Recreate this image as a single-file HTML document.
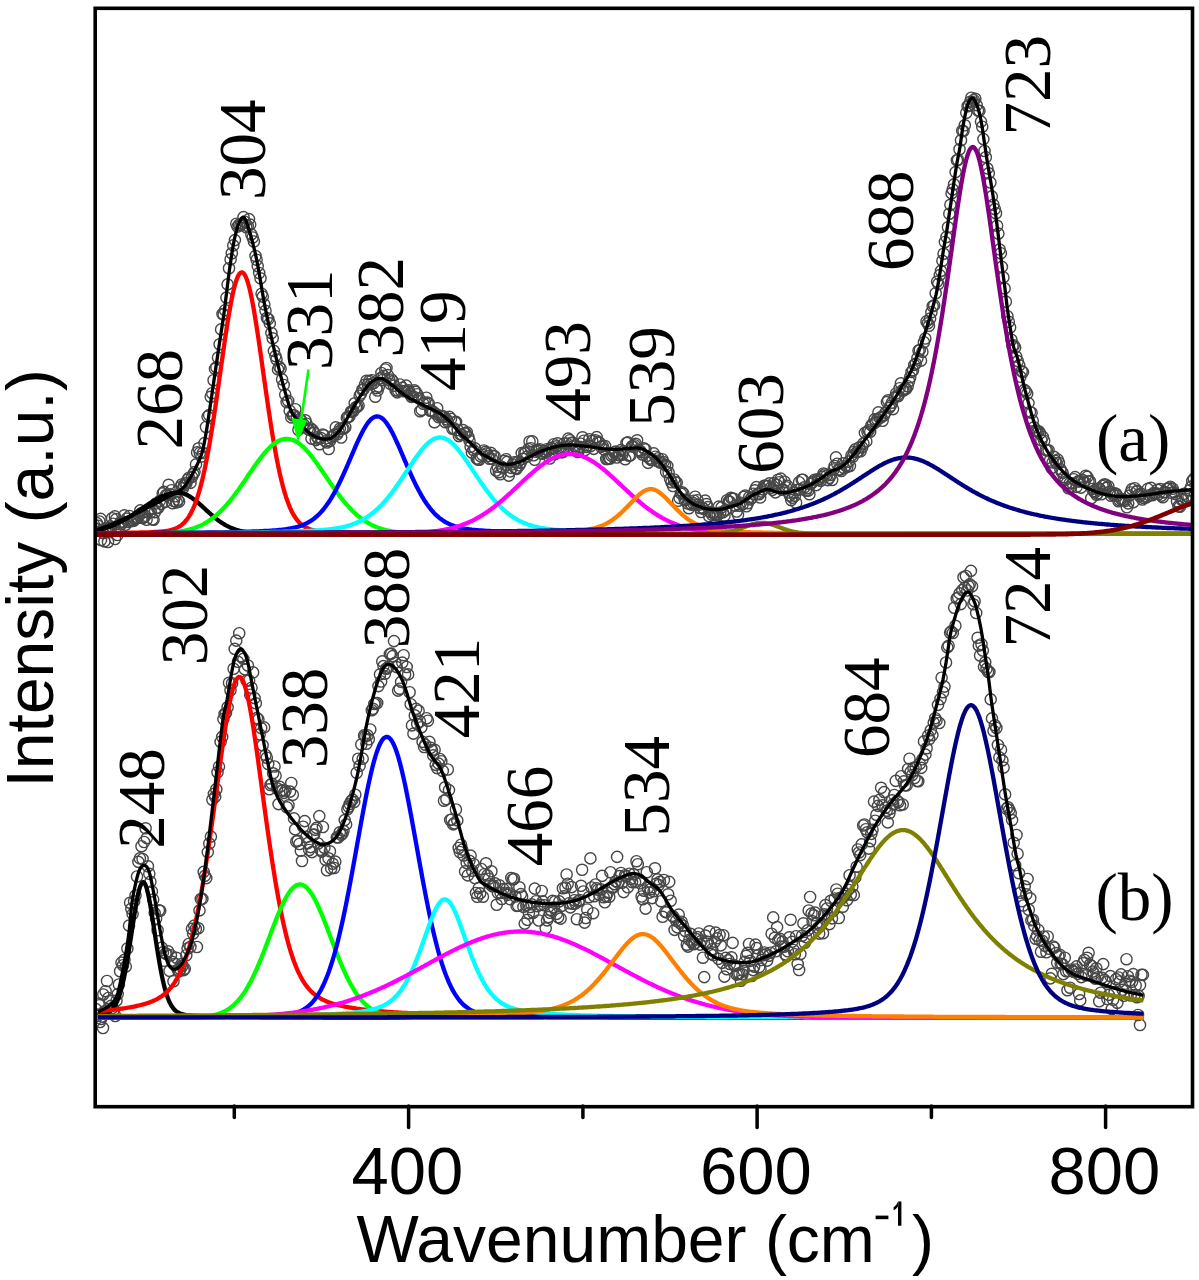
<!DOCTYPE html>
<html><head><meta charset="utf-8"><style>
html,body{margin:0;padding:0;background:#fff;}
svg{display:block;}
</style></head><body>
<svg width="1199" height="1280" viewBox="0 0 1199 1280">
<rect width="1199" height="1280" fill="#fff"/>
<defs><clipPath id="cp"><rect x="96" y="9" width="1095" height="1097"/></clipPath></defs>
<g clip-path="url(#cp)">
<g fill="none" stroke="#464646" stroke-width="1.4">
<circle cx="94.0" cy="524.8" r="5.6"/><circle cx="95.6" cy="529.0" r="5.6"/><circle cx="96.9" cy="523.1" r="5.6"/><circle cx="98.1" cy="525.7" r="5.6"/><circle cx="99.4" cy="521.5" r="5.6"/><circle cx="100.6" cy="518.9" r="5.6"/><circle cx="101.8" cy="530.2" r="5.6"/><circle cx="103.3" cy="533.0" r="5.6"/><circle cx="104.4" cy="541.4" r="5.6"/><circle cx="105.8" cy="532.4" r="5.6"/><circle cx="107.2" cy="529.4" r="5.6"/><circle cx="108.6" cy="527.9" r="5.6"/><circle cx="109.7" cy="527.5" r="5.6"/><circle cx="110.8" cy="529.0" r="5.6"/><circle cx="112.1" cy="518.2" r="5.6"/><circle cx="113.5" cy="523.7" r="5.6"/><circle cx="114.9" cy="516.4" r="5.6"/><circle cx="116.2" cy="519.1" r="5.6"/><circle cx="117.5" cy="535.0" r="5.6"/><circle cx="119.0" cy="527.4" r="5.6"/><circle cx="120.5" cy="522.3" r="5.6"/><circle cx="121.7" cy="523.7" r="5.6"/><circle cx="122.8" cy="521.7" r="5.6"/><circle cx="124.4" cy="515.3" r="5.6"/><circle cx="125.6" cy="524.8" r="5.6"/><circle cx="126.7" cy="518.6" r="5.6"/><circle cx="127.9" cy="521.9" r="5.6"/><circle cx="129.5" cy="516.0" r="5.6"/><circle cx="130.8" cy="521.3" r="5.6"/><circle cx="132.3" cy="520.7" r="5.6"/><circle cx="133.6" cy="520.8" r="5.6"/><circle cx="135.2" cy="519.1" r="5.6"/><circle cx="136.6" cy="518.3" r="5.6"/><circle cx="137.8" cy="517.5" r="5.6"/><circle cx="138.9" cy="515.4" r="5.6"/><circle cx="140.3" cy="510.4" r="5.6"/><circle cx="141.6" cy="513.0" r="5.6"/><circle cx="142.7" cy="518.1" r="5.6"/><circle cx="144.2" cy="517.0" r="5.6"/><circle cx="145.4" cy="515.8" r="5.6"/><circle cx="146.6" cy="519.8" r="5.6"/><circle cx="147.8" cy="512.0" r="5.6"/><circle cx="149.4" cy="510.1" r="5.6"/><circle cx="150.9" cy="512.1" r="5.6"/><circle cx="152.4" cy="519.3" r="5.6"/><circle cx="153.6" cy="519.7" r="5.6"/><circle cx="154.8" cy="512.2" r="5.6"/><circle cx="156.0" cy="503.5" r="5.6"/><circle cx="157.1" cy="507.9" r="5.6"/><circle cx="158.3" cy="507.9" r="5.6"/><circle cx="159.8" cy="500.9" r="5.6"/><circle cx="161.3" cy="503.9" r="5.6"/><circle cx="162.7" cy="493.4" r="5.6"/><circle cx="163.9" cy="491.9" r="5.6"/><circle cx="165.0" cy="501.9" r="5.6"/><circle cx="166.2" cy="495.0" r="5.6"/><circle cx="167.4" cy="495.1" r="5.6"/><circle cx="168.6" cy="484.8" r="5.6"/><circle cx="170.2" cy="494.3" r="5.6"/><circle cx="171.5" cy="490.2" r="5.6"/><circle cx="172.7" cy="503.2" r="5.6"/><circle cx="173.9" cy="501.0" r="5.6"/><circle cx="175.3" cy="496.3" r="5.6"/><circle cx="176.7" cy="502.4" r="5.6"/><circle cx="178.0" cy="499.9" r="5.6"/><circle cx="179.1" cy="501.6" r="5.6"/><circle cx="180.3" cy="487.3" r="5.6"/><circle cx="181.7" cy="484.5" r="5.6"/><circle cx="182.9" cy="488.4" r="5.6"/><circle cx="184.0" cy="485.5" r="5.6"/><circle cx="185.2" cy="483.2" r="5.6"/><circle cx="186.4" cy="483.3" r="5.6"/><circle cx="187.7" cy="479.5" r="5.6"/><circle cx="189.0" cy="477.7" r="5.6"/><circle cx="190.5" cy="482.9" r="5.6"/><circle cx="192.0" cy="476.9" r="5.6"/><circle cx="193.4" cy="474.1" r="5.6"/><circle cx="194.5" cy="472.1" r="5.6"/><circle cx="196.0" cy="464.4" r="5.6"/><circle cx="197.1" cy="452.4" r="5.6"/><circle cx="198.6" cy="448.3" r="5.6"/><circle cx="199.8" cy="453.0" r="5.6"/><circle cx="201.4" cy="456.6" r="5.6"/><circle cx="202.9" cy="453.0" r="5.6"/><circle cx="204.5" cy="443.1" r="5.6"/><circle cx="206.0" cy="427.0" r="5.6"/><circle cx="207.6" cy="416.6" r="5.6"/><circle cx="209.1" cy="415.1" r="5.6"/><circle cx="210.7" cy="396.8" r="5.6"/><circle cx="212.2" cy="393.2" r="5.6"/><circle cx="213.6" cy="380.2" r="5.6"/><circle cx="215.0" cy="368.9" r="5.6"/><circle cx="216.4" cy="367.2" r="5.6"/><circle cx="218.0" cy="357.6" r="5.6"/><circle cx="219.6" cy="344.3" r="5.6"/><circle cx="221.1" cy="329.4" r="5.6"/><circle cx="222.5" cy="314.0" r="5.6"/><circle cx="223.6" cy="314.4" r="5.6"/><circle cx="225.1" cy="310.2" r="5.6"/><circle cx="226.4" cy="297.6" r="5.6"/><circle cx="227.6" cy="284.4" r="5.6"/><circle cx="229.0" cy="268.2" r="5.6"/><circle cx="230.6" cy="259.4" r="5.6"/><circle cx="231.8" cy="253.3" r="5.6"/><circle cx="233.3" cy="245.4" r="5.6"/><circle cx="234.9" cy="240.1" r="5.6"/><circle cx="236.3" cy="223.7" r="5.6"/><circle cx="237.5" cy="226.6" r="5.6"/><circle cx="239.0" cy="224.6" r="5.6"/><circle cx="240.5" cy="225.3" r="5.6"/><circle cx="242.1" cy="223.6" r="5.6"/><circle cx="243.5" cy="217.1" r="5.6"/><circle cx="244.7" cy="221.7" r="5.6"/><circle cx="246.3" cy="227.2" r="5.6"/><circle cx="247.8" cy="226.1" r="5.6"/><circle cx="249.0" cy="219.1" r="5.6"/><circle cx="250.2" cy="224.6" r="5.6"/><circle cx="251.4" cy="234.4" r="5.6"/><circle cx="252.7" cy="237.5" r="5.6"/><circle cx="253.9" cy="241.5" r="5.6"/><circle cx="255.5" cy="256.0" r="5.6"/><circle cx="256.6" cy="259.7" r="5.6"/><circle cx="257.7" cy="266.1" r="5.6"/><circle cx="259.2" cy="273.0" r="5.6"/><circle cx="260.5" cy="278.3" r="5.6"/><circle cx="261.6" cy="293.7" r="5.6"/><circle cx="262.8" cy="296.6" r="5.6"/><circle cx="264.3" cy="304.4" r="5.6"/><circle cx="265.5" cy="310.8" r="5.6"/><circle cx="266.9" cy="318.0" r="5.6"/><circle cx="268.3" cy="319.0" r="5.6"/><circle cx="269.8" cy="323.4" r="5.6"/><circle cx="271.4" cy="333.0" r="5.6"/><circle cx="272.7" cy="338.3" r="5.6"/><circle cx="273.9" cy="350.9" r="5.6"/><circle cx="275.4" cy="356.1" r="5.6"/><circle cx="276.5" cy="359.5" r="5.6"/><circle cx="278.0" cy="369.4" r="5.6"/><circle cx="279.3" cy="366.9" r="5.6"/><circle cx="280.6" cy="368.8" r="5.6"/><circle cx="282.1" cy="379.4" r="5.6"/><circle cx="283.7" cy="385.0" r="5.6"/><circle cx="285.2" cy="394.6" r="5.6"/><circle cx="286.6" cy="402.1" r="5.6"/><circle cx="288.2" cy="400.9" r="5.6"/><circle cx="289.7" cy="410.7" r="5.6"/><circle cx="291.3" cy="417.4" r="5.6"/><circle cx="292.7" cy="415.3" r="5.6"/><circle cx="293.9" cy="415.0" r="5.6"/><circle cx="295.3" cy="409.2" r="5.6"/><circle cx="296.8" cy="417.5" r="5.6"/><circle cx="298.4" cy="429.7" r="5.6"/><circle cx="300.0" cy="419.5" r="5.6"/><circle cx="301.2" cy="420.8" r="5.6"/><circle cx="302.8" cy="427.1" r="5.6"/><circle cx="303.9" cy="424.7" r="5.6"/><circle cx="305.3" cy="420.3" r="5.6"/><circle cx="306.6" cy="423.7" r="5.6"/><circle cx="307.7" cy="428.7" r="5.6"/><circle cx="309.2" cy="429.9" r="5.6"/><circle cx="310.4" cy="428.2" r="5.6"/><circle cx="311.5" cy="438.6" r="5.6"/><circle cx="312.7" cy="430.1" r="5.6"/><circle cx="314.2" cy="432.8" r="5.6"/><circle cx="315.7" cy="440.1" r="5.6"/><circle cx="317.3" cy="437.4" r="5.6"/><circle cx="318.4" cy="438.9" r="5.6"/><circle cx="319.6" cy="444.2" r="5.6"/><circle cx="321.1" cy="438.1" r="5.6"/><circle cx="322.6" cy="434.5" r="5.6"/><circle cx="324.0" cy="435.3" r="5.6"/><circle cx="325.6" cy="441.4" r="5.6"/><circle cx="327.1" cy="442.5" r="5.6"/><circle cx="328.7" cy="449.0" r="5.6"/><circle cx="330.1" cy="440.7" r="5.6"/><circle cx="331.5" cy="437.5" r="5.6"/><circle cx="332.8" cy="436.0" r="5.6"/><circle cx="334.4" cy="434.6" r="5.6"/><circle cx="335.8" cy="427.4" r="5.6"/><circle cx="337.2" cy="434.4" r="5.6"/><circle cx="338.5" cy="431.8" r="5.6"/><circle cx="339.9" cy="428.6" r="5.6"/><circle cx="341.2" cy="437.5" r="5.6"/><circle cx="342.4" cy="428.4" r="5.6"/><circle cx="343.7" cy="428.6" r="5.6"/><circle cx="345.3" cy="427.3" r="5.6"/><circle cx="346.8" cy="417.8" r="5.6"/><circle cx="348.0" cy="416.8" r="5.6"/><circle cx="349.4" cy="416.5" r="5.6"/><circle cx="350.9" cy="411.8" r="5.6"/><circle cx="352.0" cy="411.1" r="5.6"/><circle cx="353.5" cy="411.1" r="5.6"/><circle cx="354.7" cy="403.3" r="5.6"/><circle cx="355.9" cy="407.3" r="5.6"/><circle cx="357.3" cy="406.7" r="5.6"/><circle cx="358.6" cy="405.6" r="5.6"/><circle cx="359.7" cy="395.7" r="5.6"/><circle cx="361.0" cy="393.5" r="5.6"/><circle cx="362.3" cy="389.8" r="5.6"/><circle cx="363.5" cy="389.2" r="5.6"/><circle cx="364.9" cy="384.7" r="5.6"/><circle cx="366.5" cy="380.8" r="5.6"/><circle cx="367.9" cy="384.4" r="5.6"/><circle cx="369.4" cy="380.8" r="5.6"/><circle cx="370.9" cy="384.2" r="5.6"/><circle cx="372.1" cy="380.2" r="5.6"/><circle cx="373.7" cy="383.0" r="5.6"/><circle cx="375.3" cy="396.7" r="5.6"/><circle cx="376.4" cy="388.1" r="5.6"/><circle cx="377.6" cy="390.5" r="5.6"/><circle cx="378.8" cy="386.7" r="5.6"/><circle cx="380.3" cy="378.4" r="5.6"/><circle cx="381.4" cy="373.0" r="5.6"/><circle cx="382.5" cy="380.0" r="5.6"/><circle cx="383.7" cy="375.9" r="5.6"/><circle cx="385.3" cy="369.5" r="5.6"/><circle cx="386.5" cy="368.0" r="5.6"/><circle cx="387.8" cy="375.1" r="5.6"/><circle cx="389.3" cy="380.2" r="5.6"/><circle cx="390.4" cy="383.9" r="5.6"/><circle cx="391.5" cy="379.5" r="5.6"/><circle cx="392.9" cy="381.4" r="5.6"/><circle cx="394.0" cy="385.7" r="5.6"/><circle cx="395.6" cy="390.3" r="5.6"/><circle cx="397.2" cy="392.4" r="5.6"/><circle cx="398.3" cy="390.9" r="5.6"/><circle cx="399.9" cy="384.5" r="5.6"/><circle cx="401.2" cy="390.8" r="5.6"/><circle cx="402.5" cy="387.9" r="5.6"/><circle cx="403.9" cy="391.2" r="5.6"/><circle cx="405.0" cy="391.0" r="5.6"/><circle cx="406.2" cy="385.6" r="5.6"/><circle cx="407.5" cy="391.4" r="5.6"/><circle cx="408.7" cy="390.3" r="5.6"/><circle cx="409.8" cy="393.8" r="5.6"/><circle cx="411.4" cy="396.9" r="5.6"/><circle cx="412.9" cy="396.3" r="5.6"/><circle cx="414.3" cy="390.3" r="5.6"/><circle cx="415.6" cy="391.8" r="5.6"/><circle cx="417.2" cy="394.2" r="5.6"/><circle cx="418.8" cy="398.3" r="5.6"/><circle cx="420.2" cy="411.2" r="5.6"/><circle cx="421.7" cy="409.9" r="5.6"/><circle cx="423.3" cy="403.7" r="5.6"/><circle cx="424.9" cy="402.5" r="5.6"/><circle cx="426.4" cy="397.7" r="5.6"/><circle cx="427.6" cy="402.5" r="5.6"/><circle cx="428.9" cy="403.8" r="5.6"/><circle cx="430.2" cy="410.7" r="5.6"/><circle cx="431.7" cy="410.6" r="5.6"/><circle cx="433.1" cy="411.7" r="5.6"/><circle cx="434.5" cy="422.2" r="5.6"/><circle cx="435.8" cy="413.8" r="5.6"/><circle cx="437.2" cy="408.2" r="5.6"/><circle cx="438.4" cy="417.1" r="5.6"/><circle cx="439.9" cy="415.7" r="5.6"/><circle cx="441.4" cy="416.5" r="5.6"/><circle cx="442.8" cy="416.3" r="5.6"/><circle cx="444.3" cy="416.8" r="5.6"/><circle cx="445.4" cy="422.2" r="5.6"/><circle cx="446.6" cy="419.4" r="5.6"/><circle cx="447.8" cy="421.5" r="5.6"/><circle cx="449.4" cy="416.9" r="5.6"/><circle cx="451.0" cy="419.0" r="5.6"/><circle cx="452.4" cy="428.8" r="5.6"/><circle cx="453.9" cy="428.2" r="5.6"/><circle cx="455.0" cy="422.3" r="5.6"/><circle cx="456.1" cy="421.9" r="5.6"/><circle cx="457.7" cy="430.0" r="5.6"/><circle cx="458.9" cy="436.1" r="5.6"/><circle cx="460.2" cy="434.4" r="5.6"/><circle cx="461.8" cy="434.6" r="5.6"/><circle cx="463.1" cy="430.1" r="5.6"/><circle cx="464.4" cy="433.3" r="5.6"/><circle cx="465.6" cy="433.3" r="5.6"/><circle cx="466.8" cy="432.2" r="5.6"/><circle cx="468.3" cy="437.0" r="5.6"/><circle cx="469.5" cy="440.8" r="5.6"/><circle cx="470.6" cy="446.7" r="5.6"/><circle cx="471.9" cy="452.5" r="5.6"/><circle cx="473.5" cy="450.1" r="5.6"/><circle cx="475.1" cy="448.4" r="5.6"/><circle cx="476.7" cy="458.5" r="5.6"/><circle cx="478.0" cy="459.6" r="5.6"/><circle cx="479.3" cy="459.7" r="5.6"/><circle cx="480.7" cy="456.3" r="5.6"/><circle cx="482.3" cy="454.9" r="5.6"/><circle cx="483.9" cy="450.5" r="5.6"/><circle cx="485.4" cy="451.9" r="5.6"/><circle cx="486.8" cy="453.3" r="5.6"/><circle cx="488.2" cy="456.1" r="5.6"/><circle cx="489.5" cy="458.8" r="5.6"/><circle cx="490.7" cy="452.8" r="5.6"/><circle cx="492.0" cy="458.8" r="5.6"/><circle cx="493.2" cy="455.7" r="5.6"/><circle cx="494.7" cy="456.4" r="5.6"/><circle cx="496.1" cy="470.5" r="5.6"/><circle cx="497.6" cy="466.7" r="5.6"/><circle cx="498.8" cy="472.2" r="5.6"/><circle cx="500.3" cy="474.3" r="5.6"/><circle cx="501.7" cy="466.9" r="5.6"/><circle cx="503.1" cy="468.4" r="5.6"/><circle cx="504.5" cy="461.0" r="5.6"/><circle cx="506.0" cy="459.2" r="5.6"/><circle cx="507.2" cy="461.9" r="5.6"/><circle cx="508.8" cy="475.6" r="5.6"/><circle cx="510.3" cy="471.4" r="5.6"/><circle cx="511.5" cy="468.0" r="5.6"/><circle cx="512.9" cy="464.3" r="5.6"/><circle cx="514.2" cy="462.3" r="5.6"/><circle cx="515.4" cy="468.4" r="5.6"/><circle cx="516.7" cy="468.9" r="5.6"/><circle cx="518.1" cy="461.8" r="5.6"/><circle cx="519.3" cy="465.3" r="5.6"/><circle cx="520.6" cy="462.9" r="5.6"/><circle cx="521.7" cy="453.1" r="5.6"/><circle cx="522.9" cy="458.8" r="5.6"/><circle cx="524.4" cy="453.0" r="5.6"/><circle cx="525.6" cy="452.6" r="5.6"/><circle cx="527.1" cy="456.6" r="5.6"/><circle cx="528.4" cy="449.0" r="5.6"/><circle cx="529.6" cy="441.5" r="5.6"/><circle cx="531.0" cy="448.2" r="5.6"/><circle cx="532.3" cy="441.4" r="5.6"/><circle cx="533.6" cy="455.3" r="5.6"/><circle cx="534.7" cy="459.8" r="5.6"/><circle cx="535.8" cy="451.7" r="5.6"/><circle cx="537.3" cy="449.9" r="5.6"/><circle cx="538.5" cy="451.1" r="5.6"/><circle cx="539.7" cy="449.4" r="5.6"/><circle cx="541.2" cy="453.4" r="5.6"/><circle cx="542.6" cy="453.6" r="5.6"/><circle cx="544.1" cy="451.1" r="5.6"/><circle cx="545.4" cy="452.7" r="5.6"/><circle cx="546.8" cy="449.2" r="5.6"/><circle cx="548.3" cy="450.5" r="5.6"/><circle cx="549.7" cy="458.5" r="5.6"/><circle cx="551.2" cy="447.8" r="5.6"/><circle cx="552.6" cy="448.7" r="5.6"/><circle cx="553.8" cy="444.2" r="5.6"/><circle cx="555.1" cy="454.1" r="5.6"/><circle cx="556.3" cy="446.4" r="5.6"/><circle cx="557.6" cy="443.3" r="5.6"/><circle cx="558.9" cy="447.7" r="5.6"/><circle cx="560.2" cy="448.6" r="5.6"/><circle cx="561.7" cy="452.4" r="5.6"/><circle cx="563.1" cy="451.8" r="5.6"/><circle cx="564.2" cy="443.5" r="5.6"/><circle cx="565.7" cy="447.0" r="5.6"/><circle cx="566.8" cy="443.5" r="5.6"/><circle cx="568.2" cy="438.6" r="5.6"/><circle cx="569.8" cy="440.2" r="5.6"/><circle cx="571.2" cy="443.2" r="5.6"/><circle cx="572.6" cy="442.6" r="5.6"/><circle cx="574.1" cy="445.6" r="5.6"/><circle cx="575.6" cy="446.5" r="5.6"/><circle cx="577.1" cy="451.6" r="5.6"/><circle cx="578.3" cy="451.9" r="5.6"/><circle cx="579.8" cy="446.9" r="5.6"/><circle cx="581.0" cy="443.7" r="5.6"/><circle cx="582.5" cy="437.3" r="5.6"/><circle cx="583.8" cy="440.7" r="5.6"/><circle cx="585.0" cy="450.1" r="5.6"/><circle cx="586.4" cy="446.9" r="5.6"/><circle cx="587.7" cy="445.5" r="5.6"/><circle cx="589.3" cy="439.2" r="5.6"/><circle cx="590.6" cy="446.1" r="5.6"/><circle cx="592.2" cy="440.8" r="5.6"/><circle cx="593.7" cy="448.9" r="5.6"/><circle cx="595.3" cy="440.2" r="5.6"/><circle cx="596.7" cy="437.1" r="5.6"/><circle cx="598.2" cy="441.6" r="5.6"/><circle cx="599.5" cy="442.8" r="5.6"/><circle cx="601.0" cy="446.9" r="5.6"/><circle cx="602.6" cy="445.9" r="5.6"/><circle cx="603.8" cy="449.3" r="5.6"/><circle cx="605.1" cy="446.0" r="5.6"/><circle cx="606.2" cy="459.0" r="5.6"/><circle cx="607.5" cy="459.0" r="5.6"/><circle cx="609.0" cy="458.4" r="5.6"/><circle cx="610.2" cy="458.5" r="5.6"/><circle cx="611.5" cy="455.8" r="5.6"/><circle cx="613.1" cy="454.7" r="5.6"/><circle cx="614.3" cy="452.5" r="5.6"/><circle cx="615.5" cy="451.6" r="5.6"/><circle cx="616.9" cy="457.5" r="5.6"/><circle cx="618.1" cy="454.8" r="5.6"/><circle cx="619.3" cy="455.4" r="5.6"/><circle cx="620.8" cy="450.1" r="5.6"/><circle cx="622.3" cy="454.8" r="5.6"/><circle cx="623.6" cy="451.1" r="5.6"/><circle cx="625.2" cy="459.2" r="5.6"/><circle cx="626.5" cy="443.0" r="5.6"/><circle cx="627.8" cy="442.4" r="5.6"/><circle cx="629.0" cy="455.7" r="5.6"/><circle cx="630.5" cy="455.3" r="5.6"/><circle cx="631.8" cy="446.4" r="5.6"/><circle cx="633.0" cy="446.2" r="5.6"/><circle cx="634.6" cy="445.2" r="5.6"/><circle cx="635.7" cy="443.8" r="5.6"/><circle cx="637.1" cy="440.3" r="5.6"/><circle cx="638.5" cy="450.0" r="5.6"/><circle cx="639.9" cy="450.7" r="5.6"/><circle cx="641.2" cy="452.1" r="5.6"/><circle cx="642.4" cy="454.5" r="5.6"/><circle cx="643.8" cy="448.4" r="5.6"/><circle cx="645.4" cy="449.3" r="5.6"/><circle cx="646.6" cy="456.1" r="5.6"/><circle cx="648.1" cy="462.9" r="5.6"/><circle cx="649.6" cy="458.5" r="5.6"/><circle cx="651.2" cy="460.0" r="5.6"/><circle cx="652.6" cy="459.9" r="5.6"/><circle cx="653.8" cy="453.4" r="5.6"/><circle cx="655.4" cy="456.7" r="5.6"/><circle cx="656.8" cy="460.7" r="5.6"/><circle cx="658.3" cy="458.2" r="5.6"/><circle cx="659.6" cy="462.2" r="5.6"/><circle cx="661.1" cy="462.7" r="5.6"/><circle cx="662.3" cy="459.2" r="5.6"/><circle cx="663.5" cy="462.1" r="5.6"/><circle cx="665.0" cy="464.9" r="5.6"/><circle cx="666.1" cy="472.0" r="5.6"/><circle cx="667.3" cy="465.9" r="5.6"/><circle cx="668.6" cy="472.4" r="5.6"/><circle cx="670.1" cy="478.9" r="5.6"/><circle cx="671.4" cy="482.3" r="5.6"/><circle cx="673.0" cy="486.0" r="5.6"/><circle cx="674.1" cy="479.5" r="5.6"/><circle cx="675.4" cy="482.4" r="5.6"/><circle cx="676.8" cy="482.6" r="5.6"/><circle cx="678.1" cy="500.8" r="5.6"/><circle cx="679.6" cy="498.0" r="5.6"/><circle cx="680.8" cy="493.4" r="5.6"/><circle cx="682.1" cy="492.2" r="5.6"/><circle cx="683.4" cy="493.6" r="5.6"/><circle cx="684.7" cy="500.0" r="5.6"/><circle cx="686.2" cy="499.9" r="5.6"/><circle cx="687.7" cy="503.5" r="5.6"/><circle cx="688.9" cy="508.2" r="5.6"/><circle cx="690.4" cy="503.8" r="5.6"/><circle cx="691.6" cy="504.7" r="5.6"/><circle cx="692.8" cy="502.8" r="5.6"/><circle cx="693.9" cy="500.7" r="5.6"/><circle cx="695.1" cy="496.7" r="5.6"/><circle cx="696.4" cy="504.5" r="5.6"/><circle cx="697.5" cy="500.2" r="5.6"/><circle cx="698.7" cy="504.8" r="5.6"/><circle cx="700.0" cy="508.0" r="5.6"/><circle cx="701.2" cy="512.0" r="5.6"/><circle cx="702.5" cy="507.8" r="5.6"/><circle cx="703.9" cy="509.0" r="5.6"/><circle cx="705.2" cy="500.6" r="5.6"/><circle cx="706.5" cy="504.1" r="5.6"/><circle cx="707.8" cy="507.1" r="5.6"/><circle cx="709.2" cy="516.2" r="5.6"/><circle cx="710.7" cy="512.0" r="5.6"/><circle cx="712.1" cy="514.8" r="5.6"/><circle cx="713.3" cy="512.7" r="5.6"/><circle cx="714.8" cy="514.6" r="5.6"/><circle cx="716.1" cy="514.8" r="5.6"/><circle cx="717.6" cy="515.0" r="5.6"/><circle cx="718.8" cy="506.6" r="5.6"/><circle cx="720.3" cy="512.5" r="5.6"/><circle cx="721.6" cy="507.4" r="5.6"/><circle cx="722.9" cy="512.4" r="5.6"/><circle cx="724.5" cy="515.7" r="5.6"/><circle cx="725.9" cy="509.8" r="5.6"/><circle cx="727.1" cy="500.2" r="5.6"/><circle cx="728.7" cy="501.4" r="5.6"/><circle cx="729.8" cy="501.8" r="5.6"/><circle cx="731.0" cy="497.8" r="5.6"/><circle cx="732.3" cy="498.6" r="5.6"/><circle cx="733.8" cy="498.7" r="5.6"/><circle cx="735.0" cy="505.8" r="5.6"/><circle cx="736.6" cy="511.5" r="5.6"/><circle cx="738.0" cy="515.0" r="5.6"/><circle cx="739.4" cy="505.8" r="5.6"/><circle cx="740.9" cy="502.7" r="5.6"/><circle cx="742.5" cy="504.4" r="5.6"/><circle cx="743.7" cy="496.8" r="5.6"/><circle cx="745.2" cy="495.6" r="5.6"/><circle cx="746.4" cy="506.3" r="5.6"/><circle cx="747.8" cy="503.2" r="5.6"/><circle cx="749.2" cy="497.2" r="5.6"/><circle cx="750.3" cy="499.4" r="5.6"/><circle cx="751.9" cy="497.7" r="5.6"/><circle cx="753.5" cy="493.7" r="5.6"/><circle cx="755.0" cy="490.3" r="5.6"/><circle cx="756.4" cy="487.1" r="5.6"/><circle cx="757.9" cy="493.6" r="5.6"/><circle cx="759.0" cy="494.3" r="5.6"/><circle cx="760.2" cy="497.5" r="5.6"/><circle cx="761.5" cy="491.5" r="5.6"/><circle cx="762.8" cy="489.4" r="5.6"/><circle cx="764.1" cy="485.7" r="5.6"/><circle cx="765.5" cy="485.7" r="5.6"/><circle cx="766.6" cy="486.2" r="5.6"/><circle cx="768.2" cy="485.7" r="5.6"/><circle cx="769.6" cy="483.3" r="5.6"/><circle cx="771.0" cy="487.8" r="5.6"/><circle cx="772.5" cy="489.9" r="5.6"/><circle cx="773.8" cy="483.3" r="5.6"/><circle cx="775.4" cy="492.4" r="5.6"/><circle cx="776.7" cy="484.8" r="5.6"/><circle cx="778.0" cy="479.7" r="5.6"/><circle cx="779.4" cy="482.2" r="5.6"/><circle cx="780.8" cy="478.6" r="5.6"/><circle cx="782.0" cy="489.7" r="5.6"/><circle cx="783.1" cy="489.8" r="5.6"/><circle cx="784.6" cy="481.7" r="5.6"/><circle cx="786.0" cy="487.2" r="5.6"/><circle cx="787.4" cy="485.9" r="5.6"/><circle cx="788.5" cy="492.5" r="5.6"/><circle cx="789.9" cy="495.6" r="5.6"/><circle cx="791.2" cy="500.1" r="5.6"/><circle cx="792.5" cy="497.8" r="5.6"/><circle cx="793.7" cy="492.7" r="5.6"/><circle cx="794.9" cy="495.7" r="5.6"/><circle cx="796.1" cy="502.8" r="5.6"/><circle cx="797.5" cy="489.9" r="5.6"/><circle cx="799.1" cy="482.2" r="5.6"/><circle cx="800.3" cy="489.2" r="5.6"/><circle cx="801.7" cy="479.7" r="5.6"/><circle cx="802.9" cy="479.7" r="5.6"/><circle cx="804.4" cy="487.3" r="5.6"/><circle cx="806.0" cy="490.7" r="5.6"/><circle cx="807.1" cy="488.4" r="5.6"/><circle cx="808.3" cy="490.6" r="5.6"/><circle cx="809.4" cy="494.2" r="5.6"/><circle cx="810.7" cy="484.0" r="5.6"/><circle cx="812.0" cy="482.5" r="5.6"/><circle cx="813.1" cy="481.9" r="5.6"/><circle cx="814.6" cy="479.8" r="5.6"/><circle cx="816.2" cy="485.1" r="5.6"/><circle cx="817.8" cy="479.2" r="5.6"/><circle cx="819.1" cy="479.5" r="5.6"/><circle cx="820.7" cy="480.9" r="5.6"/><circle cx="822.2" cy="476.9" r="5.6"/><circle cx="823.5" cy="473.5" r="5.6"/><circle cx="825.0" cy="474.3" r="5.6"/><circle cx="826.6" cy="475.6" r="5.6"/><circle cx="827.8" cy="480.1" r="5.6"/><circle cx="829.4" cy="477.8" r="5.6"/><circle cx="830.8" cy="474.9" r="5.6"/><circle cx="832.1" cy="480.0" r="5.6"/><circle cx="833.6" cy="469.5" r="5.6"/><circle cx="834.7" cy="466.0" r="5.6"/><circle cx="836.0" cy="457.4" r="5.6"/><circle cx="837.2" cy="463.7" r="5.6"/><circle cx="838.6" cy="469.5" r="5.6"/><circle cx="839.8" cy="469.8" r="5.6"/><circle cx="841.2" cy="471.0" r="5.6"/><circle cx="842.8" cy="463.4" r="5.6"/><circle cx="844.3" cy="468.2" r="5.6"/><circle cx="845.7" cy="465.7" r="5.6"/><circle cx="847.3" cy="466.7" r="5.6"/><circle cx="848.7" cy="461.6" r="5.6"/><circle cx="849.9" cy="466.0" r="5.6"/><circle cx="851.5" cy="455.5" r="5.6"/><circle cx="852.8" cy="456.7" r="5.6"/><circle cx="853.9" cy="451.8" r="5.6"/><circle cx="855.2" cy="449.4" r="5.6"/><circle cx="856.7" cy="452.2" r="5.6"/><circle cx="858.2" cy="451.4" r="5.6"/><circle cx="859.4" cy="447.3" r="5.6"/><circle cx="860.5" cy="451.2" r="5.6"/><circle cx="862.1" cy="447.4" r="5.6"/><circle cx="863.4" cy="443.5" r="5.6"/><circle cx="864.9" cy="432.9" r="5.6"/><circle cx="866.3" cy="441.4" r="5.6"/><circle cx="867.5" cy="432.0" r="5.6"/><circle cx="868.7" cy="430.3" r="5.6"/><circle cx="870.2" cy="431.7" r="5.6"/><circle cx="871.5" cy="425.2" r="5.6"/><circle cx="873.1" cy="424.0" r="5.6"/><circle cx="874.6" cy="419.4" r="5.6"/><circle cx="875.8" cy="422.1" r="5.6"/><circle cx="877.2" cy="419.2" r="5.6"/><circle cx="878.4" cy="412.4" r="5.6"/><circle cx="879.9" cy="417.8" r="5.6"/><circle cx="881.4" cy="417.1" r="5.6"/><circle cx="882.6" cy="420.8" r="5.6"/><circle cx="884.0" cy="415.2" r="5.6"/><circle cx="885.4" cy="412.6" r="5.6"/><circle cx="886.9" cy="402.1" r="5.6"/><circle cx="888.1" cy="400.3" r="5.6"/><circle cx="889.3" cy="407.9" r="5.6"/><circle cx="890.6" cy="405.9" r="5.6"/><circle cx="891.9" cy="402.7" r="5.6"/><circle cx="893.0" cy="409.1" r="5.6"/><circle cx="894.6" cy="397.6" r="5.6"/><circle cx="896.1" cy="393.5" r="5.6"/><circle cx="897.3" cy="395.3" r="5.6"/><circle cx="898.4" cy="396.1" r="5.6"/><circle cx="899.6" cy="388.2" r="5.6"/><circle cx="900.9" cy="383.3" r="5.6"/><circle cx="902.3" cy="390.4" r="5.6"/><circle cx="903.4" cy="390.5" r="5.6"/><circle cx="904.7" cy="388.9" r="5.6"/><circle cx="906.2" cy="388.9" r="5.6"/><circle cx="907.7" cy="386.2" r="5.6"/><circle cx="909.0" cy="381.3" r="5.6"/><circle cx="910.2" cy="377.3" r="5.6"/><circle cx="911.5" cy="372.0" r="5.6"/><circle cx="913.0" cy="370.2" r="5.6"/><circle cx="914.3" cy="364.9" r="5.6"/><circle cx="915.8" cy="363.6" r="5.6"/><circle cx="917.4" cy="358.2" r="5.6"/><circle cx="918.5" cy="350.6" r="5.6"/><circle cx="919.8" cy="350.1" r="5.6"/><circle cx="921.0" cy="360.6" r="5.6"/><circle cx="922.4" cy="351.7" r="5.6"/><circle cx="923.9" cy="342.2" r="5.6"/><circle cx="925.3" cy="338.5" r="5.6"/><circle cx="926.5" cy="321.4" r="5.6"/><circle cx="927.8" cy="323.3" r="5.6"/><circle cx="929.0" cy="325.8" r="5.6"/><circle cx="930.1" cy="318.6" r="5.6"/><circle cx="931.4" cy="312.2" r="5.6"/><circle cx="932.7" cy="306.3" r="5.6"/><circle cx="934.2" cy="305.4" r="5.6"/><circle cx="935.7" cy="293.2" r="5.6"/><circle cx="937.1" cy="281.6" r="5.6"/><circle cx="938.3" cy="284.0" r="5.6"/><circle cx="939.8" cy="275.1" r="5.6"/><circle cx="941.0" cy="270.9" r="5.6"/><circle cx="942.4" cy="260.8" r="5.6"/><circle cx="943.6" cy="253.8" r="5.6"/><circle cx="944.9" cy="242.0" r="5.6"/><circle cx="946.5" cy="237.0" r="5.6"/><circle cx="948.0" cy="227.2" r="5.6"/><circle cx="949.3" cy="213.7" r="5.6"/><circle cx="950.4" cy="204.8" r="5.6"/><circle cx="951.6" cy="193.4" r="5.6"/><circle cx="952.7" cy="189.5" r="5.6"/><circle cx="954.0" cy="184.4" r="5.6"/><circle cx="955.6" cy="172.1" r="5.6"/><circle cx="956.9" cy="160.3" r="5.6"/><circle cx="958.0" cy="159.7" r="5.6"/><circle cx="959.5" cy="149.3" r="5.6"/><circle cx="961.0" cy="140.3" r="5.6"/><circle cx="962.2" cy="130.8" r="5.6"/><circle cx="963.5" cy="131.1" r="5.6"/><circle cx="964.8" cy="125.3" r="5.6"/><circle cx="966.3" cy="112.8" r="5.6"/><circle cx="967.6" cy="106.3" r="5.6"/><circle cx="968.8" cy="105.2" r="5.6"/><circle cx="970.2" cy="101.8" r="5.6"/><circle cx="971.3" cy="97.7" r="5.6"/><circle cx="972.7" cy="102.1" r="5.6"/><circle cx="973.8" cy="100.2" r="5.6"/><circle cx="975.3" cy="98.8" r="5.6"/><circle cx="976.7" cy="105.1" r="5.6"/><circle cx="978.0" cy="110.6" r="5.6"/><circle cx="979.4" cy="110.7" r="5.6"/><circle cx="981.0" cy="121.6" r="5.6"/><circle cx="982.2" cy="126.7" r="5.6"/><circle cx="983.4" cy="139.1" r="5.6"/><circle cx="984.5" cy="151.0" r="5.6"/><circle cx="985.8" cy="157.2" r="5.6"/><circle cx="987.4" cy="168.4" r="5.6"/><circle cx="988.8" cy="173.3" r="5.6"/><circle cx="990.4" cy="182.5" r="5.6"/><circle cx="991.8" cy="196.4" r="5.6"/><circle cx="993.4" cy="204.8" r="5.6"/><circle cx="994.8" cy="209.1" r="5.6"/><circle cx="996.0" cy="213.2" r="5.6"/><circle cx="997.1" cy="225.8" r="5.6"/><circle cx="998.4" cy="233.6" r="5.6"/><circle cx="999.6" cy="249.5" r="5.6"/><circle cx="1000.8" cy="253.2" r="5.6"/><circle cx="1001.9" cy="266.9" r="5.6"/><circle cx="1003.4" cy="277.4" r="5.6"/><circle cx="1004.6" cy="288.4" r="5.6"/><circle cx="1005.9" cy="301.6" r="5.6"/><circle cx="1007.4" cy="316.2" r="5.6"/><circle cx="1008.8" cy="321.8" r="5.6"/><circle cx="1010.1" cy="327.5" r="5.6"/><circle cx="1011.4" cy="339.7" r="5.6"/><circle cx="1012.5" cy="345.9" r="5.6"/><circle cx="1013.8" cy="345.4" r="5.6"/><circle cx="1015.1" cy="347.5" r="5.6"/><circle cx="1016.3" cy="356.6" r="5.6"/><circle cx="1017.8" cy="361.1" r="5.6"/><circle cx="1019.2" cy="365.3" r="5.6"/><circle cx="1020.4" cy="376.8" r="5.6"/><circle cx="1021.7" cy="371.2" r="5.6"/><circle cx="1023.0" cy="372.1" r="5.6"/><circle cx="1024.4" cy="389.9" r="5.6"/><circle cx="1025.8" cy="391.4" r="5.6"/><circle cx="1027.2" cy="393.6" r="5.6"/><circle cx="1028.5" cy="403.1" r="5.6"/><circle cx="1030.0" cy="411.9" r="5.6"/><circle cx="1031.6" cy="412.7" r="5.6"/><circle cx="1032.7" cy="420.7" r="5.6"/><circle cx="1033.9" cy="427.3" r="5.6"/><circle cx="1035.2" cy="430.9" r="5.6"/><circle cx="1036.4" cy="431.1" r="5.6"/><circle cx="1037.6" cy="431.6" r="5.6"/><circle cx="1038.7" cy="431.3" r="5.6"/><circle cx="1040.0" cy="433.3" r="5.6"/><circle cx="1041.4" cy="440.3" r="5.6"/><circle cx="1042.8" cy="437.0" r="5.6"/><circle cx="1044.2" cy="440.7" r="5.6"/><circle cx="1045.7" cy="449.8" r="5.6"/><circle cx="1047.0" cy="450.5" r="5.6"/><circle cx="1048.6" cy="450.3" r="5.6"/><circle cx="1050.0" cy="460.5" r="5.6"/><circle cx="1051.5" cy="468.1" r="5.6"/><circle cx="1052.6" cy="462.5" r="5.6"/><circle cx="1054.0" cy="456.8" r="5.6"/><circle cx="1055.3" cy="460.9" r="5.6"/><circle cx="1056.6" cy="463.2" r="5.6"/><circle cx="1057.8" cy="459.6" r="5.6"/><circle cx="1059.0" cy="462.8" r="5.6"/><circle cx="1060.3" cy="469.0" r="5.6"/><circle cx="1061.5" cy="471.6" r="5.6"/><circle cx="1062.6" cy="472.7" r="5.6"/><circle cx="1064.1" cy="477.2" r="5.6"/><circle cx="1065.6" cy="479.7" r="5.6"/><circle cx="1066.9" cy="483.0" r="5.6"/><circle cx="1068.5" cy="488.3" r="5.6"/><circle cx="1069.6" cy="483.4" r="5.6"/><circle cx="1071.1" cy="487.1" r="5.6"/><circle cx="1072.4" cy="483.2" r="5.6"/><circle cx="1073.8" cy="479.2" r="5.6"/><circle cx="1075.1" cy="477.1" r="5.6"/><circle cx="1076.6" cy="486.9" r="5.6"/><circle cx="1078.2" cy="481.4" r="5.6"/><circle cx="1079.6" cy="481.4" r="5.6"/><circle cx="1081.0" cy="487.6" r="5.6"/><circle cx="1082.2" cy="479.9" r="5.6"/><circle cx="1083.5" cy="481.9" r="5.6"/><circle cx="1084.6" cy="481.9" r="5.6"/><circle cx="1085.7" cy="475.8" r="5.6"/><circle cx="1087.3" cy="476.9" r="5.6"/><circle cx="1088.5" cy="481.3" r="5.6"/><circle cx="1089.9" cy="481.3" r="5.6"/><circle cx="1091.2" cy="498.2" r="5.6"/><circle cx="1092.3" cy="489.0" r="5.6"/><circle cx="1093.8" cy="491.2" r="5.6"/><circle cx="1095.0" cy="492.4" r="5.6"/><circle cx="1096.5" cy="494.7" r="5.6"/><circle cx="1097.7" cy="493.6" r="5.6"/><circle cx="1098.8" cy="488.3" r="5.6"/><circle cx="1100.1" cy="489.5" r="5.6"/><circle cx="1101.4" cy="494.3" r="5.6"/><circle cx="1102.6" cy="486.0" r="5.6"/><circle cx="1103.9" cy="484.6" r="5.6"/><circle cx="1105.5" cy="484.5" r="5.6"/><circle cx="1106.8" cy="487.8" r="5.6"/><circle cx="1108.3" cy="486.3" r="5.6"/><circle cx="1109.5" cy="491.9" r="5.6"/><circle cx="1111.0" cy="495.7" r="5.6"/><circle cx="1112.3" cy="493.5" r="5.6"/><circle cx="1113.5" cy="495.0" r="5.6"/><circle cx="1114.6" cy="493.3" r="5.6"/><circle cx="1116.0" cy="493.8" r="5.6"/><circle cx="1117.3" cy="495.8" r="5.6"/><circle cx="1118.5" cy="501.3" r="5.6"/><circle cx="1119.8" cy="500.4" r="5.6"/><circle cx="1121.3" cy="499.0" r="5.6"/><circle cx="1122.6" cy="500.3" r="5.6"/><circle cx="1123.9" cy="499.8" r="5.6"/><circle cx="1125.5" cy="500.8" r="5.6"/><circle cx="1126.9" cy="507.3" r="5.6"/><circle cx="1128.2" cy="503.4" r="5.6"/><circle cx="1129.3" cy="495.6" r="5.6"/><circle cx="1130.7" cy="492.5" r="5.6"/><circle cx="1131.9" cy="489.1" r="5.6"/><circle cx="1133.5" cy="502.1" r="5.6"/><circle cx="1134.8" cy="488.2" r="5.6"/><circle cx="1136.3" cy="491.6" r="5.6"/><circle cx="1137.4" cy="490.9" r="5.6"/><circle cx="1138.6" cy="494.6" r="5.6"/><circle cx="1139.9" cy="496.3" r="5.6"/><circle cx="1141.3" cy="493.8" r="5.6"/><circle cx="1142.4" cy="499.5" r="5.6"/><circle cx="1143.6" cy="498.0" r="5.6"/><circle cx="1145.0" cy="496.3" r="5.6"/><circle cx="1146.5" cy="497.4" r="5.6"/><circle cx="1147.8" cy="488.9" r="5.6"/><circle cx="1149.3" cy="495.2" r="5.6"/><circle cx="1150.9" cy="487.8" r="5.6"/><circle cx="1152.1" cy="495.3" r="5.6"/><circle cx="1153.5" cy="493.1" r="5.6"/><circle cx="1154.7" cy="494.1" r="5.6"/><circle cx="1156.1" cy="493.2" r="5.6"/><circle cx="1157.3" cy="489.8" r="5.6"/><circle cx="1158.8" cy="494.1" r="5.6"/><circle cx="1160.3" cy="489.1" r="5.6"/><circle cx="1161.6" cy="495.6" r="5.6"/><circle cx="1162.8" cy="497.2" r="5.6"/><circle cx="1163.9" cy="492.4" r="5.6"/><circle cx="1165.2" cy="492.0" r="5.6"/><circle cx="1166.7" cy="488.8" r="5.6"/><circle cx="1168.0" cy="489.0" r="5.6"/><circle cx="1169.2" cy="487.7" r="5.6"/><circle cx="1170.3" cy="486.7" r="5.6"/><circle cx="1171.4" cy="492.9" r="5.6"/><circle cx="1172.8" cy="488.8" r="5.6"/><circle cx="1174.1" cy="492.1" r="5.6"/><circle cx="1175.7" cy="494.1" r="5.6"/><circle cx="1177.0" cy="501.3" r="5.6"/><circle cx="1178.5" cy="506.3" r="5.6"/><circle cx="1179.8" cy="506.8" r="5.6"/><circle cx="1181.4" cy="499.5" r="5.6"/><circle cx="1182.8" cy="499.4" r="5.6"/><circle cx="1184.0" cy="493.8" r="5.6"/><circle cx="1185.6" cy="498.6" r="5.6"/><circle cx="1186.9" cy="496.0" r="5.6"/><circle cx="1188.5" cy="496.7" r="5.6"/><circle cx="1189.6" cy="490.3" r="5.6"/><circle cx="1191.1" cy="486.6" r="5.6"/><circle cx="1192.3" cy="481.0" r="5.6"/><circle cx="1193.8" cy="479.0" r="5.6"/><circle cx="101.0" cy="540.0" r="5.6"/><circle cx="108.0" cy="542.0" r="5.6"/><circle cx="115.0" cy="539.0" r="5.6"/>
<circle cx="96.0" cy="1009.1" r="5.6"/><circle cx="97.4" cy="1016.0" r="5.6"/><circle cx="98.6" cy="1003.6" r="5.6"/><circle cx="99.7" cy="1005.2" r="5.6"/><circle cx="101.0" cy="1019.0" r="5.6"/><circle cx="102.1" cy="1016.5" r="5.6"/><circle cx="103.3" cy="994.5" r="5.6"/><circle cx="104.4" cy="1011.3" r="5.6"/><circle cx="105.6" cy="991.2" r="5.6"/><circle cx="107.0" cy="981.0" r="5.6"/><circle cx="108.3" cy="998.0" r="5.6"/><circle cx="109.8" cy="1001.1" r="5.6"/><circle cx="111.1" cy="1005.8" r="5.6"/><circle cx="112.3" cy="1008.0" r="5.6"/><circle cx="113.8" cy="1009.7" r="5.6"/><circle cx="115.3" cy="1016.0" r="5.6"/><circle cx="116.5" cy="1000.6" r="5.6"/><circle cx="117.7" cy="994.1" r="5.6"/><circle cx="118.9" cy="984.5" r="5.6"/><circle cx="120.1" cy="971.2" r="5.6"/><circle cx="121.5" cy="962.6" r="5.6"/><circle cx="123.0" cy="965.2" r="5.6"/><circle cx="124.5" cy="959.8" r="5.6"/><circle cx="125.8" cy="966.6" r="5.6"/><circle cx="127.4" cy="948.5" r="5.6"/><circle cx="129.0" cy="925.6" r="5.6"/><circle cx="130.1" cy="902.7" r="5.6"/><circle cx="131.3" cy="908.7" r="5.6"/><circle cx="132.6" cy="914.1" r="5.6"/><circle cx="134.1" cy="901.3" r="5.6"/><circle cx="135.5" cy="895.5" r="5.6"/><circle cx="137.0" cy="876.5" r="5.6"/><circle cx="138.4" cy="861.9" r="5.6"/><circle cx="139.9" cy="858.4" r="5.6"/><circle cx="141.5" cy="846.2" r="5.6"/><circle cx="142.6" cy="859.0" r="5.6"/><circle cx="144.1" cy="842.0" r="5.6"/><circle cx="145.6" cy="828.3" r="5.6"/><circle cx="146.8" cy="838.1" r="5.6"/><circle cx="147.9" cy="866.3" r="5.6"/><circle cx="149.3" cy="873.8" r="5.6"/><circle cx="150.4" cy="881.7" r="5.6"/><circle cx="151.9" cy="891.4" r="5.6"/><circle cx="153.2" cy="899.6" r="5.6"/><circle cx="154.7" cy="913.1" r="5.6"/><circle cx="156.1" cy="918.6" r="5.6"/><circle cx="157.6" cy="930.2" r="5.6"/><circle cx="158.9" cy="910.3" r="5.6"/><circle cx="160.2" cy="910.8" r="5.6"/><circle cx="161.8" cy="947.6" r="5.6"/><circle cx="162.9" cy="952.4" r="5.6"/><circle cx="164.1" cy="960.8" r="5.6"/><circle cx="165.5" cy="953.4" r="5.6"/><circle cx="166.6" cy="954.0" r="5.6"/><circle cx="167.9" cy="951.3" r="5.6"/><circle cx="169.5" cy="970.9" r="5.6"/><circle cx="170.9" cy="955.2" r="5.6"/><circle cx="172.4" cy="961.8" r="5.6"/><circle cx="173.5" cy="981.2" r="5.6"/><circle cx="175.0" cy="963.8" r="5.6"/><circle cx="176.5" cy="957.8" r="5.6"/><circle cx="177.7" cy="969.8" r="5.6"/><circle cx="179.1" cy="971.4" r="5.6"/><circle cx="180.3" cy="969.4" r="5.6"/><circle cx="181.4" cy="964.1" r="5.6"/><circle cx="182.5" cy="965.7" r="5.6"/><circle cx="183.7" cy="970.1" r="5.6"/><circle cx="184.8" cy="968.7" r="5.6"/><circle cx="186.3" cy="955.2" r="5.6"/><circle cx="187.6" cy="948.5" r="5.6"/><circle cx="188.8" cy="944.0" r="5.6"/><circle cx="190.4" cy="946.9" r="5.6"/><circle cx="192.0" cy="928.8" r="5.6"/><circle cx="193.1" cy="933.5" r="5.6"/><circle cx="194.2" cy="925.6" r="5.6"/><circle cx="195.8" cy="929.0" r="5.6"/><circle cx="196.9" cy="947.0" r="5.6"/><circle cx="198.3" cy="928.3" r="5.6"/><circle cx="199.5" cy="910.4" r="5.6"/><circle cx="200.8" cy="899.0" r="5.6"/><circle cx="202.4" cy="898.9" r="5.6"/><circle cx="203.7" cy="871.9" r="5.6"/><circle cx="204.9" cy="875.9" r="5.6"/><circle cx="206.3" cy="878.1" r="5.6"/><circle cx="207.8" cy="852.1" r="5.6"/><circle cx="209.3" cy="843.5" r="5.6"/><circle cx="210.9" cy="836.6" r="5.6"/><circle cx="212.4" cy="799.7" r="5.6"/><circle cx="213.9" cy="793.9" r="5.6"/><circle cx="215.2" cy="796.8" r="5.6"/><circle cx="216.3" cy="789.2" r="5.6"/><circle cx="217.5" cy="772.3" r="5.6"/><circle cx="219.0" cy="766.6" r="5.6"/><circle cx="220.6" cy="741.9" r="5.6"/><circle cx="222.2" cy="736.9" r="5.6"/><circle cx="223.4" cy="719.1" r="5.6"/><circle cx="224.6" cy="714.0" r="5.6"/><circle cx="226.0" cy="713.1" r="5.6"/><circle cx="227.6" cy="707.3" r="5.6"/><circle cx="229.0" cy="682.8" r="5.6"/><circle cx="230.5" cy="690.3" r="5.6"/><circle cx="232.1" cy="683.2" r="5.6"/><circle cx="233.6" cy="668.8" r="5.6"/><circle cx="234.7" cy="648.9" r="5.6"/><circle cx="236.3" cy="640.6" r="5.6"/><circle cx="237.9" cy="661.8" r="5.6"/><circle cx="239.2" cy="633.2" r="5.6"/><circle cx="240.6" cy="656.4" r="5.6"/><circle cx="241.8" cy="656.8" r="5.6"/><circle cx="243.4" cy="658.9" r="5.6"/><circle cx="244.9" cy="669.4" r="5.6"/><circle cx="246.5" cy="680.6" r="5.6"/><circle cx="247.9" cy="665.5" r="5.6"/><circle cx="249.1" cy="680.5" r="5.6"/><circle cx="250.2" cy="694.7" r="5.6"/><circle cx="251.5" cy="687.7" r="5.6"/><circle cx="253.1" cy="672.4" r="5.6"/><circle cx="254.6" cy="698.1" r="5.6"/><circle cx="255.8" cy="703.3" r="5.6"/><circle cx="257.0" cy="718.1" r="5.6"/><circle cx="258.4" cy="719.4" r="5.6"/><circle cx="259.6" cy="734.4" r="5.6"/><circle cx="261.2" cy="728.1" r="5.6"/><circle cx="262.6" cy="745.3" r="5.6"/><circle cx="264.1" cy="727.4" r="5.6"/><circle cx="265.5" cy="755.0" r="5.6"/><circle cx="266.8" cy="757.7" r="5.6"/><circle cx="268.2" cy="764.0" r="5.6"/><circle cx="269.3" cy="789.3" r="5.6"/><circle cx="270.5" cy="785.0" r="5.6"/><circle cx="271.8" cy="783.6" r="5.6"/><circle cx="273.1" cy="773.3" r="5.6"/><circle cx="274.5" cy="766.5" r="5.6"/><circle cx="275.6" cy="775.8" r="5.6"/><circle cx="277.0" cy="788.3" r="5.6"/><circle cx="278.5" cy="804.1" r="5.6"/><circle cx="279.8" cy="786.9" r="5.6"/><circle cx="281.4" cy="790.6" r="5.6"/><circle cx="282.7" cy="790.4" r="5.6"/><circle cx="284.1" cy="792.9" r="5.6"/><circle cx="285.5" cy="790.8" r="5.6"/><circle cx="286.9" cy="807.3" r="5.6"/><circle cx="288.5" cy="805.3" r="5.6"/><circle cx="290.1" cy="791.6" r="5.6"/><circle cx="291.3" cy="783.0" r="5.6"/><circle cx="292.8" cy="794.8" r="5.6"/><circle cx="294.0" cy="818.4" r="5.6"/><circle cx="295.1" cy="829.4" r="5.6"/><circle cx="296.3" cy="841.5" r="5.6"/><circle cx="297.8" cy="840.8" r="5.6"/><circle cx="299.4" cy="844.0" r="5.6"/><circle cx="300.8" cy="850.7" r="5.6"/><circle cx="302.0" cy="861.0" r="5.6"/><circle cx="303.1" cy="826.7" r="5.6"/><circle cx="304.7" cy="821.1" r="5.6"/><circle cx="306.4" cy="836.8" r="5.6"/><circle cx="307.9" cy="843.1" r="5.6"/><circle cx="309.2" cy="850.0" r="5.6"/><circle cx="310.5" cy="847.1" r="5.6"/><circle cx="312.0" cy="852.1" r="5.6"/><circle cx="313.1" cy="834.9" r="5.6"/><circle cx="314.2" cy="834.6" r="5.6"/><circle cx="315.4" cy="829.7" r="5.6"/><circle cx="316.5" cy="827.9" r="5.6"/><circle cx="318.1" cy="843.5" r="5.6"/><circle cx="319.3" cy="816.1" r="5.6"/><circle cx="320.5" cy="849.8" r="5.6"/><circle cx="321.7" cy="851.6" r="5.6"/><circle cx="322.9" cy="827.0" r="5.6"/><circle cx="324.4" cy="847.7" r="5.6"/><circle cx="325.6" cy="859.9" r="5.6"/><circle cx="327.0" cy="870.3" r="5.6"/><circle cx="328.5" cy="858.3" r="5.6"/><circle cx="329.9" cy="851.3" r="5.6"/><circle cx="331.2" cy="868.4" r="5.6"/><circle cx="332.7" cy="863.8" r="5.6"/><circle cx="334.2" cy="868.0" r="5.6"/><circle cx="335.3" cy="861.6" r="5.6"/><circle cx="336.8" cy="837.4" r="5.6"/><circle cx="338.2" cy="837.5" r="5.6"/><circle cx="339.8" cy="832.3" r="5.6"/><circle cx="341.2" cy="834.7" r="5.6"/><circle cx="342.4" cy="833.6" r="5.6"/><circle cx="343.5" cy="830.8" r="5.6"/><circle cx="344.7" cy="820.1" r="5.6"/><circle cx="346.1" cy="824.4" r="5.6"/><circle cx="347.4" cy="809.4" r="5.6"/><circle cx="348.7" cy="806.9" r="5.6"/><circle cx="349.7" cy="804.0" r="5.6"/><circle cx="351.2" cy="801.1" r="5.6"/><circle cx="352.6" cy="799.6" r="5.6"/><circle cx="354.2" cy="802.0" r="5.6"/><circle cx="355.3" cy="794.7" r="5.6"/><circle cx="356.7" cy="772.8" r="5.6"/><circle cx="358.2" cy="758.7" r="5.6"/><circle cx="359.6" cy="765.9" r="5.6"/><circle cx="361.3" cy="744.5" r="5.6"/><circle cx="362.7" cy="758.6" r="5.6"/><circle cx="364.1" cy="735.4" r="5.6"/><circle cx="365.3" cy="736.3" r="5.6"/><circle cx="366.4" cy="743.7" r="5.6"/><circle cx="367.6" cy="735.4" r="5.6"/><circle cx="368.8" cy="739.3" r="5.6"/><circle cx="370.3" cy="729.5" r="5.6"/><circle cx="371.8" cy="710.2" r="5.6"/><circle cx="373.0" cy="708.8" r="5.6"/><circle cx="374.3" cy="704.0" r="5.6"/><circle cx="375.6" cy="703.1" r="5.6"/><circle cx="377.2" cy="703.0" r="5.6"/><circle cx="378.4" cy="686.1" r="5.6"/><circle cx="380.0" cy="674.4" r="5.6"/><circle cx="381.1" cy="681.5" r="5.6"/><circle cx="382.3" cy="661.4" r="5.6"/><circle cx="383.5" cy="666.1" r="5.6"/><circle cx="384.9" cy="673.7" r="5.6"/><circle cx="386.0" cy="668.8" r="5.6"/><circle cx="387.3" cy="668.3" r="5.6"/><circle cx="388.6" cy="666.6" r="5.6"/><circle cx="389.8" cy="654.1" r="5.6"/><circle cx="391.2" cy="653.6" r="5.6"/><circle cx="392.7" cy="656.1" r="5.6"/><circle cx="394.0" cy="641.1" r="5.6"/><circle cx="395.2" cy="662.8" r="5.6"/><circle cx="396.7" cy="667.1" r="5.6"/><circle cx="398.1" cy="690.6" r="5.6"/><circle cx="399.7" cy="688.7" r="5.6"/><circle cx="401.1" cy="681.9" r="5.6"/><circle cx="402.3" cy="662.6" r="5.6"/><circle cx="403.6" cy="655.2" r="5.6"/><circle cx="405.1" cy="674.5" r="5.6"/><circle cx="406.7" cy="667.0" r="5.6"/><circle cx="408.1" cy="674.4" r="5.6"/><circle cx="409.6" cy="692.2" r="5.6"/><circle cx="410.7" cy="704.2" r="5.6"/><circle cx="412.0" cy="725.4" r="5.6"/><circle cx="413.4" cy="733.6" r="5.6"/><circle cx="414.8" cy="715.4" r="5.6"/><circle cx="416.1" cy="708.9" r="5.6"/><circle cx="417.2" cy="723.9" r="5.6"/><circle cx="418.6" cy="710.7" r="5.6"/><circle cx="419.9" cy="721.5" r="5.6"/><circle cx="421.4" cy="727.2" r="5.6"/><circle cx="422.6" cy="741.9" r="5.6"/><circle cx="424.1" cy="747.0" r="5.6"/><circle cx="425.3" cy="744.7" r="5.6"/><circle cx="426.6" cy="718.2" r="5.6"/><circle cx="427.9" cy="720.7" r="5.6"/><circle cx="429.4" cy="741.9" r="5.6"/><circle cx="430.8" cy="747.8" r="5.6"/><circle cx="432.0" cy="750.4" r="5.6"/><circle cx="433.2" cy="755.4" r="5.6"/><circle cx="434.6" cy="749.8" r="5.6"/><circle cx="435.7" cy="764.9" r="5.6"/><circle cx="437.1" cy="768.1" r="5.6"/><circle cx="438.6" cy="763.6" r="5.6"/><circle cx="439.9" cy="759.0" r="5.6"/><circle cx="441.3" cy="761.2" r="5.6"/><circle cx="442.8" cy="771.0" r="5.6"/><circle cx="444.0" cy="800.7" r="5.6"/><circle cx="445.1" cy="787.3" r="5.6"/><circle cx="446.4" cy="799.2" r="5.6"/><circle cx="447.8" cy="769.5" r="5.6"/><circle cx="449.0" cy="790.1" r="5.6"/><circle cx="450.2" cy="820.0" r="5.6"/><circle cx="451.6" cy="819.5" r="5.6"/><circle cx="453.2" cy="824.4" r="5.6"/><circle cx="454.3" cy="823.3" r="5.6"/><circle cx="455.9" cy="809.5" r="5.6"/><circle cx="457.3" cy="820.4" r="5.6"/><circle cx="458.7" cy="848.0" r="5.6"/><circle cx="459.8" cy="852.0" r="5.6"/><circle cx="461.1" cy="844.7" r="5.6"/><circle cx="462.3" cy="849.6" r="5.6"/><circle cx="463.6" cy="855.5" r="5.6"/><circle cx="465.1" cy="871.4" r="5.6"/><circle cx="466.7" cy="863.0" r="5.6"/><circle cx="467.8" cy="875.4" r="5.6"/><circle cx="469.4" cy="860.8" r="5.6"/><circle cx="470.6" cy="855.6" r="5.6"/><circle cx="472.2" cy="870.8" r="5.6"/><circle cx="473.6" cy="864.0" r="5.6"/><circle cx="474.9" cy="878.0" r="5.6"/><circle cx="476.0" cy="893.0" r="5.6"/><circle cx="477.2" cy="896.8" r="5.6"/><circle cx="478.8" cy="888.1" r="5.6"/><circle cx="480.1" cy="893.4" r="5.6"/><circle cx="481.3" cy="869.0" r="5.6"/><circle cx="482.9" cy="896.7" r="5.6"/><circle cx="484.4" cy="874.2" r="5.6"/><circle cx="486.0" cy="863.3" r="5.6"/><circle cx="487.4" cy="875.4" r="5.6"/><circle cx="488.8" cy="878.7" r="5.6"/><circle cx="490.2" cy="884.2" r="5.6"/><circle cx="491.4" cy="871.3" r="5.6"/><circle cx="492.5" cy="886.3" r="5.6"/><circle cx="493.8" cy="885.9" r="5.6"/><circle cx="495.1" cy="883.4" r="5.6"/><circle cx="496.7" cy="904.8" r="5.6"/><circle cx="497.9" cy="892.8" r="5.6"/><circle cx="499.3" cy="885.3" r="5.6"/><circle cx="500.6" cy="892.9" r="5.6"/><circle cx="501.8" cy="899.0" r="5.6"/><circle cx="503.4" cy="889.1" r="5.6"/><circle cx="504.9" cy="892.7" r="5.6"/><circle cx="506.6" cy="888.9" r="5.6"/><circle cx="507.7" cy="894.8" r="5.6"/><circle cx="508.9" cy="893.3" r="5.6"/><circle cx="510.1" cy="899.3" r="5.6"/><circle cx="511.3" cy="878.0" r="5.6"/><circle cx="512.8" cy="879.5" r="5.6"/><circle cx="514.1" cy="878.7" r="5.6"/><circle cx="515.4" cy="896.5" r="5.6"/><circle cx="516.6" cy="905.9" r="5.6"/><circle cx="518.2" cy="905.7" r="5.6"/><circle cx="519.4" cy="887.3" r="5.6"/><circle cx="520.9" cy="894.1" r="5.6"/><circle cx="522.1" cy="896.5" r="5.6"/><circle cx="523.4" cy="906.9" r="5.6"/><circle cx="524.7" cy="923.6" r="5.6"/><circle cx="526.3" cy="905.4" r="5.6"/><circle cx="527.4" cy="919.8" r="5.6"/><circle cx="528.9" cy="913.3" r="5.6"/><circle cx="530.3" cy="907.0" r="5.6"/><circle cx="531.6" cy="904.3" r="5.6"/><circle cx="533.2" cy="912.9" r="5.6"/><circle cx="534.8" cy="888.6" r="5.6"/><circle cx="536.0" cy="901.2" r="5.6"/><circle cx="537.3" cy="906.1" r="5.6"/><circle cx="538.8" cy="920.5" r="5.6"/><circle cx="540.2" cy="904.9" r="5.6"/><circle cx="541.7" cy="891.0" r="5.6"/><circle cx="542.8" cy="901.4" r="5.6"/><circle cx="544.3" cy="905.2" r="5.6"/><circle cx="545.7" cy="928.3" r="5.6"/><circle cx="547.0" cy="920.4" r="5.6"/><circle cx="548.4" cy="917.1" r="5.6"/><circle cx="549.9" cy="912.8" r="5.6"/><circle cx="551.2" cy="910.5" r="5.6"/><circle cx="552.6" cy="900.9" r="5.6"/><circle cx="554.0" cy="907.3" r="5.6"/><circle cx="555.1" cy="901.5" r="5.6"/><circle cx="556.7" cy="913.9" r="5.6"/><circle cx="558.1" cy="917.2" r="5.6"/><circle cx="559.3" cy="901.4" r="5.6"/><circle cx="560.6" cy="918.6" r="5.6"/><circle cx="561.8" cy="905.9" r="5.6"/><circle cx="562.9" cy="888.2" r="5.6"/><circle cx="564.2" cy="896.3" r="5.6"/><circle cx="565.4" cy="887.6" r="5.6"/><circle cx="566.6" cy="874.5" r="5.6"/><circle cx="567.7" cy="883.7" r="5.6"/><circle cx="569.2" cy="903.2" r="5.6"/><circle cx="570.4" cy="907.4" r="5.6"/><circle cx="571.7" cy="887.1" r="5.6"/><circle cx="572.9" cy="903.8" r="5.6"/><circle cx="574.4" cy="900.2" r="5.6"/><circle cx="575.6" cy="903.4" r="5.6"/><circle cx="576.9" cy="919.2" r="5.6"/><circle cx="578.5" cy="901.2" r="5.6"/><circle cx="579.7" cy="900.0" r="5.6"/><circle cx="581.0" cy="885.8" r="5.6"/><circle cx="582.1" cy="869.8" r="5.6"/><circle cx="583.4" cy="891.5" r="5.6"/><circle cx="584.6" cy="922.6" r="5.6"/><circle cx="585.7" cy="918.0" r="5.6"/><circle cx="587.3" cy="909.5" r="5.6"/><circle cx="588.8" cy="897.2" r="5.6"/><circle cx="590.4" cy="858.4" r="5.6"/><circle cx="591.6" cy="887.5" r="5.6"/><circle cx="593.1" cy="913.2" r="5.6"/><circle cx="594.2" cy="896.2" r="5.6"/><circle cx="595.5" cy="884.5" r="5.6"/><circle cx="596.8" cy="888.2" r="5.6"/><circle cx="598.0" cy="889.8" r="5.6"/><circle cx="599.3" cy="894.7" r="5.6"/><circle cx="600.9" cy="889.4" r="5.6"/><circle cx="602.1" cy="875.9" r="5.6"/><circle cx="603.6" cy="897.2" r="5.6"/><circle cx="604.9" cy="902.3" r="5.6"/><circle cx="606.2" cy="896.3" r="5.6"/><circle cx="607.8" cy="892.8" r="5.6"/><circle cx="609.3" cy="896.8" r="5.6"/><circle cx="610.4" cy="872.2" r="5.6"/><circle cx="611.9" cy="887.5" r="5.6"/><circle cx="613.0" cy="887.6" r="5.6"/><circle cx="614.6" cy="884.2" r="5.6"/><circle cx="615.8" cy="881.2" r="5.6"/><circle cx="617.1" cy="856.9" r="5.6"/><circle cx="618.3" cy="882.9" r="5.6"/><circle cx="619.5" cy="876.1" r="5.6"/><circle cx="621.0" cy="873.0" r="5.6"/><circle cx="622.1" cy="882.8" r="5.6"/><circle cx="623.6" cy="892.1" r="5.6"/><circle cx="625.1" cy="875.2" r="5.6"/><circle cx="626.2" cy="876.3" r="5.6"/><circle cx="627.8" cy="887.3" r="5.6"/><circle cx="629.4" cy="873.7" r="5.6"/><circle cx="630.7" cy="879.0" r="5.6"/><circle cx="632.1" cy="882.1" r="5.6"/><circle cx="633.6" cy="874.3" r="5.6"/><circle cx="635.1" cy="882.1" r="5.6"/><circle cx="636.5" cy="861.2" r="5.6"/><circle cx="637.8" cy="864.2" r="5.6"/><circle cx="639.3" cy="879.5" r="5.6"/><circle cx="640.4" cy="883.3" r="5.6"/><circle cx="641.6" cy="896.5" r="5.6"/><circle cx="642.7" cy="899.3" r="5.6"/><circle cx="644.0" cy="890.7" r="5.6"/><circle cx="645.6" cy="908.6" r="5.6"/><circle cx="646.8" cy="872.2" r="5.6"/><circle cx="647.9" cy="887.9" r="5.6"/><circle cx="649.4" cy="892.6" r="5.6"/><circle cx="650.7" cy="889.2" r="5.6"/><circle cx="652.1" cy="898.1" r="5.6"/><circle cx="653.6" cy="891.3" r="5.6"/><circle cx="655.0" cy="868.3" r="5.6"/><circle cx="656.1" cy="883.9" r="5.6"/><circle cx="657.5" cy="879.4" r="5.6"/><circle cx="658.8" cy="885.0" r="5.6"/><circle cx="660.0" cy="881.8" r="5.6"/><circle cx="661.2" cy="901.2" r="5.6"/><circle cx="662.6" cy="916.8" r="5.6"/><circle cx="663.9" cy="880.0" r="5.6"/><circle cx="665.2" cy="911.8" r="5.6"/><circle cx="666.4" cy="912.4" r="5.6"/><circle cx="668.1" cy="894.3" r="5.6"/><circle cx="669.2" cy="881.9" r="5.6"/><circle cx="670.7" cy="900.7" r="5.6"/><circle cx="672.3" cy="915.9" r="5.6"/><circle cx="673.4" cy="916.9" r="5.6"/><circle cx="674.6" cy="929.9" r="5.6"/><circle cx="676.2" cy="920.7" r="5.6"/><circle cx="677.5" cy="927.4" r="5.6"/><circle cx="678.7" cy="914.6" r="5.6"/><circle cx="680.2" cy="923.4" r="5.6"/><circle cx="681.6" cy="921.7" r="5.6"/><circle cx="683.0" cy="925.7" r="5.6"/><circle cx="684.2" cy="936.0" r="5.6"/><circle cx="685.4" cy="931.0" r="5.6"/><circle cx="686.8" cy="944.7" r="5.6"/><circle cx="688.0" cy="946.6" r="5.6"/><circle cx="689.4" cy="939.8" r="5.6"/><circle cx="690.6" cy="933.9" r="5.6"/><circle cx="692.1" cy="941.9" r="5.6"/><circle cx="693.5" cy="944.2" r="5.6"/><circle cx="694.8" cy="943.4" r="5.6"/><circle cx="696.2" cy="939.1" r="5.6"/><circle cx="697.4" cy="937.1" r="5.6"/><circle cx="698.8" cy="933.5" r="5.6"/><circle cx="700.1" cy="944.6" r="5.6"/><circle cx="701.6" cy="940.8" r="5.6"/><circle cx="702.9" cy="957.7" r="5.6"/><circle cx="704.2" cy="977.1" r="5.6"/><circle cx="705.5" cy="935.6" r="5.6"/><circle cx="706.7" cy="943.7" r="5.6"/><circle cx="707.8" cy="941.7" r="5.6"/><circle cx="709.3" cy="931.3" r="5.6"/><circle cx="710.6" cy="953.8" r="5.6"/><circle cx="712.2" cy="949.2" r="5.6"/><circle cx="713.3" cy="955.1" r="5.6"/><circle cx="714.7" cy="941.7" r="5.6"/><circle cx="715.8" cy="932.6" r="5.6"/><circle cx="717.2" cy="938.3" r="5.6"/><circle cx="718.4" cy="958.9" r="5.6"/><circle cx="719.6" cy="935.0" r="5.6"/><circle cx="720.7" cy="945.4" r="5.6"/><circle cx="722.1" cy="962.9" r="5.6"/><circle cx="723.3" cy="935.2" r="5.6"/><circle cx="724.4" cy="976.6" r="5.6"/><circle cx="725.8" cy="957.9" r="5.6"/><circle cx="726.9" cy="969.2" r="5.6"/><circle cx="728.4" cy="960.3" r="5.6"/><circle cx="729.8" cy="964.0" r="5.6"/><circle cx="731.4" cy="957.3" r="5.6"/><circle cx="732.6" cy="942.9" r="5.6"/><circle cx="734.1" cy="965.3" r="5.6"/><circle cx="735.3" cy="965.9" r="5.6"/><circle cx="736.6" cy="974.6" r="5.6"/><circle cx="737.9" cy="973.8" r="5.6"/><circle cx="739.4" cy="973.3" r="5.6"/><circle cx="740.9" cy="980.8" r="5.6"/><circle cx="742.4" cy="974.4" r="5.6"/><circle cx="743.5" cy="970.8" r="5.6"/><circle cx="744.9" cy="961.8" r="5.6"/><circle cx="746.3" cy="955.8" r="5.6"/><circle cx="747.6" cy="952.9" r="5.6"/><circle cx="749.0" cy="944.0" r="5.6"/><circle cx="750.3" cy="960.9" r="5.6"/><circle cx="751.6" cy="976.0" r="5.6"/><circle cx="753.0" cy="970.1" r="5.6"/><circle cx="754.2" cy="966.6" r="5.6"/><circle cx="755.5" cy="944.6" r="5.6"/><circle cx="756.7" cy="948.1" r="5.6"/><circle cx="757.9" cy="955.3" r="5.6"/><circle cx="759.2" cy="967.1" r="5.6"/><circle cx="760.5" cy="968.7" r="5.6"/><circle cx="761.6" cy="960.0" r="5.6"/><circle cx="763.1" cy="955.2" r="5.6"/><circle cx="764.6" cy="952.5" r="5.6"/><circle cx="766.0" cy="954.3" r="5.6"/><circle cx="767.2" cy="960.6" r="5.6"/><circle cx="768.8" cy="955.7" r="5.6"/><circle cx="770.4" cy="952.7" r="5.6"/><circle cx="771.6" cy="933.7" r="5.6"/><circle cx="773.2" cy="917.4" r="5.6"/><circle cx="774.8" cy="937.8" r="5.6"/><circle cx="775.9" cy="951.3" r="5.6"/><circle cx="777.1" cy="927.1" r="5.6"/><circle cx="778.3" cy="940.1" r="5.6"/><circle cx="779.9" cy="938.8" r="5.6"/><circle cx="781.1" cy="946.6" r="5.6"/><circle cx="782.5" cy="941.8" r="5.6"/><circle cx="784.0" cy="946.7" r="5.6"/><circle cx="785.4" cy="954.4" r="5.6"/><circle cx="786.6" cy="956.1" r="5.6"/><circle cx="787.8" cy="951.3" r="5.6"/><circle cx="789.4" cy="937.3" r="5.6"/><circle cx="790.6" cy="919.8" r="5.6"/><circle cx="792.1" cy="941.8" r="5.6"/><circle cx="793.5" cy="950.0" r="5.6"/><circle cx="794.8" cy="954.2" r="5.6"/><circle cx="796.2" cy="936.2" r="5.6"/><circle cx="797.7" cy="964.0" r="5.6"/><circle cx="799.1" cy="970.0" r="5.6"/><circle cx="800.4" cy="954.1" r="5.6"/><circle cx="802.1" cy="935.7" r="5.6"/><circle cx="803.4" cy="923.3" r="5.6"/><circle cx="804.8" cy="942.9" r="5.6"/><circle cx="805.9" cy="937.1" r="5.6"/><circle cx="807.5" cy="930.4" r="5.6"/><circle cx="808.7" cy="910.5" r="5.6"/><circle cx="810.1" cy="897.0" r="5.6"/><circle cx="811.5" cy="913.6" r="5.6"/><circle cx="812.6" cy="921.4" r="5.6"/><circle cx="813.8" cy="915.3" r="5.6"/><circle cx="815.1" cy="912.6" r="5.6"/><circle cx="816.7" cy="923.2" r="5.6"/><circle cx="818.1" cy="927.7" r="5.6"/><circle cx="819.2" cy="933.6" r="5.6"/><circle cx="820.4" cy="925.7" r="5.6"/><circle cx="821.6" cy="923.5" r="5.6"/><circle cx="823.0" cy="933.2" r="5.6"/><circle cx="824.2" cy="914.3" r="5.6"/><circle cx="825.4" cy="905.1" r="5.6"/><circle cx="827.0" cy="908.5" r="5.6"/><circle cx="828.1" cy="915.4" r="5.6"/><circle cx="829.5" cy="924.1" r="5.6"/><circle cx="830.8" cy="900.8" r="5.6"/><circle cx="832.0" cy="918.4" r="5.6"/><circle cx="833.4" cy="910.9" r="5.6"/><circle cx="834.7" cy="898.5" r="5.6"/><circle cx="836.3" cy="889.5" r="5.6"/><circle cx="837.7" cy="893.7" r="5.6"/><circle cx="838.8" cy="918.0" r="5.6"/><circle cx="840.2" cy="897.8" r="5.6"/><circle cx="841.3" cy="898.9" r="5.6"/><circle cx="842.8" cy="906.7" r="5.6"/><circle cx="844.4" cy="896.0" r="5.6"/><circle cx="845.6" cy="893.7" r="5.6"/><circle cx="846.9" cy="900.2" r="5.6"/><circle cx="848.4" cy="889.9" r="5.6"/><circle cx="849.6" cy="875.2" r="5.6"/><circle cx="850.8" cy="894.6" r="5.6"/><circle cx="852.3" cy="886.5" r="5.6"/><circle cx="853.8" cy="895.1" r="5.6"/><circle cx="855.3" cy="877.5" r="5.6"/><circle cx="856.6" cy="866.7" r="5.6"/><circle cx="857.8" cy="849.5" r="5.6"/><circle cx="859.0" cy="852.5" r="5.6"/><circle cx="860.2" cy="855.1" r="5.6"/><circle cx="861.7" cy="844.4" r="5.6"/><circle cx="863.2" cy="825.5" r="5.6"/><circle cx="864.4" cy="824.5" r="5.6"/><circle cx="865.9" cy="829.2" r="5.6"/><circle cx="867.3" cy="832.3" r="5.6"/><circle cx="868.9" cy="848.6" r="5.6"/><circle cx="870.1" cy="841.2" r="5.6"/><circle cx="871.3" cy="833.9" r="5.6"/><circle cx="872.5" cy="829.8" r="5.6"/><circle cx="874.0" cy="801.6" r="5.6"/><circle cx="875.2" cy="820.7" r="5.6"/><circle cx="876.4" cy="814.8" r="5.6"/><circle cx="878.0" cy="805.9" r="5.6"/><circle cx="879.4" cy="799.9" r="5.6"/><circle cx="881.1" cy="787.8" r="5.6"/><circle cx="882.5" cy="805.3" r="5.6"/><circle cx="884.1" cy="792.1" r="5.6"/><circle cx="885.4" cy="807.7" r="5.6"/><circle cx="886.7" cy="810.7" r="5.6"/><circle cx="887.8" cy="822.4" r="5.6"/><circle cx="889.4" cy="813.2" r="5.6"/><circle cx="890.5" cy="808.9" r="5.6"/><circle cx="892.1" cy="800.3" r="5.6"/><circle cx="893.2" cy="804.2" r="5.6"/><circle cx="894.3" cy="795.0" r="5.6"/><circle cx="895.8" cy="780.9" r="5.6"/><circle cx="897.2" cy="801.0" r="5.6"/><circle cx="898.5" cy="802.0" r="5.6"/><circle cx="900.0" cy="805.2" r="5.6"/><circle cx="901.2" cy="776.2" r="5.6"/><circle cx="902.7" cy="804.5" r="5.6"/><circle cx="903.8" cy="781.4" r="5.6"/><circle cx="905.0" cy="785.4" r="5.6"/><circle cx="906.6" cy="785.4" r="5.6"/><circle cx="908.1" cy="769.0" r="5.6"/><circle cx="909.5" cy="758.7" r="5.6"/><circle cx="910.7" cy="771.9" r="5.6"/><circle cx="912.2" cy="775.0" r="5.6"/><circle cx="913.4" cy="767.7" r="5.6"/><circle cx="914.5" cy="778.1" r="5.6"/><circle cx="915.7" cy="767.4" r="5.6"/><circle cx="917.0" cy="781.0" r="5.6"/><circle cx="918.3" cy="781.2" r="5.6"/><circle cx="919.8" cy="763.8" r="5.6"/><circle cx="921.2" cy="767.9" r="5.6"/><circle cx="922.5" cy="759.3" r="5.6"/><circle cx="924.0" cy="741.4" r="5.6"/><circle cx="925.4" cy="754.6" r="5.6"/><circle cx="926.6" cy="748.2" r="5.6"/><circle cx="928.1" cy="735.6" r="5.6"/><circle cx="929.3" cy="739.1" r="5.6"/><circle cx="930.8" cy="730.3" r="5.6"/><circle cx="932.4" cy="735.1" r="5.6"/><circle cx="933.7" cy="722.6" r="5.6"/><circle cx="935.2" cy="718.2" r="5.6"/><circle cx="936.5" cy="720.6" r="5.6"/><circle cx="938.0" cy="704.9" r="5.6"/><circle cx="939.3" cy="723.0" r="5.6"/><circle cx="940.5" cy="699.0" r="5.6"/><circle cx="941.6" cy="677.7" r="5.6"/><circle cx="943.0" cy="692.2" r="5.6"/><circle cx="944.5" cy="686.6" r="5.6"/><circle cx="946.0" cy="662.5" r="5.6"/><circle cx="947.3" cy="647.4" r="5.6"/><circle cx="948.6" cy="645.8" r="5.6"/><circle cx="950.1" cy="632.7" r="5.6"/><circle cx="951.2" cy="631.4" r="5.6"/><circle cx="952.8" cy="633.0" r="5.6"/><circle cx="954.2" cy="607.8" r="5.6"/><circle cx="955.4" cy="625.8" r="5.6"/><circle cx="956.7" cy="598.4" r="5.6"/><circle cx="958.2" cy="597.5" r="5.6"/><circle cx="959.6" cy="593.4" r="5.6"/><circle cx="960.8" cy="604.1" r="5.6"/><circle cx="962.3" cy="590.1" r="5.6"/><circle cx="963.5" cy="577.3" r="5.6"/><circle cx="964.8" cy="587.7" r="5.6"/><circle cx="965.9" cy="576.0" r="5.6"/><circle cx="967.3" cy="590.5" r="5.6"/><circle cx="968.5" cy="586.2" r="5.6"/><circle cx="969.7" cy="584.4" r="5.6"/><circle cx="970.9" cy="570.9" r="5.6"/><circle cx="972.0" cy="586.2" r="5.6"/><circle cx="973.4" cy="604.3" r="5.6"/><circle cx="974.6" cy="601.2" r="5.6"/><circle cx="976.2" cy="613.0" r="5.6"/><circle cx="977.6" cy="637.8" r="5.6"/><circle cx="978.8" cy="645.6" r="5.6"/><circle cx="980.1" cy="655.5" r="5.6"/><circle cx="981.5" cy="644.2" r="5.6"/><circle cx="982.8" cy="650.5" r="5.6"/><circle cx="984.0" cy="666.8" r="5.6"/><circle cx="985.2" cy="662.3" r="5.6"/><circle cx="986.5" cy="668.9" r="5.6"/><circle cx="988.0" cy="671.9" r="5.6"/><circle cx="989.4" cy="672.0" r="5.6"/><circle cx="990.7" cy="699.4" r="5.6"/><circle cx="992.0" cy="718.4" r="5.6"/><circle cx="993.5" cy="730.8" r="5.6"/><circle cx="994.9" cy="725.3" r="5.6"/><circle cx="996.4" cy="728.0" r="5.6"/><circle cx="997.9" cy="745.0" r="5.6"/><circle cx="999.4" cy="757.4" r="5.6"/><circle cx="1001.0" cy="749.7" r="5.6"/><circle cx="1002.4" cy="760.4" r="5.6"/><circle cx="1003.6" cy="767.6" r="5.6"/><circle cx="1005.1" cy="794.4" r="5.6"/><circle cx="1006.6" cy="808.7" r="5.6"/><circle cx="1008.0" cy="807.3" r="5.6"/><circle cx="1009.3" cy="809.9" r="5.6"/><circle cx="1010.7" cy="813.2" r="5.6"/><circle cx="1012.1" cy="820.1" r="5.6"/><circle cx="1013.7" cy="842.8" r="5.6"/><circle cx="1015.2" cy="865.2" r="5.6"/><circle cx="1016.5" cy="835.0" r="5.6"/><circle cx="1017.6" cy="853.7" r="5.6"/><circle cx="1019.0" cy="873.2" r="5.6"/><circle cx="1020.5" cy="892.8" r="5.6"/><circle cx="1021.9" cy="901.3" r="5.6"/><circle cx="1023.3" cy="905.5" r="5.6"/><circle cx="1024.7" cy="886.3" r="5.6"/><circle cx="1026.3" cy="894.3" r="5.6"/><circle cx="1027.6" cy="879.0" r="5.6"/><circle cx="1028.8" cy="909.7" r="5.6"/><circle cx="1030.3" cy="898.3" r="5.6"/><circle cx="1031.4" cy="920.3" r="5.6"/><circle cx="1033.0" cy="919.8" r="5.6"/><circle cx="1034.3" cy="925.9" r="5.6"/><circle cx="1035.6" cy="938.7" r="5.6"/><circle cx="1036.9" cy="935.7" r="5.6"/><circle cx="1038.3" cy="930.0" r="5.6"/><circle cx="1039.5" cy="940.1" r="5.6"/><circle cx="1041.0" cy="951.7" r="5.6"/><circle cx="1042.2" cy="940.7" r="5.6"/><circle cx="1043.7" cy="936.5" r="5.6"/><circle cx="1044.9" cy="945.7" r="5.6"/><circle cx="1046.4" cy="952.3" r="5.6"/><circle cx="1047.7" cy="936.5" r="5.6"/><circle cx="1049.1" cy="948.8" r="5.6"/><circle cx="1050.4" cy="978.4" r="5.6"/><circle cx="1051.8" cy="973.8" r="5.6"/><circle cx="1053.1" cy="946.5" r="5.6"/><circle cx="1054.4" cy="947.6" r="5.6"/><circle cx="1055.9" cy="953.1" r="5.6"/><circle cx="1057.2" cy="962.8" r="5.6"/><circle cx="1058.4" cy="956.3" r="5.6"/><circle cx="1059.7" cy="954.7" r="5.6"/><circle cx="1060.7" cy="963.7" r="5.6"/><circle cx="1062.2" cy="964.0" r="5.6"/><circle cx="1063.4" cy="974.1" r="5.6"/><circle cx="1064.8" cy="957.7" r="5.6"/><circle cx="1066.2" cy="971.3" r="5.6"/><circle cx="1067.5" cy="990.2" r="5.6"/><circle cx="1068.6" cy="971.0" r="5.6"/><circle cx="1070.1" cy="987.7" r="5.6"/><circle cx="1071.3" cy="969.5" r="5.6"/><circle cx="1072.8" cy="971.1" r="5.6"/><circle cx="1073.9" cy="971.8" r="5.6"/><circle cx="1075.5" cy="969.5" r="5.6"/><circle cx="1076.6" cy="966.4" r="5.6"/><circle cx="1077.8" cy="973.9" r="5.6"/><circle cx="1079.1" cy="994.0" r="5.6"/><circle cx="1080.2" cy="1000.4" r="5.6"/><circle cx="1081.4" cy="977.1" r="5.6"/><circle cx="1083.0" cy="963.2" r="5.6"/><circle cx="1084.4" cy="960.0" r="5.6"/><circle cx="1086.0" cy="975.4" r="5.6"/><circle cx="1087.1" cy="957.8" r="5.6"/><circle cx="1088.6" cy="952.8" r="5.6"/><circle cx="1089.9" cy="964.7" r="5.6"/><circle cx="1091.5" cy="965.9" r="5.6"/><circle cx="1092.7" cy="971.6" r="5.6"/><circle cx="1093.8" cy="973.5" r="5.6"/><circle cx="1095.2" cy="978.6" r="5.6"/><circle cx="1096.3" cy="968.3" r="5.6"/><circle cx="1097.7" cy="977.2" r="5.6"/><circle cx="1099.2" cy="1001.3" r="5.6"/><circle cx="1100.6" cy="992.7" r="5.6"/><circle cx="1102.0" cy="977.9" r="5.6"/><circle cx="1103.2" cy="964.1" r="5.6"/><circle cx="1104.5" cy="979.9" r="5.6"/><circle cx="1106.0" cy="982.2" r="5.6"/><circle cx="1107.4" cy="999.0" r="5.6"/><circle cx="1108.8" cy="994.9" r="5.6"/><circle cx="1110.4" cy="976.1" r="5.6"/><circle cx="1111.8" cy="1009.0" r="5.6"/><circle cx="1113.1" cy="999.8" r="5.6"/><circle cx="1114.6" cy="992.0" r="5.6"/><circle cx="1116.0" cy="979.1" r="5.6"/><circle cx="1117.3" cy="1002.9" r="5.6"/><circle cx="1118.6" cy="977.5" r="5.6"/><circle cx="1119.8" cy="981.5" r="5.6"/><circle cx="1121.1" cy="974.4" r="5.6"/><circle cx="1122.7" cy="989.9" r="5.6"/><circle cx="1123.9" cy="995.8" r="5.6"/><circle cx="1125.2" cy="983.8" r="5.6"/><circle cx="1126.5" cy="959.2" r="5.6"/><circle cx="1127.9" cy="976.2" r="5.6"/><circle cx="1129.4" cy="980.7" r="5.6"/><circle cx="1130.7" cy="995.5" r="5.6"/><circle cx="1132.1" cy="981.8" r="5.6"/><circle cx="1133.2" cy="974.1" r="5.6"/><circle cx="1134.6" cy="995.0" r="5.6"/><circle cx="1135.7" cy="985.5" r="5.6"/><circle cx="1137.0" cy="997.2" r="5.6"/><circle cx="1138.6" cy="996.0" r="5.6"/><circle cx="1140.0" cy="985.0" r="5.6"/><circle cx="1141.5" cy="974.7" r="5.6"/><circle cx="1142.9" cy="974.9" r="5.6"/><circle cx="100.0" cy="1022.0" r="5.6"/><circle cx="103.0" cy="1028.0" r="5.6"/><circle cx="1140.0" cy="1025.0" r="5.6"/><circle cx="1138.0" cy="1015.0" r="5.6"/>
</g>
<g fill="none" stroke-width="4.3" stroke-linejoin="round">
<path stroke="#000000" d="M96.0 530.5 L97.0 530.3 L98.0 530.0 L99.0 529.8 L100.0 529.6 L101.0 529.3 L102.0 529.1 L103.0 528.8 L104.0 528.5 L105.0 528.2 L106.0 527.9 L107.0 527.6 L108.0 527.2 L109.0 526.9 L110.0 526.5 L111.0 526.1 L112.0 525.7 L113.0 525.3 L114.0 524.9 L115.0 524.5 L116.0 524.0 L117.0 523.6 L118.0 523.1 L119.0 522.6 L120.0 522.1 L121.0 521.6 L122.0 521.1 L123.0 520.5 L124.0 520.0 L125.0 519.4 L126.0 518.9 L127.0 518.3 L128.0 517.7 L129.0 517.1 L130.0 516.4 L131.0 515.8 L132.0 515.2 L133.0 514.5 L134.0 513.9 L135.0 513.2 L136.0 512.6 L137.0 511.9 L138.0 511.2 L139.0 510.6 L140.0 509.9 L141.0 509.2 L142.0 508.5 L143.0 507.8 L144.0 507.2 L145.0 506.5 L146.0 505.8 L147.0 505.2 L148.0 504.5 L149.0 503.8 L150.0 503.2 L151.0 502.6 L152.0 501.9 L153.0 501.3 L154.0 500.7 L155.0 500.1 L156.0 499.6 L157.0 499.0 L158.0 498.5 L159.0 498.0 L160.0 497.5 L161.0 497.0 L162.0 496.5 L163.0 496.1 L164.0 495.7 L165.0 495.3 L166.0 494.9 L167.0 494.6 L168.0 494.3 L169.0 494.0 L170.0 493.8 L171.0 493.5 L172.0 493.3 L173.0 493.2 L174.0 493.0 L175.0 492.9 L176.0 492.9 L177.0 492.8 L178.0 492.8 L179.0 492.8 L180.0 492.9 L181.0 493.1 L182.0 493.2 L183.0 493.5 L184.0 493.8 L185.0 494.2 L186.0 494.6 L187.0 495.0 L188.0 495.5 L189.0 496.1 L190.0 496.7 L191.0 497.3 L192.0 498.0 L193.0 498.7 L194.0 499.4 L195.0 500.2 L196.0 501.0 L197.0 501.8 L198.0 502.6 L199.0 503.5 L200.0 504.4 L201.0 505.3 L202.0 506.2 L203.0 507.1 L204.0 508.0 L205.0 508.9 L206.0 509.9 L207.0 510.8 L208.0 511.7 L209.0 512.6 L210.0 513.5 L211.0 514.4 L212.0 515.2 L213.0 516.1 L214.0 516.9 L215.0 517.8 L216.0 518.6 L217.0 519.4 L218.0 520.1 L219.0 520.9 L220.0 521.6 L221.0 522.3 L222.0 522.9 L223.0 523.6 L224.0 524.2 L225.0 524.8 L226.0 525.4 L227.0 525.9 L228.0 526.4 L229.0 526.9 L230.0 527.4 L231.0 527.8 L232.0 528.2 L233.0 528.6 L234.0 529.0 L235.0 529.4 L236.0 529.7 L237.0 530.0 L238.0 530.3 L239.0 530.6 L240.0 530.9 L241.0 531.1 L242.0 531.3 L243.0 531.5 L244.0 531.7 L245.0 531.9 L246.0 532.1 L247.0 532.2 L248.0 532.4 L249.0 532.5 L250.0 532.6 L251.0 532.7 L252.0 532.8 L253.0 532.9 L254.0 533.0 L255.0 533.1 L256.0 533.2 L257.0 533.2 L258.0 533.3 L259.0 533.3 L260.0 533.4 L261.0 533.4 L262.0 533.5 L263.0 533.5 L264.0 533.5 L265.0 533.6 L266.0 533.6 L267.0 533.6 L268.0 533.6 L269.0 533.7 L270.0 533.7 L271.0 533.7 L272.0 533.7 L273.0 533.7 L274.0 533.7 L275.0 533.7 L276.0 533.7 L277.0 533.8 L278.0 533.8 L279.0 533.8 L280.0 533.8 L281.0 533.8 L282.0 533.8 L283.0 533.8 L284.0 533.8 L285.0 533.8 L286.0 533.8 L287.0 533.8 L288.0 533.8 L289.0 533.8 L290.0 533.8 L291.0 533.8 L292.0 533.8 L293.0 533.8 L294.0 533.8 L295.0 533.8 L296.0 533.8 L297.0 533.8 L298.0 533.8 L299.0 533.8 L300.0 533.8 L301.0 533.8 L302.0 533.8 L303.0 533.8 L304.0 533.8 L305.0 533.8 L306.0 533.8 L307.0 533.8 L308.0 533.8 L309.0 533.8 L310.0 533.8 L311.0 533.8 L312.0 533.8 L313.0 533.8 L314.0 533.8 L315.0 533.8 L316.0 533.8 L317.0 533.8 L318.0 533.8 L319.0 533.8 L320.0 533.8 L321.0 533.8 L322.0 533.8 L323.0 533.8 L324.0 533.8 L325.0 533.8 L326.0 533.8 L327.0 533.8 L328.0 533.8 L329.0 533.8 L330.0 533.8 L331.0 533.8 L332.0 533.8 L333.0 533.8 L334.0 533.8 L335.0 533.8 L336.0 533.8 L337.0 533.8 L338.0 533.8 L339.0 533.8 L340.0 533.8 L341.0 533.8 L342.0 533.8 L343.0 533.8 L344.0 533.8 L345.0 533.8 L346.0 533.8 L347.0 533.8 L348.0 533.8 L349.0 533.8 L350.0 533.8 L351.0 533.8 L352.0 533.8 L353.0 533.8 L354.0 533.8 L355.0 533.8 L356.0 533.8 L357.0 533.8 L358.0 533.8 L359.0 533.8 L360.0 533.8 L361.0 533.8 L362.0 533.8 L363.0 533.8 L364.0 533.8 L365.0 533.8 L366.0 533.8 L367.0 533.8 L368.0 533.8 L369.0 533.8 L370.0 533.8 L371.0 533.8 L372.0 533.8 L373.0 533.8 L374.0 533.8 L375.0 533.8 L376.0 533.8 L377.0 533.8 L378.0 533.8 L379.0 533.8 L380.0 533.8 L381.0 533.8 L382.0 533.8 L383.0 533.8 L384.0 533.8 L385.0 533.8 L386.0 533.8 L387.0 533.8 L388.0 533.8 L389.0 533.8 L390.0 533.8 L391.0 533.8 L392.0 533.8 L393.0 533.8 L394.0 533.8 L395.0 533.8 L396.0 533.8 L397.0 533.8 L398.0 533.8 L399.0 533.8 L400.0 533.8 L401.0 533.8 L402.0 533.8 L403.0 533.8 L404.0 533.8 L405.0 533.8 L406.0 533.8 L407.0 533.8 L408.0 533.8 L409.0 533.8 L410.0 533.8 L411.0 533.8 L412.0 533.8 L413.0 533.8 L414.0 533.8 L415.0 533.8 L416.0 533.8 L417.0 533.8 L418.0 533.8 L419.0 533.8 L420.0 533.8 L421.0 533.8 L422.0 533.8 L423.0 533.8 L424.0 533.8 L425.0 533.8 L426.0 533.8 L427.0 533.8 L428.0 533.8 L429.0 533.8 L430.0 533.8 L431.0 533.8 L432.0 533.8 L433.0 533.8 L434.0 533.8 L435.0 533.8 L436.0 533.8 L437.0 533.8 L438.0 533.8 L439.0 533.8 L440.0 533.8 L441.0 533.8 L442.0 533.8 L443.0 533.8 L444.0 533.8 L445.0 533.8 L446.0 533.8 L447.0 533.8 L448.0 533.8 L449.0 533.8 L450.0 533.8 L451.0 533.8 L452.0 533.8 L453.0 533.8 L454.0 533.8 L455.0 533.8 L456.0 533.8 L457.0 533.8 L458.0 533.8 L459.0 533.8 L460.0 533.8 L461.0 533.8 L462.0 533.8 L463.0 533.8 L464.0 533.8 L465.0 533.8 L466.0 533.8 L467.0 533.8 L468.0 533.8 L469.0 533.8 L470.0 533.8 L471.0 533.8 L472.0 533.8 L473.0 533.8 L474.0 533.8 L475.0 533.8 L476.0 533.8 L477.0 533.8 L478.0 533.8 L479.0 533.8 L480.0 533.8 L481.0 533.8 L482.0 533.8 L483.0 533.8 L484.0 533.8 L485.0 533.8 L486.0 533.8 L487.0 533.8 L488.0 533.8 L489.0 533.8 L490.0 533.8 L491.0 533.8 L492.0 533.8 L493.0 533.8 L494.0 533.8 L495.0 533.8 L496.0 533.8 L497.0 533.8 L498.0 533.8 L499.0 533.8 L500.0 533.8 L501.0 533.8 L502.0 533.8 L503.0 533.8 L504.0 533.8 L505.0 533.8 L506.0 533.8 L507.0 533.8 L508.0 533.8 L509.0 533.8 L510.0 533.8 L511.0 533.8 L512.0 533.8 L513.0 533.8 L514.0 533.8 L515.0 533.8 L516.0 533.8 L517.0 533.8 L518.0 533.8 L519.0 533.8 L520.0 533.8 L521.0 533.8 L522.0 533.8 L523.0 533.8 L524.0 533.8 L525.0 533.8 L526.0 533.8 L527.0 533.8 L528.0 533.8 L529.0 533.8 L530.0 533.8 L531.0 533.8 L532.0 533.8 L533.0 533.8 L534.0 533.8 L535.0 533.8 L536.0 533.8 L537.0 533.8 L538.0 533.8 L539.0 533.8 L540.0 533.8 L541.0 533.8 L542.0 533.8 L543.0 533.8 L544.0 533.8 L545.0 533.8 L546.0 533.8 L547.0 533.8 L548.0 533.8 L549.0 533.8 L550.0 533.8 L551.0 533.8 L552.0 533.8 L553.0 533.8 L554.0 533.8 L555.0 533.8 L556.0 533.8 L557.0 533.8 L558.0 533.8 L559.0 533.8 L560.0 533.8 L561.0 533.8 L562.0 533.8 L563.0 533.8 L564.0 533.8 L565.0 533.8 L566.0 533.8 L567.0 533.8 L568.0 533.8 L569.0 533.8 L570.0 533.8 L571.0 533.8 L572.0 533.8 L573.0 533.8 L574.0 533.8 L575.0 533.8 L576.0 533.8 L577.0 533.8 L578.0 533.8 L579.0 533.8 L580.0 533.8 L581.0 533.8 L582.0 533.8 L583.0 533.8 L584.0 533.8 L585.0 533.8 L586.0 533.8 L587.0 533.8 L588.0 533.8 L589.0 533.8 L590.0 533.8 L591.0 533.8 L592.0 533.8 L593.0 533.8 L594.0 533.8 L595.0 533.8 L596.0 533.8 L597.0 533.8 L598.0 533.8 L599.0 533.8 L600.0 533.8 L601.0 533.8 L602.0 533.8 L603.0 533.8 L604.0 533.8 L605.0 533.8 L606.0 533.8 L607.0 533.8 L608.0 533.8 L609.0 533.8 L610.0 533.8 L611.0 533.8 L612.0 533.8 L613.0 533.8 L614.0 533.8 L615.0 533.8 L616.0 533.8 L617.0 533.8 L618.0 533.8 L619.0 533.8 L620.0 533.8 L621.0 533.8 L622.0 533.8 L623.0 533.8 L624.0 533.8 L625.0 533.8 L626.0 533.8 L627.0 533.8 L628.0 533.8 L629.0 533.8 L630.0 533.8 L631.0 533.8 L632.0 533.8 L633.0 533.8 L634.0 533.8 L635.0 533.8 L636.0 533.8 L637.0 533.8 L638.0 533.8 L639.0 533.8 L640.0 533.8 L641.0 533.8 L642.0 533.8 L643.0 533.8 L644.0 533.8 L645.0 533.8 L646.0 533.8 L647.0 533.8 L648.0 533.8 L649.0 533.8 L650.0 533.8 L651.0 533.8 L652.0 533.8 L653.0 533.8 L654.0 533.8 L655.0 533.8 L656.0 533.8 L657.0 533.8 L658.0 533.8 L659.0 533.8 L660.0 533.8 L661.0 533.8 L662.0 533.8 L663.0 533.8 L664.0 533.8 L665.0 533.8 L666.0 533.8 L667.0 533.8 L668.0 533.8 L669.0 533.8 L670.0 533.8 L671.0 533.8 L672.0 533.8 L673.0 533.8 L674.0 533.8 L675.0 533.8 L676.0 533.8 L677.0 533.8 L678.0 533.8 L679.0 533.8 L680.0 533.8 L681.0 533.8 L682.0 533.8 L683.0 533.8 L684.0 533.8 L685.0 533.8 L686.0 533.8 L687.0 533.8 L688.0 533.8 L689.0 533.8 L690.0 533.8 L691.0 533.8 L692.0 533.8 L693.0 533.8 L694.0 533.8 L695.0 533.8 L696.0 533.8 L697.0 533.8 L698.0 533.8 L699.0 533.8 L700.0 533.8 L701.0 533.8 L702.0 533.8 L703.0 533.8 L704.0 533.8 L705.0 533.8 L706.0 533.8 L707.0 533.8 L708.0 533.8 L709.0 533.8 L710.0 533.8 L711.0 533.8 L712.0 533.8 L713.0 533.8 L714.0 533.8 L715.0 533.8 L716.0 533.8 L717.0 533.8 L718.0 533.8 L719.0 533.8 L720.0 533.8 L721.0 533.8 L722.0 533.8 L723.0 533.8 L724.0 533.8 L725.0 533.8 L726.0 533.8 L727.0 533.8 L728.0 533.8 L729.0 533.8 L730.0 533.8 L731.0 533.8 L732.0 533.8 L733.0 533.8 L734.0 533.8 L735.0 533.8 L736.0 533.8 L737.0 533.8 L738.0 533.8 L739.0 533.8 L740.0 533.8 L741.0 533.8 L742.0 533.8 L743.0 533.8 L744.0 533.8 L745.0 533.8 L746.0 533.8 L747.0 533.8 L748.0 533.8 L749.0 533.8 L750.0 533.8 L751.0 533.8 L752.0 533.8 L753.0 533.8 L754.0 533.8 L755.0 533.8 L756.0 533.8 L757.0 533.8 L758.0 533.8 L759.0 533.8 L760.0 533.8 L761.0 533.8 L762.0 533.8 L763.0 533.8 L764.0 533.8 L765.0 533.8 L766.0 533.8 L767.0 533.8 L768.0 533.8 L769.0 533.8 L770.0 533.8 L771.0 533.8 L772.0 533.8 L773.0 533.8 L774.0 533.8 L775.0 533.8 L776.0 533.8 L777.0 533.8 L778.0 533.8 L779.0 533.8 L780.0 533.8 L781.0 533.8 L782.0 533.8 L783.0 533.8 L784.0 533.8 L785.0 533.8 L786.0 533.8 L787.0 533.8 L788.0 533.8 L789.0 533.8 L790.0 533.8 L791.0 533.8 L792.0 533.8 L793.0 533.8 L794.0 533.8 L795.0 533.8 L796.0 533.8 L797.0 533.8 L798.0 533.8 L799.0 533.8 L800.0 533.8 L801.0 533.8 L802.0 533.8 L803.0 533.8 L804.0 533.8 L805.0 533.8 L806.0 533.8 L807.0 533.8 L808.0 533.8 L809.0 533.8 L810.0 533.8 L811.0 533.8 L812.0 533.8 L813.0 533.8 L814.0 533.8 L815.0 533.8 L816.0 533.8 L817.0 533.8 L818.0 533.8 L819.0 533.8 L820.0 533.8 L821.0 533.8 L822.0 533.8 L823.0 533.8 L824.0 533.8 L825.0 533.8 L826.0 533.8 L827.0 533.8 L828.0 533.8 L829.0 533.8 L830.0 533.8 L831.0 533.8 L832.0 533.8 L833.0 533.8 L834.0 533.8 L835.0 533.8 L836.0 533.8 L837.0 533.8 L838.0 533.8 L839.0 533.8 L840.0 533.8 L841.0 533.8 L842.0 533.8 L843.0 533.8 L844.0 533.8 L845.0 533.8 L846.0 533.8 L847.0 533.8 L848.0 533.8 L849.0 533.8 L850.0 533.8 L851.0 533.8 L852.0 533.8 L853.0 533.8 L854.0 533.8 L855.0 533.8 L856.0 533.8 L857.0 533.8 L858.0 533.8 L859.0 533.8 L860.0 533.8 L861.0 533.8 L862.0 533.8 L863.0 533.8 L864.0 533.8 L865.0 533.8 L866.0 533.8 L867.0 533.8 L868.0 533.8 L869.0 533.8 L870.0 533.8 L871.0 533.8 L872.0 533.8 L873.0 533.8 L874.0 533.8 L875.0 533.8 L876.0 533.8 L877.0 533.8 L878.0 533.8 L879.0 533.8 L880.0 533.8 L881.0 533.8 L882.0 533.8 L883.0 533.8 L884.0 533.8 L885.0 533.8 L886.0 533.8 L887.0 533.8 L888.0 533.8 L889.0 533.8 L890.0 533.8 L891.0 533.8 L892.0 533.8 L893.0 533.8 L894.0 533.8 L895.0 533.8 L896.0 533.8 L897.0 533.8 L898.0 533.8 L899.0 533.8 L900.0 533.8 L901.0 533.8 L902.0 533.8 L903.0 533.8 L904.0 533.8 L905.0 533.8 L906.0 533.8 L907.0 533.8 L908.0 533.8 L909.0 533.8 L910.0 533.8 L911.0 533.8 L912.0 533.8 L913.0 533.8 L914.0 533.8 L915.0 533.8 L916.0 533.8 L917.0 533.8 L918.0 533.8 L919.0 533.8 L920.0 533.8 L921.0 533.8 L922.0 533.8 L923.0 533.8 L924.0 533.8 L925.0 533.8 L926.0 533.8 L927.0 533.8 L928.0 533.8 L929.0 533.8 L930.0 533.8 L931.0 533.8 L932.0 533.8 L933.0 533.8 L934.0 533.8 L935.0 533.8 L936.0 533.8 L937.0 533.8 L938.0 533.8 L939.0 533.8 L940.0 533.8 L941.0 533.8 L942.0 533.8 L943.0 533.8 L944.0 533.8 L945.0 533.8 L946.0 533.8 L947.0 533.8 L948.0 533.8 L949.0 533.8 L950.0 533.8 L951.0 533.8 L952.0 533.8 L953.0 533.8 L954.0 533.8 L955.0 533.8 L956.0 533.8 L957.0 533.8 L958.0 533.8 L959.0 533.8 L960.0 533.8 L961.0 533.8 L962.0 533.8 L963.0 533.8 L964.0 533.8 L965.0 533.8 L966.0 533.8 L967.0 533.8 L968.0 533.8 L969.0 533.8 L970.0 533.8 L971.0 533.8 L972.0 533.8 L973.0 533.8 L974.0 533.8 L975.0 533.8 L976.0 533.8 L977.0 533.8 L978.0 533.8 L979.0 533.8 L980.0 533.8 L981.0 533.8 L982.0 533.8 L983.0 533.8 L984.0 533.8 L985.0 533.8 L986.0 533.8 L987.0 533.8 L988.0 533.8 L989.0 533.8 L990.0 533.8 L991.0 533.8 L992.0 533.8 L993.0 533.8 L994.0 533.8 L995.0 533.8 L996.0 533.8 L997.0 533.8 L998.0 533.8 L999.0 533.8 L1000.0 533.8 L1001.0 533.8 L1002.0 533.8 L1003.0 533.8 L1004.0 533.8 L1005.0 533.8 L1006.0 533.8 L1007.0 533.8 L1008.0 533.8 L1009.0 533.8 L1010.0 533.8 L1011.0 533.8 L1012.0 533.8 L1013.0 533.8 L1014.0 533.8 L1015.0 533.8 L1016.0 533.8 L1017.0 533.8 L1018.0 533.8 L1019.0 533.8 L1020.0 533.8 L1021.0 533.8 L1022.0 533.8 L1023.0 533.8 L1024.0 533.8 L1025.0 533.8 L1026.0 533.8 L1027.0 533.8 L1028.0 533.8 L1029.0 533.8 L1030.0 533.8 L1031.0 533.8 L1032.0 533.8 L1033.0 533.8 L1034.0 533.8 L1035.0 533.8 L1036.0 533.8 L1037.0 533.8 L1038.0 533.8 L1039.0 533.8 L1040.0 533.8 L1041.0 533.8 L1042.0 533.8 L1043.0 533.8 L1044.0 533.8 L1045.0 533.8 L1046.0 533.8 L1047.0 533.8 L1048.0 533.8 L1049.0 533.8 L1050.0 533.8 L1051.0 533.8 L1052.0 533.8 L1053.0 533.8 L1054.0 533.8 L1055.0 533.8 L1056.0 533.8 L1057.0 533.8 L1058.0 533.8 L1059.0 533.8 L1060.0 533.8 L1061.0 533.8 L1062.0 533.8 L1063.0 533.8 L1064.0 533.8 L1065.0 533.8 L1066.0 533.8 L1067.0 533.8 L1068.0 533.8 L1069.0 533.8 L1070.0 533.8 L1071.0 533.8 L1072.0 533.8 L1073.0 533.8 L1074.0 533.8 L1075.0 533.8 L1076.0 533.8 L1077.0 533.8 L1078.0 533.8 L1079.0 533.8 L1080.0 533.8 L1081.0 533.8 L1082.0 533.8 L1083.0 533.8 L1084.0 533.8 L1085.0 533.8 L1086.0 533.8 L1087.0 533.8 L1088.0 533.8 L1089.0 533.8 L1090.0 533.8 L1091.0 533.8 L1092.0 533.8 L1093.0 533.8 L1094.0 533.8 L1095.0 533.8 L1096.0 533.8 L1097.0 533.8 L1098.0 533.8 L1099.0 533.8 L1100.0 533.8 L1101.0 533.8 L1102.0 533.8 L1103.0 533.8 L1104.0 533.8 L1105.0 533.8 L1106.0 533.8 L1107.0 533.8 L1108.0 533.8 L1109.0 533.8 L1110.0 533.8 L1111.0 533.8 L1112.0 533.8 L1113.0 533.8 L1114.0 533.8 L1115.0 533.8 L1116.0 533.8 L1117.0 533.8 L1118.0 533.8 L1119.0 533.8 L1120.0 533.8 L1121.0 533.8 L1122.0 533.8 L1123.0 533.8 L1124.0 533.8 L1125.0 533.8 L1126.0 533.8 L1127.0 533.8 L1128.0 533.8 L1129.0 533.8 L1130.0 533.8 L1131.0 533.8 L1132.0 533.8 L1133.0 533.8 L1134.0 533.8 L1135.0 533.8 L1136.0 533.8 L1137.0 533.8 L1138.0 533.8 L1139.0 533.8 L1140.0 533.8 L1141.0 533.8 L1142.0 533.8 L1143.0 533.8 L1144.0 533.8 L1145.0 533.8 L1146.0 533.8 L1147.0 533.8 L1148.0 533.8 L1149.0 533.8 L1150.0 533.8 L1151.0 533.8 L1152.0 533.8 L1153.0 533.8 L1154.0 533.8 L1155.0 533.8 L1156.0 533.8 L1157.0 533.8 L1158.0 533.8 L1159.0 533.8 L1160.0 533.8 L1161.0 533.8 L1162.0 533.8 L1163.0 533.8 L1164.0 533.8 L1165.0 533.8 L1166.0 533.8 L1167.0 533.8 L1168.0 533.8 L1169.0 533.8 L1170.0 533.8 L1171.0 533.8 L1172.0 533.8 L1173.0 533.8 L1174.0 533.8 L1175.0 533.8 L1176.0 533.8 L1177.0 533.8 L1178.0 533.8 L1179.0 533.8 L1180.0 533.8 L1181.0 533.8 L1182.0 533.8 L1183.0 533.8 L1184.0 533.8 L1185.0 533.8 L1186.0 533.8 L1187.0 533.8 L1188.0 533.8 L1189.0 533.8 L1190.0 533.8 L1191.0 533.8 L1192.0 533.8"/>
<path stroke="#ff0000" d="M96.0 533.2 L97.0 533.2 L98.0 533.1 L99.0 533.1 L100.0 533.1 L101.0 533.1 L102.0 533.1 L103.0 533.1 L104.0 533.1 L105.0 533.1 L106.0 533.1 L107.0 533.1 L108.0 533.0 L109.0 533.0 L110.0 533.0 L111.0 533.0 L112.0 533.0 L113.0 533.0 L114.0 533.0 L115.0 533.0 L116.0 533.0 L117.0 532.9 L118.0 532.9 L119.0 532.9 L120.0 532.9 L121.0 532.9 L122.0 532.9 L123.0 532.9 L124.0 532.8 L125.0 532.8 L126.0 532.8 L127.0 532.8 L128.0 532.8 L129.0 532.8 L130.0 532.7 L131.0 532.7 L132.0 532.7 L133.0 532.7 L134.0 532.7 L135.0 532.6 L136.0 532.6 L137.0 532.6 L138.0 532.6 L139.0 532.6 L140.0 532.5 L141.0 532.5 L142.0 532.5 L143.0 532.4 L144.0 532.4 L145.0 532.4 L146.0 532.4 L147.0 532.3 L148.0 532.3 L149.0 532.3 L150.0 532.2 L151.0 532.2 L152.0 532.1 L153.0 532.1 L154.0 532.0 L155.0 532.0 L156.0 531.9 L157.0 531.9 L158.0 531.8 L159.0 531.7 L160.0 531.7 L161.0 531.6 L162.0 531.5 L163.0 531.4 L164.0 531.3 L165.0 531.1 L166.0 531.0 L167.0 530.8 L168.0 530.7 L169.0 530.5 L170.0 530.2 L171.0 530.0 L172.0 529.7 L173.0 529.4 L174.0 529.1 L175.0 528.7 L176.0 528.3 L177.0 527.8 L178.0 527.3 L179.0 526.7 L180.0 526.1 L181.0 525.4 L182.0 524.6 L183.0 523.7 L184.0 522.8 L185.0 521.7 L186.0 520.5 L187.0 519.3 L188.0 517.9 L189.0 516.4 L190.0 514.7 L191.0 512.9 L192.0 510.9 L193.0 508.8 L194.0 506.5 L195.0 504.0 L196.0 501.3 L197.0 498.5 L198.0 495.4 L199.0 492.1 L200.0 488.6 L201.0 484.9 L202.0 480.9 L203.0 476.7 L204.0 472.3 L205.0 467.7 L206.0 462.8 L207.0 457.7 L208.0 452.3 L209.0 446.8 L210.0 441.0 L211.0 435.0 L212.0 428.8 L213.0 422.5 L214.0 415.9 L215.0 409.3 L216.0 402.5 L217.0 395.5 L218.0 388.5 L219.0 381.5 L220.0 374.4 L221.0 367.3 L222.0 360.2 L223.0 353.1 L224.0 346.2 L225.0 339.3 L226.0 332.6 L227.0 326.1 L228.0 319.9 L229.0 313.8 L230.0 308.1 L231.0 302.6 L232.0 297.6 L233.0 292.9 L234.0 288.6 L235.0 284.8 L236.0 281.4 L237.0 278.6 L238.0 276.2 L239.0 274.4 L240.0 273.2 L241.0 272.5 L242.0 272.3 L243.0 272.7 L244.0 273.7 L245.0 275.2 L246.0 277.3 L247.0 279.9 L248.0 283.0 L249.0 286.5 L250.0 290.6 L251.0 295.0 L252.0 299.9 L253.0 305.1 L254.0 310.7 L255.0 316.6 L256.0 322.8 L257.0 329.2 L258.0 335.8 L259.0 342.5 L260.0 349.4 L261.0 356.4 L262.0 363.5 L263.0 370.6 L264.0 377.7 L265.0 384.8 L266.0 391.8 L267.0 398.8 L268.0 405.7 L269.0 412.4 L270.0 419.0 L271.0 425.5 L272.0 431.8 L273.0 437.8 L274.0 443.7 L275.0 449.4 L276.0 454.9 L277.0 460.1 L278.0 465.1 L279.0 469.9 L280.0 474.4 L281.0 478.7 L282.0 482.8 L283.0 486.7 L284.0 490.3 L285.0 493.7 L286.0 496.9 L287.0 499.8 L288.0 502.6 L289.0 505.2 L290.0 507.6 L291.0 509.8 L292.0 511.9 L293.0 513.8 L294.0 515.5 L295.0 517.1 L296.0 518.5 L297.0 519.9 L298.0 521.1 L299.0 522.2 L300.0 523.2 L301.0 524.1 L302.0 525.0 L303.0 525.7 L304.0 526.4 L305.0 527.0 L306.0 527.6 L307.0 528.0 L308.0 528.5 L309.0 528.9 L310.0 529.3 L311.0 529.6 L312.0 529.9 L313.0 530.1 L314.0 530.4 L315.0 530.6 L316.0 530.7 L317.0 530.9 L318.0 531.1 L319.0 531.2 L320.0 531.3 L321.0 531.4 L322.0 531.5 L323.0 531.6 L324.0 531.7 L325.0 531.8 L326.0 531.8 L327.0 531.9 L328.0 532.0 L329.0 532.0 L330.0 532.1 L331.0 532.1 L332.0 532.2 L333.0 532.2 L334.0 532.2 L335.0 532.3 L336.0 532.3 L337.0 532.3 L338.0 532.4 L339.0 532.4 L340.0 532.4 L341.0 532.5 L342.0 532.5 L343.0 532.5 L344.0 532.5 L345.0 532.6 L346.0 532.6 L347.0 532.6 L348.0 532.6 L349.0 532.6 L350.0 532.7 L351.0 532.7 L352.0 532.7 L353.0 532.7 L354.0 532.7 L355.0 532.8 L356.0 532.8 L357.0 532.8 L358.0 532.8 L359.0 532.8 L360.0 532.8 L361.0 532.9 L362.0 532.9 L363.0 532.9 L364.0 532.9 L365.0 532.9 L366.0 532.9 L367.0 532.9 L368.0 533.0 L369.0 533.0 L370.0 533.0 L371.0 533.0 L372.0 533.0 L373.0 533.0 L374.0 533.0 L375.0 533.0 L376.0 533.1 L377.0 533.1 L378.0 533.1 L379.0 533.1 L380.0 533.1 L381.0 533.1 L382.0 533.1 L383.0 533.1 L384.0 533.1 L385.0 533.1 L386.0 533.1 L387.0 533.2 L388.0 533.2 L389.0 533.2 L390.0 533.2 L391.0 533.2 L392.0 533.2 L393.0 533.2 L394.0 533.2 L395.0 533.2 L396.0 533.2 L397.0 533.2 L398.0 533.2 L399.0 533.2 L400.0 533.3 L401.0 533.3 L402.0 533.3 L403.0 533.3 L404.0 533.3 L405.0 533.3 L406.0 533.3 L407.0 533.3 L408.0 533.3 L409.0 533.3 L410.0 533.3 L411.0 533.3 L412.0 533.3 L413.0 533.3 L414.0 533.3 L415.0 533.3 L416.0 533.3 L417.0 533.4 L418.0 533.4 L419.0 533.4 L420.0 533.4 L421.0 533.4 L422.0 533.4 L423.0 533.4 L424.0 533.4 L425.0 533.4 L426.0 533.4 L427.0 533.4 L428.0 533.4 L429.0 533.4 L430.0 533.4 L431.0 533.4 L432.0 533.4 L433.0 533.4 L434.0 533.4 L435.0 533.4 L436.0 533.4 L437.0 533.4 L438.0 533.4 L439.0 533.4 L440.0 533.5 L441.0 533.5 L442.0 533.5 L443.0 533.5 L444.0 533.5 L445.0 533.5 L446.0 533.5 L447.0 533.5 L448.0 533.5 L449.0 533.5 L450.0 533.5 L451.0 533.5 L452.0 533.5 L453.0 533.5 L454.0 533.5 L455.0 533.5 L456.0 533.5 L457.0 533.5 L458.0 533.5 L459.0 533.5 L460.0 533.5 L461.0 533.5 L462.0 533.5 L463.0 533.5 L464.0 533.5 L465.0 533.5 L466.0 533.5 L467.0 533.5 L468.0 533.5 L469.0 533.5 L470.0 533.5 L471.0 533.5 L472.0 533.5 L473.0 533.5 L474.0 533.5 L475.0 533.5 L476.0 533.5 L477.0 533.6 L478.0 533.6 L479.0 533.6 L480.0 533.6 L481.0 533.6 L482.0 533.6 L483.0 533.6 L484.0 533.6 L485.0 533.6 L486.0 533.6 L487.0 533.6 L488.0 533.6 L489.0 533.6 L490.0 533.6 L491.0 533.6 L492.0 533.6 L493.0 533.6 L494.0 533.6 L495.0 533.6 L496.0 533.6 L497.0 533.6 L498.0 533.6 L499.0 533.6 L500.0 533.6 L501.0 533.6 L502.0 533.6 L503.0 533.6 L504.0 533.6 L505.0 533.6 L506.0 533.6 L507.0 533.6 L508.0 533.6 L509.0 533.6 L510.0 533.6 L511.0 533.6 L512.0 533.6 L513.0 533.6 L514.0 533.6 L515.0 533.6 L516.0 533.6 L517.0 533.6 L518.0 533.6 L519.0 533.6 L520.0 533.6 L521.0 533.6 L522.0 533.6 L523.0 533.6 L524.0 533.6 L525.0 533.6 L526.0 533.6 L527.0 533.6 L528.0 533.6 L529.0 533.6 L530.0 533.6 L531.0 533.6 L532.0 533.6 L533.0 533.6 L534.0 533.6 L535.0 533.6 L536.0 533.6 L537.0 533.6 L538.0 533.6 L539.0 533.6 L540.0 533.6 L541.0 533.6 L542.0 533.6 L543.0 533.6 L544.0 533.6 L545.0 533.6 L546.0 533.7 L547.0 533.7 L548.0 533.7 L549.0 533.7 L550.0 533.7 L551.0 533.7 L552.0 533.7 L553.0 533.7 L554.0 533.7 L555.0 533.7 L556.0 533.7 L557.0 533.7 L558.0 533.7 L559.0 533.7 L560.0 533.7 L561.0 533.7 L562.0 533.7 L563.0 533.7 L564.0 533.7 L565.0 533.7 L566.0 533.7 L567.0 533.7 L568.0 533.7 L569.0 533.7 L570.0 533.7 L571.0 533.7 L572.0 533.7 L573.0 533.7 L574.0 533.7 L575.0 533.7 L576.0 533.7 L577.0 533.7 L578.0 533.7 L579.0 533.7 L580.0 533.7 L581.0 533.7 L582.0 533.7 L583.0 533.7 L584.0 533.7 L585.0 533.7 L586.0 533.7 L587.0 533.7 L588.0 533.7 L589.0 533.7 L590.0 533.7 L591.0 533.7 L592.0 533.7 L593.0 533.7 L594.0 533.7 L595.0 533.7 L596.0 533.7 L597.0 533.7 L598.0 533.7 L599.0 533.7 L600.0 533.7 L601.0 533.7 L602.0 533.7 L603.0 533.7 L604.0 533.7 L605.0 533.7 L606.0 533.7 L607.0 533.7 L608.0 533.7 L609.0 533.7 L610.0 533.7 L611.0 533.7 L612.0 533.7 L613.0 533.7 L614.0 533.7 L615.0 533.7 L616.0 533.7 L617.0 533.7 L618.0 533.7 L619.0 533.7 L620.0 533.7 L621.0 533.7 L622.0 533.7 L623.0 533.7 L624.0 533.7 L625.0 533.7 L626.0 533.7 L627.0 533.7 L628.0 533.7 L629.0 533.7 L630.0 533.7 L631.0 533.7 L632.0 533.7 L633.0 533.7 L634.0 533.7 L635.0 533.7 L636.0 533.7 L637.0 533.7 L638.0 533.7 L639.0 533.7 L640.0 533.7 L641.0 533.7 L642.0 533.7 L643.0 533.7 L644.0 533.7 L645.0 533.7 L646.0 533.7 L647.0 533.7 L648.0 533.7 L649.0 533.7 L650.0 533.7 L651.0 533.7 L652.0 533.7 L653.0 533.7 L654.0 533.7 L655.0 533.7 L656.0 533.7 L657.0 533.7 L658.0 533.7 L659.0 533.7 L660.0 533.7 L661.0 533.7 L662.0 533.7 L663.0 533.7 L664.0 533.7 L665.0 533.7 L666.0 533.7 L667.0 533.7 L668.0 533.7 L669.0 533.7 L670.0 533.7 L671.0 533.7 L672.0 533.7 L673.0 533.7 L674.0 533.7 L675.0 533.7 L676.0 533.7 L677.0 533.7 L678.0 533.7 L679.0 533.7 L680.0 533.7 L681.0 533.7 L682.0 533.7 L683.0 533.7 L684.0 533.7 L685.0 533.7 L686.0 533.7 L687.0 533.7 L688.0 533.7 L689.0 533.7 L690.0 533.7 L691.0 533.7 L692.0 533.7 L693.0 533.7 L694.0 533.7 L695.0 533.7 L696.0 533.7 L697.0 533.7 L698.0 533.7 L699.0 533.7 L700.0 533.7 L701.0 533.7 L702.0 533.7 L703.0 533.7 L704.0 533.7 L705.0 533.7 L706.0 533.7 L707.0 533.7 L708.0 533.7 L709.0 533.7 L710.0 533.7 L711.0 533.7 L712.0 533.7 L713.0 533.7 L714.0 533.7 L715.0 533.7 L716.0 533.7 L717.0 533.7 L718.0 533.7 L719.0 533.7 L720.0 533.7 L721.0 533.7 L722.0 533.7 L723.0 533.7 L724.0 533.7 L725.0 533.7 L726.0 533.7 L727.0 533.7 L728.0 533.7 L729.0 533.7 L730.0 533.7 L731.0 533.7 L732.0 533.7 L733.0 533.7 L734.0 533.7 L735.0 533.7 L736.0 533.7 L737.0 533.7 L738.0 533.7 L739.0 533.7 L740.0 533.7 L741.0 533.7 L742.0 533.7 L743.0 533.7 L744.0 533.7 L745.0 533.7 L746.0 533.7 L747.0 533.7 L748.0 533.7 L749.0 533.7 L750.0 533.7 L751.0 533.7 L752.0 533.7 L753.0 533.7 L754.0 533.7 L755.0 533.7 L756.0 533.7 L757.0 533.7 L758.0 533.7 L759.0 533.7 L760.0 533.7 L761.0 533.7 L762.0 533.7 L763.0 533.7 L764.0 533.7 L765.0 533.7 L766.0 533.7 L767.0 533.7 L768.0 533.7 L769.0 533.7 L770.0 533.8 L771.0 533.8 L772.0 533.8 L773.0 533.8 L774.0 533.8 L775.0 533.8 L776.0 533.8 L777.0 533.8 L778.0 533.8 L779.0 533.8 L780.0 533.8 L781.0 533.8 L782.0 533.8 L783.0 533.8 L784.0 533.8 L785.0 533.8 L786.0 533.8 L787.0 533.8 L788.0 533.8 L789.0 533.8 L790.0 533.8 L791.0 533.8 L792.0 533.8 L793.0 533.8 L794.0 533.8 L795.0 533.8 L796.0 533.8 L797.0 533.8 L798.0 533.8 L799.0 533.8 L800.0 533.8 L801.0 533.8 L802.0 533.8 L803.0 533.8 L804.0 533.8 L805.0 533.8 L806.0 533.8 L807.0 533.8 L808.0 533.8 L809.0 533.8 L810.0 533.8 L811.0 533.8 L812.0 533.8 L813.0 533.8 L814.0 533.8 L815.0 533.8 L816.0 533.8 L817.0 533.8 L818.0 533.8 L819.0 533.8 L820.0 533.8 L821.0 533.8 L822.0 533.8 L823.0 533.8 L824.0 533.8 L825.0 533.8 L826.0 533.8 L827.0 533.8 L828.0 533.8 L829.0 533.8 L830.0 533.8 L831.0 533.8 L832.0 533.8 L833.0 533.8 L834.0 533.8 L835.0 533.8 L836.0 533.8 L837.0 533.8 L838.0 533.8 L839.0 533.8 L840.0 533.8 L841.0 533.8 L842.0 533.8 L843.0 533.8 L844.0 533.8 L845.0 533.8 L846.0 533.8 L847.0 533.8 L848.0 533.8 L849.0 533.8 L850.0 533.8 L851.0 533.8 L852.0 533.8 L853.0 533.8 L854.0 533.8 L855.0 533.8 L856.0 533.8 L857.0 533.8 L858.0 533.8 L859.0 533.8 L860.0 533.8 L861.0 533.8 L862.0 533.8 L863.0 533.8 L864.0 533.8 L865.0 533.8 L866.0 533.8 L867.0 533.8 L868.0 533.8 L869.0 533.8 L870.0 533.8 L871.0 533.8 L872.0 533.8 L873.0 533.8 L874.0 533.8 L875.0 533.8 L876.0 533.8 L877.0 533.8 L878.0 533.8 L879.0 533.8 L880.0 533.8 L881.0 533.8 L882.0 533.8 L883.0 533.8 L884.0 533.8 L885.0 533.8 L886.0 533.8 L887.0 533.8 L888.0 533.8 L889.0 533.8 L890.0 533.8 L891.0 533.8 L892.0 533.8 L893.0 533.8 L894.0 533.8 L895.0 533.8 L896.0 533.8 L897.0 533.8 L898.0 533.8 L899.0 533.8 L900.0 533.8 L901.0 533.8 L902.0 533.8 L903.0 533.8 L904.0 533.8 L905.0 533.8 L906.0 533.8 L907.0 533.8 L908.0 533.8 L909.0 533.8 L910.0 533.8 L911.0 533.8 L912.0 533.8 L913.0 533.8 L914.0 533.8 L915.0 533.8 L916.0 533.8 L917.0 533.8 L918.0 533.8 L919.0 533.8 L920.0 533.8 L921.0 533.8 L922.0 533.8 L923.0 533.8 L924.0 533.8 L925.0 533.8 L926.0 533.8 L927.0 533.8 L928.0 533.8 L929.0 533.8 L930.0 533.8 L931.0 533.8 L932.0 533.8 L933.0 533.8 L934.0 533.8 L935.0 533.8 L936.0 533.8 L937.0 533.8 L938.0 533.8 L939.0 533.8 L940.0 533.8 L941.0 533.8 L942.0 533.8 L943.0 533.8 L944.0 533.8 L945.0 533.8 L946.0 533.8 L947.0 533.8 L948.0 533.8 L949.0 533.8 L950.0 533.8 L951.0 533.8 L952.0 533.8 L953.0 533.8 L954.0 533.8 L955.0 533.8 L956.0 533.8 L957.0 533.8 L958.0 533.8 L959.0 533.8 L960.0 533.8 L961.0 533.8 L962.0 533.8 L963.0 533.8 L964.0 533.8 L965.0 533.8 L966.0 533.8 L967.0 533.8 L968.0 533.8 L969.0 533.8 L970.0 533.8 L971.0 533.8 L972.0 533.8 L973.0 533.8 L974.0 533.8 L975.0 533.8 L976.0 533.8 L977.0 533.8 L978.0 533.8 L979.0 533.8 L980.0 533.8 L981.0 533.8 L982.0 533.8 L983.0 533.8 L984.0 533.8 L985.0 533.8 L986.0 533.8 L987.0 533.8 L988.0 533.8 L989.0 533.8 L990.0 533.8 L991.0 533.8 L992.0 533.8 L993.0 533.8 L994.0 533.8 L995.0 533.8 L996.0 533.8 L997.0 533.8 L998.0 533.8 L999.0 533.8 L1000.0 533.8 L1001.0 533.8 L1002.0 533.8 L1003.0 533.8 L1004.0 533.8 L1005.0 533.8 L1006.0 533.8 L1007.0 533.8 L1008.0 533.8 L1009.0 533.8 L1010.0 533.8 L1011.0 533.8 L1012.0 533.8 L1013.0 533.8 L1014.0 533.8 L1015.0 533.8 L1016.0 533.8 L1017.0 533.8 L1018.0 533.8 L1019.0 533.8 L1020.0 533.8 L1021.0 533.8 L1022.0 533.8 L1023.0 533.8 L1024.0 533.8 L1025.0 533.8 L1026.0 533.8 L1027.0 533.8 L1028.0 533.8 L1029.0 533.8 L1030.0 533.8 L1031.0 533.8 L1032.0 533.8 L1033.0 533.8 L1034.0 533.8 L1035.0 533.8 L1036.0 533.8 L1037.0 533.8 L1038.0 533.8 L1039.0 533.8 L1040.0 533.8 L1041.0 533.8 L1042.0 533.8 L1043.0 533.8 L1044.0 533.8 L1045.0 533.8 L1046.0 533.8 L1047.0 533.8 L1048.0 533.8 L1049.0 533.8 L1050.0 533.8 L1051.0 533.8 L1052.0 533.8 L1053.0 533.8 L1054.0 533.8 L1055.0 533.8 L1056.0 533.8 L1057.0 533.8 L1058.0 533.8 L1059.0 533.8 L1060.0 533.8 L1061.0 533.8 L1062.0 533.8 L1063.0 533.8 L1064.0 533.8 L1065.0 533.8 L1066.0 533.8 L1067.0 533.8 L1068.0 533.8 L1069.0 533.8 L1070.0 533.8 L1071.0 533.8 L1072.0 533.8 L1073.0 533.8 L1074.0 533.8 L1075.0 533.8 L1076.0 533.8 L1077.0 533.8 L1078.0 533.8 L1079.0 533.8 L1080.0 533.8 L1081.0 533.8 L1082.0 533.8 L1083.0 533.8 L1084.0 533.8 L1085.0 533.8 L1086.0 533.8 L1087.0 533.8 L1088.0 533.8 L1089.0 533.8 L1090.0 533.8 L1091.0 533.8 L1092.0 533.8 L1093.0 533.8 L1094.0 533.8 L1095.0 533.8 L1096.0 533.8 L1097.0 533.8 L1098.0 533.8 L1099.0 533.8 L1100.0 533.8 L1101.0 533.8 L1102.0 533.8 L1103.0 533.8 L1104.0 533.8 L1105.0 533.8 L1106.0 533.8 L1107.0 533.8 L1108.0 533.8 L1109.0 533.8 L1110.0 533.8 L1111.0 533.8 L1112.0 533.8 L1113.0 533.8 L1114.0 533.8 L1115.0 533.8 L1116.0 533.8 L1117.0 533.8 L1118.0 533.8 L1119.0 533.8 L1120.0 533.8 L1121.0 533.8 L1122.0 533.8 L1123.0 533.8 L1124.0 533.8 L1125.0 533.8 L1126.0 533.8 L1127.0 533.8 L1128.0 533.8 L1129.0 533.8 L1130.0 533.8 L1131.0 533.8 L1132.0 533.8 L1133.0 533.8 L1134.0 533.8 L1135.0 533.8 L1136.0 533.8 L1137.0 533.8 L1138.0 533.8 L1139.0 533.8 L1140.0 533.8 L1141.0 533.8 L1142.0 533.8 L1143.0 533.8 L1144.0 533.8 L1145.0 533.8 L1146.0 533.8 L1147.0 533.8 L1148.0 533.8 L1149.0 533.8 L1150.0 533.8 L1151.0 533.8 L1152.0 533.8 L1153.0 533.8 L1154.0 533.8 L1155.0 533.8 L1156.0 533.8 L1157.0 533.8 L1158.0 533.8 L1159.0 533.8 L1160.0 533.8 L1161.0 533.8 L1162.0 533.8 L1163.0 533.8 L1164.0 533.8 L1165.0 533.8 L1166.0 533.8 L1167.0 533.8 L1168.0 533.8 L1169.0 533.8 L1170.0 533.8 L1171.0 533.8 L1172.0 533.8 L1173.0 533.8 L1174.0 533.8 L1175.0 533.8 L1176.0 533.8 L1177.0 533.8 L1178.0 533.8 L1179.0 533.8 L1180.0 533.8 L1181.0 533.8 L1182.0 533.8 L1183.0 533.8 L1184.0 533.8 L1185.0 533.8 L1186.0 533.8 L1187.0 533.8 L1188.0 533.8 L1189.0 533.8 L1190.0 533.8 L1191.0 533.8 L1192.0 533.8"/>
<path stroke="#00ff00" d="M96.0 533.8 L97.0 533.8 L98.0 533.8 L99.0 533.8 L100.0 533.8 L101.0 533.8 L102.0 533.8 L103.0 533.8 L104.0 533.8 L105.0 533.8 L106.0 533.8 L107.0 533.8 L108.0 533.8 L109.0 533.8 L110.0 533.8 L111.0 533.8 L112.0 533.8 L113.0 533.8 L114.0 533.8 L115.0 533.8 L116.0 533.8 L117.0 533.8 L118.0 533.8 L119.0 533.8 L120.0 533.8 L121.0 533.8 L122.0 533.8 L123.0 533.8 L124.0 533.8 L125.0 533.8 L126.0 533.8 L127.0 533.8 L128.0 533.8 L129.0 533.8 L130.0 533.8 L131.0 533.8 L132.0 533.8 L133.0 533.8 L134.0 533.8 L135.0 533.8 L136.0 533.7 L137.0 533.7 L138.0 533.7 L139.0 533.7 L140.0 533.7 L141.0 533.7 L142.0 533.7 L143.0 533.7 L144.0 533.7 L145.0 533.7 L146.0 533.7 L147.0 533.6 L148.0 533.6 L149.0 533.6 L150.0 533.6 L151.0 533.6 L152.0 533.6 L153.0 533.5 L154.0 533.5 L155.0 533.5 L156.0 533.5 L157.0 533.4 L158.0 533.4 L159.0 533.4 L160.0 533.3 L161.0 533.3 L162.0 533.2 L163.0 533.2 L164.0 533.1 L165.0 533.1 L166.0 533.0 L167.0 532.9 L168.0 532.9 L169.0 532.8 L170.0 532.7 L171.0 532.6 L172.0 532.5 L173.0 532.4 L174.0 532.3 L175.0 532.2 L176.0 532.1 L177.0 532.0 L178.0 531.8 L179.0 531.7 L180.0 531.5 L181.0 531.4 L182.0 531.2 L183.0 531.0 L184.0 530.8 L185.0 530.6 L186.0 530.4 L187.0 530.2 L188.0 529.9 L189.0 529.7 L190.0 529.4 L191.0 529.1 L192.0 528.8 L193.0 528.5 L194.0 528.2 L195.0 527.8 L196.0 527.4 L197.0 527.0 L198.0 526.6 L199.0 526.2 L200.0 525.8 L201.0 525.3 L202.0 524.8 L203.0 524.3 L204.0 523.8 L205.0 523.2 L206.0 522.6 L207.0 522.0 L208.0 521.4 L209.0 520.7 L210.0 520.1 L211.0 519.3 L212.0 518.6 L213.0 517.9 L214.0 517.1 L215.0 516.3 L216.0 515.4 L217.0 514.6 L218.0 513.7 L219.0 512.7 L220.0 511.8 L221.0 510.8 L222.0 509.8 L223.0 508.8 L224.0 507.7 L225.0 506.6 L226.0 505.5 L227.0 504.4 L228.0 503.2 L229.0 502.0 L230.0 500.8 L231.0 499.5 L232.0 498.3 L233.0 497.0 L234.0 495.7 L235.0 494.4 L236.0 493.0 L237.0 491.6 L238.0 490.3 L239.0 488.9 L240.0 487.4 L241.0 486.0 L242.0 484.6 L243.0 483.1 L244.0 481.7 L245.0 480.2 L246.0 478.7 L247.0 477.3 L248.0 475.8 L249.0 474.3 L250.0 472.8 L251.0 471.4 L252.0 469.9 L253.0 468.5 L254.0 467.0 L255.0 465.6 L256.0 464.2 L257.0 462.8 L258.0 461.4 L259.0 460.1 L260.0 458.7 L261.0 457.4 L262.0 456.1 L263.0 454.9 L264.0 453.7 L265.0 452.5 L266.0 451.4 L267.0 450.3 L268.0 449.2 L269.0 448.2 L270.0 447.2 L271.0 446.3 L272.0 445.4 L273.0 444.6 L274.0 443.8 L275.0 443.1 L276.0 442.4 L277.0 441.8 L278.0 441.2 L279.0 440.7 L280.0 440.3 L281.0 439.9 L282.0 439.6 L283.0 439.3 L284.0 439.1 L285.0 439.0 L286.0 438.9 L287.0 438.9 L288.0 439.0 L289.0 439.1 L290.0 439.2 L291.0 439.5 L292.0 439.8 L293.0 440.1 L294.0 440.5 L295.0 441.0 L296.0 441.5 L297.0 442.1 L298.0 442.8 L299.0 443.5 L300.0 444.2 L301.0 445.0 L302.0 445.9 L303.0 446.8 L304.0 447.8 L305.0 448.8 L306.0 449.8 L307.0 450.9 L308.0 452.0 L309.0 453.2 L310.0 454.4 L311.0 455.6 L312.0 456.9 L313.0 458.1 L314.0 459.5 L315.0 460.8 L316.0 462.2 L317.0 463.6 L318.0 465.0 L319.0 466.4 L320.0 467.8 L321.0 469.3 L322.0 470.7 L323.0 472.2 L324.0 473.7 L325.0 475.1 L326.0 476.6 L327.0 478.1 L328.0 479.5 L329.0 481.0 L330.0 482.5 L331.0 483.9 L332.0 485.4 L333.0 486.8 L334.0 488.2 L335.0 489.6 L336.0 491.0 L337.0 492.4 L338.0 493.8 L339.0 495.1 L340.0 496.4 L341.0 497.7 L342.0 499.0 L343.0 500.2 L344.0 501.5 L345.0 502.7 L346.0 503.8 L347.0 505.0 L348.0 506.1 L349.0 507.2 L350.0 508.3 L351.0 509.3 L352.0 510.4 L353.0 511.4 L354.0 512.3 L355.0 513.3 L356.0 514.2 L357.0 515.0 L358.0 515.9 L359.0 516.7 L360.0 517.5 L361.0 518.3 L362.0 519.0 L363.0 519.7 L364.0 520.4 L365.0 521.1 L366.0 521.7 L367.0 522.4 L368.0 522.9 L369.0 523.5 L370.0 524.1 L371.0 524.6 L372.0 525.1 L373.0 525.6 L374.0 526.0 L375.0 526.4 L376.0 526.9 L377.0 527.3 L378.0 527.6 L379.0 528.0 L380.0 528.3 L381.0 528.7 L382.0 529.0 L383.0 529.3 L384.0 529.5 L385.0 529.8 L386.0 530.1 L387.0 530.3 L388.0 530.5 L389.0 530.7 L390.0 530.9 L391.0 531.1 L392.0 531.3 L393.0 531.5 L394.0 531.6 L395.0 531.8 L396.0 531.9 L397.0 532.0 L398.0 532.2 L399.0 532.3 L400.0 532.4 L401.0 532.5 L402.0 532.6 L403.0 532.7 L404.0 532.8 L405.0 532.8 L406.0 532.9 L407.0 533.0 L408.0 533.0 L409.0 533.1 L410.0 533.2 L411.0 533.2 L412.0 533.3 L413.0 533.3 L414.0 533.3 L415.0 533.4 L416.0 533.4 L417.0 533.4 L418.0 533.5 L419.0 533.5 L420.0 533.5 L421.0 533.5 L422.0 533.6 L423.0 533.6 L424.0 533.6 L425.0 533.6 L426.0 533.6 L427.0 533.7 L428.0 533.7 L429.0 533.7 L430.0 533.7 L431.0 533.7 L432.0 533.7 L433.0 533.7 L434.0 533.7 L435.0 533.7 L436.0 533.7 L437.0 533.7 L438.0 533.7 L439.0 533.8 L440.0 533.8 L441.0 533.8 L442.0 533.8 L443.0 533.8 L444.0 533.8 L445.0 533.8 L446.0 533.8 L447.0 533.8 L448.0 533.8 L449.0 533.8 L450.0 533.8 L451.0 533.8 L452.0 533.8 L453.0 533.8 L454.0 533.8 L455.0 533.8 L456.0 533.8 L457.0 533.8 L458.0 533.8 L459.0 533.8 L460.0 533.8 L461.0 533.8 L462.0 533.8 L463.0 533.8 L464.0 533.8 L465.0 533.8 L466.0 533.8 L467.0 533.8 L468.0 533.8 L469.0 533.8 L470.0 533.8 L471.0 533.8 L472.0 533.8 L473.0 533.8 L474.0 533.8 L475.0 533.8 L476.0 533.8 L477.0 533.8 L478.0 533.8 L479.0 533.8 L480.0 533.8 L481.0 533.8 L482.0 533.8 L483.0 533.8 L484.0 533.8 L485.0 533.8 L486.0 533.8 L487.0 533.8 L488.0 533.8 L489.0 533.8 L490.0 533.8 L491.0 533.8 L492.0 533.8 L493.0 533.8 L494.0 533.8 L495.0 533.8 L496.0 533.8 L497.0 533.8 L498.0 533.8 L499.0 533.8 L500.0 533.8 L501.0 533.8 L502.0 533.8 L503.0 533.8 L504.0 533.8 L505.0 533.8 L506.0 533.8 L507.0 533.8 L508.0 533.8 L509.0 533.8 L510.0 533.8 L511.0 533.8 L512.0 533.8 L513.0 533.8 L514.0 533.8 L515.0 533.8 L516.0 533.8 L517.0 533.8 L518.0 533.8 L519.0 533.8 L520.0 533.8 L521.0 533.8 L522.0 533.8 L523.0 533.8 L524.0 533.8 L525.0 533.8 L526.0 533.8 L527.0 533.8 L528.0 533.8 L529.0 533.8 L530.0 533.8 L531.0 533.8 L532.0 533.8 L533.0 533.8 L534.0 533.8 L535.0 533.8 L536.0 533.8 L537.0 533.8 L538.0 533.8 L539.0 533.8 L540.0 533.8 L541.0 533.8 L542.0 533.8 L543.0 533.8 L544.0 533.8 L545.0 533.8 L546.0 533.8 L547.0 533.8 L548.0 533.8 L549.0 533.8 L550.0 533.8 L551.0 533.8 L552.0 533.8 L553.0 533.8 L554.0 533.8 L555.0 533.8 L556.0 533.8 L557.0 533.8 L558.0 533.8 L559.0 533.8 L560.0 533.8 L561.0 533.8 L562.0 533.8 L563.0 533.8 L564.0 533.8 L565.0 533.8 L566.0 533.8 L567.0 533.8 L568.0 533.8 L569.0 533.8 L570.0 533.8 L571.0 533.8 L572.0 533.8 L573.0 533.8 L574.0 533.8 L575.0 533.8 L576.0 533.8 L577.0 533.8 L578.0 533.8 L579.0 533.8 L580.0 533.8 L581.0 533.8 L582.0 533.8 L583.0 533.8 L584.0 533.8 L585.0 533.8 L586.0 533.8 L587.0 533.8 L588.0 533.8 L589.0 533.8 L590.0 533.8 L591.0 533.8 L592.0 533.8 L593.0 533.8 L594.0 533.8 L595.0 533.8 L596.0 533.8 L597.0 533.8 L598.0 533.8 L599.0 533.8 L600.0 533.8 L601.0 533.8 L602.0 533.8 L603.0 533.8 L604.0 533.8 L605.0 533.8 L606.0 533.8 L607.0 533.8 L608.0 533.8 L609.0 533.8 L610.0 533.8 L611.0 533.8 L612.0 533.8 L613.0 533.8 L614.0 533.8 L615.0 533.8 L616.0 533.8 L617.0 533.8 L618.0 533.8 L619.0 533.8 L620.0 533.8 L621.0 533.8 L622.0 533.8 L623.0 533.8 L624.0 533.8 L625.0 533.8 L626.0 533.8 L627.0 533.8 L628.0 533.8 L629.0 533.8 L630.0 533.8 L631.0 533.8 L632.0 533.8 L633.0 533.8 L634.0 533.8 L635.0 533.8 L636.0 533.8 L637.0 533.8 L638.0 533.8 L639.0 533.8 L640.0 533.8 L641.0 533.8 L642.0 533.8 L643.0 533.8 L644.0 533.8 L645.0 533.8 L646.0 533.8 L647.0 533.8 L648.0 533.8 L649.0 533.8 L650.0 533.8 L651.0 533.8 L652.0 533.8 L653.0 533.8 L654.0 533.8 L655.0 533.8 L656.0 533.8 L657.0 533.8 L658.0 533.8 L659.0 533.8 L660.0 533.8 L661.0 533.8 L662.0 533.8 L663.0 533.8 L664.0 533.8 L665.0 533.8 L666.0 533.8 L667.0 533.8 L668.0 533.8 L669.0 533.8 L670.0 533.8 L671.0 533.8 L672.0 533.8 L673.0 533.8 L674.0 533.8 L675.0 533.8 L676.0 533.8 L677.0 533.8 L678.0 533.8 L679.0 533.8 L680.0 533.8 L681.0 533.8 L682.0 533.8 L683.0 533.8 L684.0 533.8 L685.0 533.8 L686.0 533.8 L687.0 533.8 L688.0 533.8 L689.0 533.8 L690.0 533.8 L691.0 533.8 L692.0 533.8 L693.0 533.8 L694.0 533.8 L695.0 533.8 L696.0 533.8 L697.0 533.8 L698.0 533.8 L699.0 533.8 L700.0 533.8 L701.0 533.8 L702.0 533.8 L703.0 533.8 L704.0 533.8 L705.0 533.8 L706.0 533.8 L707.0 533.8 L708.0 533.8 L709.0 533.8 L710.0 533.8 L711.0 533.8 L712.0 533.8 L713.0 533.8 L714.0 533.8 L715.0 533.8 L716.0 533.8 L717.0 533.8 L718.0 533.8 L719.0 533.8 L720.0 533.8 L721.0 533.8 L722.0 533.8 L723.0 533.8 L724.0 533.8 L725.0 533.8 L726.0 533.8 L727.0 533.8 L728.0 533.8 L729.0 533.8 L730.0 533.8 L731.0 533.8 L732.0 533.8 L733.0 533.8 L734.0 533.8 L735.0 533.8 L736.0 533.8 L737.0 533.8 L738.0 533.8 L739.0 533.8 L740.0 533.8 L741.0 533.8 L742.0 533.8 L743.0 533.8 L744.0 533.8 L745.0 533.8 L746.0 533.8 L747.0 533.8 L748.0 533.8 L749.0 533.8 L750.0 533.8 L751.0 533.8 L752.0 533.8 L753.0 533.8 L754.0 533.8 L755.0 533.8 L756.0 533.8 L757.0 533.8 L758.0 533.8 L759.0 533.8 L760.0 533.8 L761.0 533.8 L762.0 533.8 L763.0 533.8 L764.0 533.8 L765.0 533.8 L766.0 533.8 L767.0 533.8 L768.0 533.8 L769.0 533.8 L770.0 533.8 L771.0 533.8 L772.0 533.8 L773.0 533.8 L774.0 533.8 L775.0 533.8 L776.0 533.8 L777.0 533.8 L778.0 533.8 L779.0 533.8 L780.0 533.8 L781.0 533.8 L782.0 533.8 L783.0 533.8 L784.0 533.8 L785.0 533.8 L786.0 533.8 L787.0 533.8 L788.0 533.8 L789.0 533.8 L790.0 533.8 L791.0 533.8 L792.0 533.8 L793.0 533.8 L794.0 533.8 L795.0 533.8 L796.0 533.8 L797.0 533.8 L798.0 533.8 L799.0 533.8 L800.0 533.8 L801.0 533.8 L802.0 533.8 L803.0 533.8 L804.0 533.8 L805.0 533.8 L806.0 533.8 L807.0 533.8 L808.0 533.8 L809.0 533.8 L810.0 533.8 L811.0 533.8 L812.0 533.8 L813.0 533.8 L814.0 533.8 L815.0 533.8 L816.0 533.8 L817.0 533.8 L818.0 533.8 L819.0 533.8 L820.0 533.8 L821.0 533.8 L822.0 533.8 L823.0 533.8 L824.0 533.8 L825.0 533.8 L826.0 533.8 L827.0 533.8 L828.0 533.8 L829.0 533.8 L830.0 533.8 L831.0 533.8 L832.0 533.8 L833.0 533.8 L834.0 533.8 L835.0 533.8 L836.0 533.8 L837.0 533.8 L838.0 533.8 L839.0 533.8 L840.0 533.8 L841.0 533.8 L842.0 533.8 L843.0 533.8 L844.0 533.8 L845.0 533.8 L846.0 533.8 L847.0 533.8 L848.0 533.8 L849.0 533.8 L850.0 533.8 L851.0 533.8 L852.0 533.8 L853.0 533.8 L854.0 533.8 L855.0 533.8 L856.0 533.8 L857.0 533.8 L858.0 533.8 L859.0 533.8 L860.0 533.8 L861.0 533.8 L862.0 533.8 L863.0 533.8 L864.0 533.8 L865.0 533.8 L866.0 533.8 L867.0 533.8 L868.0 533.8 L869.0 533.8 L870.0 533.8 L871.0 533.8 L872.0 533.8 L873.0 533.8 L874.0 533.8 L875.0 533.8 L876.0 533.8 L877.0 533.8 L878.0 533.8 L879.0 533.8 L880.0 533.8 L881.0 533.8 L882.0 533.8 L883.0 533.8 L884.0 533.8 L885.0 533.8 L886.0 533.8 L887.0 533.8 L888.0 533.8 L889.0 533.8 L890.0 533.8 L891.0 533.8 L892.0 533.8 L893.0 533.8 L894.0 533.8 L895.0 533.8 L896.0 533.8 L897.0 533.8 L898.0 533.8 L899.0 533.8 L900.0 533.8 L901.0 533.8 L902.0 533.8 L903.0 533.8 L904.0 533.8 L905.0 533.8 L906.0 533.8 L907.0 533.8 L908.0 533.8 L909.0 533.8 L910.0 533.8 L911.0 533.8 L912.0 533.8 L913.0 533.8 L914.0 533.8 L915.0 533.8 L916.0 533.8 L917.0 533.8 L918.0 533.8 L919.0 533.8 L920.0 533.8 L921.0 533.8 L922.0 533.8 L923.0 533.8 L924.0 533.8 L925.0 533.8 L926.0 533.8 L927.0 533.8 L928.0 533.8 L929.0 533.8 L930.0 533.8 L931.0 533.8 L932.0 533.8 L933.0 533.8 L934.0 533.8 L935.0 533.8 L936.0 533.8 L937.0 533.8 L938.0 533.8 L939.0 533.8 L940.0 533.8 L941.0 533.8 L942.0 533.8 L943.0 533.8 L944.0 533.8 L945.0 533.8 L946.0 533.8 L947.0 533.8 L948.0 533.8 L949.0 533.8 L950.0 533.8 L951.0 533.8 L952.0 533.8 L953.0 533.8 L954.0 533.8 L955.0 533.8 L956.0 533.8 L957.0 533.8 L958.0 533.8 L959.0 533.8 L960.0 533.8 L961.0 533.8 L962.0 533.8 L963.0 533.8 L964.0 533.8 L965.0 533.8 L966.0 533.8 L967.0 533.8 L968.0 533.8 L969.0 533.8 L970.0 533.8 L971.0 533.8 L972.0 533.8 L973.0 533.8 L974.0 533.8 L975.0 533.8 L976.0 533.8 L977.0 533.8 L978.0 533.8 L979.0 533.8 L980.0 533.8 L981.0 533.8 L982.0 533.8 L983.0 533.8 L984.0 533.8 L985.0 533.8 L986.0 533.8 L987.0 533.8 L988.0 533.8 L989.0 533.8 L990.0 533.8 L991.0 533.8 L992.0 533.8 L993.0 533.8 L994.0 533.8 L995.0 533.8 L996.0 533.8 L997.0 533.8 L998.0 533.8 L999.0 533.8 L1000.0 533.8 L1001.0 533.8 L1002.0 533.8 L1003.0 533.8 L1004.0 533.8 L1005.0 533.8 L1006.0 533.8 L1007.0 533.8 L1008.0 533.8 L1009.0 533.8 L1010.0 533.8 L1011.0 533.8 L1012.0 533.8 L1013.0 533.8 L1014.0 533.8 L1015.0 533.8 L1016.0 533.8 L1017.0 533.8 L1018.0 533.8 L1019.0 533.8 L1020.0 533.8 L1021.0 533.8 L1022.0 533.8 L1023.0 533.8 L1024.0 533.8 L1025.0 533.8 L1026.0 533.8 L1027.0 533.8 L1028.0 533.8 L1029.0 533.8 L1030.0 533.8 L1031.0 533.8 L1032.0 533.8 L1033.0 533.8 L1034.0 533.8 L1035.0 533.8 L1036.0 533.8 L1037.0 533.8 L1038.0 533.8 L1039.0 533.8 L1040.0 533.8 L1041.0 533.8 L1042.0 533.8 L1043.0 533.8 L1044.0 533.8 L1045.0 533.8 L1046.0 533.8 L1047.0 533.8 L1048.0 533.8 L1049.0 533.8 L1050.0 533.8 L1051.0 533.8 L1052.0 533.8 L1053.0 533.8 L1054.0 533.8 L1055.0 533.8 L1056.0 533.8 L1057.0 533.8 L1058.0 533.8 L1059.0 533.8 L1060.0 533.8 L1061.0 533.8 L1062.0 533.8 L1063.0 533.8 L1064.0 533.8 L1065.0 533.8 L1066.0 533.8 L1067.0 533.8 L1068.0 533.8 L1069.0 533.8 L1070.0 533.8 L1071.0 533.8 L1072.0 533.8 L1073.0 533.8 L1074.0 533.8 L1075.0 533.8 L1076.0 533.8 L1077.0 533.8 L1078.0 533.8 L1079.0 533.8 L1080.0 533.8 L1081.0 533.8 L1082.0 533.8 L1083.0 533.8 L1084.0 533.8 L1085.0 533.8 L1086.0 533.8 L1087.0 533.8 L1088.0 533.8 L1089.0 533.8 L1090.0 533.8 L1091.0 533.8 L1092.0 533.8 L1093.0 533.8 L1094.0 533.8 L1095.0 533.8 L1096.0 533.8 L1097.0 533.8 L1098.0 533.8 L1099.0 533.8 L1100.0 533.8 L1101.0 533.8 L1102.0 533.8 L1103.0 533.8 L1104.0 533.8 L1105.0 533.8 L1106.0 533.8 L1107.0 533.8 L1108.0 533.8 L1109.0 533.8 L1110.0 533.8 L1111.0 533.8 L1112.0 533.8 L1113.0 533.8 L1114.0 533.8 L1115.0 533.8 L1116.0 533.8 L1117.0 533.8 L1118.0 533.8 L1119.0 533.8 L1120.0 533.8 L1121.0 533.8 L1122.0 533.8 L1123.0 533.8 L1124.0 533.8 L1125.0 533.8 L1126.0 533.8 L1127.0 533.8 L1128.0 533.8 L1129.0 533.8 L1130.0 533.8 L1131.0 533.8 L1132.0 533.8 L1133.0 533.8 L1134.0 533.8 L1135.0 533.8 L1136.0 533.8 L1137.0 533.8 L1138.0 533.8 L1139.0 533.8 L1140.0 533.8 L1141.0 533.8 L1142.0 533.8 L1143.0 533.8 L1144.0 533.8 L1145.0 533.8 L1146.0 533.8 L1147.0 533.8 L1148.0 533.8 L1149.0 533.8 L1150.0 533.8 L1151.0 533.8 L1152.0 533.8 L1153.0 533.8 L1154.0 533.8 L1155.0 533.8 L1156.0 533.8 L1157.0 533.8 L1158.0 533.8 L1159.0 533.8 L1160.0 533.8 L1161.0 533.8 L1162.0 533.8 L1163.0 533.8 L1164.0 533.8 L1165.0 533.8 L1166.0 533.8 L1167.0 533.8 L1168.0 533.8 L1169.0 533.8 L1170.0 533.8 L1171.0 533.8 L1172.0 533.8 L1173.0 533.8 L1174.0 533.8 L1175.0 533.8 L1176.0 533.8 L1177.0 533.8 L1178.0 533.8 L1179.0 533.8 L1180.0 533.8 L1181.0 533.8 L1182.0 533.8 L1183.0 533.8 L1184.0 533.8 L1185.0 533.8 L1186.0 533.8 L1187.0 533.8 L1188.0 533.8 L1189.0 533.8 L1190.0 533.8 L1191.0 533.8 L1192.0 533.8"/>
<path stroke="#0000ff" d="M96.0 533.3 L97.0 533.3 L98.0 533.3 L99.0 533.3 L100.0 533.3 L101.0 533.3 L102.0 533.3 L103.0 533.3 L104.0 533.3 L105.0 533.3 L106.0 533.3 L107.0 533.3 L108.0 533.3 L109.0 533.3 L110.0 533.3 L111.0 533.3 L112.0 533.3 L113.0 533.3 L114.0 533.3 L115.0 533.3 L116.0 533.3 L117.0 533.2 L118.0 533.2 L119.0 533.2 L120.0 533.2 L121.0 533.2 L122.0 533.2 L123.0 533.2 L124.0 533.2 L125.0 533.2 L126.0 533.2 L127.0 533.2 L128.0 533.2 L129.0 533.2 L130.0 533.2 L131.0 533.2 L132.0 533.2 L133.0 533.2 L134.0 533.2 L135.0 533.2 L136.0 533.2 L137.0 533.2 L138.0 533.1 L139.0 533.1 L140.0 533.1 L141.0 533.1 L142.0 533.1 L143.0 533.1 L144.0 533.1 L145.0 533.1 L146.0 533.1 L147.0 533.1 L148.0 533.1 L149.0 533.1 L150.0 533.1 L151.0 533.1 L152.0 533.1 L153.0 533.1 L154.0 533.1 L155.0 533.0 L156.0 533.0 L157.0 533.0 L158.0 533.0 L159.0 533.0 L160.0 533.0 L161.0 533.0 L162.0 533.0 L163.0 533.0 L164.0 533.0 L165.0 533.0 L166.0 533.0 L167.0 533.0 L168.0 533.0 L169.0 532.9 L170.0 532.9 L171.0 532.9 L172.0 532.9 L173.0 532.9 L174.0 532.9 L175.0 532.9 L176.0 532.9 L177.0 532.9 L178.0 532.9 L179.0 532.9 L180.0 532.8 L181.0 532.8 L182.0 532.8 L183.0 532.8 L184.0 532.8 L185.0 532.8 L186.0 532.8 L187.0 532.8 L188.0 532.8 L189.0 532.8 L190.0 532.7 L191.0 532.7 L192.0 532.7 L193.0 532.7 L194.0 532.7 L195.0 532.7 L196.0 532.7 L197.0 532.7 L198.0 532.7 L199.0 532.6 L200.0 532.6 L201.0 532.6 L202.0 532.6 L203.0 532.6 L204.0 532.6 L205.0 532.6 L206.0 532.5 L207.0 532.5 L208.0 532.5 L209.0 532.5 L210.0 532.5 L211.0 532.5 L212.0 532.5 L213.0 532.4 L214.0 532.4 L215.0 532.4 L216.0 532.4 L217.0 532.4 L218.0 532.4 L219.0 532.3 L220.0 532.3 L221.0 532.3 L222.0 532.3 L223.0 532.3 L224.0 532.3 L225.0 532.2 L226.0 532.2 L227.0 532.2 L228.0 532.2 L229.0 532.2 L230.0 532.1 L231.0 532.1 L232.0 532.1 L233.0 532.1 L234.0 532.0 L235.0 532.0 L236.0 532.0 L237.0 532.0 L238.0 531.9 L239.0 531.9 L240.0 531.9 L241.0 531.9 L242.0 531.8 L243.0 531.8 L244.0 531.8 L245.0 531.8 L246.0 531.7 L247.0 531.7 L248.0 531.7 L249.0 531.6 L250.0 531.6 L251.0 531.6 L252.0 531.5 L253.0 531.5 L254.0 531.5 L255.0 531.4 L256.0 531.4 L257.0 531.3 L258.0 531.3 L259.0 531.3 L260.0 531.2 L261.0 531.2 L262.0 531.1 L263.0 531.1 L264.0 531.0 L265.0 531.0 L266.0 530.9 L267.0 530.9 L268.0 530.8 L269.0 530.8 L270.0 530.7 L271.0 530.6 L272.0 530.6 L273.0 530.5 L274.0 530.4 L275.0 530.3 L276.0 530.3 L277.0 530.2 L278.0 530.1 L279.0 530.0 L280.0 529.9 L281.0 529.8 L282.0 529.7 L283.0 529.6 L284.0 529.5 L285.0 529.3 L286.0 529.2 L287.0 529.0 L288.0 528.9 L289.0 528.7 L290.0 528.5 L291.0 528.4 L292.0 528.2 L293.0 527.9 L294.0 527.7 L295.0 527.5 L296.0 527.2 L297.0 527.0 L298.0 526.7 L299.0 526.4 L300.0 526.0 L301.0 525.7 L302.0 525.3 L303.0 524.9 L304.0 524.5 L305.0 524.0 L306.0 523.6 L307.0 523.1 L308.0 522.5 L309.0 522.0 L310.0 521.4 L311.0 520.7 L312.0 520.1 L313.0 519.4 L314.0 518.6 L315.0 517.8 L316.0 517.0 L317.0 516.1 L318.0 515.2 L319.0 514.2 L320.0 513.2 L321.0 512.1 L322.0 511.0 L323.0 509.8 L324.0 508.6 L325.0 507.3 L326.0 506.0 L327.0 504.6 L328.0 503.2 L329.0 501.7 L330.0 500.2 L331.0 498.6 L332.0 496.9 L333.0 495.2 L334.0 493.4 L335.0 491.6 L336.0 489.7 L337.0 487.8 L338.0 485.8 L339.0 483.8 L340.0 481.8 L341.0 479.6 L342.0 477.5 L343.0 475.3 L344.0 473.1 L345.0 470.9 L346.0 468.6 L347.0 466.3 L348.0 464.0 L349.0 461.6 L350.0 459.3 L351.0 457.0 L352.0 454.6 L353.0 452.3 L354.0 450.0 L355.0 447.7 L356.0 445.4 L357.0 443.2 L358.0 440.9 L359.0 438.8 L360.0 436.7 L361.0 434.7 L362.0 432.7 L363.0 430.8 L364.0 429.0 L365.0 427.3 L366.0 425.6 L367.0 424.1 L368.0 422.7 L369.0 421.5 L370.0 420.3 L371.0 419.3 L372.0 418.5 L373.0 417.8 L374.0 417.2 L375.0 416.8 L376.0 416.5 L377.0 416.4 L378.0 416.5 L379.0 416.7 L380.0 417.0 L381.0 417.6 L382.0 418.2 L383.0 419.0 L384.0 420.0 L385.0 421.1 L386.0 422.3 L387.0 423.7 L388.0 425.2 L389.0 426.7 L390.0 428.4 L391.0 430.2 L392.0 432.1 L393.0 434.0 L394.0 436.0 L395.0 438.1 L396.0 440.3 L397.0 442.5 L398.0 444.7 L399.0 446.9 L400.0 449.2 L401.0 451.6 L402.0 453.9 L403.0 456.2 L404.0 458.6 L405.0 460.9 L406.0 463.2 L407.0 465.6 L408.0 467.9 L409.0 470.1 L410.0 472.4 L411.0 474.6 L412.0 476.8 L413.0 479.0 L414.0 481.1 L415.0 483.2 L416.0 485.2 L417.0 487.2 L418.0 489.1 L419.0 491.0 L420.0 492.8 L421.0 494.6 L422.0 496.4 L423.0 498.0 L424.0 499.7 L425.0 501.2 L426.0 502.7 L427.0 504.2 L428.0 505.6 L429.0 506.9 L430.0 508.2 L431.0 509.5 L432.0 510.6 L433.0 511.8 L434.0 512.9 L435.0 513.9 L436.0 514.9 L437.0 515.8 L438.0 516.7 L439.0 517.6 L440.0 518.4 L441.0 519.1 L442.0 519.8 L443.0 520.5 L444.0 521.2 L445.0 521.8 L446.0 522.4 L447.0 522.9 L448.0 523.4 L449.0 523.9 L450.0 524.4 L451.0 524.8 L452.0 525.2 L453.0 525.6 L454.0 525.9 L455.0 526.3 L456.0 526.6 L457.0 526.9 L458.0 527.1 L459.0 527.4 L460.0 527.6 L461.0 527.9 L462.0 528.1 L463.0 528.3 L464.0 528.5 L465.0 528.7 L466.0 528.8 L467.0 529.0 L468.0 529.1 L469.0 529.3 L470.0 529.4 L471.0 529.5 L472.0 529.7 L473.0 529.8 L474.0 529.9 L475.0 530.0 L476.0 530.1 L477.0 530.2 L478.0 530.2 L479.0 530.3 L480.0 530.4 L481.0 530.5 L482.0 530.5 L483.0 530.6 L484.0 530.7 L485.0 530.7 L486.0 530.8 L487.0 530.9 L488.0 530.9 L489.0 531.0 L490.0 531.0 L491.0 531.1 L492.0 531.1 L493.0 531.2 L494.0 531.2 L495.0 531.2 L496.0 531.3 L497.0 531.3 L498.0 531.4 L499.0 531.4 L500.0 531.4 L501.0 531.5 L502.0 531.5 L503.0 531.6 L504.0 531.6 L505.0 531.6 L506.0 531.6 L507.0 531.7 L508.0 531.7 L509.0 531.7 L510.0 531.8 L511.0 531.8 L512.0 531.8 L513.0 531.9 L514.0 531.9 L515.0 531.9 L516.0 531.9 L517.0 532.0 L518.0 532.0 L519.0 532.0 L520.0 532.0 L521.0 532.1 L522.0 532.1 L523.0 532.1 L524.0 532.1 L525.0 532.1 L526.0 532.2 L527.0 532.2 L528.0 532.2 L529.0 532.2 L530.0 532.2 L531.0 532.3 L532.0 532.3 L533.0 532.3 L534.0 532.3 L535.0 532.3 L536.0 532.4 L537.0 532.4 L538.0 532.4 L539.0 532.4 L540.0 532.4 L541.0 532.4 L542.0 532.5 L543.0 532.5 L544.0 532.5 L545.0 532.5 L546.0 532.5 L547.0 532.5 L548.0 532.5 L549.0 532.6 L550.0 532.6 L551.0 532.6 L552.0 532.6 L553.0 532.6 L554.0 532.6 L555.0 532.6 L556.0 532.6 L557.0 532.7 L558.0 532.7 L559.0 532.7 L560.0 532.7 L561.0 532.7 L562.0 532.7 L563.0 532.7 L564.0 532.7 L565.0 532.8 L566.0 532.8 L567.0 532.8 L568.0 532.8 L569.0 532.8 L570.0 532.8 L571.0 532.8 L572.0 532.8 L573.0 532.8 L574.0 532.8 L575.0 532.9 L576.0 532.9 L577.0 532.9 L578.0 532.9 L579.0 532.9 L580.0 532.9 L581.0 532.9 L582.0 532.9 L583.0 532.9 L584.0 532.9 L585.0 532.9 L586.0 532.9 L587.0 533.0 L588.0 533.0 L589.0 533.0 L590.0 533.0 L591.0 533.0 L592.0 533.0 L593.0 533.0 L594.0 533.0 L595.0 533.0 L596.0 533.0 L597.0 533.0 L598.0 533.0 L599.0 533.0 L600.0 533.0 L601.0 533.1 L602.0 533.1 L603.0 533.1 L604.0 533.1 L605.0 533.1 L606.0 533.1 L607.0 533.1 L608.0 533.1 L609.0 533.1 L610.0 533.1 L611.0 533.1 L612.0 533.1 L613.0 533.1 L614.0 533.1 L615.0 533.1 L616.0 533.1 L617.0 533.2 L618.0 533.2 L619.0 533.2 L620.0 533.2 L621.0 533.2 L622.0 533.2 L623.0 533.2 L624.0 533.2 L625.0 533.2 L626.0 533.2 L627.0 533.2 L628.0 533.2 L629.0 533.2 L630.0 533.2 L631.0 533.2 L632.0 533.2 L633.0 533.2 L634.0 533.2 L635.0 533.2 L636.0 533.2 L637.0 533.2 L638.0 533.2 L639.0 533.3 L640.0 533.3 L641.0 533.3 L642.0 533.3 L643.0 533.3 L644.0 533.3 L645.0 533.3 L646.0 533.3 L647.0 533.3 L648.0 533.3 L649.0 533.3 L650.0 533.3 L651.0 533.3 L652.0 533.3 L653.0 533.3 L654.0 533.3 L655.0 533.3 L656.0 533.3 L657.0 533.3 L658.0 533.3 L659.0 533.3 L660.0 533.3 L661.0 533.3 L662.0 533.3 L663.0 533.3 L664.0 533.3 L665.0 533.3 L666.0 533.3 L667.0 533.4 L668.0 533.4 L669.0 533.4 L670.0 533.4 L671.0 533.4 L672.0 533.4 L673.0 533.4 L674.0 533.4 L675.0 533.4 L676.0 533.4 L677.0 533.4 L678.0 533.4 L679.0 533.4 L680.0 533.4 L681.0 533.4 L682.0 533.4 L683.0 533.4 L684.0 533.4 L685.0 533.4 L686.0 533.4 L687.0 533.4 L688.0 533.4 L689.0 533.4 L690.0 533.4 L691.0 533.4 L692.0 533.4 L693.0 533.4 L694.0 533.4 L695.0 533.4 L696.0 533.4 L697.0 533.4 L698.0 533.4 L699.0 533.4 L700.0 533.4 L701.0 533.4 L702.0 533.4 L703.0 533.4 L704.0 533.4 L705.0 533.4 L706.0 533.5 L707.0 533.5 L708.0 533.5 L709.0 533.5 L710.0 533.5 L711.0 533.5 L712.0 533.5 L713.0 533.5 L714.0 533.5 L715.0 533.5 L716.0 533.5 L717.0 533.5 L718.0 533.5 L719.0 533.5 L720.0 533.5 L721.0 533.5 L722.0 533.5 L723.0 533.5 L724.0 533.5 L725.0 533.5 L726.0 533.5 L727.0 533.5 L728.0 533.5 L729.0 533.5 L730.0 533.5 L731.0 533.5 L732.0 533.5 L733.0 533.5 L734.0 533.5 L735.0 533.5 L736.0 533.5 L737.0 533.5 L738.0 533.5 L739.0 533.5 L740.0 533.5 L741.0 533.5 L742.0 533.5 L743.0 533.5 L744.0 533.5 L745.0 533.5 L746.0 533.5 L747.0 533.5 L748.0 533.5 L749.0 533.5 L750.0 533.5 L751.0 533.5 L752.0 533.5 L753.0 533.5 L754.0 533.5 L755.0 533.5 L756.0 533.5 L757.0 533.5 L758.0 533.5 L759.0 533.5 L760.0 533.5 L761.0 533.5 L762.0 533.5 L763.0 533.5 L764.0 533.5 L765.0 533.5 L766.0 533.5 L767.0 533.6 L768.0 533.6 L769.0 533.6 L770.0 533.6 L771.0 533.6 L772.0 533.6 L773.0 533.6 L774.0 533.6 L775.0 533.6 L776.0 533.6 L777.0 533.6 L778.0 533.6 L779.0 533.6 L780.0 533.6 L781.0 533.6 L782.0 533.6 L783.0 533.6 L784.0 533.6 L785.0 533.6 L786.0 533.6 L787.0 533.6 L788.0 533.6 L789.0 533.6 L790.0 533.6 L791.0 533.6 L792.0 533.6 L793.0 533.6 L794.0 533.6 L795.0 533.6 L796.0 533.6 L797.0 533.6 L798.0 533.6 L799.0 533.6 L800.0 533.6 L801.0 533.6 L802.0 533.6 L803.0 533.6 L804.0 533.6 L805.0 533.6 L806.0 533.6 L807.0 533.6 L808.0 533.6 L809.0 533.6 L810.0 533.6 L811.0 533.6 L812.0 533.6 L813.0 533.6 L814.0 533.6 L815.0 533.6 L816.0 533.6 L817.0 533.6 L818.0 533.6 L819.0 533.6 L820.0 533.6 L821.0 533.6 L822.0 533.6 L823.0 533.6 L824.0 533.6 L825.0 533.6 L826.0 533.6 L827.0 533.6 L828.0 533.6 L829.0 533.6 L830.0 533.6 L831.0 533.6 L832.0 533.6 L833.0 533.6 L834.0 533.6 L835.0 533.6 L836.0 533.6 L837.0 533.6 L838.0 533.6 L839.0 533.6 L840.0 533.6 L841.0 533.6 L842.0 533.6 L843.0 533.6 L844.0 533.6 L845.0 533.6 L846.0 533.6 L847.0 533.6 L848.0 533.6 L849.0 533.6 L850.0 533.6 L851.0 533.6 L852.0 533.6 L853.0 533.6 L854.0 533.6 L855.0 533.6 L856.0 533.6 L857.0 533.6 L858.0 533.6 L859.0 533.6 L860.0 533.6 L861.0 533.6 L862.0 533.6 L863.0 533.6 L864.0 533.6 L865.0 533.6 L866.0 533.6 L867.0 533.6 L868.0 533.6 L869.0 533.6 L870.0 533.6 L871.0 533.6 L872.0 533.6 L873.0 533.6 L874.0 533.6 L875.0 533.6 L876.0 533.6 L877.0 533.6 L878.0 533.6 L879.0 533.6 L880.0 533.6 L881.0 533.7 L882.0 533.7 L883.0 533.7 L884.0 533.7 L885.0 533.7 L886.0 533.7 L887.0 533.7 L888.0 533.7 L889.0 533.7 L890.0 533.7 L891.0 533.7 L892.0 533.7 L893.0 533.7 L894.0 533.7 L895.0 533.7 L896.0 533.7 L897.0 533.7 L898.0 533.7 L899.0 533.7 L900.0 533.7 L901.0 533.7 L902.0 533.7 L903.0 533.7 L904.0 533.7 L905.0 533.7 L906.0 533.7 L907.0 533.7 L908.0 533.7 L909.0 533.7 L910.0 533.7 L911.0 533.7 L912.0 533.7 L913.0 533.7 L914.0 533.7 L915.0 533.7 L916.0 533.7 L917.0 533.7 L918.0 533.7 L919.0 533.7 L920.0 533.7 L921.0 533.7 L922.0 533.7 L923.0 533.7 L924.0 533.7 L925.0 533.7 L926.0 533.7 L927.0 533.7 L928.0 533.7 L929.0 533.7 L930.0 533.7 L931.0 533.7 L932.0 533.7 L933.0 533.7 L934.0 533.7 L935.0 533.7 L936.0 533.7 L937.0 533.7 L938.0 533.7 L939.0 533.7 L940.0 533.7 L941.0 533.7 L942.0 533.7 L943.0 533.7 L944.0 533.7 L945.0 533.7 L946.0 533.7 L947.0 533.7 L948.0 533.7 L949.0 533.7 L950.0 533.7 L951.0 533.7 L952.0 533.7 L953.0 533.7 L954.0 533.7 L955.0 533.7 L956.0 533.7 L957.0 533.7 L958.0 533.7 L959.0 533.7 L960.0 533.7 L961.0 533.7 L962.0 533.7 L963.0 533.7 L964.0 533.7 L965.0 533.7 L966.0 533.7 L967.0 533.7 L968.0 533.7 L969.0 533.7 L970.0 533.7 L971.0 533.7 L972.0 533.7 L973.0 533.7 L974.0 533.7 L975.0 533.7 L976.0 533.7 L977.0 533.7 L978.0 533.7 L979.0 533.7 L980.0 533.7 L981.0 533.7 L982.0 533.7 L983.0 533.7 L984.0 533.7 L985.0 533.7 L986.0 533.7 L987.0 533.7 L988.0 533.7 L989.0 533.7 L990.0 533.7 L991.0 533.7 L992.0 533.7 L993.0 533.7 L994.0 533.7 L995.0 533.7 L996.0 533.7 L997.0 533.7 L998.0 533.7 L999.0 533.7 L1000.0 533.7 L1001.0 533.7 L1002.0 533.7 L1003.0 533.7 L1004.0 533.7 L1005.0 533.7 L1006.0 533.7 L1007.0 533.7 L1008.0 533.7 L1009.0 533.7 L1010.0 533.7 L1011.0 533.7 L1012.0 533.7 L1013.0 533.7 L1014.0 533.7 L1015.0 533.7 L1016.0 533.7 L1017.0 533.7 L1018.0 533.7 L1019.0 533.7 L1020.0 533.7 L1021.0 533.7 L1022.0 533.7 L1023.0 533.7 L1024.0 533.7 L1025.0 533.7 L1026.0 533.7 L1027.0 533.7 L1028.0 533.7 L1029.0 533.7 L1030.0 533.7 L1031.0 533.7 L1032.0 533.7 L1033.0 533.7 L1034.0 533.7 L1035.0 533.7 L1036.0 533.7 L1037.0 533.7 L1038.0 533.7 L1039.0 533.7 L1040.0 533.7 L1041.0 533.7 L1042.0 533.7 L1043.0 533.7 L1044.0 533.7 L1045.0 533.7 L1046.0 533.7 L1047.0 533.7 L1048.0 533.7 L1049.0 533.7 L1050.0 533.7 L1051.0 533.7 L1052.0 533.7 L1053.0 533.7 L1054.0 533.7 L1055.0 533.7 L1056.0 533.7 L1057.0 533.7 L1058.0 533.7 L1059.0 533.7 L1060.0 533.7 L1061.0 533.7 L1062.0 533.7 L1063.0 533.7 L1064.0 533.7 L1065.0 533.7 L1066.0 533.7 L1067.0 533.7 L1068.0 533.7 L1069.0 533.7 L1070.0 533.7 L1071.0 533.7 L1072.0 533.7 L1073.0 533.7 L1074.0 533.7 L1075.0 533.7 L1076.0 533.7 L1077.0 533.7 L1078.0 533.7 L1079.0 533.7 L1080.0 533.7 L1081.0 533.7 L1082.0 533.7 L1083.0 533.7 L1084.0 533.7 L1085.0 533.7 L1086.0 533.7 L1087.0 533.7 L1088.0 533.7 L1089.0 533.7 L1090.0 533.7 L1091.0 533.7 L1092.0 533.7 L1093.0 533.7 L1094.0 533.7 L1095.0 533.7 L1096.0 533.7 L1097.0 533.7 L1098.0 533.7 L1099.0 533.7 L1100.0 533.7 L1101.0 533.7 L1102.0 533.7 L1103.0 533.7 L1104.0 533.7 L1105.0 533.7 L1106.0 533.7 L1107.0 533.7 L1108.0 533.7 L1109.0 533.7 L1110.0 533.7 L1111.0 533.7 L1112.0 533.7 L1113.0 533.7 L1114.0 533.7 L1115.0 533.7 L1116.0 533.7 L1117.0 533.7 L1118.0 533.7 L1119.0 533.7 L1120.0 533.7 L1121.0 533.7 L1122.0 533.7 L1123.0 533.7 L1124.0 533.7 L1125.0 533.7 L1126.0 533.7 L1127.0 533.7 L1128.0 533.7 L1129.0 533.7 L1130.0 533.7 L1131.0 533.7 L1132.0 533.7 L1133.0 533.7 L1134.0 533.7 L1135.0 533.7 L1136.0 533.7 L1137.0 533.7 L1138.0 533.7 L1139.0 533.7 L1140.0 533.7 L1141.0 533.7 L1142.0 533.7 L1143.0 533.7 L1144.0 533.7 L1145.0 533.7 L1146.0 533.7 L1147.0 533.7 L1148.0 533.7 L1149.0 533.7 L1150.0 533.7 L1151.0 533.7 L1152.0 533.7 L1153.0 533.7 L1154.0 533.7 L1155.0 533.7 L1156.0 533.7 L1157.0 533.7 L1158.0 533.7 L1159.0 533.7 L1160.0 533.7 L1161.0 533.7 L1162.0 533.7 L1163.0 533.7 L1164.0 533.7 L1165.0 533.7 L1166.0 533.7 L1167.0 533.7 L1168.0 533.7 L1169.0 533.7 L1170.0 533.7 L1171.0 533.7 L1172.0 533.7 L1173.0 533.7 L1174.0 533.7 L1175.0 533.7 L1176.0 533.7 L1177.0 533.7 L1178.0 533.7 L1179.0 533.7 L1180.0 533.7 L1181.0 533.7 L1182.0 533.7 L1183.0 533.7 L1184.0 533.7 L1185.0 533.7 L1186.0 533.7 L1187.0 533.7 L1188.0 533.7 L1189.0 533.7 L1190.0 533.7 L1191.0 533.7 L1192.0 533.7"/>
<path stroke="#00ffff" d="M96.0 533.4 L97.0 533.4 L98.0 533.3 L99.0 533.3 L100.0 533.3 L101.0 533.3 L102.0 533.3 L103.0 533.3 L104.0 533.3 L105.0 533.3 L106.0 533.3 L107.0 533.3 L108.0 533.3 L109.0 533.3 L110.0 533.3 L111.0 533.3 L112.0 533.3 L113.0 533.3 L114.0 533.3 L115.0 533.3 L116.0 533.3 L117.0 533.3 L118.0 533.3 L119.0 533.3 L120.0 533.3 L121.0 533.3 L122.0 533.3 L123.0 533.3 L124.0 533.3 L125.0 533.3 L126.0 533.3 L127.0 533.3 L128.0 533.3 L129.0 533.3 L130.0 533.3 L131.0 533.2 L132.0 533.2 L133.0 533.2 L134.0 533.2 L135.0 533.2 L136.0 533.2 L137.0 533.2 L138.0 533.2 L139.0 533.2 L140.0 533.2 L141.0 533.2 L142.0 533.2 L143.0 533.2 L144.0 533.2 L145.0 533.2 L146.0 533.2 L147.0 533.2 L148.0 533.2 L149.0 533.2 L150.0 533.2 L151.0 533.2 L152.0 533.2 L153.0 533.2 L154.0 533.2 L155.0 533.2 L156.0 533.2 L157.0 533.1 L158.0 533.1 L159.0 533.1 L160.0 533.1 L161.0 533.1 L162.0 533.1 L163.0 533.1 L164.0 533.1 L165.0 533.1 L166.0 533.1 L167.0 533.1 L168.0 533.1 L169.0 533.1 L170.0 533.1 L171.0 533.1 L172.0 533.1 L173.0 533.1 L174.0 533.1 L175.0 533.1 L176.0 533.1 L177.0 533.0 L178.0 533.0 L179.0 533.0 L180.0 533.0 L181.0 533.0 L182.0 533.0 L183.0 533.0 L184.0 533.0 L185.0 533.0 L186.0 533.0 L187.0 533.0 L188.0 533.0 L189.0 533.0 L190.0 533.0 L191.0 533.0 L192.0 533.0 L193.0 532.9 L194.0 532.9 L195.0 532.9 L196.0 532.9 L197.0 532.9 L198.0 532.9 L199.0 532.9 L200.0 532.9 L201.0 532.9 L202.0 532.9 L203.0 532.9 L204.0 532.9 L205.0 532.9 L206.0 532.9 L207.0 532.8 L208.0 532.8 L209.0 532.8 L210.0 532.8 L211.0 532.8 L212.0 532.8 L213.0 532.8 L214.0 532.8 L215.0 532.8 L216.0 532.8 L217.0 532.8 L218.0 532.8 L219.0 532.7 L220.0 532.7 L221.0 532.7 L222.0 532.7 L223.0 532.7 L224.0 532.7 L225.0 532.7 L226.0 532.7 L227.0 532.7 L228.0 532.7 L229.0 532.6 L230.0 532.6 L231.0 532.6 L232.0 532.6 L233.0 532.6 L234.0 532.6 L235.0 532.6 L236.0 532.6 L237.0 532.6 L238.0 532.5 L239.0 532.5 L240.0 532.5 L241.0 532.5 L242.0 532.5 L243.0 532.5 L244.0 532.5 L245.0 532.5 L246.0 532.4 L247.0 532.4 L248.0 532.4 L249.0 532.4 L250.0 532.4 L251.0 532.4 L252.0 532.4 L253.0 532.3 L254.0 532.3 L255.0 532.3 L256.0 532.3 L257.0 532.3 L258.0 532.3 L259.0 532.3 L260.0 532.2 L261.0 532.2 L262.0 532.2 L263.0 532.2 L264.0 532.2 L265.0 532.1 L266.0 532.1 L267.0 532.1 L268.0 532.1 L269.0 532.1 L270.0 532.1 L271.0 532.0 L272.0 532.0 L273.0 532.0 L274.0 532.0 L275.0 532.0 L276.0 531.9 L277.0 531.9 L278.0 531.9 L279.0 531.9 L280.0 531.8 L281.0 531.8 L282.0 531.8 L283.0 531.8 L284.0 531.7 L285.0 531.7 L286.0 531.7 L287.0 531.7 L288.0 531.6 L289.0 531.6 L290.0 531.6 L291.0 531.6 L292.0 531.5 L293.0 531.5 L294.0 531.5 L295.0 531.4 L296.0 531.4 L297.0 531.4 L298.0 531.3 L299.0 531.3 L300.0 531.3 L301.0 531.2 L302.0 531.2 L303.0 531.1 L304.0 531.1 L305.0 531.1 L306.0 531.0 L307.0 531.0 L308.0 530.9 L309.0 530.9 L310.0 530.8 L311.0 530.8 L312.0 530.7 L313.0 530.7 L314.0 530.6 L315.0 530.5 L316.0 530.5 L317.0 530.4 L318.0 530.3 L319.0 530.3 L320.0 530.2 L321.0 530.1 L322.0 530.0 L323.0 529.9 L324.0 529.9 L325.0 529.8 L326.0 529.7 L327.0 529.6 L328.0 529.5 L329.0 529.3 L330.0 529.2 L331.0 529.1 L332.0 529.0 L333.0 528.8 L334.0 528.7 L335.0 528.5 L336.0 528.4 L337.0 528.2 L338.0 528.1 L339.0 527.9 L340.0 527.7 L341.0 527.5 L342.0 527.3 L343.0 527.0 L344.0 526.8 L345.0 526.6 L346.0 526.3 L347.0 526.0 L348.0 525.8 L349.0 525.5 L350.0 525.2 L351.0 524.8 L352.0 524.5 L353.0 524.1 L354.0 523.8 L355.0 523.4 L356.0 523.0 L357.0 522.5 L358.0 522.1 L359.0 521.6 L360.0 521.2 L361.0 520.7 L362.0 520.1 L363.0 519.6 L364.0 519.0 L365.0 518.4 L366.0 517.8 L367.0 517.2 L368.0 516.5 L369.0 515.8 L370.0 515.1 L371.0 514.3 L372.0 513.6 L373.0 512.8 L374.0 512.0 L375.0 511.1 L376.0 510.2 L377.0 509.3 L378.0 508.4 L379.0 507.4 L380.0 506.5 L381.0 505.4 L382.0 504.4 L383.0 503.3 L384.0 502.2 L385.0 501.1 L386.0 499.9 L387.0 498.8 L388.0 497.6 L389.0 496.3 L390.0 495.1 L391.0 493.8 L392.0 492.5 L393.0 491.1 L394.0 489.8 L395.0 488.4 L396.0 487.0 L397.0 485.6 L398.0 484.2 L399.0 482.7 L400.0 481.3 L401.0 479.8 L402.0 478.3 L403.0 476.8 L404.0 475.3 L405.0 473.8 L406.0 472.3 L407.0 470.8 L408.0 469.3 L409.0 467.8 L410.0 466.3 L411.0 464.8 L412.0 463.3 L413.0 461.8 L414.0 460.3 L415.0 458.9 L416.0 457.5 L417.0 456.1 L418.0 454.7 L419.0 453.4 L420.0 452.1 L421.0 450.8 L422.0 449.5 L423.0 448.4 L424.0 447.2 L425.0 446.1 L426.0 445.1 L427.0 444.1 L428.0 443.2 L429.0 442.3 L430.0 441.5 L431.0 440.8 L432.0 440.1 L433.0 439.5 L434.0 439.0 L435.0 438.5 L436.0 438.2 L437.0 437.9 L438.0 437.7 L439.0 437.5 L440.0 437.5 L441.0 437.5 L442.0 437.7 L443.0 437.9 L444.0 438.1 L445.0 438.5 L446.0 438.9 L447.0 439.4 L448.0 440.0 L449.0 440.7 L450.0 441.4 L451.0 442.2 L452.0 443.1 L453.0 444.0 L454.0 445.0 L455.0 446.0 L456.0 447.1 L457.0 448.2 L458.0 449.4 L459.0 450.6 L460.0 451.9 L461.0 453.2 L462.0 454.5 L463.0 455.9 L464.0 457.3 L465.0 458.7 L466.0 460.2 L467.0 461.6 L468.0 463.1 L469.0 464.6 L470.0 466.1 L471.0 467.6 L472.0 469.1 L473.0 470.6 L474.0 472.1 L475.0 473.6 L476.0 475.1 L477.0 476.6 L478.0 478.1 L479.0 479.6 L480.0 481.1 L481.0 482.6 L482.0 484.0 L483.0 485.4 L484.0 486.9 L485.0 488.3 L486.0 489.6 L487.0 491.0 L488.0 492.3 L489.0 493.6 L490.0 494.9 L491.0 496.2 L492.0 497.4 L493.0 498.6 L494.0 499.8 L495.0 501.0 L496.0 502.1 L497.0 503.2 L498.0 504.3 L499.0 505.3 L500.0 506.3 L501.0 507.3 L502.0 508.3 L503.0 509.2 L504.0 510.1 L505.0 511.0 L506.0 511.9 L507.0 512.7 L508.0 513.5 L509.0 514.3 L510.0 515.0 L511.0 515.7 L512.0 516.4 L513.0 517.1 L514.0 517.7 L515.0 518.3 L516.0 518.9 L517.0 519.5 L518.0 520.1 L519.0 520.6 L520.0 521.1 L521.0 521.6 L522.0 522.0 L523.0 522.5 L524.0 522.9 L525.0 523.3 L526.0 523.7 L527.0 524.1 L528.0 524.5 L529.0 524.8 L530.0 525.1 L531.0 525.4 L532.0 525.7 L533.0 526.0 L534.0 526.3 L535.0 526.5 L536.0 526.8 L537.0 527.0 L538.0 527.2 L539.0 527.5 L540.0 527.7 L541.0 527.8 L542.0 528.0 L543.0 528.2 L544.0 528.4 L545.0 528.5 L546.0 528.7 L547.0 528.8 L548.0 529.0 L549.0 529.1 L550.0 529.2 L551.0 529.3 L552.0 529.4 L553.0 529.6 L554.0 529.7 L555.0 529.8 L556.0 529.8 L557.0 529.9 L558.0 530.0 L559.0 530.1 L560.0 530.2 L561.0 530.3 L562.0 530.3 L563.0 530.4 L564.0 530.5 L565.0 530.5 L566.0 530.6 L567.0 530.7 L568.0 530.7 L569.0 530.8 L570.0 530.8 L571.0 530.9 L572.0 530.9 L573.0 531.0 L574.0 531.0 L575.0 531.1 L576.0 531.1 L577.0 531.1 L578.0 531.2 L579.0 531.2 L580.0 531.3 L581.0 531.3 L582.0 531.3 L583.0 531.4 L584.0 531.4 L585.0 531.4 L586.0 531.5 L587.0 531.5 L588.0 531.5 L589.0 531.6 L590.0 531.6 L591.0 531.6 L592.0 531.6 L593.0 531.7 L594.0 531.7 L595.0 531.7 L596.0 531.7 L597.0 531.8 L598.0 531.8 L599.0 531.8 L600.0 531.8 L601.0 531.9 L602.0 531.9 L603.0 531.9 L604.0 531.9 L605.0 532.0 L606.0 532.0 L607.0 532.0 L608.0 532.0 L609.0 532.0 L610.0 532.1 L611.0 532.1 L612.0 532.1 L613.0 532.1 L614.0 532.1 L615.0 532.1 L616.0 532.2 L617.0 532.2 L618.0 532.2 L619.0 532.2 L620.0 532.2 L621.0 532.2 L622.0 532.3 L623.0 532.3 L624.0 532.3 L625.0 532.3 L626.0 532.3 L627.0 532.3 L628.0 532.4 L629.0 532.4 L630.0 532.4 L631.0 532.4 L632.0 532.4 L633.0 532.4 L634.0 532.4 L635.0 532.5 L636.0 532.5 L637.0 532.5 L638.0 532.5 L639.0 532.5 L640.0 532.5 L641.0 532.5 L642.0 532.5 L643.0 532.6 L644.0 532.6 L645.0 532.6 L646.0 532.6 L647.0 532.6 L648.0 532.6 L649.0 532.6 L650.0 532.6 L651.0 532.6 L652.0 532.7 L653.0 532.7 L654.0 532.7 L655.0 532.7 L656.0 532.7 L657.0 532.7 L658.0 532.7 L659.0 532.7 L660.0 532.7 L661.0 532.7 L662.0 532.8 L663.0 532.8 L664.0 532.8 L665.0 532.8 L666.0 532.8 L667.0 532.8 L668.0 532.8 L669.0 532.8 L670.0 532.8 L671.0 532.8 L672.0 532.8 L673.0 532.8 L674.0 532.9 L675.0 532.9 L676.0 532.9 L677.0 532.9 L678.0 532.9 L679.0 532.9 L680.0 532.9 L681.0 532.9 L682.0 532.9 L683.0 532.9 L684.0 532.9 L685.0 532.9 L686.0 532.9 L687.0 532.9 L688.0 533.0 L689.0 533.0 L690.0 533.0 L691.0 533.0 L692.0 533.0 L693.0 533.0 L694.0 533.0 L695.0 533.0 L696.0 533.0 L697.0 533.0 L698.0 533.0 L699.0 533.0 L700.0 533.0 L701.0 533.0 L702.0 533.0 L703.0 533.0 L704.0 533.1 L705.0 533.1 L706.0 533.1 L707.0 533.1 L708.0 533.1 L709.0 533.1 L710.0 533.1 L711.0 533.1 L712.0 533.1 L713.0 533.1 L714.0 533.1 L715.0 533.1 L716.0 533.1 L717.0 533.1 L718.0 533.1 L719.0 533.1 L720.0 533.1 L721.0 533.1 L722.0 533.1 L723.0 533.1 L724.0 533.1 L725.0 533.2 L726.0 533.2 L727.0 533.2 L728.0 533.2 L729.0 533.2 L730.0 533.2 L731.0 533.2 L732.0 533.2 L733.0 533.2 L734.0 533.2 L735.0 533.2 L736.0 533.2 L737.0 533.2 L738.0 533.2 L739.0 533.2 L740.0 533.2 L741.0 533.2 L742.0 533.2 L743.0 533.2 L744.0 533.2 L745.0 533.2 L746.0 533.2 L747.0 533.2 L748.0 533.2 L749.0 533.2 L750.0 533.3 L751.0 533.3 L752.0 533.3 L753.0 533.3 L754.0 533.3 L755.0 533.3 L756.0 533.3 L757.0 533.3 L758.0 533.3 L759.0 533.3 L760.0 533.3 L761.0 533.3 L762.0 533.3 L763.0 533.3 L764.0 533.3 L765.0 533.3 L766.0 533.3 L767.0 533.3 L768.0 533.3 L769.0 533.3 L770.0 533.3 L771.0 533.3 L772.0 533.3 L773.0 533.3 L774.0 533.3 L775.0 533.3 L776.0 533.3 L777.0 533.3 L778.0 533.3 L779.0 533.3 L780.0 533.3 L781.0 533.3 L782.0 533.3 L783.0 533.4 L784.0 533.4 L785.0 533.4 L786.0 533.4 L787.0 533.4 L788.0 533.4 L789.0 533.4 L790.0 533.4 L791.0 533.4 L792.0 533.4 L793.0 533.4 L794.0 533.4 L795.0 533.4 L796.0 533.4 L797.0 533.4 L798.0 533.4 L799.0 533.4 L800.0 533.4 L801.0 533.4 L802.0 533.4 L803.0 533.4 L804.0 533.4 L805.0 533.4 L806.0 533.4 L807.0 533.4 L808.0 533.4 L809.0 533.4 L810.0 533.4 L811.0 533.4 L812.0 533.4 L813.0 533.4 L814.0 533.4 L815.0 533.4 L816.0 533.4 L817.0 533.4 L818.0 533.4 L819.0 533.4 L820.0 533.4 L821.0 533.4 L822.0 533.4 L823.0 533.4 L824.0 533.4 L825.0 533.4 L826.0 533.4 L827.0 533.4 L828.0 533.4 L829.0 533.4 L830.0 533.5 L831.0 533.5 L832.0 533.5 L833.0 533.5 L834.0 533.5 L835.0 533.5 L836.0 533.5 L837.0 533.5 L838.0 533.5 L839.0 533.5 L840.0 533.5 L841.0 533.5 L842.0 533.5 L843.0 533.5 L844.0 533.5 L845.0 533.5 L846.0 533.5 L847.0 533.5 L848.0 533.5 L849.0 533.5 L850.0 533.5 L851.0 533.5 L852.0 533.5 L853.0 533.5 L854.0 533.5 L855.0 533.5 L856.0 533.5 L857.0 533.5 L858.0 533.5 L859.0 533.5 L860.0 533.5 L861.0 533.5 L862.0 533.5 L863.0 533.5 L864.0 533.5 L865.0 533.5 L866.0 533.5 L867.0 533.5 L868.0 533.5 L869.0 533.5 L870.0 533.5 L871.0 533.5 L872.0 533.5 L873.0 533.5 L874.0 533.5 L875.0 533.5 L876.0 533.5 L877.0 533.5 L878.0 533.5 L879.0 533.5 L880.0 533.5 L881.0 533.5 L882.0 533.5 L883.0 533.5 L884.0 533.5 L885.0 533.5 L886.0 533.5 L887.0 533.5 L888.0 533.5 L889.0 533.5 L890.0 533.5 L891.0 533.5 L892.0 533.5 L893.0 533.5 L894.0 533.5 L895.0 533.5 L896.0 533.5 L897.0 533.5 L898.0 533.5 L899.0 533.5 L900.0 533.5 L901.0 533.5 L902.0 533.6 L903.0 533.6 L904.0 533.6 L905.0 533.6 L906.0 533.6 L907.0 533.6 L908.0 533.6 L909.0 533.6 L910.0 533.6 L911.0 533.6 L912.0 533.6 L913.0 533.6 L914.0 533.6 L915.0 533.6 L916.0 533.6 L917.0 533.6 L918.0 533.6 L919.0 533.6 L920.0 533.6 L921.0 533.6 L922.0 533.6 L923.0 533.6 L924.0 533.6 L925.0 533.6 L926.0 533.6 L927.0 533.6 L928.0 533.6 L929.0 533.6 L930.0 533.6 L931.0 533.6 L932.0 533.6 L933.0 533.6 L934.0 533.6 L935.0 533.6 L936.0 533.6 L937.0 533.6 L938.0 533.6 L939.0 533.6 L940.0 533.6 L941.0 533.6 L942.0 533.6 L943.0 533.6 L944.0 533.6 L945.0 533.6 L946.0 533.6 L947.0 533.6 L948.0 533.6 L949.0 533.6 L950.0 533.6 L951.0 533.6 L952.0 533.6 L953.0 533.6 L954.0 533.6 L955.0 533.6 L956.0 533.6 L957.0 533.6 L958.0 533.6 L959.0 533.6 L960.0 533.6 L961.0 533.6 L962.0 533.6 L963.0 533.6 L964.0 533.6 L965.0 533.6 L966.0 533.6 L967.0 533.6 L968.0 533.6 L969.0 533.6 L970.0 533.6 L971.0 533.6 L972.0 533.6 L973.0 533.6 L974.0 533.6 L975.0 533.6 L976.0 533.6 L977.0 533.6 L978.0 533.6 L979.0 533.6 L980.0 533.6 L981.0 533.6 L982.0 533.6 L983.0 533.6 L984.0 533.6 L985.0 533.6 L986.0 533.6 L987.0 533.6 L988.0 533.6 L989.0 533.6 L990.0 533.6 L991.0 533.6 L992.0 533.6 L993.0 533.6 L994.0 533.6 L995.0 533.6 L996.0 533.6 L997.0 533.6 L998.0 533.6 L999.0 533.6 L1000.0 533.6 L1001.0 533.6 L1002.0 533.6 L1003.0 533.6 L1004.0 533.6 L1005.0 533.6 L1006.0 533.6 L1007.0 533.6 L1008.0 533.6 L1009.0 533.6 L1010.0 533.6 L1011.0 533.6 L1012.0 533.6 L1013.0 533.6 L1014.0 533.6 L1015.0 533.6 L1016.0 533.6 L1017.0 533.6 L1018.0 533.6 L1019.0 533.6 L1020.0 533.6 L1021.0 533.6 L1022.0 533.6 L1023.0 533.6 L1024.0 533.6 L1025.0 533.6 L1026.0 533.6 L1027.0 533.6 L1028.0 533.6 L1029.0 533.6 L1030.0 533.6 L1031.0 533.6 L1032.0 533.6 L1033.0 533.6 L1034.0 533.6 L1035.0 533.6 L1036.0 533.6 L1037.0 533.7 L1038.0 533.7 L1039.0 533.7 L1040.0 533.7 L1041.0 533.7 L1042.0 533.7 L1043.0 533.7 L1044.0 533.7 L1045.0 533.7 L1046.0 533.7 L1047.0 533.7 L1048.0 533.7 L1049.0 533.7 L1050.0 533.7 L1051.0 533.7 L1052.0 533.7 L1053.0 533.7 L1054.0 533.7 L1055.0 533.7 L1056.0 533.7 L1057.0 533.7 L1058.0 533.7 L1059.0 533.7 L1060.0 533.7 L1061.0 533.7 L1062.0 533.7 L1063.0 533.7 L1064.0 533.7 L1065.0 533.7 L1066.0 533.7 L1067.0 533.7 L1068.0 533.7 L1069.0 533.7 L1070.0 533.7 L1071.0 533.7 L1072.0 533.7 L1073.0 533.7 L1074.0 533.7 L1075.0 533.7 L1076.0 533.7 L1077.0 533.7 L1078.0 533.7 L1079.0 533.7 L1080.0 533.7 L1081.0 533.7 L1082.0 533.7 L1083.0 533.7 L1084.0 533.7 L1085.0 533.7 L1086.0 533.7 L1087.0 533.7 L1088.0 533.7 L1089.0 533.7 L1090.0 533.7 L1091.0 533.7 L1092.0 533.7 L1093.0 533.7 L1094.0 533.7 L1095.0 533.7 L1096.0 533.7 L1097.0 533.7 L1098.0 533.7 L1099.0 533.7 L1100.0 533.7 L1101.0 533.7 L1102.0 533.7 L1103.0 533.7 L1104.0 533.7 L1105.0 533.7 L1106.0 533.7 L1107.0 533.7 L1108.0 533.7 L1109.0 533.7 L1110.0 533.7 L1111.0 533.7 L1112.0 533.7 L1113.0 533.7 L1114.0 533.7 L1115.0 533.7 L1116.0 533.7 L1117.0 533.7 L1118.0 533.7 L1119.0 533.7 L1120.0 533.7 L1121.0 533.7 L1122.0 533.7 L1123.0 533.7 L1124.0 533.7 L1125.0 533.7 L1126.0 533.7 L1127.0 533.7 L1128.0 533.7 L1129.0 533.7 L1130.0 533.7 L1131.0 533.7 L1132.0 533.7 L1133.0 533.7 L1134.0 533.7 L1135.0 533.7 L1136.0 533.7 L1137.0 533.7 L1138.0 533.7 L1139.0 533.7 L1140.0 533.7 L1141.0 533.7 L1142.0 533.7 L1143.0 533.7 L1144.0 533.7 L1145.0 533.7 L1146.0 533.7 L1147.0 533.7 L1148.0 533.7 L1149.0 533.7 L1150.0 533.7 L1151.0 533.7 L1152.0 533.7 L1153.0 533.7 L1154.0 533.7 L1155.0 533.7 L1156.0 533.7 L1157.0 533.7 L1158.0 533.7 L1159.0 533.7 L1160.0 533.7 L1161.0 533.7 L1162.0 533.7 L1163.0 533.7 L1164.0 533.7 L1165.0 533.7 L1166.0 533.7 L1167.0 533.7 L1168.0 533.7 L1169.0 533.7 L1170.0 533.7 L1171.0 533.7 L1172.0 533.7 L1173.0 533.7 L1174.0 533.7 L1175.0 533.7 L1176.0 533.7 L1177.0 533.7 L1178.0 533.7 L1179.0 533.7 L1180.0 533.7 L1181.0 533.7 L1182.0 533.7 L1183.0 533.7 L1184.0 533.7 L1185.0 533.7 L1186.0 533.7 L1187.0 533.7 L1188.0 533.7 L1189.0 533.7 L1190.0 533.7 L1191.0 533.7 L1192.0 533.7"/>
<path stroke="#ff00ff" d="M96.0 533.8 L97.0 533.8 L98.0 533.8 L99.0 533.8 L100.0 533.8 L101.0 533.8 L102.0 533.8 L103.0 533.8 L104.0 533.8 L105.0 533.8 L106.0 533.8 L107.0 533.8 L108.0 533.8 L109.0 533.8 L110.0 533.8 L111.0 533.8 L112.0 533.8 L113.0 533.8 L114.0 533.8 L115.0 533.8 L116.0 533.8 L117.0 533.8 L118.0 533.8 L119.0 533.8 L120.0 533.8 L121.0 533.8 L122.0 533.8 L123.0 533.8 L124.0 533.8 L125.0 533.8 L126.0 533.8 L127.0 533.8 L128.0 533.8 L129.0 533.8 L130.0 533.8 L131.0 533.8 L132.0 533.8 L133.0 533.8 L134.0 533.8 L135.0 533.8 L136.0 533.8 L137.0 533.8 L138.0 533.8 L139.0 533.8 L140.0 533.8 L141.0 533.8 L142.0 533.8 L143.0 533.8 L144.0 533.8 L145.0 533.8 L146.0 533.8 L147.0 533.8 L148.0 533.8 L149.0 533.8 L150.0 533.8 L151.0 533.8 L152.0 533.8 L153.0 533.8 L154.0 533.8 L155.0 533.8 L156.0 533.8 L157.0 533.8 L158.0 533.8 L159.0 533.8 L160.0 533.8 L161.0 533.8 L162.0 533.8 L163.0 533.8 L164.0 533.8 L165.0 533.8 L166.0 533.8 L167.0 533.8 L168.0 533.8 L169.0 533.8 L170.0 533.8 L171.0 533.8 L172.0 533.8 L173.0 533.8 L174.0 533.8 L175.0 533.8 L176.0 533.8 L177.0 533.8 L178.0 533.8 L179.0 533.8 L180.0 533.8 L181.0 533.8 L182.0 533.8 L183.0 533.8 L184.0 533.8 L185.0 533.8 L186.0 533.8 L187.0 533.8 L188.0 533.8 L189.0 533.8 L190.0 533.8 L191.0 533.8 L192.0 533.8 L193.0 533.8 L194.0 533.8 L195.0 533.8 L196.0 533.8 L197.0 533.8 L198.0 533.8 L199.0 533.8 L200.0 533.8 L201.0 533.8 L202.0 533.8 L203.0 533.8 L204.0 533.8 L205.0 533.8 L206.0 533.8 L207.0 533.8 L208.0 533.8 L209.0 533.8 L210.0 533.8 L211.0 533.8 L212.0 533.8 L213.0 533.8 L214.0 533.8 L215.0 533.8 L216.0 533.8 L217.0 533.8 L218.0 533.8 L219.0 533.8 L220.0 533.8 L221.0 533.8 L222.0 533.8 L223.0 533.8 L224.0 533.8 L225.0 533.8 L226.0 533.8 L227.0 533.8 L228.0 533.8 L229.0 533.8 L230.0 533.8 L231.0 533.8 L232.0 533.8 L233.0 533.8 L234.0 533.8 L235.0 533.8 L236.0 533.8 L237.0 533.8 L238.0 533.8 L239.0 533.8 L240.0 533.8 L241.0 533.8 L242.0 533.8 L243.0 533.8 L244.0 533.8 L245.0 533.8 L246.0 533.8 L247.0 533.8 L248.0 533.8 L249.0 533.8 L250.0 533.8 L251.0 533.8 L252.0 533.8 L253.0 533.8 L254.0 533.8 L255.0 533.8 L256.0 533.8 L257.0 533.8 L258.0 533.8 L259.0 533.8 L260.0 533.8 L261.0 533.8 L262.0 533.8 L263.0 533.8 L264.0 533.8 L265.0 533.8 L266.0 533.8 L267.0 533.8 L268.0 533.8 L269.0 533.8 L270.0 533.8 L271.0 533.8 L272.0 533.8 L273.0 533.8 L274.0 533.8 L275.0 533.8 L276.0 533.8 L277.0 533.8 L278.0 533.8 L279.0 533.8 L280.0 533.8 L281.0 533.8 L282.0 533.8 L283.0 533.8 L284.0 533.8 L285.0 533.8 L286.0 533.8 L287.0 533.8 L288.0 533.8 L289.0 533.8 L290.0 533.8 L291.0 533.8 L292.0 533.8 L293.0 533.8 L294.0 533.8 L295.0 533.8 L296.0 533.8 L297.0 533.8 L298.0 533.8 L299.0 533.8 L300.0 533.8 L301.0 533.8 L302.0 533.8 L303.0 533.8 L304.0 533.8 L305.0 533.8 L306.0 533.8 L307.0 533.8 L308.0 533.8 L309.0 533.8 L310.0 533.8 L311.0 533.8 L312.0 533.8 L313.0 533.8 L314.0 533.8 L315.0 533.8 L316.0 533.8 L317.0 533.8 L318.0 533.8 L319.0 533.8 L320.0 533.8 L321.0 533.8 L322.0 533.8 L323.0 533.8 L324.0 533.8 L325.0 533.8 L326.0 533.8 L327.0 533.8 L328.0 533.8 L329.0 533.8 L330.0 533.8 L331.0 533.8 L332.0 533.8 L333.0 533.8 L334.0 533.8 L335.0 533.8 L336.0 533.8 L337.0 533.8 L338.0 533.8 L339.0 533.8 L340.0 533.8 L341.0 533.8 L342.0 533.8 L343.0 533.8 L344.0 533.8 L345.0 533.8 L346.0 533.8 L347.0 533.8 L348.0 533.8 L349.0 533.8 L350.0 533.8 L351.0 533.8 L352.0 533.8 L353.0 533.8 L354.0 533.8 L355.0 533.8 L356.0 533.8 L357.0 533.8 L358.0 533.8 L359.0 533.8 L360.0 533.8 L361.0 533.8 L362.0 533.8 L363.0 533.8 L364.0 533.8 L365.0 533.8 L366.0 533.8 L367.0 533.8 L368.0 533.8 L369.0 533.8 L370.0 533.8 L371.0 533.8 L372.0 533.8 L373.0 533.7 L374.0 533.7 L375.0 533.7 L376.0 533.7 L377.0 533.7 L378.0 533.7 L379.0 533.7 L380.0 533.7 L381.0 533.7 L382.0 533.7 L383.0 533.7 L384.0 533.7 L385.0 533.7 L386.0 533.7 L387.0 533.7 L388.0 533.6 L389.0 533.6 L390.0 533.6 L391.0 533.6 L392.0 533.6 L393.0 533.6 L394.0 533.6 L395.0 533.6 L396.0 533.5 L397.0 533.5 L398.0 533.5 L399.0 533.5 L400.0 533.5 L401.0 533.4 L402.0 533.4 L403.0 533.4 L404.0 533.4 L405.0 533.3 L406.0 533.3 L407.0 533.3 L408.0 533.2 L409.0 533.2 L410.0 533.2 L411.0 533.1 L412.0 533.1 L413.0 533.0 L414.0 533.0 L415.0 532.9 L416.0 532.9 L417.0 532.8 L418.0 532.8 L419.0 532.7 L420.0 532.7 L421.0 532.6 L422.0 532.5 L423.0 532.5 L424.0 532.4 L425.0 532.3 L426.0 532.2 L427.0 532.1 L428.0 532.0 L429.0 531.9 L430.0 531.8 L431.0 531.7 L432.0 531.6 L433.0 531.5 L434.0 531.4 L435.0 531.2 L436.0 531.1 L437.0 531.0 L438.0 530.8 L439.0 530.7 L440.0 530.5 L441.0 530.4 L442.0 530.2 L443.0 530.0 L444.0 529.8 L445.0 529.6 L446.0 529.4 L447.0 529.2 L448.0 529.0 L449.0 528.8 L450.0 528.5 L451.0 528.3 L452.0 528.0 L453.0 527.8 L454.0 527.5 L455.0 527.2 L456.0 526.9 L457.0 526.6 L458.0 526.3 L459.0 526.0 L460.0 525.7 L461.0 525.3 L462.0 525.0 L463.0 524.6 L464.0 524.2 L465.0 523.8 L466.0 523.4 L467.0 523.0 L468.0 522.6 L469.0 522.2 L470.0 521.7 L471.0 521.3 L472.0 520.8 L473.0 520.3 L474.0 519.8 L475.0 519.3 L476.0 518.7 L477.0 518.2 L478.0 517.6 L479.0 517.1 L480.0 516.5 L481.0 515.9 L482.0 515.3 L483.0 514.7 L484.0 514.0 L485.0 513.4 L486.0 512.7 L487.0 512.0 L488.0 511.4 L489.0 510.7 L490.0 509.9 L491.0 509.2 L492.0 508.5 L493.0 507.7 L494.0 507.0 L495.0 506.2 L496.0 505.4 L497.0 504.6 L498.0 503.8 L499.0 503.0 L500.0 502.1 L501.0 501.3 L502.0 500.4 L503.0 499.6 L504.0 498.7 L505.0 497.8 L506.0 496.9 L507.0 496.0 L508.0 495.1 L509.0 494.2 L510.0 493.3 L511.0 492.4 L512.0 491.5 L513.0 490.5 L514.0 489.6 L515.0 488.7 L516.0 487.7 L517.0 486.8 L518.0 485.8 L519.0 484.9 L520.0 484.0 L521.0 483.0 L522.0 482.1 L523.0 481.1 L524.0 480.2 L525.0 479.3 L526.0 478.4 L527.0 477.4 L528.0 476.5 L529.0 475.6 L530.0 474.7 L531.0 473.9 L532.0 473.0 L533.0 472.1 L534.0 471.3 L535.0 470.4 L536.0 469.6 L537.0 468.8 L538.0 468.0 L539.0 467.2 L540.0 466.4 L541.0 465.6 L542.0 464.9 L543.0 464.2 L544.0 463.5 L545.0 462.8 L546.0 462.2 L547.0 461.5 L548.0 460.9 L549.0 460.3 L550.0 459.7 L551.0 459.2 L552.0 458.7 L553.0 458.2 L554.0 457.7 L555.0 457.3 L556.0 456.9 L557.0 456.5 L558.0 456.1 L559.0 455.8 L560.0 455.5 L561.0 455.2 L562.0 454.9 L563.0 454.7 L564.0 454.5 L565.0 454.4 L566.0 454.2 L567.0 454.1 L568.0 454.1 L569.0 454.0 L570.0 454.0 L571.0 454.0 L572.0 454.1 L573.0 454.1 L574.0 454.3 L575.0 454.4 L576.0 454.6 L577.0 454.8 L578.0 455.0 L579.0 455.2 L580.0 455.5 L581.0 455.8 L582.0 456.2 L583.0 456.6 L584.0 457.0 L585.0 457.4 L586.0 457.8 L587.0 458.3 L588.0 458.8 L589.0 459.3 L590.0 459.9 L591.0 460.5 L592.0 461.1 L593.0 461.7 L594.0 462.3 L595.0 463.0 L596.0 463.7 L597.0 464.4 L598.0 465.1 L599.0 465.8 L600.0 466.6 L601.0 467.4 L602.0 468.2 L603.0 469.0 L604.0 469.8 L605.0 470.6 L606.0 471.5 L607.0 472.3 L608.0 473.2 L609.0 474.1 L610.0 475.0 L611.0 475.9 L612.0 476.8 L613.0 477.7 L614.0 478.6 L615.0 479.5 L616.0 480.4 L617.0 481.4 L618.0 482.3 L619.0 483.3 L620.0 484.2 L621.0 485.1 L622.0 486.1 L623.0 487.0 L624.0 488.0 L625.0 488.9 L626.0 489.8 L627.0 490.8 L628.0 491.7 L629.0 492.6 L630.0 493.5 L631.0 494.4 L632.0 495.4 L633.0 496.3 L634.0 497.1 L635.0 498.0 L636.0 498.9 L637.0 499.8 L638.0 500.6 L639.0 501.5 L640.0 502.3 L641.0 503.2 L642.0 504.0 L643.0 504.8 L644.0 505.6 L645.0 506.4 L646.0 507.1 L647.0 507.9 L648.0 508.7 L649.0 509.4 L650.0 510.1 L651.0 510.8 L652.0 511.5 L653.0 512.2 L654.0 512.9 L655.0 513.5 L656.0 514.2 L657.0 514.8 L658.0 515.4 L659.0 516.0 L660.0 516.6 L661.0 517.2 L662.0 517.8 L663.0 518.3 L664.0 518.9 L665.0 519.4 L666.0 519.9 L667.0 520.4 L668.0 520.9 L669.0 521.4 L670.0 521.8 L671.0 522.3 L672.0 522.7 L673.0 523.1 L674.0 523.5 L675.0 523.9 L676.0 524.3 L677.0 524.7 L678.0 525.1 L679.0 525.4 L680.0 525.8 L681.0 526.1 L682.0 526.4 L683.0 526.7 L684.0 527.0 L685.0 527.3 L686.0 527.6 L687.0 527.8 L688.0 528.1 L689.0 528.4 L690.0 528.6 L691.0 528.8 L692.0 529.1 L693.0 529.3 L694.0 529.5 L695.0 529.7 L696.0 529.9 L697.0 530.1 L698.0 530.2 L699.0 530.4 L700.0 530.6 L701.0 530.7 L702.0 530.9 L703.0 531.0 L704.0 531.1 L705.0 531.3 L706.0 531.4 L707.0 531.5 L708.0 531.6 L709.0 531.8 L710.0 531.9 L711.0 532.0 L712.0 532.1 L713.0 532.1 L714.0 532.2 L715.0 532.3 L716.0 532.4 L717.0 532.5 L718.0 532.5 L719.0 532.6 L720.0 532.7 L721.0 532.7 L722.0 532.8 L723.0 532.9 L724.0 532.9 L725.0 533.0 L726.0 533.0 L727.0 533.1 L728.0 533.1 L729.0 533.1 L730.0 533.2 L731.0 533.2 L732.0 533.2 L733.0 533.3 L734.0 533.3 L735.0 533.3 L736.0 533.4 L737.0 533.4 L738.0 533.4 L739.0 533.4 L740.0 533.5 L741.0 533.5 L742.0 533.5 L743.0 533.5 L744.0 533.5 L745.0 533.6 L746.0 533.6 L747.0 533.6 L748.0 533.6 L749.0 533.6 L750.0 533.6 L751.0 533.6 L752.0 533.6 L753.0 533.7 L754.0 533.7 L755.0 533.7 L756.0 533.7 L757.0 533.7 L758.0 533.7 L759.0 533.7 L760.0 533.7 L761.0 533.7 L762.0 533.7 L763.0 533.7 L764.0 533.7 L765.0 533.7 L766.0 533.7 L767.0 533.7 L768.0 533.8 L769.0 533.8 L770.0 533.8 L771.0 533.8 L772.0 533.8 L773.0 533.8 L774.0 533.8 L775.0 533.8 L776.0 533.8 L777.0 533.8 L778.0 533.8 L779.0 533.8 L780.0 533.8 L781.0 533.8 L782.0 533.8 L783.0 533.8 L784.0 533.8 L785.0 533.8 L786.0 533.8 L787.0 533.8 L788.0 533.8 L789.0 533.8 L790.0 533.8 L791.0 533.8 L792.0 533.8 L793.0 533.8 L794.0 533.8 L795.0 533.8 L796.0 533.8 L797.0 533.8 L798.0 533.8 L799.0 533.8 L800.0 533.8 L801.0 533.8 L802.0 533.8 L803.0 533.8 L804.0 533.8 L805.0 533.8 L806.0 533.8 L807.0 533.8 L808.0 533.8 L809.0 533.8 L810.0 533.8 L811.0 533.8 L812.0 533.8 L813.0 533.8 L814.0 533.8 L815.0 533.8 L816.0 533.8 L817.0 533.8 L818.0 533.8 L819.0 533.8 L820.0 533.8 L821.0 533.8 L822.0 533.8 L823.0 533.8 L824.0 533.8 L825.0 533.8 L826.0 533.8 L827.0 533.8 L828.0 533.8 L829.0 533.8 L830.0 533.8 L831.0 533.8 L832.0 533.8 L833.0 533.8 L834.0 533.8 L835.0 533.8 L836.0 533.8 L837.0 533.8 L838.0 533.8 L839.0 533.8 L840.0 533.8 L841.0 533.8 L842.0 533.8 L843.0 533.8 L844.0 533.8 L845.0 533.8 L846.0 533.8 L847.0 533.8 L848.0 533.8 L849.0 533.8 L850.0 533.8 L851.0 533.8 L852.0 533.8 L853.0 533.8 L854.0 533.8 L855.0 533.8 L856.0 533.8 L857.0 533.8 L858.0 533.8 L859.0 533.8 L860.0 533.8 L861.0 533.8 L862.0 533.8 L863.0 533.8 L864.0 533.8 L865.0 533.8 L866.0 533.8 L867.0 533.8 L868.0 533.8 L869.0 533.8 L870.0 533.8 L871.0 533.8 L872.0 533.8 L873.0 533.8 L874.0 533.8 L875.0 533.8 L876.0 533.8 L877.0 533.8 L878.0 533.8 L879.0 533.8 L880.0 533.8 L881.0 533.8 L882.0 533.8 L883.0 533.8 L884.0 533.8 L885.0 533.8 L886.0 533.8 L887.0 533.8 L888.0 533.8 L889.0 533.8 L890.0 533.8 L891.0 533.8 L892.0 533.8 L893.0 533.8 L894.0 533.8 L895.0 533.8 L896.0 533.8 L897.0 533.8 L898.0 533.8 L899.0 533.8 L900.0 533.8 L901.0 533.8 L902.0 533.8 L903.0 533.8 L904.0 533.8 L905.0 533.8 L906.0 533.8 L907.0 533.8 L908.0 533.8 L909.0 533.8 L910.0 533.8 L911.0 533.8 L912.0 533.8 L913.0 533.8 L914.0 533.8 L915.0 533.8 L916.0 533.8 L917.0 533.8 L918.0 533.8 L919.0 533.8 L920.0 533.8 L921.0 533.8 L922.0 533.8 L923.0 533.8 L924.0 533.8 L925.0 533.8 L926.0 533.8 L927.0 533.8 L928.0 533.8 L929.0 533.8 L930.0 533.8 L931.0 533.8 L932.0 533.8 L933.0 533.8 L934.0 533.8 L935.0 533.8 L936.0 533.8 L937.0 533.8 L938.0 533.8 L939.0 533.8 L940.0 533.8 L941.0 533.8 L942.0 533.8 L943.0 533.8 L944.0 533.8 L945.0 533.8 L946.0 533.8 L947.0 533.8 L948.0 533.8 L949.0 533.8 L950.0 533.8 L951.0 533.8 L952.0 533.8 L953.0 533.8 L954.0 533.8 L955.0 533.8 L956.0 533.8 L957.0 533.8 L958.0 533.8 L959.0 533.8 L960.0 533.8 L961.0 533.8 L962.0 533.8 L963.0 533.8 L964.0 533.8 L965.0 533.8 L966.0 533.8 L967.0 533.8 L968.0 533.8 L969.0 533.8 L970.0 533.8 L971.0 533.8 L972.0 533.8 L973.0 533.8 L974.0 533.8 L975.0 533.8 L976.0 533.8 L977.0 533.8 L978.0 533.8 L979.0 533.8 L980.0 533.8 L981.0 533.8 L982.0 533.8 L983.0 533.8 L984.0 533.8 L985.0 533.8 L986.0 533.8 L987.0 533.8 L988.0 533.8 L989.0 533.8 L990.0 533.8 L991.0 533.8 L992.0 533.8 L993.0 533.8 L994.0 533.8 L995.0 533.8 L996.0 533.8 L997.0 533.8 L998.0 533.8 L999.0 533.8 L1000.0 533.8 L1001.0 533.8 L1002.0 533.8 L1003.0 533.8 L1004.0 533.8 L1005.0 533.8 L1006.0 533.8 L1007.0 533.8 L1008.0 533.8 L1009.0 533.8 L1010.0 533.8 L1011.0 533.8 L1012.0 533.8 L1013.0 533.8 L1014.0 533.8 L1015.0 533.8 L1016.0 533.8 L1017.0 533.8 L1018.0 533.8 L1019.0 533.8 L1020.0 533.8 L1021.0 533.8 L1022.0 533.8 L1023.0 533.8 L1024.0 533.8 L1025.0 533.8 L1026.0 533.8 L1027.0 533.8 L1028.0 533.8 L1029.0 533.8 L1030.0 533.8 L1031.0 533.8 L1032.0 533.8 L1033.0 533.8 L1034.0 533.8 L1035.0 533.8 L1036.0 533.8 L1037.0 533.8 L1038.0 533.8 L1039.0 533.8 L1040.0 533.8 L1041.0 533.8 L1042.0 533.8 L1043.0 533.8 L1044.0 533.8 L1045.0 533.8 L1046.0 533.8 L1047.0 533.8 L1048.0 533.8 L1049.0 533.8 L1050.0 533.8 L1051.0 533.8 L1052.0 533.8 L1053.0 533.8 L1054.0 533.8 L1055.0 533.8 L1056.0 533.8 L1057.0 533.8 L1058.0 533.8 L1059.0 533.8 L1060.0 533.8 L1061.0 533.8 L1062.0 533.8 L1063.0 533.8 L1064.0 533.8 L1065.0 533.8 L1066.0 533.8 L1067.0 533.8 L1068.0 533.8 L1069.0 533.8 L1070.0 533.8 L1071.0 533.8 L1072.0 533.8 L1073.0 533.8 L1074.0 533.8 L1075.0 533.8 L1076.0 533.8 L1077.0 533.8 L1078.0 533.8 L1079.0 533.8 L1080.0 533.8 L1081.0 533.8 L1082.0 533.8 L1083.0 533.8 L1084.0 533.8 L1085.0 533.8 L1086.0 533.8 L1087.0 533.8 L1088.0 533.8 L1089.0 533.8 L1090.0 533.8 L1091.0 533.8 L1092.0 533.8 L1093.0 533.8 L1094.0 533.8 L1095.0 533.8 L1096.0 533.8 L1097.0 533.8 L1098.0 533.8 L1099.0 533.8 L1100.0 533.8 L1101.0 533.8 L1102.0 533.8 L1103.0 533.8 L1104.0 533.8 L1105.0 533.8 L1106.0 533.8 L1107.0 533.8 L1108.0 533.8 L1109.0 533.8 L1110.0 533.8 L1111.0 533.8 L1112.0 533.8 L1113.0 533.8 L1114.0 533.8 L1115.0 533.8 L1116.0 533.8 L1117.0 533.8 L1118.0 533.8 L1119.0 533.8 L1120.0 533.8 L1121.0 533.8 L1122.0 533.8 L1123.0 533.8 L1124.0 533.8 L1125.0 533.8 L1126.0 533.8 L1127.0 533.8 L1128.0 533.8 L1129.0 533.8 L1130.0 533.8 L1131.0 533.8 L1132.0 533.8 L1133.0 533.8 L1134.0 533.8 L1135.0 533.8 L1136.0 533.8 L1137.0 533.8 L1138.0 533.8 L1139.0 533.8 L1140.0 533.8 L1141.0 533.8 L1142.0 533.8 L1143.0 533.8 L1144.0 533.8 L1145.0 533.8 L1146.0 533.8 L1147.0 533.8 L1148.0 533.8 L1149.0 533.8 L1150.0 533.8 L1151.0 533.8 L1152.0 533.8 L1153.0 533.8 L1154.0 533.8 L1155.0 533.8 L1156.0 533.8 L1157.0 533.8 L1158.0 533.8 L1159.0 533.8 L1160.0 533.8 L1161.0 533.8 L1162.0 533.8 L1163.0 533.8 L1164.0 533.8 L1165.0 533.8 L1166.0 533.8 L1167.0 533.8 L1168.0 533.8 L1169.0 533.8 L1170.0 533.8 L1171.0 533.8 L1172.0 533.8 L1173.0 533.8 L1174.0 533.8 L1175.0 533.8 L1176.0 533.8 L1177.0 533.8 L1178.0 533.8 L1179.0 533.8 L1180.0 533.8 L1181.0 533.8 L1182.0 533.8 L1183.0 533.8 L1184.0 533.8 L1185.0 533.8 L1186.0 533.8 L1187.0 533.8 L1188.0 533.8 L1189.0 533.8 L1190.0 533.8 L1191.0 533.8 L1192.0 533.8"/>
<path stroke="#ff8000" d="M96.0 533.7 L97.0 533.7 L98.0 533.7 L99.0 533.7 L100.0 533.7 L101.0 533.7 L102.0 533.7 L103.0 533.7 L104.0 533.7 L105.0 533.7 L106.0 533.7 L107.0 533.7 L108.0 533.7 L109.0 533.7 L110.0 533.7 L111.0 533.7 L112.0 533.7 L113.0 533.7 L114.0 533.7 L115.0 533.7 L116.0 533.7 L117.0 533.7 L118.0 533.7 L119.0 533.7 L120.0 533.7 L121.0 533.7 L122.0 533.7 L123.0 533.7 L124.0 533.7 L125.0 533.7 L126.0 533.7 L127.0 533.7 L128.0 533.7 L129.0 533.7 L130.0 533.7 L131.0 533.7 L132.0 533.7 L133.0 533.7 L134.0 533.7 L135.0 533.7 L136.0 533.7 L137.0 533.7 L138.0 533.7 L139.0 533.7 L140.0 533.7 L141.0 533.7 L142.0 533.7 L143.0 533.7 L144.0 533.7 L145.0 533.7 L146.0 533.7 L147.0 533.7 L148.0 533.7 L149.0 533.7 L150.0 533.7 L151.0 533.7 L152.0 533.7 L153.0 533.7 L154.0 533.7 L155.0 533.7 L156.0 533.7 L157.0 533.7 L158.0 533.7 L159.0 533.7 L160.0 533.7 L161.0 533.7 L162.0 533.7 L163.0 533.7 L164.0 533.7 L165.0 533.7 L166.0 533.7 L167.0 533.7 L168.0 533.7 L169.0 533.7 L170.0 533.7 L171.0 533.7 L172.0 533.7 L173.0 533.7 L174.0 533.7 L175.0 533.7 L176.0 533.7 L177.0 533.7 L178.0 533.7 L179.0 533.7 L180.0 533.7 L181.0 533.7 L182.0 533.7 L183.0 533.7 L184.0 533.7 L185.0 533.7 L186.0 533.7 L187.0 533.7 L188.0 533.7 L189.0 533.7 L190.0 533.7 L191.0 533.7 L192.0 533.7 L193.0 533.7 L194.0 533.7 L195.0 533.7 L196.0 533.7 L197.0 533.7 L198.0 533.7 L199.0 533.7 L200.0 533.7 L201.0 533.7 L202.0 533.7 L203.0 533.7 L204.0 533.7 L205.0 533.7 L206.0 533.7 L207.0 533.7 L208.0 533.7 L209.0 533.7 L210.0 533.7 L211.0 533.7 L212.0 533.7 L213.0 533.7 L214.0 533.7 L215.0 533.7 L216.0 533.7 L217.0 533.7 L218.0 533.7 L219.0 533.7 L220.0 533.7 L221.0 533.7 L222.0 533.7 L223.0 533.7 L224.0 533.7 L225.0 533.7 L226.0 533.7 L227.0 533.7 L228.0 533.7 L229.0 533.7 L230.0 533.7 L231.0 533.7 L232.0 533.7 L233.0 533.7 L234.0 533.7 L235.0 533.7 L236.0 533.7 L237.0 533.7 L238.0 533.7 L239.0 533.7 L240.0 533.7 L241.0 533.7 L242.0 533.7 L243.0 533.7 L244.0 533.7 L245.0 533.7 L246.0 533.7 L247.0 533.7 L248.0 533.7 L249.0 533.7 L250.0 533.7 L251.0 533.7 L252.0 533.7 L253.0 533.7 L254.0 533.7 L255.0 533.7 L256.0 533.7 L257.0 533.7 L258.0 533.7 L259.0 533.7 L260.0 533.7 L261.0 533.7 L262.0 533.7 L263.0 533.7 L264.0 533.7 L265.0 533.7 L266.0 533.7 L267.0 533.7 L268.0 533.7 L269.0 533.7 L270.0 533.7 L271.0 533.7 L272.0 533.7 L273.0 533.7 L274.0 533.7 L275.0 533.7 L276.0 533.7 L277.0 533.7 L278.0 533.7 L279.0 533.7 L280.0 533.7 L281.0 533.7 L282.0 533.7 L283.0 533.7 L284.0 533.7 L285.0 533.7 L286.0 533.7 L287.0 533.7 L288.0 533.7 L289.0 533.7 L290.0 533.7 L291.0 533.7 L292.0 533.7 L293.0 533.7 L294.0 533.7 L295.0 533.7 L296.0 533.7 L297.0 533.7 L298.0 533.7 L299.0 533.7 L300.0 533.7 L301.0 533.7 L302.0 533.7 L303.0 533.7 L304.0 533.7 L305.0 533.7 L306.0 533.7 L307.0 533.7 L308.0 533.7 L309.0 533.7 L310.0 533.7 L311.0 533.7 L312.0 533.7 L313.0 533.7 L314.0 533.7 L315.0 533.7 L316.0 533.7 L317.0 533.7 L318.0 533.7 L319.0 533.7 L320.0 533.6 L321.0 533.6 L322.0 533.6 L323.0 533.6 L324.0 533.6 L325.0 533.6 L326.0 533.6 L327.0 533.6 L328.0 533.6 L329.0 533.6 L330.0 533.6 L331.0 533.6 L332.0 533.6 L333.0 533.6 L334.0 533.6 L335.0 533.6 L336.0 533.6 L337.0 533.6 L338.0 533.6 L339.0 533.6 L340.0 533.6 L341.0 533.6 L342.0 533.6 L343.0 533.6 L344.0 533.6 L345.0 533.6 L346.0 533.6 L347.0 533.6 L348.0 533.6 L349.0 533.6 L350.0 533.6 L351.0 533.6 L352.0 533.6 L353.0 533.6 L354.0 533.6 L355.0 533.6 L356.0 533.6 L357.0 533.6 L358.0 533.6 L359.0 533.6 L360.0 533.6 L361.0 533.6 L362.0 533.6 L363.0 533.6 L364.0 533.6 L365.0 533.6 L366.0 533.6 L367.0 533.6 L368.0 533.6 L369.0 533.6 L370.0 533.6 L371.0 533.6 L372.0 533.6 L373.0 533.6 L374.0 533.6 L375.0 533.6 L376.0 533.6 L377.0 533.6 L378.0 533.6 L379.0 533.6 L380.0 533.6 L381.0 533.6 L382.0 533.6 L383.0 533.6 L384.0 533.6 L385.0 533.6 L386.0 533.6 L387.0 533.6 L388.0 533.6 L389.0 533.6 L390.0 533.6 L391.0 533.6 L392.0 533.6 L393.0 533.6 L394.0 533.6 L395.0 533.5 L396.0 533.5 L397.0 533.5 L398.0 533.5 L399.0 533.5 L400.0 533.5 L401.0 533.5 L402.0 533.5 L403.0 533.5 L404.0 533.5 L405.0 533.5 L406.0 533.5 L407.0 533.5 L408.0 533.5 L409.0 533.5 L410.0 533.5 L411.0 533.5 L412.0 533.5 L413.0 533.5 L414.0 533.5 L415.0 533.5 L416.0 533.5 L417.0 533.5 L418.0 533.5 L419.0 533.5 L420.0 533.5 L421.0 533.5 L422.0 533.5 L423.0 533.5 L424.0 533.5 L425.0 533.5 L426.0 533.5 L427.0 533.5 L428.0 533.5 L429.0 533.5 L430.0 533.5 L431.0 533.5 L432.0 533.5 L433.0 533.5 L434.0 533.5 L435.0 533.4 L436.0 533.4 L437.0 533.4 L438.0 533.4 L439.0 533.4 L440.0 533.4 L441.0 533.4 L442.0 533.4 L443.0 533.4 L444.0 533.4 L445.0 533.4 L446.0 533.4 L447.0 533.4 L448.0 533.4 L449.0 533.4 L450.0 533.4 L451.0 533.4 L452.0 533.4 L453.0 533.4 L454.0 533.4 L455.0 533.4 L456.0 533.4 L457.0 533.4 L458.0 533.4 L459.0 533.4 L460.0 533.4 L461.0 533.3 L462.0 533.3 L463.0 533.3 L464.0 533.3 L465.0 533.3 L466.0 533.3 L467.0 533.3 L468.0 533.3 L469.0 533.3 L470.0 533.3 L471.0 533.3 L472.0 533.3 L473.0 533.3 L474.0 533.3 L475.0 533.3 L476.0 533.3 L477.0 533.3 L478.0 533.3 L479.0 533.3 L480.0 533.2 L481.0 533.2 L482.0 533.2 L483.0 533.2 L484.0 533.2 L485.0 533.2 L486.0 533.2 L487.0 533.2 L488.0 533.2 L489.0 533.2 L490.0 533.2 L491.0 533.2 L492.0 533.2 L493.0 533.2 L494.0 533.1 L495.0 533.1 L496.0 533.1 L497.0 533.1 L498.0 533.1 L499.0 533.1 L500.0 533.1 L501.0 533.1 L502.0 533.1 L503.0 533.1 L504.0 533.1 L505.0 533.0 L506.0 533.0 L507.0 533.0 L508.0 533.0 L509.0 533.0 L510.0 533.0 L511.0 533.0 L512.0 533.0 L513.0 533.0 L514.0 532.9 L515.0 532.9 L516.0 532.9 L517.0 532.9 L518.0 532.9 L519.0 532.9 L520.0 532.9 L521.0 532.9 L522.0 532.8 L523.0 532.8 L524.0 532.8 L525.0 532.8 L526.0 532.8 L527.0 532.8 L528.0 532.8 L529.0 532.7 L530.0 532.7 L531.0 532.7 L532.0 532.7 L533.0 532.7 L534.0 532.6 L535.0 532.6 L536.0 532.6 L537.0 532.6 L538.0 532.6 L539.0 532.5 L540.0 532.5 L541.0 532.5 L542.0 532.5 L543.0 532.5 L544.0 532.4 L545.0 532.4 L546.0 532.4 L547.0 532.4 L548.0 532.3 L549.0 532.3 L550.0 532.3 L551.0 532.3 L552.0 532.2 L553.0 532.2 L554.0 532.2 L555.0 532.1 L556.0 532.1 L557.0 532.1 L558.0 532.0 L559.0 532.0 L560.0 531.9 L561.0 531.9 L562.0 531.9 L563.0 531.8 L564.0 531.8 L565.0 531.7 L566.0 531.7 L567.0 531.6 L568.0 531.6 L569.0 531.5 L570.0 531.5 L571.0 531.4 L572.0 531.3 L573.0 531.3 L574.0 531.2 L575.0 531.1 L576.0 531.0 L577.0 530.9 L578.0 530.8 L579.0 530.7 L580.0 530.6 L581.0 530.5 L582.0 530.4 L583.0 530.3 L584.0 530.2 L585.0 530.0 L586.0 529.9 L587.0 529.7 L588.0 529.5 L589.0 529.4 L590.0 529.2 L591.0 529.0 L592.0 528.7 L593.0 528.5 L594.0 528.3 L595.0 528.0 L596.0 527.7 L597.0 527.4 L598.0 527.1 L599.0 526.7 L600.0 526.4 L601.0 526.0 L602.0 525.6 L603.0 525.2 L604.0 524.7 L605.0 524.3 L606.0 523.8 L607.0 523.2 L608.0 522.7 L609.0 522.1 L610.0 521.5 L611.0 520.9 L612.0 520.2 L613.0 519.5 L614.0 518.8 L615.0 518.0 L616.0 517.3 L617.0 516.5 L618.0 515.6 L619.0 514.8 L620.0 513.9 L621.0 513.0 L622.0 512.0 L623.0 511.1 L624.0 510.1 L625.0 509.1 L626.0 508.1 L627.0 507.1 L628.0 506.0 L629.0 505.0 L630.0 503.9 L631.0 502.9 L632.0 501.8 L633.0 500.8 L634.0 499.8 L635.0 498.7 L636.0 497.7 L637.0 496.8 L638.0 495.8 L639.0 494.9 L640.0 494.0 L641.0 493.2 L642.0 492.5 L643.0 491.8 L644.0 491.2 L645.0 490.6 L646.0 490.1 L647.0 489.8 L648.0 489.5 L649.0 489.2 L650.0 489.1 L651.0 489.1 L652.0 489.2 L653.0 489.3 L654.0 489.6 L655.0 489.9 L656.0 490.4 L657.0 490.9 L658.0 491.5 L659.0 492.2 L660.0 492.9 L661.0 493.7 L662.0 494.5 L663.0 495.4 L664.0 496.3 L665.0 497.3 L666.0 498.3 L667.0 499.3 L668.0 500.3 L669.0 501.4 L670.0 502.4 L671.0 503.5 L672.0 504.5 L673.0 505.6 L674.0 506.6 L675.0 507.6 L676.0 508.7 L677.0 509.7 L678.0 510.6 L679.0 511.6 L680.0 512.5 L681.0 513.5 L682.0 514.4 L683.0 515.2 L684.0 516.1 L685.0 516.9 L686.0 517.7 L687.0 518.4 L688.0 519.2 L689.0 519.9 L690.0 520.6 L691.0 521.2 L692.0 521.8 L693.0 522.4 L694.0 523.0 L695.0 523.5 L696.0 524.0 L697.0 524.5 L698.0 525.0 L699.0 525.4 L700.0 525.8 L701.0 526.2 L702.0 526.6 L703.0 526.9 L704.0 527.3 L705.0 527.6 L706.0 527.9 L707.0 528.1 L708.0 528.4 L709.0 528.6 L710.0 528.9 L711.0 529.1 L712.0 529.3 L713.0 529.5 L714.0 529.6 L715.0 529.8 L716.0 529.9 L717.0 530.1 L718.0 530.2 L719.0 530.4 L720.0 530.5 L721.0 530.6 L722.0 530.7 L723.0 530.8 L724.0 530.9 L725.0 531.0 L726.0 531.1 L727.0 531.1 L728.0 531.2 L729.0 531.3 L730.0 531.4 L731.0 531.4 L732.0 531.5 L733.0 531.5 L734.0 531.6 L735.0 531.7 L736.0 531.7 L737.0 531.7 L738.0 531.8 L739.0 531.8 L740.0 531.9 L741.0 531.9 L742.0 532.0 L743.0 532.0 L744.0 532.0 L745.0 532.1 L746.0 532.1 L747.0 532.1 L748.0 532.2 L749.0 532.2 L750.0 532.2 L751.0 532.3 L752.0 532.3 L753.0 532.3 L754.0 532.3 L755.0 532.4 L756.0 532.4 L757.0 532.4 L758.0 532.4 L759.0 532.5 L760.0 532.5 L761.0 532.5 L762.0 532.5 L763.0 532.6 L764.0 532.6 L765.0 532.6 L766.0 532.6 L767.0 532.6 L768.0 532.7 L769.0 532.7 L770.0 532.7 L771.0 532.7 L772.0 532.7 L773.0 532.7 L774.0 532.8 L775.0 532.8 L776.0 532.8 L777.0 532.8 L778.0 532.8 L779.0 532.8 L780.0 532.9 L781.0 532.9 L782.0 532.9 L783.0 532.9 L784.0 532.9 L785.0 532.9 L786.0 532.9 L787.0 532.9 L788.0 533.0 L789.0 533.0 L790.0 533.0 L791.0 533.0 L792.0 533.0 L793.0 533.0 L794.0 533.0 L795.0 533.0 L796.0 533.0 L797.0 533.1 L798.0 533.1 L799.0 533.1 L800.0 533.1 L801.0 533.1 L802.0 533.1 L803.0 533.1 L804.0 533.1 L805.0 533.1 L806.0 533.1 L807.0 533.1 L808.0 533.1 L809.0 533.2 L810.0 533.2 L811.0 533.2 L812.0 533.2 L813.0 533.2 L814.0 533.2 L815.0 533.2 L816.0 533.2 L817.0 533.2 L818.0 533.2 L819.0 533.2 L820.0 533.2 L821.0 533.2 L822.0 533.2 L823.0 533.3 L824.0 533.3 L825.0 533.3 L826.0 533.3 L827.0 533.3 L828.0 533.3 L829.0 533.3 L830.0 533.3 L831.0 533.3 L832.0 533.3 L833.0 533.3 L834.0 533.3 L835.0 533.3 L836.0 533.3 L837.0 533.3 L838.0 533.3 L839.0 533.3 L840.0 533.3 L841.0 533.4 L842.0 533.4 L843.0 533.4 L844.0 533.4 L845.0 533.4 L846.0 533.4 L847.0 533.4 L848.0 533.4 L849.0 533.4 L850.0 533.4 L851.0 533.4 L852.0 533.4 L853.0 533.4 L854.0 533.4 L855.0 533.4 L856.0 533.4 L857.0 533.4 L858.0 533.4 L859.0 533.4 L860.0 533.4 L861.0 533.4 L862.0 533.4 L863.0 533.4 L864.0 533.4 L865.0 533.4 L866.0 533.4 L867.0 533.5 L868.0 533.5 L869.0 533.5 L870.0 533.5 L871.0 533.5 L872.0 533.5 L873.0 533.5 L874.0 533.5 L875.0 533.5 L876.0 533.5 L877.0 533.5 L878.0 533.5 L879.0 533.5 L880.0 533.5 L881.0 533.5 L882.0 533.5 L883.0 533.5 L884.0 533.5 L885.0 533.5 L886.0 533.5 L887.0 533.5 L888.0 533.5 L889.0 533.5 L890.0 533.5 L891.0 533.5 L892.0 533.5 L893.0 533.5 L894.0 533.5 L895.0 533.5 L896.0 533.5 L897.0 533.5 L898.0 533.5 L899.0 533.5 L900.0 533.5 L901.0 533.5 L902.0 533.5 L903.0 533.5 L904.0 533.5 L905.0 533.5 L906.0 533.5 L907.0 533.6 L908.0 533.6 L909.0 533.6 L910.0 533.6 L911.0 533.6 L912.0 533.6 L913.0 533.6 L914.0 533.6 L915.0 533.6 L916.0 533.6 L917.0 533.6 L918.0 533.6 L919.0 533.6 L920.0 533.6 L921.0 533.6 L922.0 533.6 L923.0 533.6 L924.0 533.6 L925.0 533.6 L926.0 533.6 L927.0 533.6 L928.0 533.6 L929.0 533.6 L930.0 533.6 L931.0 533.6 L932.0 533.6 L933.0 533.6 L934.0 533.6 L935.0 533.6 L936.0 533.6 L937.0 533.6 L938.0 533.6 L939.0 533.6 L940.0 533.6 L941.0 533.6 L942.0 533.6 L943.0 533.6 L944.0 533.6 L945.0 533.6 L946.0 533.6 L947.0 533.6 L948.0 533.6 L949.0 533.6 L950.0 533.6 L951.0 533.6 L952.0 533.6 L953.0 533.6 L954.0 533.6 L955.0 533.6 L956.0 533.6 L957.0 533.6 L958.0 533.6 L959.0 533.6 L960.0 533.6 L961.0 533.6 L962.0 533.6 L963.0 533.6 L964.0 533.6 L965.0 533.6 L966.0 533.6 L967.0 533.6 L968.0 533.6 L969.0 533.6 L970.0 533.6 L971.0 533.6 L972.0 533.6 L973.0 533.6 L974.0 533.6 L975.0 533.6 L976.0 533.6 L977.0 533.6 L978.0 533.6 L979.0 533.6 L980.0 533.6 L981.0 533.6 L982.0 533.6 L983.0 533.7 L984.0 533.7 L985.0 533.7 L986.0 533.7 L987.0 533.7 L988.0 533.7 L989.0 533.7 L990.0 533.7 L991.0 533.7 L992.0 533.7 L993.0 533.7 L994.0 533.7 L995.0 533.7 L996.0 533.7 L997.0 533.7 L998.0 533.7 L999.0 533.7 L1000.0 533.7 L1001.0 533.7 L1002.0 533.7 L1003.0 533.7 L1004.0 533.7 L1005.0 533.7 L1006.0 533.7 L1007.0 533.7 L1008.0 533.7 L1009.0 533.7 L1010.0 533.7 L1011.0 533.7 L1012.0 533.7 L1013.0 533.7 L1014.0 533.7 L1015.0 533.7 L1016.0 533.7 L1017.0 533.7 L1018.0 533.7 L1019.0 533.7 L1020.0 533.7 L1021.0 533.7 L1022.0 533.7 L1023.0 533.7 L1024.0 533.7 L1025.0 533.7 L1026.0 533.7 L1027.0 533.7 L1028.0 533.7 L1029.0 533.7 L1030.0 533.7 L1031.0 533.7 L1032.0 533.7 L1033.0 533.7 L1034.0 533.7 L1035.0 533.7 L1036.0 533.7 L1037.0 533.7 L1038.0 533.7 L1039.0 533.7 L1040.0 533.7 L1041.0 533.7 L1042.0 533.7 L1043.0 533.7 L1044.0 533.7 L1045.0 533.7 L1046.0 533.7 L1047.0 533.7 L1048.0 533.7 L1049.0 533.7 L1050.0 533.7 L1051.0 533.7 L1052.0 533.7 L1053.0 533.7 L1054.0 533.7 L1055.0 533.7 L1056.0 533.7 L1057.0 533.7 L1058.0 533.7 L1059.0 533.7 L1060.0 533.7 L1061.0 533.7 L1062.0 533.7 L1063.0 533.7 L1064.0 533.7 L1065.0 533.7 L1066.0 533.7 L1067.0 533.7 L1068.0 533.7 L1069.0 533.7 L1070.0 533.7 L1071.0 533.7 L1072.0 533.7 L1073.0 533.7 L1074.0 533.7 L1075.0 533.7 L1076.0 533.7 L1077.0 533.7 L1078.0 533.7 L1079.0 533.7 L1080.0 533.7 L1081.0 533.7 L1082.0 533.7 L1083.0 533.7 L1084.0 533.7 L1085.0 533.7 L1086.0 533.7 L1087.0 533.7 L1088.0 533.7 L1089.0 533.7 L1090.0 533.7 L1091.0 533.7 L1092.0 533.7 L1093.0 533.7 L1094.0 533.7 L1095.0 533.7 L1096.0 533.7 L1097.0 533.7 L1098.0 533.7 L1099.0 533.7 L1100.0 533.7 L1101.0 533.7 L1102.0 533.7 L1103.0 533.7 L1104.0 533.7 L1105.0 533.7 L1106.0 533.7 L1107.0 533.7 L1108.0 533.7 L1109.0 533.7 L1110.0 533.7 L1111.0 533.7 L1112.0 533.7 L1113.0 533.7 L1114.0 533.7 L1115.0 533.7 L1116.0 533.7 L1117.0 533.7 L1118.0 533.7 L1119.0 533.7 L1120.0 533.7 L1121.0 533.7 L1122.0 533.7 L1123.0 533.7 L1124.0 533.7 L1125.0 533.7 L1126.0 533.7 L1127.0 533.7 L1128.0 533.7 L1129.0 533.7 L1130.0 533.7 L1131.0 533.7 L1132.0 533.7 L1133.0 533.7 L1134.0 533.7 L1135.0 533.7 L1136.0 533.7 L1137.0 533.7 L1138.0 533.7 L1139.0 533.7 L1140.0 533.7 L1141.0 533.7 L1142.0 533.7 L1143.0 533.7 L1144.0 533.7 L1145.0 533.7 L1146.0 533.7 L1147.0 533.7 L1148.0 533.7 L1149.0 533.7 L1150.0 533.7 L1151.0 533.7 L1152.0 533.7 L1153.0 533.7 L1154.0 533.7 L1155.0 533.7 L1156.0 533.7 L1157.0 533.7 L1158.0 533.7 L1159.0 533.7 L1160.0 533.7 L1161.0 533.7 L1162.0 533.7 L1163.0 533.7 L1164.0 533.7 L1165.0 533.7 L1166.0 533.7 L1167.0 533.7 L1168.0 533.7 L1169.0 533.7 L1170.0 533.7 L1171.0 533.7 L1172.0 533.7 L1173.0 533.7 L1174.0 533.7 L1175.0 533.7 L1176.0 533.7 L1177.0 533.7 L1178.0 533.7 L1179.0 533.7 L1180.0 533.7 L1181.0 533.7 L1182.0 533.7 L1183.0 533.7 L1184.0 533.7 L1185.0 533.7 L1186.0 533.7 L1187.0 533.7 L1188.0 533.7 L1189.0 533.7 L1190.0 533.7 L1191.0 533.7 L1192.0 533.7"/>
<path stroke="#808000" d="M96.0 533.8 L97.0 533.8 L98.0 533.8 L99.0 533.8 L100.0 533.8 L101.0 533.8 L102.0 533.8 L103.0 533.8 L104.0 533.8 L105.0 533.8 L106.0 533.8 L107.0 533.8 L108.0 533.8 L109.0 533.8 L110.0 533.8 L111.0 533.8 L112.0 533.8 L113.0 533.8 L114.0 533.8 L115.0 533.8 L116.0 533.8 L117.0 533.8 L118.0 533.8 L119.0 533.8 L120.0 533.8 L121.0 533.8 L122.0 533.8 L123.0 533.8 L124.0 533.8 L125.0 533.8 L126.0 533.8 L127.0 533.8 L128.0 533.8 L129.0 533.8 L130.0 533.8 L131.0 533.8 L132.0 533.8 L133.0 533.8 L134.0 533.8 L135.0 533.8 L136.0 533.8 L137.0 533.8 L138.0 533.8 L139.0 533.8 L140.0 533.8 L141.0 533.8 L142.0 533.8 L143.0 533.8 L144.0 533.8 L145.0 533.8 L146.0 533.8 L147.0 533.8 L148.0 533.8 L149.0 533.8 L150.0 533.8 L151.0 533.8 L152.0 533.8 L153.0 533.8 L154.0 533.8 L155.0 533.8 L156.0 533.8 L157.0 533.8 L158.0 533.8 L159.0 533.8 L160.0 533.8 L161.0 533.8 L162.0 533.8 L163.0 533.8 L164.0 533.8 L165.0 533.8 L166.0 533.8 L167.0 533.8 L168.0 533.8 L169.0 533.8 L170.0 533.8 L171.0 533.8 L172.0 533.8 L173.0 533.8 L174.0 533.8 L175.0 533.8 L176.0 533.8 L177.0 533.8 L178.0 533.8 L179.0 533.8 L180.0 533.8 L181.0 533.8 L182.0 533.8 L183.0 533.8 L184.0 533.8 L185.0 533.8 L186.0 533.8 L187.0 533.8 L188.0 533.8 L189.0 533.8 L190.0 533.8 L191.0 533.8 L192.0 533.8 L193.0 533.8 L194.0 533.8 L195.0 533.8 L196.0 533.8 L197.0 533.8 L198.0 533.8 L199.0 533.8 L200.0 533.8 L201.0 533.8 L202.0 533.8 L203.0 533.8 L204.0 533.8 L205.0 533.8 L206.0 533.8 L207.0 533.8 L208.0 533.8 L209.0 533.8 L210.0 533.8 L211.0 533.8 L212.0 533.8 L213.0 533.8 L214.0 533.8 L215.0 533.8 L216.0 533.8 L217.0 533.8 L218.0 533.8 L219.0 533.8 L220.0 533.8 L221.0 533.8 L222.0 533.8 L223.0 533.8 L224.0 533.8 L225.0 533.8 L226.0 533.8 L227.0 533.8 L228.0 533.8 L229.0 533.8 L230.0 533.8 L231.0 533.8 L232.0 533.8 L233.0 533.8 L234.0 533.8 L235.0 533.8 L236.0 533.8 L237.0 533.8 L238.0 533.8 L239.0 533.8 L240.0 533.8 L241.0 533.8 L242.0 533.8 L243.0 533.8 L244.0 533.8 L245.0 533.8 L246.0 533.8 L247.0 533.8 L248.0 533.8 L249.0 533.8 L250.0 533.8 L251.0 533.8 L252.0 533.8 L253.0 533.8 L254.0 533.8 L255.0 533.8 L256.0 533.8 L257.0 533.8 L258.0 533.8 L259.0 533.8 L260.0 533.8 L261.0 533.8 L262.0 533.8 L263.0 533.8 L264.0 533.8 L265.0 533.8 L266.0 533.8 L267.0 533.8 L268.0 533.8 L269.0 533.8 L270.0 533.8 L271.0 533.8 L272.0 533.8 L273.0 533.8 L274.0 533.8 L275.0 533.8 L276.0 533.8 L277.0 533.8 L278.0 533.8 L279.0 533.8 L280.0 533.8 L281.0 533.8 L282.0 533.8 L283.0 533.8 L284.0 533.8 L285.0 533.8 L286.0 533.8 L287.0 533.8 L288.0 533.8 L289.0 533.8 L290.0 533.8 L291.0 533.8 L292.0 533.8 L293.0 533.8 L294.0 533.8 L295.0 533.8 L296.0 533.8 L297.0 533.8 L298.0 533.8 L299.0 533.8 L300.0 533.8 L301.0 533.8 L302.0 533.8 L303.0 533.8 L304.0 533.8 L305.0 533.8 L306.0 533.8 L307.0 533.8 L308.0 533.8 L309.0 533.8 L310.0 533.8 L311.0 533.8 L312.0 533.8 L313.0 533.8 L314.0 533.8 L315.0 533.8 L316.0 533.8 L317.0 533.8 L318.0 533.8 L319.0 533.8 L320.0 533.8 L321.0 533.8 L322.0 533.8 L323.0 533.8 L324.0 533.8 L325.0 533.8 L326.0 533.8 L327.0 533.8 L328.0 533.8 L329.0 533.8 L330.0 533.8 L331.0 533.8 L332.0 533.8 L333.0 533.8 L334.0 533.8 L335.0 533.8 L336.0 533.8 L337.0 533.8 L338.0 533.8 L339.0 533.8 L340.0 533.8 L341.0 533.8 L342.0 533.8 L343.0 533.8 L344.0 533.8 L345.0 533.8 L346.0 533.8 L347.0 533.8 L348.0 533.8 L349.0 533.8 L350.0 533.8 L351.0 533.8 L352.0 533.8 L353.0 533.8 L354.0 533.8 L355.0 533.8 L356.0 533.8 L357.0 533.8 L358.0 533.8 L359.0 533.8 L360.0 533.8 L361.0 533.8 L362.0 533.8 L363.0 533.8 L364.0 533.8 L365.0 533.8 L366.0 533.8 L367.0 533.8 L368.0 533.8 L369.0 533.8 L370.0 533.8 L371.0 533.8 L372.0 533.8 L373.0 533.8 L374.0 533.8 L375.0 533.8 L376.0 533.8 L377.0 533.8 L378.0 533.8 L379.0 533.8 L380.0 533.8 L381.0 533.8 L382.0 533.8 L383.0 533.8 L384.0 533.8 L385.0 533.8 L386.0 533.8 L387.0 533.8 L388.0 533.8 L389.0 533.8 L390.0 533.8 L391.0 533.8 L392.0 533.8 L393.0 533.8 L394.0 533.8 L395.0 533.8 L396.0 533.8 L397.0 533.8 L398.0 533.8 L399.0 533.8 L400.0 533.8 L401.0 533.8 L402.0 533.8 L403.0 533.8 L404.0 533.8 L405.0 533.8 L406.0 533.8 L407.0 533.8 L408.0 533.8 L409.0 533.8 L410.0 533.8 L411.0 533.8 L412.0 533.8 L413.0 533.8 L414.0 533.8 L415.0 533.8 L416.0 533.8 L417.0 533.8 L418.0 533.8 L419.0 533.8 L420.0 533.8 L421.0 533.8 L422.0 533.8 L423.0 533.8 L424.0 533.8 L425.0 533.8 L426.0 533.8 L427.0 533.8 L428.0 533.8 L429.0 533.8 L430.0 533.8 L431.0 533.8 L432.0 533.8 L433.0 533.8 L434.0 533.8 L435.0 533.8 L436.0 533.8 L437.0 533.8 L438.0 533.8 L439.0 533.8 L440.0 533.8 L441.0 533.8 L442.0 533.8 L443.0 533.8 L444.0 533.8 L445.0 533.8 L446.0 533.8 L447.0 533.8 L448.0 533.8 L449.0 533.8 L450.0 533.8 L451.0 533.8 L452.0 533.8 L453.0 533.8 L454.0 533.8 L455.0 533.8 L456.0 533.8 L457.0 533.8 L458.0 533.8 L459.0 533.8 L460.0 533.8 L461.0 533.8 L462.0 533.8 L463.0 533.8 L464.0 533.8 L465.0 533.8 L466.0 533.8 L467.0 533.8 L468.0 533.8 L469.0 533.8 L470.0 533.8 L471.0 533.8 L472.0 533.8 L473.0 533.8 L474.0 533.8 L475.0 533.8 L476.0 533.8 L477.0 533.8 L478.0 533.8 L479.0 533.8 L480.0 533.8 L481.0 533.8 L482.0 533.8 L483.0 533.8 L484.0 533.8 L485.0 533.8 L486.0 533.8 L487.0 533.8 L488.0 533.8 L489.0 533.8 L490.0 533.8 L491.0 533.8 L492.0 533.8 L493.0 533.8 L494.0 533.8 L495.0 533.8 L496.0 533.8 L497.0 533.8 L498.0 533.8 L499.0 533.8 L500.0 533.8 L501.0 533.8 L502.0 533.8 L503.0 533.8 L504.0 533.8 L505.0 533.8 L506.0 533.8 L507.0 533.8 L508.0 533.8 L509.0 533.8 L510.0 533.8 L511.0 533.8 L512.0 533.8 L513.0 533.8 L514.0 533.8 L515.0 533.8 L516.0 533.8 L517.0 533.8 L518.0 533.8 L519.0 533.8 L520.0 533.8 L521.0 533.8 L522.0 533.8 L523.0 533.8 L524.0 533.8 L525.0 533.8 L526.0 533.8 L527.0 533.8 L528.0 533.8 L529.0 533.8 L530.0 533.8 L531.0 533.8 L532.0 533.8 L533.0 533.8 L534.0 533.8 L535.0 533.8 L536.0 533.8 L537.0 533.8 L538.0 533.8 L539.0 533.8 L540.0 533.8 L541.0 533.8 L542.0 533.8 L543.0 533.8 L544.0 533.8 L545.0 533.8 L546.0 533.8 L547.0 533.8 L548.0 533.8 L549.0 533.8 L550.0 533.8 L551.0 533.8 L552.0 533.8 L553.0 533.8 L554.0 533.8 L555.0 533.8 L556.0 533.8 L557.0 533.8 L558.0 533.8 L559.0 533.8 L560.0 533.8 L561.0 533.8 L562.0 533.8 L563.0 533.8 L564.0 533.8 L565.0 533.8 L566.0 533.8 L567.0 533.8 L568.0 533.8 L569.0 533.8 L570.0 533.8 L571.0 533.8 L572.0 533.8 L573.0 533.8 L574.0 533.8 L575.0 533.8 L576.0 533.8 L577.0 533.8 L578.0 533.8 L579.0 533.8 L580.0 533.8 L581.0 533.8 L582.0 533.8 L583.0 533.8 L584.0 533.8 L585.0 533.8 L586.0 533.8 L587.0 533.8 L588.0 533.8 L589.0 533.8 L590.0 533.8 L591.0 533.8 L592.0 533.8 L593.0 533.8 L594.0 533.8 L595.0 533.8 L596.0 533.8 L597.0 533.8 L598.0 533.8 L599.0 533.8 L600.0 533.8 L601.0 533.8 L602.0 533.8 L603.0 533.8 L604.0 533.8 L605.0 533.8 L606.0 533.8 L607.0 533.8 L608.0 533.8 L609.0 533.8 L610.0 533.8 L611.0 533.8 L612.0 533.8 L613.0 533.8 L614.0 533.8 L615.0 533.8 L616.0 533.8 L617.0 533.8 L618.0 533.8 L619.0 533.8 L620.0 533.8 L621.0 533.8 L622.0 533.8 L623.0 533.8 L624.0 533.8 L625.0 533.8 L626.0 533.8 L627.0 533.8 L628.0 533.8 L629.0 533.8 L630.0 533.8 L631.0 533.8 L632.0 533.8 L633.0 533.8 L634.0 533.8 L635.0 533.8 L636.0 533.8 L637.0 533.8 L638.0 533.8 L639.0 533.8 L640.0 533.8 L641.0 533.8 L642.0 533.8 L643.0 533.8 L644.0 533.8 L645.0 533.8 L646.0 533.8 L647.0 533.8 L648.0 533.8 L649.0 533.8 L650.0 533.8 L651.0 533.8 L652.0 533.8 L653.0 533.8 L654.0 533.8 L655.0 533.8 L656.0 533.8 L657.0 533.8 L658.0 533.8 L659.0 533.8 L660.0 533.8 L661.0 533.8 L662.0 533.8 L663.0 533.8 L664.0 533.8 L665.0 533.8 L666.0 533.8 L667.0 533.8 L668.0 533.8 L669.0 533.8 L670.0 533.8 L671.0 533.8 L672.0 533.8 L673.0 533.8 L674.0 533.8 L675.0 533.8 L676.0 533.8 L677.0 533.8 L678.0 533.8 L679.0 533.8 L680.0 533.8 L681.0 533.8 L682.0 533.8 L683.0 533.8 L684.0 533.8 L685.0 533.8 L686.0 533.8 L687.0 533.8 L688.0 533.8 L689.0 533.8 L690.0 533.8 L691.0 533.8 L692.0 533.8 L693.0 533.8 L694.0 533.8 L695.0 533.8 L696.0 533.8 L697.0 533.8 L698.0 533.8 L699.0 533.8 L700.0 533.8 L701.0 533.8 L702.0 533.8 L703.0 533.8 L704.0 533.8 L705.0 533.7 L706.0 533.7 L707.0 533.7 L708.0 533.7 L709.0 533.7 L710.0 533.7 L711.0 533.6 L712.0 533.6 L713.0 533.6 L714.0 533.5 L715.0 533.5 L716.0 533.4 L717.0 533.4 L718.0 533.3 L719.0 533.3 L720.0 533.2 L721.0 533.1 L722.0 533.0 L723.0 532.9 L724.0 532.7 L725.0 532.6 L726.0 532.5 L727.0 532.3 L728.0 532.1 L729.0 531.9 L730.0 531.7 L731.0 531.5 L732.0 531.2 L733.0 531.0 L734.0 530.7 L735.0 530.4 L736.0 530.1 L737.0 529.8 L738.0 529.4 L739.0 529.1 L740.0 528.7 L741.0 528.4 L742.0 528.0 L743.0 527.6 L744.0 527.2 L745.0 526.9 L746.0 526.5 L747.0 526.1 L748.0 525.7 L749.0 525.4 L750.0 525.0 L751.0 524.7 L752.0 524.4 L753.0 524.1 L754.0 523.8 L755.0 523.6 L756.0 523.4 L757.0 523.2 L758.0 523.0 L759.0 522.9 L760.0 522.9 L761.0 522.8 L762.0 522.8 L763.0 522.8 L764.0 522.9 L765.0 523.0 L766.0 523.1 L767.0 523.3 L768.0 523.5 L769.0 523.7 L770.0 524.0 L771.0 524.3 L772.0 524.6 L773.0 524.9 L774.0 525.2 L775.0 525.6 L776.0 525.9 L777.0 526.3 L778.0 526.7 L779.0 527.1 L780.0 527.5 L781.0 527.8 L782.0 528.2 L783.0 528.6 L784.0 528.9 L785.0 529.3 L786.0 529.6 L787.0 530.0 L788.0 530.3 L789.0 530.6 L790.0 530.9 L791.0 531.1 L792.0 531.4 L793.0 531.6 L794.0 531.8 L795.0 532.0 L796.0 532.2 L797.0 532.4 L798.0 532.5 L799.0 532.7 L800.0 532.8 L801.0 532.9 L802.0 533.0 L803.0 533.1 L804.0 533.2 L805.0 533.3 L806.0 533.4 L807.0 533.4 L808.0 533.5 L809.0 533.5 L810.0 533.6 L811.0 533.6 L812.0 533.6 L813.0 533.7 L814.0 533.7 L815.0 533.7 L816.0 533.7 L817.0 533.7 L818.0 533.7 L819.0 533.8 L820.0 533.8 L821.0 533.8 L822.0 533.8 L823.0 533.8 L824.0 533.8 L825.0 533.8 L826.0 533.8 L827.0 533.8 L828.0 533.8 L829.0 533.8 L830.0 533.8 L831.0 533.8 L832.0 533.8 L833.0 533.8 L834.0 533.8 L835.0 533.8 L836.0 533.8 L837.0 533.8 L838.0 533.8 L839.0 533.8 L840.0 533.8 L841.0 533.8 L842.0 533.8 L843.0 533.8 L844.0 533.8 L845.0 533.8 L846.0 533.8 L847.0 533.8 L848.0 533.8 L849.0 533.8 L850.0 533.8 L851.0 533.8 L852.0 533.8 L853.0 533.8 L854.0 533.8 L855.0 533.8 L856.0 533.8 L857.0 533.8 L858.0 533.8 L859.0 533.8 L860.0 533.8 L861.0 533.8 L862.0 533.8 L863.0 533.8 L864.0 533.8 L865.0 533.8 L866.0 533.8 L867.0 533.8 L868.0 533.8 L869.0 533.8 L870.0 533.8 L871.0 533.8 L872.0 533.8 L873.0 533.8 L874.0 533.8 L875.0 533.8 L876.0 533.8 L877.0 533.8 L878.0 533.8 L879.0 533.8 L880.0 533.8 L881.0 533.8 L882.0 533.8 L883.0 533.8 L884.0 533.8 L885.0 533.8 L886.0 533.8 L887.0 533.8 L888.0 533.8 L889.0 533.8 L890.0 533.8 L891.0 533.8 L892.0 533.8 L893.0 533.8 L894.0 533.8 L895.0 533.8 L896.0 533.8 L897.0 533.8 L898.0 533.8 L899.0 533.8 L900.0 533.8 L901.0 533.8 L902.0 533.8 L903.0 533.8 L904.0 533.8 L905.0 533.8 L906.0 533.8 L907.0 533.8 L908.0 533.8 L909.0 533.8 L910.0 533.8 L911.0 533.8 L912.0 533.8 L913.0 533.8 L914.0 533.8 L915.0 533.8 L916.0 533.8 L917.0 533.8 L918.0 533.8 L919.0 533.8 L920.0 533.8 L921.0 533.8 L922.0 533.8 L923.0 533.8 L924.0 533.8 L925.0 533.8 L926.0 533.8 L927.0 533.8 L928.0 533.8 L929.0 533.8 L930.0 533.8 L931.0 533.8 L932.0 533.8 L933.0 533.8 L934.0 533.8 L935.0 533.8 L936.0 533.8 L937.0 533.8 L938.0 533.8 L939.0 533.8 L940.0 533.8 L941.0 533.8 L942.0 533.8 L943.0 533.8 L944.0 533.8 L945.0 533.8 L946.0 533.8 L947.0 533.8 L948.0 533.8 L949.0 533.8 L950.0 533.8 L951.0 533.8 L952.0 533.8 L953.0 533.8 L954.0 533.8 L955.0 533.8 L956.0 533.8 L957.0 533.8 L958.0 533.8 L959.0 533.8 L960.0 533.8 L961.0 533.8 L962.0 533.8 L963.0 533.8 L964.0 533.8 L965.0 533.8 L966.0 533.8 L967.0 533.8 L968.0 533.8 L969.0 533.8 L970.0 533.8 L971.0 533.8 L972.0 533.8 L973.0 533.8 L974.0 533.8 L975.0 533.8 L976.0 533.8 L977.0 533.8 L978.0 533.8 L979.0 533.8 L980.0 533.8 L981.0 533.8 L982.0 533.8 L983.0 533.8 L984.0 533.8 L985.0 533.8 L986.0 533.8 L987.0 533.8 L988.0 533.8 L989.0 533.8 L990.0 533.8 L991.0 533.8 L992.0 533.8 L993.0 533.8 L994.0 533.8 L995.0 533.8 L996.0 533.8 L997.0 533.8 L998.0 533.8 L999.0 533.8 L1000.0 533.8 L1001.0 533.8 L1002.0 533.8 L1003.0 533.8 L1004.0 533.8 L1005.0 533.8 L1006.0 533.8 L1007.0 533.8 L1008.0 533.8 L1009.0 533.8 L1010.0 533.8 L1011.0 533.8 L1012.0 533.8 L1013.0 533.8 L1014.0 533.8 L1015.0 533.8 L1016.0 533.8 L1017.0 533.8 L1018.0 533.8 L1019.0 533.8 L1020.0 533.8 L1021.0 533.8 L1022.0 533.8 L1023.0 533.8 L1024.0 533.8 L1025.0 533.8 L1026.0 533.8 L1027.0 533.8 L1028.0 533.8 L1029.0 533.8 L1030.0 533.8 L1031.0 533.8 L1032.0 533.8 L1033.0 533.8 L1034.0 533.8 L1035.0 533.8 L1036.0 533.8 L1037.0 533.8 L1038.0 533.8 L1039.0 533.8 L1040.0 533.8 L1041.0 533.8 L1042.0 533.8 L1043.0 533.8 L1044.0 533.8 L1045.0 533.8 L1046.0 533.8 L1047.0 533.8 L1048.0 533.8 L1049.0 533.8 L1050.0 533.8 L1051.0 533.8 L1052.0 533.8 L1053.0 533.8 L1054.0 533.8 L1055.0 533.8 L1056.0 533.8 L1057.0 533.8 L1058.0 533.8 L1059.0 533.8 L1060.0 533.8 L1061.0 533.8 L1062.0 533.8 L1063.0 533.8 L1064.0 533.8 L1065.0 533.8 L1066.0 533.8 L1067.0 533.8 L1068.0 533.8 L1069.0 533.8 L1070.0 533.8 L1071.0 533.8 L1072.0 533.8 L1073.0 533.8 L1074.0 533.8 L1075.0 533.8 L1076.0 533.8 L1077.0 533.8 L1078.0 533.8 L1079.0 533.8 L1080.0 533.8 L1081.0 533.8 L1082.0 533.8 L1083.0 533.8 L1084.0 533.8 L1085.0 533.8 L1086.0 533.8 L1087.0 533.8 L1088.0 533.8 L1089.0 533.8 L1090.0 533.8 L1091.0 533.8 L1092.0 533.8 L1093.0 533.8 L1094.0 533.8 L1095.0 533.8 L1096.0 533.8 L1097.0 533.8 L1098.0 533.8 L1099.0 533.8 L1100.0 533.8 L1101.0 533.8 L1102.0 533.8 L1103.0 533.8 L1104.0 533.8 L1105.0 533.8 L1106.0 533.8 L1107.0 533.8 L1108.0 533.8 L1109.0 533.8 L1110.0 533.8 L1111.0 533.8 L1112.0 533.8 L1113.0 533.8 L1114.0 533.8 L1115.0 533.8 L1116.0 533.8 L1117.0 533.8 L1118.0 533.8 L1119.0 533.8 L1120.0 533.8 L1121.0 533.8 L1122.0 533.8 L1123.0 533.8 L1124.0 533.8 L1125.0 533.8 L1126.0 533.8 L1127.0 533.8 L1128.0 533.8 L1129.0 533.8 L1130.0 533.8 L1131.0 533.8 L1132.0 533.8 L1133.0 533.8 L1134.0 533.8 L1135.0 533.8 L1136.0 533.8 L1137.0 533.8 L1138.0 533.8 L1139.0 533.8 L1140.0 533.8 L1141.0 533.8 L1142.0 533.8 L1143.0 533.8 L1144.0 533.8 L1145.0 533.8 L1146.0 533.8 L1147.0 533.8 L1148.0 533.8 L1149.0 533.8 L1150.0 533.8 L1151.0 533.8 L1152.0 533.8 L1153.0 533.8 L1154.0 533.8 L1155.0 533.8 L1156.0 533.8 L1157.0 533.8 L1158.0 533.8 L1159.0 533.8 L1160.0 533.8 L1161.0 533.8 L1162.0 533.8 L1163.0 533.8 L1164.0 533.8 L1165.0 533.8 L1166.0 533.8 L1167.0 533.8 L1168.0 533.8 L1169.0 533.8 L1170.0 533.8 L1171.0 533.8 L1172.0 533.8 L1173.0 533.8 L1174.0 533.8 L1175.0 533.8 L1176.0 533.8 L1177.0 533.8 L1178.0 533.8 L1179.0 533.8 L1180.0 533.8 L1181.0 533.8 L1182.0 533.8 L1183.0 533.8 L1184.0 533.8 L1185.0 533.8 L1186.0 533.8 L1187.0 533.8 L1188.0 533.8 L1189.0 533.8 L1190.0 533.8 L1191.0 533.8 L1192.0 533.8"/>
<path stroke="#000080" d="M96.0 533.1 L97.0 533.1 L98.0 533.1 L99.0 533.1 L100.0 533.1 L101.0 533.1 L102.0 533.1 L103.0 533.1 L104.0 533.1 L105.0 533.1 L106.0 533.1 L107.0 533.1 L108.0 533.1 L109.0 533.1 L110.0 533.1 L111.0 533.1 L112.0 533.1 L113.0 533.1 L114.0 533.1 L115.0 533.1 L116.0 533.1 L117.0 533.1 L118.0 533.1 L119.0 533.1 L120.0 533.1 L121.0 533.1 L122.0 533.1 L123.0 533.1 L124.0 533.1 L125.0 533.1 L126.0 533.1 L127.0 533.1 L128.0 533.1 L129.0 533.1 L130.0 533.1 L131.0 533.1 L132.0 533.1 L133.0 533.1 L134.0 533.1 L135.0 533.1 L136.0 533.1 L137.0 533.1 L138.0 533.1 L139.0 533.1 L140.0 533.1 L141.0 533.1 L142.0 533.1 L143.0 533.1 L144.0 533.1 L145.0 533.1 L146.0 533.1 L147.0 533.1 L148.0 533.1 L149.0 533.1 L150.0 533.1 L151.0 533.1 L152.0 533.1 L153.0 533.0 L154.0 533.0 L155.0 533.0 L156.0 533.0 L157.0 533.0 L158.0 533.0 L159.0 533.0 L160.0 533.0 L161.0 533.0 L162.0 533.0 L163.0 533.0 L164.0 533.0 L165.0 533.0 L166.0 533.0 L167.0 533.0 L168.0 533.0 L169.0 533.0 L170.0 533.0 L171.0 533.0 L172.0 533.0 L173.0 533.0 L174.0 533.0 L175.0 533.0 L176.0 533.0 L177.0 533.0 L178.0 533.0 L179.0 533.0 L180.0 533.0 L181.0 533.0 L182.0 533.0 L183.0 533.0 L184.0 533.0 L185.0 533.0 L186.0 533.0 L187.0 533.0 L188.0 533.0 L189.0 533.0 L190.0 533.0 L191.0 533.0 L192.0 533.0 L193.0 533.0 L194.0 533.0 L195.0 533.0 L196.0 533.0 L197.0 533.0 L198.0 533.0 L199.0 532.9 L200.0 532.9 L201.0 532.9 L202.0 532.9 L203.0 532.9 L204.0 532.9 L205.0 532.9 L206.0 532.9 L207.0 532.9 L208.0 532.9 L209.0 532.9 L210.0 532.9 L211.0 532.9 L212.0 532.9 L213.0 532.9 L214.0 532.9 L215.0 532.9 L216.0 532.9 L217.0 532.9 L218.0 532.9 L219.0 532.9 L220.0 532.9 L221.0 532.9 L222.0 532.9 L223.0 532.9 L224.0 532.9 L225.0 532.9 L226.0 532.9 L227.0 532.9 L228.0 532.9 L229.0 532.9 L230.0 532.9 L231.0 532.9 L232.0 532.9 L233.0 532.9 L234.0 532.9 L235.0 532.9 L236.0 532.9 L237.0 532.9 L238.0 532.8 L239.0 532.8 L240.0 532.8 L241.0 532.8 L242.0 532.8 L243.0 532.8 L244.0 532.8 L245.0 532.8 L246.0 532.8 L247.0 532.8 L248.0 532.8 L249.0 532.8 L250.0 532.8 L251.0 532.8 L252.0 532.8 L253.0 532.8 L254.0 532.8 L255.0 532.8 L256.0 532.8 L257.0 532.8 L258.0 532.8 L259.0 532.8 L260.0 532.8 L261.0 532.8 L262.0 532.8 L263.0 532.8 L264.0 532.8 L265.0 532.8 L266.0 532.8 L267.0 532.8 L268.0 532.8 L269.0 532.8 L270.0 532.8 L271.0 532.7 L272.0 532.7 L273.0 532.7 L274.0 532.7 L275.0 532.7 L276.0 532.7 L277.0 532.7 L278.0 532.7 L279.0 532.7 L280.0 532.7 L281.0 532.7 L282.0 532.7 L283.0 532.7 L284.0 532.7 L285.0 532.7 L286.0 532.7 L287.0 532.7 L288.0 532.7 L289.0 532.7 L290.0 532.7 L291.0 532.7 L292.0 532.7 L293.0 532.7 L294.0 532.7 L295.0 532.7 L296.0 532.7 L297.0 532.7 L298.0 532.7 L299.0 532.6 L300.0 532.6 L301.0 532.6 L302.0 532.6 L303.0 532.6 L304.0 532.6 L305.0 532.6 L306.0 532.6 L307.0 532.6 L308.0 532.6 L309.0 532.6 L310.0 532.6 L311.0 532.6 L312.0 532.6 L313.0 532.6 L314.0 532.6 L315.0 532.6 L316.0 532.6 L317.0 532.6 L318.0 532.6 L319.0 532.6 L320.0 532.6 L321.0 532.6 L322.0 532.6 L323.0 532.6 L324.0 532.6 L325.0 532.5 L326.0 532.5 L327.0 532.5 L328.0 532.5 L329.0 532.5 L330.0 532.5 L331.0 532.5 L332.0 532.5 L333.0 532.5 L334.0 532.5 L335.0 532.5 L336.0 532.5 L337.0 532.5 L338.0 532.5 L339.0 532.5 L340.0 532.5 L341.0 532.5 L342.0 532.5 L343.0 532.5 L344.0 532.5 L345.0 532.5 L346.0 532.5 L347.0 532.4 L348.0 532.4 L349.0 532.4 L350.0 532.4 L351.0 532.4 L352.0 532.4 L353.0 532.4 L354.0 532.4 L355.0 532.4 L356.0 532.4 L357.0 532.4 L358.0 532.4 L359.0 532.4 L360.0 532.4 L361.0 532.4 L362.0 532.4 L363.0 532.4 L364.0 532.4 L365.0 532.4 L366.0 532.4 L367.0 532.3 L368.0 532.3 L369.0 532.3 L370.0 532.3 L371.0 532.3 L372.0 532.3 L373.0 532.3 L374.0 532.3 L375.0 532.3 L376.0 532.3 L377.0 532.3 L378.0 532.3 L379.0 532.3 L380.0 532.3 L381.0 532.3 L382.0 532.3 L383.0 532.3 L384.0 532.3 L385.0 532.2 L386.0 532.2 L387.0 532.2 L388.0 532.2 L389.0 532.2 L390.0 532.2 L391.0 532.2 L392.0 532.2 L393.0 532.2 L394.0 532.2 L395.0 532.2 L396.0 532.2 L397.0 532.2 L398.0 532.2 L399.0 532.2 L400.0 532.2 L401.0 532.1 L402.0 532.1 L403.0 532.1 L404.0 532.1 L405.0 532.1 L406.0 532.1 L407.0 532.1 L408.0 532.1 L409.0 532.1 L410.0 532.1 L411.0 532.1 L412.0 532.1 L413.0 532.1 L414.0 532.1 L415.0 532.1 L416.0 532.0 L417.0 532.0 L418.0 532.0 L419.0 532.0 L420.0 532.0 L421.0 532.0 L422.0 532.0 L423.0 532.0 L424.0 532.0 L425.0 532.0 L426.0 532.0 L427.0 532.0 L428.0 532.0 L429.0 532.0 L430.0 531.9 L431.0 531.9 L432.0 531.9 L433.0 531.9 L434.0 531.9 L435.0 531.9 L436.0 531.9 L437.0 531.9 L438.0 531.9 L439.0 531.9 L440.0 531.9 L441.0 531.9 L442.0 531.9 L443.0 531.8 L444.0 531.8 L445.0 531.8 L446.0 531.8 L447.0 531.8 L448.0 531.8 L449.0 531.8 L450.0 531.8 L451.0 531.8 L452.0 531.8 L453.0 531.8 L454.0 531.8 L455.0 531.7 L456.0 531.7 L457.0 531.7 L458.0 531.7 L459.0 531.7 L460.0 531.7 L461.0 531.7 L462.0 531.7 L463.0 531.7 L464.0 531.7 L465.0 531.7 L466.0 531.6 L467.0 531.6 L468.0 531.6 L469.0 531.6 L470.0 531.6 L471.0 531.6 L472.0 531.6 L473.0 531.6 L474.0 531.6 L475.0 531.6 L476.0 531.5 L477.0 531.5 L478.0 531.5 L479.0 531.5 L480.0 531.5 L481.0 531.5 L482.0 531.5 L483.0 531.5 L484.0 531.5 L485.0 531.4 L486.0 531.4 L487.0 531.4 L488.0 531.4 L489.0 531.4 L490.0 531.4 L491.0 531.4 L492.0 531.4 L493.0 531.4 L494.0 531.3 L495.0 531.3 L496.0 531.3 L497.0 531.3 L498.0 531.3 L499.0 531.3 L500.0 531.3 L501.0 531.3 L502.0 531.3 L503.0 531.2 L504.0 531.2 L505.0 531.2 L506.0 531.2 L507.0 531.2 L508.0 531.2 L509.0 531.2 L510.0 531.2 L511.0 531.1 L512.0 531.1 L513.0 531.1 L514.0 531.1 L515.0 531.1 L516.0 531.1 L517.0 531.1 L518.0 531.0 L519.0 531.0 L520.0 531.0 L521.0 531.0 L522.0 531.0 L523.0 531.0 L524.0 531.0 L525.0 530.9 L526.0 530.9 L527.0 530.9 L528.0 530.9 L529.0 530.9 L530.0 530.9 L531.0 530.9 L532.0 530.8 L533.0 530.8 L534.0 530.8 L535.0 530.8 L536.0 530.8 L537.0 530.8 L538.0 530.8 L539.0 530.7 L540.0 530.7 L541.0 530.7 L542.0 530.7 L543.0 530.7 L544.0 530.7 L545.0 530.6 L546.0 530.6 L547.0 530.6 L548.0 530.6 L549.0 530.6 L550.0 530.6 L551.0 530.5 L552.0 530.5 L553.0 530.5 L554.0 530.5 L555.0 530.5 L556.0 530.4 L557.0 530.4 L558.0 530.4 L559.0 530.4 L560.0 530.4 L561.0 530.3 L562.0 530.3 L563.0 530.3 L564.0 530.3 L565.0 530.3 L566.0 530.3 L567.0 530.2 L568.0 530.2 L569.0 530.2 L570.0 530.2 L571.0 530.2 L572.0 530.1 L573.0 530.1 L574.0 530.1 L575.0 530.1 L576.0 530.0 L577.0 530.0 L578.0 530.0 L579.0 530.0 L580.0 530.0 L581.0 529.9 L582.0 529.9 L583.0 529.9 L584.0 529.9 L585.0 529.8 L586.0 529.8 L587.0 529.8 L588.0 529.8 L589.0 529.7 L590.0 529.7 L591.0 529.7 L592.0 529.7 L593.0 529.6 L594.0 529.6 L595.0 529.6 L596.0 529.6 L597.0 529.5 L598.0 529.5 L599.0 529.5 L600.0 529.5 L601.0 529.4 L602.0 529.4 L603.0 529.4 L604.0 529.4 L605.0 529.3 L606.0 529.3 L607.0 529.3 L608.0 529.2 L609.0 529.2 L610.0 529.2 L611.0 529.2 L612.0 529.1 L613.0 529.1 L614.0 529.1 L615.0 529.0 L616.0 529.0 L617.0 529.0 L618.0 528.9 L619.0 528.9 L620.0 528.9 L621.0 528.8 L622.0 528.8 L623.0 528.8 L624.0 528.7 L625.0 528.7 L626.0 528.7 L627.0 528.6 L628.0 528.6 L629.0 528.6 L630.0 528.5 L631.0 528.5 L632.0 528.5 L633.0 528.4 L634.0 528.4 L635.0 528.4 L636.0 528.3 L637.0 528.3 L638.0 528.2 L639.0 528.2 L640.0 528.2 L641.0 528.1 L642.0 528.1 L643.0 528.0 L644.0 528.0 L645.0 528.0 L646.0 527.9 L647.0 527.9 L648.0 527.8 L649.0 527.8 L650.0 527.8 L651.0 527.7 L652.0 527.7 L653.0 527.6 L654.0 527.6 L655.0 527.5 L656.0 527.5 L657.0 527.4 L658.0 527.4 L659.0 527.3 L660.0 527.3 L661.0 527.2 L662.0 527.2 L663.0 527.1 L664.0 527.1 L665.0 527.0 L666.0 527.0 L667.0 526.9 L668.0 526.9 L669.0 526.8 L670.0 526.8 L671.0 526.7 L672.0 526.7 L673.0 526.6 L674.0 526.6 L675.0 526.5 L676.0 526.5 L677.0 526.4 L678.0 526.3 L679.0 526.3 L680.0 526.2 L681.0 526.2 L682.0 526.1 L683.0 526.0 L684.0 526.0 L685.0 525.9 L686.0 525.8 L687.0 525.8 L688.0 525.7 L689.0 525.6 L690.0 525.6 L691.0 525.5 L692.0 525.4 L693.0 525.4 L694.0 525.3 L695.0 525.2 L696.0 525.2 L697.0 525.1 L698.0 525.0 L699.0 524.9 L700.0 524.9 L701.0 524.8 L702.0 524.7 L703.0 524.6 L704.0 524.5 L705.0 524.5 L706.0 524.4 L707.0 524.3 L708.0 524.2 L709.0 524.1 L710.0 524.0 L711.0 523.9 L712.0 523.9 L713.0 523.8 L714.0 523.7 L715.0 523.6 L716.0 523.5 L717.0 523.4 L718.0 523.3 L719.0 523.2 L720.0 523.1 L721.0 523.0 L722.0 522.9 L723.0 522.8 L724.0 522.7 L725.0 522.6 L726.0 522.5 L727.0 522.4 L728.0 522.3 L729.0 522.2 L730.0 522.1 L731.0 521.9 L732.0 521.8 L733.0 521.7 L734.0 521.6 L735.0 521.5 L736.0 521.3 L737.0 521.2 L738.0 521.1 L739.0 521.0 L740.0 520.8 L741.0 520.7 L742.0 520.6 L743.0 520.4 L744.0 520.3 L745.0 520.2 L746.0 520.0 L747.0 519.9 L748.0 519.7 L749.0 519.6 L750.0 519.4 L751.0 519.3 L752.0 519.1 L753.0 519.0 L754.0 518.8 L755.0 518.7 L756.0 518.5 L757.0 518.3 L758.0 518.2 L759.0 518.0 L760.0 517.8 L761.0 517.7 L762.0 517.5 L763.0 517.3 L764.0 517.1 L765.0 516.9 L766.0 516.8 L767.0 516.6 L768.0 516.4 L769.0 516.2 L770.0 516.0 L771.0 515.8 L772.0 515.6 L773.0 515.4 L774.0 515.1 L775.0 514.9 L776.0 514.7 L777.0 514.5 L778.0 514.3 L779.0 514.0 L780.0 513.8 L781.0 513.6 L782.0 513.3 L783.0 513.1 L784.0 512.8 L785.0 512.6 L786.0 512.3 L787.0 512.1 L788.0 511.8 L789.0 511.5 L790.0 511.3 L791.0 511.0 L792.0 510.7 L793.0 510.4 L794.0 510.1 L795.0 509.8 L796.0 509.5 L797.0 509.2 L798.0 508.9 L799.0 508.6 L800.0 508.3 L801.0 508.0 L802.0 507.7 L803.0 507.3 L804.0 507.0 L805.0 506.6 L806.0 506.3 L807.0 505.9 L808.0 505.6 L809.0 505.2 L810.0 504.8 L811.0 504.5 L812.0 504.1 L813.0 503.7 L814.0 503.3 L815.0 502.9 L816.0 502.5 L817.0 502.1 L818.0 501.7 L819.0 501.2 L820.0 500.8 L821.0 500.4 L822.0 499.9 L823.0 499.5 L824.0 499.0 L825.0 498.5 L826.0 498.1 L827.0 497.6 L828.0 497.1 L829.0 496.6 L830.0 496.1 L831.0 495.6 L832.0 495.1 L833.0 494.6 L834.0 494.1 L835.0 493.5 L836.0 493.0 L837.0 492.4 L838.0 491.9 L839.0 491.3 L840.0 490.8 L841.0 490.2 L842.0 489.6 L843.0 489.0 L844.0 488.4 L845.0 487.8 L846.0 487.2 L847.0 486.6 L848.0 486.0 L849.0 485.4 L850.0 484.8 L851.0 484.1 L852.0 483.5 L853.0 482.9 L854.0 482.2 L855.0 481.6 L856.0 480.9 L857.0 480.3 L858.0 479.6 L859.0 479.0 L860.0 478.3 L861.0 477.7 L862.0 477.0 L863.0 476.3 L864.0 475.7 L865.0 475.0 L866.0 474.4 L867.0 473.7 L868.0 473.1 L869.0 472.4 L870.0 471.8 L871.0 471.1 L872.0 470.5 L873.0 469.9 L874.0 469.2 L875.0 468.6 L876.0 468.0 L877.0 467.4 L878.0 466.8 L879.0 466.2 L880.0 465.7 L881.0 465.1 L882.0 464.6 L883.0 464.0 L884.0 463.5 L885.0 463.0 L886.0 462.6 L887.0 462.1 L888.0 461.6 L889.0 461.2 L890.0 460.8 L891.0 460.4 L892.0 460.1 L893.0 459.7 L894.0 459.4 L895.0 459.1 L896.0 458.8 L897.0 458.6 L898.0 458.4 L899.0 458.2 L900.0 458.0 L901.0 457.8 L902.0 457.7 L903.0 457.6 L904.0 457.6 L905.0 457.5 L906.0 457.5 L907.0 457.5 L908.0 457.6 L909.0 457.6 L910.0 457.7 L911.0 457.8 L912.0 458.0 L913.0 458.2 L914.0 458.4 L915.0 458.6 L916.0 458.8 L917.0 459.1 L918.0 459.4 L919.0 459.7 L920.0 460.1 L921.0 460.4 L922.0 460.8 L923.0 461.2 L924.0 461.6 L925.0 462.1 L926.0 462.6 L927.0 463.0 L928.0 463.5 L929.0 464.0 L930.0 464.6 L931.0 465.1 L932.0 465.7 L933.0 466.2 L934.0 466.8 L935.0 467.4 L936.0 468.0 L937.0 468.6 L938.0 469.2 L939.0 469.8 L940.0 470.5 L941.0 471.1 L942.0 471.8 L943.0 472.4 L944.0 473.1 L945.0 473.7 L946.0 474.4 L947.0 475.0 L948.0 475.7 L949.0 476.3 L950.0 477.0 L951.0 477.7 L952.0 478.3 L953.0 479.0 L954.0 479.6 L955.0 480.3 L956.0 480.9 L957.0 481.6 L958.0 482.2 L959.0 482.9 L960.0 483.5 L961.0 484.1 L962.0 484.8 L963.0 485.4 L964.0 486.0 L965.0 486.6 L966.0 487.2 L967.0 487.8 L968.0 488.4 L969.0 489.0 L970.0 489.6 L971.0 490.2 L972.0 490.8 L973.0 491.3 L974.0 491.9 L975.0 492.4 L976.0 493.0 L977.0 493.5 L978.0 494.0 L979.0 494.6 L980.0 495.1 L981.0 495.6 L982.0 496.1 L983.0 496.6 L984.0 497.1 L985.0 497.6 L986.0 498.1 L987.0 498.5 L988.0 499.0 L989.0 499.5 L990.0 499.9 L991.0 500.4 L992.0 500.8 L993.0 501.2 L994.0 501.6 L995.0 502.1 L996.0 502.5 L997.0 502.9 L998.0 503.3 L999.0 503.7 L1000.0 504.1 L1001.0 504.5 L1002.0 504.8 L1003.0 505.2 L1004.0 505.6 L1005.0 505.9 L1006.0 506.3 L1007.0 506.6 L1008.0 507.0 L1009.0 507.3 L1010.0 507.7 L1011.0 508.0 L1012.0 508.3 L1013.0 508.6 L1014.0 508.9 L1015.0 509.2 L1016.0 509.5 L1017.0 509.8 L1018.0 510.1 L1019.0 510.4 L1020.0 510.7 L1021.0 511.0 L1022.0 511.3 L1023.0 511.5 L1024.0 511.8 L1025.0 512.1 L1026.0 512.3 L1027.0 512.6 L1028.0 512.8 L1029.0 513.1 L1030.0 513.3 L1031.0 513.6 L1032.0 513.8 L1033.0 514.0 L1034.0 514.3 L1035.0 514.5 L1036.0 514.7 L1037.0 514.9 L1038.0 515.1 L1039.0 515.4 L1040.0 515.6 L1041.0 515.8 L1042.0 516.0 L1043.0 516.2 L1044.0 516.4 L1045.0 516.6 L1046.0 516.8 L1047.0 516.9 L1048.0 517.1 L1049.0 517.3 L1050.0 517.5 L1051.0 517.7 L1052.0 517.8 L1053.0 518.0 L1054.0 518.2 L1055.0 518.3 L1056.0 518.5 L1057.0 518.7 L1058.0 518.8 L1059.0 519.0 L1060.0 519.1 L1061.0 519.3 L1062.0 519.4 L1063.0 519.6 L1064.0 519.7 L1065.0 519.9 L1066.0 520.0 L1067.0 520.2 L1068.0 520.3 L1069.0 520.4 L1070.0 520.6 L1071.0 520.7 L1072.0 520.8 L1073.0 521.0 L1074.0 521.1 L1075.0 521.2 L1076.0 521.3 L1077.0 521.5 L1078.0 521.6 L1079.0 521.7 L1080.0 521.8 L1081.0 521.9 L1082.0 522.0 L1083.0 522.2 L1084.0 522.3 L1085.0 522.4 L1086.0 522.5 L1087.0 522.6 L1088.0 522.7 L1089.0 522.8 L1090.0 522.9 L1091.0 523.0 L1092.0 523.1 L1093.0 523.2 L1094.0 523.3 L1095.0 523.4 L1096.0 523.5 L1097.0 523.6 L1098.0 523.7 L1099.0 523.8 L1100.0 523.9 L1101.0 523.9 L1102.0 524.0 L1103.0 524.1 L1104.0 524.2 L1105.0 524.3 L1106.0 524.4 L1107.0 524.5 L1108.0 524.5 L1109.0 524.6 L1110.0 524.7 L1111.0 524.8 L1112.0 524.9 L1113.0 524.9 L1114.0 525.0 L1115.0 525.1 L1116.0 525.1 L1117.0 525.2 L1118.0 525.3 L1119.0 525.4 L1120.0 525.4 L1121.0 525.5 L1122.0 525.6 L1123.0 525.6 L1124.0 525.7 L1125.0 525.8 L1126.0 525.8 L1127.0 525.9 L1128.0 526.0 L1129.0 526.0 L1130.0 526.1 L1131.0 526.2 L1132.0 526.2 L1133.0 526.3 L1134.0 526.3 L1135.0 526.4 L1136.0 526.5 L1137.0 526.5 L1138.0 526.6 L1139.0 526.6 L1140.0 526.7 L1141.0 526.7 L1142.0 526.8 L1143.0 526.8 L1144.0 526.9 L1145.0 526.9 L1146.0 527.0 L1147.0 527.0 L1148.0 527.1 L1149.0 527.1 L1150.0 527.2 L1151.0 527.2 L1152.0 527.3 L1153.0 527.3 L1154.0 527.4 L1155.0 527.4 L1156.0 527.5 L1157.0 527.5 L1158.0 527.6 L1159.0 527.6 L1160.0 527.7 L1161.0 527.7 L1162.0 527.8 L1163.0 527.8 L1164.0 527.8 L1165.0 527.9 L1166.0 527.9 L1167.0 528.0 L1168.0 528.0 L1169.0 528.0 L1170.0 528.1 L1171.0 528.1 L1172.0 528.2 L1173.0 528.2 L1174.0 528.2 L1175.0 528.3 L1176.0 528.3 L1177.0 528.4 L1178.0 528.4 L1179.0 528.4 L1180.0 528.5 L1181.0 528.5 L1182.0 528.5 L1183.0 528.6 L1184.0 528.6 L1185.0 528.6 L1186.0 528.7 L1187.0 528.7 L1188.0 528.7 L1189.0 528.8 L1190.0 528.8 L1191.0 528.8 L1192.0 528.9"/>
<path stroke="#800080" d="M96.0 533.2 L97.0 533.2 L98.0 533.2 L99.0 533.2 L100.0 533.2 L101.0 533.2 L102.0 533.2 L103.0 533.2 L104.0 533.2 L105.0 533.2 L106.0 533.2 L107.0 533.2 L108.0 533.2 L109.0 533.2 L110.0 533.2 L111.0 533.2 L112.0 533.2 L113.0 533.2 L114.0 533.2 L115.0 533.2 L116.0 533.2 L117.0 533.2 L118.0 533.2 L119.0 533.2 L120.0 533.2 L121.0 533.2 L122.0 533.2 L123.0 533.2 L124.0 533.2 L125.0 533.2 L126.0 533.2 L127.0 533.2 L128.0 533.2 L129.0 533.2 L130.0 533.2 L131.0 533.2 L132.0 533.2 L133.0 533.2 L134.0 533.2 L135.0 533.2 L136.0 533.2 L137.0 533.2 L138.0 533.2 L139.0 533.2 L140.0 533.2 L141.0 533.2 L142.0 533.2 L143.0 533.2 L144.0 533.2 L145.0 533.2 L146.0 533.2 L147.0 533.2 L148.0 533.2 L149.0 533.2 L150.0 533.2 L151.0 533.2 L152.0 533.2 L153.0 533.1 L154.0 533.1 L155.0 533.1 L156.0 533.1 L157.0 533.1 L158.0 533.1 L159.0 533.1 L160.0 533.1 L161.0 533.1 L162.0 533.1 L163.0 533.1 L164.0 533.1 L165.0 533.1 L166.0 533.1 L167.0 533.1 L168.0 533.1 L169.0 533.1 L170.0 533.1 L171.0 533.1 L172.0 533.1 L173.0 533.1 L174.0 533.1 L175.0 533.1 L176.0 533.1 L177.0 533.1 L178.0 533.1 L179.0 533.1 L180.0 533.1 L181.0 533.1 L182.0 533.1 L183.0 533.1 L184.0 533.1 L185.0 533.1 L186.0 533.1 L187.0 533.1 L188.0 533.1 L189.0 533.1 L190.0 533.1 L191.0 533.1 L192.0 533.1 L193.0 533.1 L194.0 533.1 L195.0 533.1 L196.0 533.1 L197.0 533.1 L198.0 533.1 L199.0 533.1 L200.0 533.1 L201.0 533.1 L202.0 533.1 L203.0 533.1 L204.0 533.1 L205.0 533.1 L206.0 533.1 L207.0 533.1 L208.0 533.1 L209.0 533.1 L210.0 533.0 L211.0 533.0 L212.0 533.0 L213.0 533.0 L214.0 533.0 L215.0 533.0 L216.0 533.0 L217.0 533.0 L218.0 533.0 L219.0 533.0 L220.0 533.0 L221.0 533.0 L222.0 533.0 L223.0 533.0 L224.0 533.0 L225.0 533.0 L226.0 533.0 L227.0 533.0 L228.0 533.0 L229.0 533.0 L230.0 533.0 L231.0 533.0 L232.0 533.0 L233.0 533.0 L234.0 533.0 L235.0 533.0 L236.0 533.0 L237.0 533.0 L238.0 533.0 L239.0 533.0 L240.0 533.0 L241.0 533.0 L242.0 533.0 L243.0 533.0 L244.0 533.0 L245.0 533.0 L246.0 533.0 L247.0 533.0 L248.0 533.0 L249.0 533.0 L250.0 533.0 L251.0 533.0 L252.0 533.0 L253.0 533.0 L254.0 533.0 L255.0 533.0 L256.0 533.0 L257.0 532.9 L258.0 532.9 L259.0 532.9 L260.0 532.9 L261.0 532.9 L262.0 532.9 L263.0 532.9 L264.0 532.9 L265.0 532.9 L266.0 532.9 L267.0 532.9 L268.0 532.9 L269.0 532.9 L270.0 532.9 L271.0 532.9 L272.0 532.9 L273.0 532.9 L274.0 532.9 L275.0 532.9 L276.0 532.9 L277.0 532.9 L278.0 532.9 L279.0 532.9 L280.0 532.9 L281.0 532.9 L282.0 532.9 L283.0 532.9 L284.0 532.9 L285.0 532.9 L286.0 532.9 L287.0 532.9 L288.0 532.9 L289.0 532.9 L290.0 532.9 L291.0 532.9 L292.0 532.9 L293.0 532.9 L294.0 532.9 L295.0 532.8 L296.0 532.8 L297.0 532.8 L298.0 532.8 L299.0 532.8 L300.0 532.8 L301.0 532.8 L302.0 532.8 L303.0 532.8 L304.0 532.8 L305.0 532.8 L306.0 532.8 L307.0 532.8 L308.0 532.8 L309.0 532.8 L310.0 532.8 L311.0 532.8 L312.0 532.8 L313.0 532.8 L314.0 532.8 L315.0 532.8 L316.0 532.8 L317.0 532.8 L318.0 532.8 L319.0 532.8 L320.0 532.8 L321.0 532.8 L322.0 532.8 L323.0 532.8 L324.0 532.8 L325.0 532.8 L326.0 532.8 L327.0 532.8 L328.0 532.8 L329.0 532.7 L330.0 532.7 L331.0 532.7 L332.0 532.7 L333.0 532.7 L334.0 532.7 L335.0 532.7 L336.0 532.7 L337.0 532.7 L338.0 532.7 L339.0 532.7 L340.0 532.7 L341.0 532.7 L342.0 532.7 L343.0 532.7 L344.0 532.7 L345.0 532.7 L346.0 532.7 L347.0 532.7 L348.0 532.7 L349.0 532.7 L350.0 532.7 L351.0 532.7 L352.0 532.7 L353.0 532.7 L354.0 532.7 L355.0 532.7 L356.0 532.7 L357.0 532.6 L358.0 532.6 L359.0 532.6 L360.0 532.6 L361.0 532.6 L362.0 532.6 L363.0 532.6 L364.0 532.6 L365.0 532.6 L366.0 532.6 L367.0 532.6 L368.0 532.6 L369.0 532.6 L370.0 532.6 L371.0 532.6 L372.0 532.6 L373.0 532.6 L374.0 532.6 L375.0 532.6 L376.0 532.6 L377.0 532.6 L378.0 532.6 L379.0 532.6 L380.0 532.6 L381.0 532.6 L382.0 532.6 L383.0 532.5 L384.0 532.5 L385.0 532.5 L386.0 532.5 L387.0 532.5 L388.0 532.5 L389.0 532.5 L390.0 532.5 L391.0 532.5 L392.0 532.5 L393.0 532.5 L394.0 532.5 L395.0 532.5 L396.0 532.5 L397.0 532.5 L398.0 532.5 L399.0 532.5 L400.0 532.5 L401.0 532.5 L402.0 532.5 L403.0 532.5 L404.0 532.5 L405.0 532.4 L406.0 532.4 L407.0 532.4 L408.0 532.4 L409.0 532.4 L410.0 532.4 L411.0 532.4 L412.0 532.4 L413.0 532.4 L414.0 532.4 L415.0 532.4 L416.0 532.4 L417.0 532.4 L418.0 532.4 L419.0 532.4 L420.0 532.4 L421.0 532.4 L422.0 532.4 L423.0 532.4 L424.0 532.4 L425.0 532.3 L426.0 532.3 L427.0 532.3 L428.0 532.3 L429.0 532.3 L430.0 532.3 L431.0 532.3 L432.0 532.3 L433.0 532.3 L434.0 532.3 L435.0 532.3 L436.0 532.3 L437.0 532.3 L438.0 532.3 L439.0 532.3 L440.0 532.3 L441.0 532.3 L442.0 532.3 L443.0 532.2 L444.0 532.2 L445.0 532.2 L446.0 532.2 L447.0 532.2 L448.0 532.2 L449.0 532.2 L450.0 532.2 L451.0 532.2 L452.0 532.2 L453.0 532.2 L454.0 532.2 L455.0 532.2 L456.0 532.2 L457.0 532.2 L458.0 532.2 L459.0 532.1 L460.0 532.1 L461.0 532.1 L462.0 532.1 L463.0 532.1 L464.0 532.1 L465.0 532.1 L466.0 532.1 L467.0 532.1 L468.0 532.1 L469.0 532.1 L470.0 532.1 L471.0 532.1 L472.0 532.1 L473.0 532.1 L474.0 532.0 L475.0 532.0 L476.0 532.0 L477.0 532.0 L478.0 532.0 L479.0 532.0 L480.0 532.0 L481.0 532.0 L482.0 532.0 L483.0 532.0 L484.0 532.0 L485.0 532.0 L486.0 532.0 L487.0 532.0 L488.0 531.9 L489.0 531.9 L490.0 531.9 L491.0 531.9 L492.0 531.9 L493.0 531.9 L494.0 531.9 L495.0 531.9 L496.0 531.9 L497.0 531.9 L498.0 531.9 L499.0 531.9 L500.0 531.9 L501.0 531.8 L502.0 531.8 L503.0 531.8 L504.0 531.8 L505.0 531.8 L506.0 531.8 L507.0 531.8 L508.0 531.8 L509.0 531.8 L510.0 531.8 L511.0 531.8 L512.0 531.8 L513.0 531.7 L514.0 531.7 L515.0 531.7 L516.0 531.7 L517.0 531.7 L518.0 531.7 L519.0 531.7 L520.0 531.7 L521.0 531.7 L522.0 531.7 L523.0 531.6 L524.0 531.6 L525.0 531.6 L526.0 531.6 L527.0 531.6 L528.0 531.6 L529.0 531.6 L530.0 531.6 L531.0 531.6 L532.0 531.6 L533.0 531.6 L534.0 531.5 L535.0 531.5 L536.0 531.5 L537.0 531.5 L538.0 531.5 L539.0 531.5 L540.0 531.5 L541.0 531.5 L542.0 531.5 L543.0 531.4 L544.0 531.4 L545.0 531.4 L546.0 531.4 L547.0 531.4 L548.0 531.4 L549.0 531.4 L550.0 531.4 L551.0 531.4 L552.0 531.3 L553.0 531.3 L554.0 531.3 L555.0 531.3 L556.0 531.3 L557.0 531.3 L558.0 531.3 L559.0 531.3 L560.0 531.2 L561.0 531.2 L562.0 531.2 L563.0 531.2 L564.0 531.2 L565.0 531.2 L566.0 531.2 L567.0 531.2 L568.0 531.1 L569.0 531.1 L570.0 531.1 L571.0 531.1 L572.0 531.1 L573.0 531.1 L574.0 531.1 L575.0 531.1 L576.0 531.0 L577.0 531.0 L578.0 531.0 L579.0 531.0 L580.0 531.0 L581.0 531.0 L582.0 531.0 L583.0 530.9 L584.0 530.9 L585.0 530.9 L586.0 530.9 L587.0 530.9 L588.0 530.9 L589.0 530.9 L590.0 530.8 L591.0 530.8 L592.0 530.8 L593.0 530.8 L594.0 530.8 L595.0 530.8 L596.0 530.7 L597.0 530.7 L598.0 530.7 L599.0 530.7 L600.0 530.7 L601.0 530.7 L602.0 530.6 L603.0 530.6 L604.0 530.6 L605.0 530.6 L606.0 530.6 L607.0 530.6 L608.0 530.5 L609.0 530.5 L610.0 530.5 L611.0 530.5 L612.0 530.5 L613.0 530.5 L614.0 530.4 L615.0 530.4 L616.0 530.4 L617.0 530.4 L618.0 530.4 L619.0 530.3 L620.0 530.3 L621.0 530.3 L622.0 530.3 L623.0 530.3 L624.0 530.2 L625.0 530.2 L626.0 530.2 L627.0 530.2 L628.0 530.2 L629.0 530.1 L630.0 530.1 L631.0 530.1 L632.0 530.1 L633.0 530.0 L634.0 530.0 L635.0 530.0 L636.0 530.0 L637.0 530.0 L638.0 529.9 L639.0 529.9 L640.0 529.9 L641.0 529.9 L642.0 529.8 L643.0 529.8 L644.0 529.8 L645.0 529.8 L646.0 529.7 L647.0 529.7 L648.0 529.7 L649.0 529.7 L650.0 529.6 L651.0 529.6 L652.0 529.6 L653.0 529.6 L654.0 529.5 L655.0 529.5 L656.0 529.5 L657.0 529.5 L658.0 529.4 L659.0 529.4 L660.0 529.4 L661.0 529.4 L662.0 529.3 L663.0 529.3 L664.0 529.3 L665.0 529.2 L666.0 529.2 L667.0 529.2 L668.0 529.1 L669.0 529.1 L670.0 529.1 L671.0 529.1 L672.0 529.0 L673.0 529.0 L674.0 529.0 L675.0 528.9 L676.0 528.9 L677.0 528.9 L678.0 528.8 L679.0 528.8 L680.0 528.8 L681.0 528.7 L682.0 528.7 L683.0 528.7 L684.0 528.6 L685.0 528.6 L686.0 528.6 L687.0 528.5 L688.0 528.5 L689.0 528.4 L690.0 528.4 L691.0 528.4 L692.0 528.3 L693.0 528.3 L694.0 528.3 L695.0 528.2 L696.0 528.2 L697.0 528.1 L698.0 528.1 L699.0 528.1 L700.0 528.0 L701.0 528.0 L702.0 527.9 L703.0 527.9 L704.0 527.8 L705.0 527.8 L706.0 527.8 L707.0 527.7 L708.0 527.7 L709.0 527.6 L710.0 527.6 L711.0 527.5 L712.0 527.5 L713.0 527.4 L714.0 527.4 L715.0 527.3 L716.0 527.3 L717.0 527.2 L718.0 527.2 L719.0 527.1 L720.0 527.1 L721.0 527.0 L722.0 527.0 L723.0 526.9 L724.0 526.9 L725.0 526.8 L726.0 526.8 L727.0 526.7 L728.0 526.6 L729.0 526.6 L730.0 526.5 L731.0 526.5 L732.0 526.4 L733.0 526.3 L734.0 526.3 L735.0 526.2 L736.0 526.2 L737.0 526.1 L738.0 526.0 L739.0 526.0 L740.0 525.9 L741.0 525.8 L742.0 525.8 L743.0 525.7 L744.0 525.6 L745.0 525.6 L746.0 525.5 L747.0 525.4 L748.0 525.3 L749.0 525.3 L750.0 525.2 L751.0 525.1 L752.0 525.0 L753.0 525.0 L754.0 524.9 L755.0 524.8 L756.0 524.7 L757.0 524.6 L758.0 524.6 L759.0 524.5 L760.0 524.4 L761.0 524.3 L762.0 524.2 L763.0 524.1 L764.0 524.0 L765.0 523.9 L766.0 523.8 L767.0 523.8 L768.0 523.7 L769.0 523.6 L770.0 523.5 L771.0 523.4 L772.0 523.3 L773.0 523.2 L774.0 523.1 L775.0 522.9 L776.0 522.8 L777.0 522.7 L778.0 522.6 L779.0 522.5 L780.0 522.4 L781.0 522.3 L782.0 522.2 L783.0 522.0 L784.0 521.9 L785.0 521.8 L786.0 521.7 L787.0 521.5 L788.0 521.4 L789.0 521.3 L790.0 521.2 L791.0 521.0 L792.0 520.9 L793.0 520.7 L794.0 520.6 L795.0 520.5 L796.0 520.3 L797.0 520.2 L798.0 520.0 L799.0 519.9 L800.0 519.7 L801.0 519.6 L802.0 519.4 L803.0 519.2 L804.0 519.1 L805.0 518.9 L806.0 518.7 L807.0 518.5 L808.0 518.4 L809.0 518.2 L810.0 518.0 L811.0 517.8 L812.0 517.6 L813.0 517.4 L814.0 517.2 L815.0 517.0 L816.0 516.8 L817.0 516.6 L818.0 516.4 L819.0 516.2 L820.0 516.0 L821.0 515.7 L822.0 515.5 L823.0 515.3 L824.0 515.1 L825.0 514.8 L826.0 514.6 L827.0 514.3 L828.0 514.1 L829.0 513.8 L830.0 513.5 L831.0 513.3 L832.0 513.0 L833.0 512.7 L834.0 512.4 L835.0 512.1 L836.0 511.8 L837.0 511.5 L838.0 511.2 L839.0 510.9 L840.0 510.6 L841.0 510.2 L842.0 509.9 L843.0 509.6 L844.0 509.2 L845.0 508.8 L846.0 508.5 L847.0 508.1 L848.0 507.7 L849.0 507.3 L850.0 506.9 L851.0 506.5 L852.0 506.1 L853.0 505.7 L854.0 505.2 L855.0 504.8 L856.0 504.3 L857.0 503.8 L858.0 503.4 L859.0 502.9 L860.0 502.4 L861.0 501.8 L862.0 501.3 L863.0 500.8 L864.0 500.2 L865.0 499.6 L866.0 499.1 L867.0 498.5 L868.0 497.8 L869.0 497.2 L870.0 496.6 L871.0 495.9 L872.0 495.2 L873.0 494.5 L874.0 493.8 L875.0 493.1 L876.0 492.3 L877.0 491.5 L878.0 490.7 L879.0 489.9 L880.0 489.0 L881.0 488.2 L882.0 487.3 L883.0 486.3 L884.0 485.4 L885.0 484.4 L886.0 483.4 L887.0 482.3 L888.0 481.2 L889.0 480.1 L890.0 479.0 L891.0 477.8 L892.0 476.6 L893.0 475.3 L894.0 474.0 L895.0 472.7 L896.0 471.3 L897.0 469.8 L898.0 468.4 L899.0 466.8 L900.0 465.2 L901.0 463.6 L902.0 461.9 L903.0 460.1 L904.0 458.3 L905.0 456.4 L906.0 454.5 L907.0 452.5 L908.0 450.4 L909.0 448.2 L910.0 446.0 L911.0 443.7 L912.0 441.3 L913.0 438.8 L914.0 436.3 L915.0 433.6 L916.0 430.8 L917.0 428.0 L918.0 425.0 L919.0 422.0 L920.0 418.8 L921.0 415.5 L922.0 412.1 L923.0 408.6 L924.0 405.0 L925.0 401.2 L926.0 397.4 L927.0 393.3 L928.0 389.2 L929.0 384.9 L930.0 380.5 L931.0 375.9 L932.0 371.2 L933.0 366.3 L934.0 361.3 L935.0 356.1 L936.0 350.8 L937.0 345.3 L938.0 339.6 L939.0 333.8 L940.0 327.9 L941.0 321.8 L942.0 315.6 L943.0 309.2 L944.0 302.7 L945.0 296.0 L946.0 289.3 L947.0 282.4 L948.0 275.4 L949.0 268.4 L950.0 261.2 L951.0 254.1 L952.0 246.9 L953.0 239.7 L954.0 232.5 L955.0 225.4 L956.0 218.4 L957.0 211.5 L958.0 204.7 L959.0 198.1 L960.0 191.8 L961.0 185.7 L962.0 179.9 L963.0 174.5 L964.0 169.4 L965.0 164.8 L966.0 160.7 L967.0 157.0 L968.0 153.9 L969.0 151.3 L970.0 149.3 L971.0 147.9 L972.0 147.2 L973.0 147.0 L974.0 147.5 L975.0 148.6 L976.0 150.3 L977.0 152.6 L978.0 155.4 L979.0 158.8 L980.0 162.7 L981.0 167.1 L982.0 172.0 L983.0 177.2 L984.0 182.8 L985.0 188.8 L986.0 195.0 L987.0 201.5 L988.0 208.1 L989.0 215.0 L990.0 222.0 L991.0 229.0 L992.0 236.2 L993.0 243.4 L994.0 250.6 L995.0 257.7 L996.0 264.9 L997.0 272.0 L998.0 279.0 L999.0 285.9 L1000.0 292.7 L1001.0 299.4 L1002.0 306.0 L1003.0 312.5 L1004.0 318.8 L1005.0 324.9 L1006.0 331.0 L1007.0 336.8 L1008.0 342.5 L1009.0 348.1 L1010.0 353.5 L1011.0 358.8 L1012.0 363.9 L1013.0 368.8 L1014.0 373.6 L1015.0 378.2 L1016.0 382.7 L1017.0 387.1 L1018.0 391.3 L1019.0 395.4 L1020.0 399.4 L1021.0 403.2 L1022.0 406.9 L1023.0 410.4 L1024.0 413.9 L1025.0 417.2 L1026.0 420.4 L1027.0 423.6 L1028.0 426.6 L1029.0 429.5 L1030.0 432.3 L1031.0 435.0 L1032.0 437.6 L1033.0 440.1 L1034.0 442.5 L1035.0 444.9 L1036.0 447.2 L1037.0 449.4 L1038.0 451.5 L1039.0 453.5 L1040.0 455.5 L1041.0 457.4 L1042.0 459.3 L1043.0 461.0 L1044.0 462.8 L1045.0 464.4 L1046.0 466.1 L1047.0 467.6 L1048.0 469.1 L1049.0 470.6 L1050.0 472.0 L1051.0 473.4 L1052.0 474.7 L1053.0 476.0 L1054.0 477.2 L1055.0 478.4 L1056.0 479.6 L1057.0 480.7 L1058.0 481.8 L1059.0 482.9 L1060.0 483.9 L1061.0 484.9 L1062.0 485.9 L1063.0 486.8 L1064.0 487.7 L1065.0 488.6 L1066.0 489.5 L1067.0 490.3 L1068.0 491.1 L1069.0 491.9 L1070.0 492.7 L1071.0 493.4 L1072.0 494.2 L1073.0 494.9 L1074.0 495.6 L1075.0 496.2 L1076.0 496.9 L1077.0 497.5 L1078.0 498.2 L1079.0 498.8 L1080.0 499.4 L1081.0 499.9 L1082.0 500.5 L1083.0 501.1 L1084.0 501.6 L1085.0 502.1 L1086.0 502.6 L1087.0 503.1 L1088.0 503.6 L1089.0 504.1 L1090.0 504.5 L1091.0 505.0 L1092.0 505.4 L1093.0 505.9 L1094.0 506.3 L1095.0 506.7 L1096.0 507.1 L1097.0 507.5 L1098.0 507.9 L1099.0 508.3 L1100.0 508.7 L1101.0 509.0 L1102.0 509.4 L1103.0 509.7 L1104.0 510.1 L1105.0 510.4 L1106.0 510.7 L1107.0 511.1 L1108.0 511.4 L1109.0 511.7 L1110.0 512.0 L1111.0 512.3 L1112.0 512.6 L1113.0 512.9 L1114.0 513.1 L1115.0 513.4 L1116.0 513.7 L1117.0 513.9 L1118.0 514.2 L1119.0 514.4 L1120.0 514.7 L1121.0 514.9 L1122.0 515.2 L1123.0 515.4 L1124.0 515.6 L1125.0 515.9 L1126.0 516.1 L1127.0 516.3 L1128.0 516.5 L1129.0 516.7 L1130.0 516.9 L1131.0 517.1 L1132.0 517.3 L1133.0 517.5 L1134.0 517.7 L1135.0 517.9 L1136.0 518.1 L1137.0 518.3 L1138.0 518.5 L1139.0 518.6 L1140.0 518.8 L1141.0 519.0 L1142.0 519.1 L1143.0 519.3 L1144.0 519.5 L1145.0 519.6 L1146.0 519.8 L1147.0 519.9 L1148.0 520.1 L1149.0 520.2 L1150.0 520.4 L1151.0 520.5 L1152.0 520.7 L1153.0 520.8 L1154.0 521.0 L1155.0 521.1 L1156.0 521.2 L1157.0 521.4 L1158.0 521.5 L1159.0 521.6 L1160.0 521.7 L1161.0 521.9 L1162.0 522.0 L1163.0 522.1 L1164.0 522.2 L1165.0 522.3 L1166.0 522.5 L1167.0 522.6 L1168.0 522.7 L1169.0 522.8 L1170.0 522.9 L1171.0 523.0 L1172.0 523.1 L1173.0 523.2 L1174.0 523.3 L1175.0 523.4 L1176.0 523.5 L1177.0 523.6 L1178.0 523.7 L1179.0 523.8 L1180.0 523.9 L1181.0 524.0 L1182.0 524.1 L1183.0 524.2 L1184.0 524.3 L1185.0 524.3 L1186.0 524.4 L1187.0 524.5 L1188.0 524.6 L1189.0 524.7 L1190.0 524.8 L1191.0 524.8 L1192.0 524.9"/>
<path stroke="#800000" stroke-width="4.6" d="M96.0 534.6 L97.0 534.6 L98.0 534.6 L99.0 534.6 L100.0 534.6 L101.0 534.6 L102.0 534.6 L103.0 534.6 L104.0 534.6 L105.0 534.6 L106.0 534.6 L107.0 534.6 L108.0 534.6 L109.0 534.6 L110.0 534.6 L111.0 534.6 L112.0 534.6 L113.0 534.6 L114.0 534.6 L115.0 534.6 L116.0 534.6 L117.0 534.6 L118.0 534.6 L119.0 534.6 L120.0 534.6 L121.0 534.6 L122.0 534.6 L123.0 534.6 L124.0 534.6 L125.0 534.6 L126.0 534.6 L127.0 534.6 L128.0 534.6 L129.0 534.6 L130.0 534.6 L131.0 534.6 L132.0 534.6 L133.0 534.6 L134.0 534.6 L135.0 534.6 L136.0 534.6 L137.0 534.6 L138.0 534.6 L139.0 534.6 L140.0 534.6 L141.0 534.6 L142.0 534.6 L143.0 534.6 L144.0 534.6 L145.0 534.6 L146.0 534.6 L147.0 534.6 L148.0 534.6 L149.0 534.6 L150.0 534.6 L151.0 534.6 L152.0 534.6 L153.0 534.6 L154.0 534.6 L155.0 534.6 L156.0 534.6 L157.0 534.6 L158.0 534.6 L159.0 534.6 L160.0 534.6 L161.0 534.6 L162.0 534.6 L163.0 534.6 L164.0 534.6 L165.0 534.6 L166.0 534.6 L167.0 534.6 L168.0 534.6 L169.0 534.6 L170.0 534.6 L171.0 534.6 L172.0 534.6 L173.0 534.6 L174.0 534.6 L175.0 534.6 L176.0 534.6 L177.0 534.6 L178.0 534.6 L179.0 534.6 L180.0 534.6 L181.0 534.6 L182.0 534.6 L183.0 534.6 L184.0 534.6 L185.0 534.6 L186.0 534.6 L187.0 534.6 L188.0 534.6 L189.0 534.6 L190.0 534.6 L191.0 534.6 L192.0 534.6 L193.0 534.6 L194.0 534.6 L195.0 534.6 L196.0 534.6 L197.0 534.6 L198.0 534.6 L199.0 534.6 L200.0 534.6 L201.0 534.6 L202.0 534.6 L203.0 534.6 L204.0 534.6 L205.0 534.6 L206.0 534.6 L207.0 534.6 L208.0 534.6 L209.0 534.6 L210.0 534.6 L211.0 534.6 L212.0 534.6 L213.0 534.6 L214.0 534.6 L215.0 534.6 L216.0 534.6 L217.0 534.6 L218.0 534.6 L219.0 534.6 L220.0 534.6 L221.0 534.6 L222.0 534.6 L223.0 534.6 L224.0 534.6 L225.0 534.6 L226.0 534.6 L227.0 534.6 L228.0 534.6 L229.0 534.6 L230.0 534.6 L231.0 534.6 L232.0 534.6 L233.0 534.6 L234.0 534.6 L235.0 534.6 L236.0 534.6 L237.0 534.6 L238.0 534.6 L239.0 534.6 L240.0 534.6 L241.0 534.6 L242.0 534.6 L243.0 534.6 L244.0 534.6 L245.0 534.6 L246.0 534.6 L247.0 534.6 L248.0 534.6 L249.0 534.6 L250.0 534.6 L251.0 534.6 L252.0 534.6 L253.0 534.6 L254.0 534.6 L255.0 534.6 L256.0 534.6 L257.0 534.6 L258.0 534.6 L259.0 534.6 L260.0 534.6 L261.0 534.6 L262.0 534.6 L263.0 534.6 L264.0 534.6 L265.0 534.6 L266.0 534.6 L267.0 534.6 L268.0 534.6 L269.0 534.6 L270.0 534.6 L271.0 534.6 L272.0 534.6 L273.0 534.6 L274.0 534.6 L275.0 534.6 L276.0 534.6 L277.0 534.6 L278.0 534.6 L279.0 534.6 L280.0 534.6 L281.0 534.6 L282.0 534.6 L283.0 534.6 L284.0 534.6 L285.0 534.6 L286.0 534.6 L287.0 534.6 L288.0 534.6 L289.0 534.6 L290.0 534.6 L291.0 534.6 L292.0 534.6 L293.0 534.6 L294.0 534.6 L295.0 534.6 L296.0 534.6 L297.0 534.6 L298.0 534.6 L299.0 534.6 L300.0 534.6 L301.0 534.6 L302.0 534.6 L303.0 534.6 L304.0 534.6 L305.0 534.6 L306.0 534.6 L307.0 534.6 L308.0 534.6 L309.0 534.6 L310.0 534.6 L311.0 534.6 L312.0 534.6 L313.0 534.6 L314.0 534.6 L315.0 534.6 L316.0 534.6 L317.0 534.6 L318.0 534.6 L319.0 534.6 L320.0 534.6 L321.0 534.6 L322.0 534.6 L323.0 534.6 L324.0 534.6 L325.0 534.6 L326.0 534.6 L327.0 534.6 L328.0 534.6 L329.0 534.6 L330.0 534.6 L331.0 534.6 L332.0 534.6 L333.0 534.6 L334.0 534.6 L335.0 534.6 L336.0 534.6 L337.0 534.6 L338.0 534.6 L339.0 534.6 L340.0 534.6 L341.0 534.6 L342.0 534.6 L343.0 534.6 L344.0 534.6 L345.0 534.6 L346.0 534.6 L347.0 534.6 L348.0 534.6 L349.0 534.6 L350.0 534.6 L351.0 534.6 L352.0 534.6 L353.0 534.6 L354.0 534.6 L355.0 534.6 L356.0 534.6 L357.0 534.6 L358.0 534.6 L359.0 534.6 L360.0 534.6 L361.0 534.6 L362.0 534.6 L363.0 534.6 L364.0 534.6 L365.0 534.6 L366.0 534.6 L367.0 534.6 L368.0 534.6 L369.0 534.6 L370.0 534.6 L371.0 534.6 L372.0 534.6 L373.0 534.6 L374.0 534.6 L375.0 534.6 L376.0 534.6 L377.0 534.6 L378.0 534.6 L379.0 534.6 L380.0 534.6 L381.0 534.6 L382.0 534.6 L383.0 534.6 L384.0 534.6 L385.0 534.6 L386.0 534.6 L387.0 534.6 L388.0 534.6 L389.0 534.6 L390.0 534.6 L391.0 534.6 L392.0 534.6 L393.0 534.6 L394.0 534.6 L395.0 534.6 L396.0 534.6 L397.0 534.6 L398.0 534.6 L399.0 534.6 L400.0 534.6 L401.0 534.6 L402.0 534.6 L403.0 534.6 L404.0 534.6 L405.0 534.6 L406.0 534.6 L407.0 534.6 L408.0 534.6 L409.0 534.6 L410.0 534.6 L411.0 534.6 L412.0 534.6 L413.0 534.6 L414.0 534.6 L415.0 534.6 L416.0 534.6 L417.0 534.6 L418.0 534.6 L419.0 534.6 L420.0 534.6 L421.0 534.6 L422.0 534.6 L423.0 534.6 L424.0 534.6 L425.0 534.6 L426.0 534.6 L427.0 534.6 L428.0 534.6 L429.0 534.6 L430.0 534.6 L431.0 534.6 L432.0 534.6 L433.0 534.6 L434.0 534.6 L435.0 534.6 L436.0 534.6 L437.0 534.6 L438.0 534.6 L439.0 534.6 L440.0 534.6 L441.0 534.6 L442.0 534.6 L443.0 534.6 L444.0 534.6 L445.0 534.6 L446.0 534.6 L447.0 534.6 L448.0 534.6 L449.0 534.6 L450.0 534.6 L451.0 534.6 L452.0 534.6 L453.0 534.6 L454.0 534.6 L455.0 534.6 L456.0 534.6 L457.0 534.6 L458.0 534.6 L459.0 534.6 L460.0 534.6 L461.0 534.6 L462.0 534.6 L463.0 534.6 L464.0 534.6 L465.0 534.6 L466.0 534.6 L467.0 534.6 L468.0 534.6 L469.0 534.6 L470.0 534.6 L471.0 534.6 L472.0 534.6 L473.0 534.6 L474.0 534.6 L475.0 534.6 L476.0 534.6 L477.0 534.6 L478.0 534.6 L479.0 534.6 L480.0 534.6 L481.0 534.6 L482.0 534.6 L483.0 534.6 L484.0 534.6 L485.0 534.6 L486.0 534.6 L487.0 534.6 L488.0 534.6 L489.0 534.6 L490.0 534.6 L491.0 534.6 L492.0 534.6 L493.0 534.6 L494.0 534.6 L495.0 534.6 L496.0 534.6 L497.0 534.6 L498.0 534.6 L499.0 534.6 L500.0 534.6 L501.0 534.6 L502.0 534.6 L503.0 534.6 L504.0 534.6 L505.0 534.6 L506.0 534.6 L507.0 534.6 L508.0 534.6 L509.0 534.6 L510.0 534.6 L511.0 534.6 L512.0 534.6 L513.0 534.6 L514.0 534.6 L515.0 534.6 L516.0 534.6 L517.0 534.6 L518.0 534.6 L519.0 534.6 L520.0 534.6 L521.0 534.6 L522.0 534.6 L523.0 534.6 L524.0 534.6 L525.0 534.6 L526.0 534.6 L527.0 534.6 L528.0 534.6 L529.0 534.6 L530.0 534.6 L531.0 534.6 L532.0 534.6 L533.0 534.6 L534.0 534.6 L535.0 534.6 L536.0 534.6 L537.0 534.6 L538.0 534.6 L539.0 534.6 L540.0 534.6 L541.0 534.6 L542.0 534.6 L543.0 534.6 L544.0 534.6 L545.0 534.6 L546.0 534.6 L547.0 534.6 L548.0 534.6 L549.0 534.6 L550.0 534.6 L551.0 534.6 L552.0 534.6 L553.0 534.6 L554.0 534.6 L555.0 534.6 L556.0 534.6 L557.0 534.6 L558.0 534.6 L559.0 534.6 L560.0 534.6 L561.0 534.6 L562.0 534.6 L563.0 534.6 L564.0 534.6 L565.0 534.6 L566.0 534.6 L567.0 534.6 L568.0 534.6 L569.0 534.6 L570.0 534.6 L571.0 534.6 L572.0 534.6 L573.0 534.6 L574.0 534.6 L575.0 534.6 L576.0 534.6 L577.0 534.6 L578.0 534.6 L579.0 534.6 L580.0 534.6 L581.0 534.6 L582.0 534.6 L583.0 534.6 L584.0 534.6 L585.0 534.6 L586.0 534.6 L587.0 534.6 L588.0 534.6 L589.0 534.6 L590.0 534.6 L591.0 534.6 L592.0 534.6 L593.0 534.6 L594.0 534.6 L595.0 534.6 L596.0 534.6 L597.0 534.6 L598.0 534.6 L599.0 534.6 L600.0 534.6 L601.0 534.6 L602.0 534.6 L603.0 534.6 L604.0 534.6 L605.0 534.6 L606.0 534.6 L607.0 534.6 L608.0 534.6 L609.0 534.6 L610.0 534.6 L611.0 534.6 L612.0 534.6 L613.0 534.6 L614.0 534.6 L615.0 534.6 L616.0 534.6 L617.0 534.6 L618.0 534.6 L619.0 534.6 L620.0 534.6 L621.0 534.6 L622.0 534.6 L623.0 534.6 L624.0 534.6 L625.0 534.6 L626.0 534.6 L627.0 534.6 L628.0 534.6 L629.0 534.6 L630.0 534.6 L631.0 534.6 L632.0 534.6 L633.0 534.6 L634.0 534.6 L635.0 534.6 L636.0 534.6 L637.0 534.6 L638.0 534.6 L639.0 534.6 L640.0 534.6 L641.0 534.6 L642.0 534.6 L643.0 534.6 L644.0 534.6 L645.0 534.6 L646.0 534.6 L647.0 534.6 L648.0 534.6 L649.0 534.6 L650.0 534.6 L651.0 534.6 L652.0 534.6 L653.0 534.6 L654.0 534.6 L655.0 534.6 L656.0 534.6 L657.0 534.6 L658.0 534.6 L659.0 534.6 L660.0 534.6 L661.0 534.6 L662.0 534.6 L663.0 534.6 L664.0 534.6 L665.0 534.6 L666.0 534.6 L667.0 534.6 L668.0 534.6 L669.0 534.6 L670.0 534.6 L671.0 534.6 L672.0 534.6 L673.0 534.6 L674.0 534.6 L675.0 534.6 L676.0 534.6 L677.0 534.6 L678.0 534.6 L679.0 534.6 L680.0 534.6 L681.0 534.6 L682.0 534.6 L683.0 534.6 L684.0 534.6 L685.0 534.6 L686.0 534.6 L687.0 534.6 L688.0 534.6 L689.0 534.6 L690.0 534.6 L691.0 534.6 L692.0 534.6 L693.0 534.6 L694.0 534.6 L695.0 534.6 L696.0 534.6 L697.0 534.6 L698.0 534.6 L699.0 534.6 L700.0 534.6 L701.0 534.6 L702.0 534.6 L703.0 534.6 L704.0 534.6 L705.0 534.6 L706.0 534.6 L707.0 534.6 L708.0 534.6 L709.0 534.6 L710.0 534.6 L711.0 534.6 L712.0 534.6 L713.0 534.6 L714.0 534.6 L715.0 534.6 L716.0 534.6 L717.0 534.6 L718.0 534.6 L719.0 534.6 L720.0 534.6 L721.0 534.6 L722.0 534.6 L723.0 534.6 L724.0 534.6 L725.0 534.6 L726.0 534.6 L727.0 534.6 L728.0 534.6 L729.0 534.6 L730.0 534.6 L731.0 534.6 L732.0 534.6 L733.0 534.6 L734.0 534.6 L735.0 534.6 L736.0 534.6 L737.0 534.6 L738.0 534.6 L739.0 534.6 L740.0 534.6 L741.0 534.6 L742.0 534.6 L743.0 534.6 L744.0 534.6 L745.0 534.6 L746.0 534.6 L747.0 534.6 L748.0 534.6 L749.0 534.6 L750.0 534.6 L751.0 534.6 L752.0 534.6 L753.0 534.6 L754.0 534.6 L755.0 534.6 L756.0 534.6 L757.0 534.6 L758.0 534.6 L759.0 534.6 L760.0 534.6 L761.0 534.6 L762.0 534.6 L763.0 534.6 L764.0 534.6 L765.0 534.6 L766.0 534.6 L767.0 534.6 L768.0 534.6 L769.0 534.6 L770.0 534.6 L771.0 534.6 L772.0 534.6 L773.0 534.6 L774.0 534.6 L775.0 534.6 L776.0 534.6 L777.0 534.6 L778.0 534.6 L779.0 534.6 L780.0 534.6 L781.0 534.6 L782.0 534.6 L783.0 534.6 L784.0 534.6 L785.0 534.6 L786.0 534.6 L787.0 534.6 L788.0 534.6 L789.0 534.6 L790.0 534.6 L791.0 534.6 L792.0 534.6 L793.0 534.6 L794.0 534.6 L795.0 534.6 L796.0 534.6 L797.0 534.6 L798.0 534.6 L799.0 534.6 L800.0 534.6 L801.0 534.6 L802.0 534.6 L803.0 534.6 L804.0 534.6 L805.0 534.6 L806.0 534.6 L807.0 534.6 L808.0 534.6 L809.0 534.6 L810.0 534.6 L811.0 534.6 L812.0 534.6 L813.0 534.6 L814.0 534.6 L815.0 534.6 L816.0 534.6 L817.0 534.6 L818.0 534.6 L819.0 534.6 L820.0 534.6 L821.0 534.6 L822.0 534.6 L823.0 534.6 L824.0 534.6 L825.0 534.6 L826.0 534.6 L827.0 534.6 L828.0 534.6 L829.0 534.6 L830.0 534.6 L831.0 534.6 L832.0 534.6 L833.0 534.6 L834.0 534.6 L835.0 534.6 L836.0 534.6 L837.0 534.6 L838.0 534.6 L839.0 534.6 L840.0 534.6 L841.0 534.6 L842.0 534.6 L843.0 534.6 L844.0 534.6 L845.0 534.6 L846.0 534.6 L847.0 534.6 L848.0 534.6 L849.0 534.6 L850.0 534.6 L851.0 534.6 L852.0 534.6 L853.0 534.6 L854.0 534.6 L855.0 534.6 L856.0 534.6 L857.0 534.6 L858.0 534.6 L859.0 534.6 L860.0 534.6 L861.0 534.6 L862.0 534.6 L863.0 534.6 L864.0 534.6 L865.0 534.6 L866.0 534.6 L867.0 534.6 L868.0 534.6 L869.0 534.6 L870.0 534.6 L871.0 534.6 L872.0 534.6 L873.0 534.6 L874.0 534.6 L875.0 534.6 L876.0 534.6 L877.0 534.6 L878.0 534.6 L879.0 534.6 L880.0 534.6 L881.0 534.6 L882.0 534.6 L883.0 534.6 L884.0 534.6 L885.0 534.6 L886.0 534.6 L887.0 534.6 L888.0 534.6 L889.0 534.6 L890.0 534.6 L891.0 534.6 L892.0 534.6 L893.0 534.6 L894.0 534.6 L895.0 534.6 L896.0 534.6 L897.0 534.6 L898.0 534.6 L899.0 534.6 L900.0 534.6 L901.0 534.6 L902.0 534.6 L903.0 534.6 L904.0 534.6 L905.0 534.6 L906.0 534.6 L907.0 534.6 L908.0 534.6 L909.0 534.6 L910.0 534.6 L911.0 534.6 L912.0 534.6 L913.0 534.6 L914.0 534.6 L915.0 534.6 L916.0 534.6 L917.0 534.6 L918.0 534.6 L919.0 534.6 L920.0 534.6 L921.0 534.6 L922.0 534.6 L923.0 534.6 L924.0 534.6 L925.0 534.6 L926.0 534.6 L927.0 534.6 L928.0 534.6 L929.0 534.6 L930.0 534.6 L931.0 534.6 L932.0 534.6 L933.0 534.6 L934.0 534.6 L935.0 534.6 L936.0 534.6 L937.0 534.6 L938.0 534.6 L939.0 534.6 L940.0 534.6 L941.0 534.6 L942.0 534.6 L943.0 534.6 L944.0 534.6 L945.0 534.6 L946.0 534.6 L947.0 534.6 L948.0 534.6 L949.0 534.6 L950.0 534.6 L951.0 534.6 L952.0 534.6 L953.0 534.6 L954.0 534.6 L955.0 534.6 L956.0 534.6 L957.0 534.6 L958.0 534.6 L959.0 534.6 L960.0 534.6 L961.0 534.6 L962.0 534.6 L963.0 534.6 L964.0 534.6 L965.0 534.6 L966.0 534.6 L967.0 534.6 L968.0 534.6 L969.0 534.6 L970.0 534.6 L971.0 534.6 L972.0 534.6 L973.0 534.6 L974.0 534.6 L975.0 534.6 L976.0 534.6 L977.0 534.6 L978.0 534.6 L979.0 534.6 L980.0 534.6 L981.0 534.6 L982.0 534.6 L983.0 534.6 L984.0 534.6 L985.0 534.6 L986.0 534.6 L987.0 534.6 L988.0 534.6 L989.0 534.6 L990.0 534.6 L991.0 534.6 L992.0 534.6 L993.0 534.6 L994.0 534.6 L995.0 534.6 L996.0 534.6 L997.0 534.6 L998.0 534.6 L999.0 534.6 L1000.0 534.6 L1001.0 534.6 L1002.0 534.6 L1003.0 534.6 L1004.0 534.6 L1005.0 534.6 L1006.0 534.6 L1007.0 534.6 L1008.0 534.6 L1009.0 534.6 L1010.0 534.6 L1011.0 534.6 L1012.0 534.6 L1013.0 534.6 L1014.0 534.6 L1015.0 534.6 L1016.0 534.6 L1017.0 534.6 L1018.0 534.6 L1019.0 534.6 L1020.0 534.6 L1021.0 534.6 L1022.0 534.6 L1023.0 534.6 L1024.0 534.6 L1025.0 534.6 L1026.0 534.6 L1027.0 534.6 L1028.0 534.6 L1029.0 534.6 L1030.0 534.6 L1031.0 534.5 L1032.0 534.5 L1033.0 534.5 L1034.0 534.5 L1035.0 534.5 L1036.0 534.5 L1037.0 534.5 L1038.0 534.5 L1039.0 534.5 L1040.0 534.5 L1041.0 534.5 L1042.0 534.5 L1043.0 534.5 L1044.0 534.5 L1045.0 534.5 L1046.0 534.5 L1047.0 534.4 L1048.0 534.4 L1049.0 534.4 L1050.0 534.4 L1051.0 534.4 L1052.0 534.4 L1053.0 534.4 L1054.0 534.4 L1055.0 534.4 L1056.0 534.3 L1057.0 534.3 L1058.0 534.3 L1059.0 534.3 L1060.0 534.3 L1061.0 534.2 L1062.0 534.2 L1063.0 534.2 L1064.0 534.2 L1065.0 534.2 L1066.0 534.1 L1067.0 534.1 L1068.0 534.1 L1069.0 534.0 L1070.0 534.0 L1071.0 534.0 L1072.0 533.9 L1073.0 533.9 L1074.0 533.9 L1075.0 533.8 L1076.0 533.8 L1077.0 533.7 L1078.0 533.7 L1079.0 533.7 L1080.0 533.6 L1081.0 533.6 L1082.0 533.5 L1083.0 533.4 L1084.0 533.4 L1085.0 533.3 L1086.0 533.3 L1087.0 533.2 L1088.0 533.1 L1089.0 533.0 L1090.0 533.0 L1091.0 532.9 L1092.0 532.8 L1093.0 532.7 L1094.0 532.6 L1095.0 532.5 L1096.0 532.4 L1097.0 532.3 L1098.0 532.2 L1099.0 532.1 L1100.0 532.0 L1101.0 531.9 L1102.0 531.8 L1103.0 531.7 L1104.0 531.5 L1105.0 531.4 L1106.0 531.3 L1107.0 531.1 L1108.0 531.0 L1109.0 530.8 L1110.0 530.7 L1111.0 530.5 L1112.0 530.3 L1113.0 530.2 L1114.0 530.0 L1115.0 529.8 L1116.0 529.6 L1117.0 529.4 L1118.0 529.2 L1119.0 529.0 L1120.0 528.8 L1121.0 528.6 L1122.0 528.4 L1123.0 528.2 L1124.0 527.9 L1125.0 527.7 L1126.0 527.5 L1127.0 527.2 L1128.0 527.0 L1129.0 526.7 L1130.0 526.4 L1131.0 526.2 L1132.0 525.9 L1133.0 525.6 L1134.0 525.3 L1135.0 525.0 L1136.0 524.7 L1137.0 524.4 L1138.0 524.1 L1139.0 523.8 L1140.0 523.4 L1141.0 523.1 L1142.0 522.8 L1143.0 522.4 L1144.0 522.1 L1145.0 521.7 L1146.0 521.4 L1147.0 521.0 L1148.0 520.7 L1149.0 520.3 L1150.0 519.9 L1151.0 519.5 L1152.0 519.2 L1153.0 518.8 L1154.0 518.4 L1155.0 518.0 L1156.0 517.6 L1157.0 517.2 L1158.0 516.8 L1159.0 516.4 L1160.0 516.0 L1161.0 515.6 L1162.0 515.1 L1163.0 514.7 L1164.0 514.3 L1165.0 513.9 L1166.0 513.5 L1167.0 513.1 L1168.0 512.7 L1169.0 512.2 L1170.0 511.8 L1171.0 511.4 L1172.0 511.0 L1173.0 510.6 L1174.0 510.2 L1175.0 509.7 L1176.0 509.3 L1177.0 508.9 L1178.0 508.5 L1179.0 508.1 L1180.0 507.7 L1181.0 507.3 L1182.0 507.0 L1183.0 506.6 L1184.0 506.2 L1185.0 505.8 L1186.0 505.5 L1187.0 505.1 L1188.0 504.8 L1189.0 504.4 L1190.0 504.1 L1191.0 503.7 L1192.0 503.4"/>
<path stroke="#000000" d="M98.0 1015.3 L99.0 1015.2 L100.0 1015.1 L101.0 1014.9 L102.0 1014.7 L103.0 1014.5 L104.0 1014.2 L105.0 1013.9 L106.0 1013.6 L107.0 1013.1 L108.0 1012.6 L109.0 1012.0 L110.0 1011.3 L111.0 1010.5 L112.0 1009.5 L113.0 1008.4 L114.0 1007.1 L115.0 1005.5 L116.0 1003.7 L117.0 1001.6 L118.0 999.2 L119.0 996.6 L120.0 993.5 L121.0 990.1 L122.0 986.4 L123.0 982.2 L124.0 977.7 L125.0 972.8 L126.0 967.5 L127.0 961.9 L128.0 955.9 L129.0 949.7 L130.0 943.3 L131.0 936.8 L132.0 930.2 L133.0 923.6 L134.0 917.2 L135.0 910.9 L136.0 905.0 L137.0 899.5 L138.0 894.6 L139.0 890.4 L140.0 887.0 L141.0 884.4 L142.0 882.8 L143.0 882.1 L144.0 882.5 L145.0 883.8 L146.0 886.2 L147.0 889.4 L148.0 893.4 L149.0 898.1 L150.0 903.4 L151.0 909.2 L152.0 915.4 L153.0 921.8 L154.0 928.4 L155.0 935.0 L156.0 941.5 L157.0 948.0 L158.0 954.2 L159.0 960.2 L160.0 965.9 L161.0 971.3 L162.0 976.3 L163.0 981.0 L164.0 985.2 L165.0 989.1 L166.0 992.6 L167.0 995.7 L168.0 998.5 L169.0 1001.0 L170.0 1003.1 L171.0 1005.0 L172.0 1006.6 L173.0 1008.0 L174.0 1009.2 L175.0 1010.3 L176.0 1011.1 L177.0 1011.9 L178.0 1012.5 L179.0 1013.0 L180.0 1013.5 L181.0 1013.8 L182.0 1014.1 L183.0 1014.4 L184.0 1014.6 L185.0 1014.8 L186.0 1015.0 L187.0 1015.2 L188.0 1015.3 L189.0 1015.4 L190.0 1015.5 L191.0 1015.6 L192.0 1015.7 L193.0 1015.8 L194.0 1015.8 L195.0 1015.9 L196.0 1016.0 L197.0 1016.0 L198.0 1016.1 L199.0 1016.1 L200.0 1016.2 L201.0 1016.2 L202.0 1016.3 L203.0 1016.3 L204.0 1016.3 L205.0 1016.4 L206.0 1016.4 L207.0 1016.5 L208.0 1016.5 L209.0 1016.5 L210.0 1016.6 L211.0 1016.6 L212.0 1016.6 L213.0 1016.6 L214.0 1016.7 L215.0 1016.7 L216.0 1016.7 L217.0 1016.7 L218.0 1016.8 L219.0 1016.8 L220.0 1016.8 L221.0 1016.8 L222.0 1016.8 L223.0 1016.9 L224.0 1016.9 L225.0 1016.9 L226.0 1016.9 L227.0 1016.9 L228.0 1016.9 L229.0 1017.0 L230.0 1017.0 L231.0 1017.0 L232.0 1017.0 L233.0 1017.0 L234.0 1017.0 L235.0 1017.0 L236.0 1017.0 L237.0 1017.1 L238.0 1017.1 L239.0 1017.1 L240.0 1017.1 L241.0 1017.1 L242.0 1017.1 L243.0 1017.1 L244.0 1017.1 L245.0 1017.1 L246.0 1017.1 L247.0 1017.2 L248.0 1017.2 L249.0 1017.2 L250.0 1017.2 L251.0 1017.2 L252.0 1017.2 L253.0 1017.2 L254.0 1017.2 L255.0 1017.2 L256.0 1017.2 L257.0 1017.2 L258.0 1017.2 L259.0 1017.2 L260.0 1017.2 L261.0 1017.3 L262.0 1017.3 L263.0 1017.3 L264.0 1017.3 L265.0 1017.3 L266.0 1017.3 L267.0 1017.3 L268.0 1017.3 L269.0 1017.3 L270.0 1017.3 L271.0 1017.3 L272.0 1017.3 L273.0 1017.3 L274.0 1017.3 L275.0 1017.3 L276.0 1017.3 L277.0 1017.3 L278.0 1017.3 L279.0 1017.3 L280.0 1017.3 L281.0 1017.3 L282.0 1017.3 L283.0 1017.4 L284.0 1017.4 L285.0 1017.4 L286.0 1017.4 L287.0 1017.4 L288.0 1017.4 L289.0 1017.4 L290.0 1017.4 L291.0 1017.4 L292.0 1017.4 L293.0 1017.4 L294.0 1017.4 L295.0 1017.4 L296.0 1017.4 L297.0 1017.4 L298.0 1017.4 L299.0 1017.4 L300.0 1017.4 L301.0 1017.4 L302.0 1017.4 L303.0 1017.4 L304.0 1017.4 L305.0 1017.4 L306.0 1017.4 L307.0 1017.4 L308.0 1017.4 L309.0 1017.4 L310.0 1017.4 L311.0 1017.4 L312.0 1017.4 L313.0 1017.4 L314.0 1017.4 L315.0 1017.4 L316.0 1017.4 L317.0 1017.4 L318.0 1017.4 L319.0 1017.4 L320.0 1017.4 L321.0 1017.4 L322.0 1017.4 L323.0 1017.4 L324.0 1017.5 L325.0 1017.5 L326.0 1017.5 L327.0 1017.5 L328.0 1017.5 L329.0 1017.5 L330.0 1017.5 L331.0 1017.5 L332.0 1017.5 L333.0 1017.5 L334.0 1017.5 L335.0 1017.5 L336.0 1017.5 L337.0 1017.5 L338.0 1017.5 L339.0 1017.5 L340.0 1017.5 L341.0 1017.5 L342.0 1017.5 L343.0 1017.5 L344.0 1017.5 L345.0 1017.5 L346.0 1017.5 L347.0 1017.5 L348.0 1017.5 L349.0 1017.5 L350.0 1017.5 L351.0 1017.5 L352.0 1017.5 L353.0 1017.5 L354.0 1017.5 L355.0 1017.5 L356.0 1017.5 L357.0 1017.5 L358.0 1017.5 L359.0 1017.5 L360.0 1017.5 L361.0 1017.5 L362.0 1017.5 L363.0 1017.5 L364.0 1017.5 L365.0 1017.5 L366.0 1017.5 L367.0 1017.5 L368.0 1017.5 L369.0 1017.5 L370.0 1017.5 L371.0 1017.5 L372.0 1017.5 L373.0 1017.5 L374.0 1017.5 L375.0 1017.5 L376.0 1017.5 L377.0 1017.5 L378.0 1017.5 L379.0 1017.5 L380.0 1017.5 L381.0 1017.5 L382.0 1017.5 L383.0 1017.5 L384.0 1017.5 L385.0 1017.5 L386.0 1017.5 L387.0 1017.5 L388.0 1017.5 L389.0 1017.5 L390.0 1017.5 L391.0 1017.5 L392.0 1017.5 L393.0 1017.5 L394.0 1017.5 L395.0 1017.5 L396.0 1017.5 L397.0 1017.5 L398.0 1017.5 L399.0 1017.5 L400.0 1017.5 L401.0 1017.5 L402.0 1017.5 L403.0 1017.5 L404.0 1017.5 L405.0 1017.5 L406.0 1017.5 L407.0 1017.5 L408.0 1017.5 L409.0 1017.5 L410.0 1017.5 L411.0 1017.5 L412.0 1017.5 L413.0 1017.5 L414.0 1017.5 L415.0 1017.5 L416.0 1017.5 L417.0 1017.5 L418.0 1017.5 L419.0 1017.5 L420.0 1017.5 L421.0 1017.5 L422.0 1017.5 L423.0 1017.5 L424.0 1017.5 L425.0 1017.5 L426.0 1017.5 L427.0 1017.5 L428.0 1017.5 L429.0 1017.5 L430.0 1017.5 L431.0 1017.5 L432.0 1017.5 L433.0 1017.5 L434.0 1017.5 L435.0 1017.5 L436.0 1017.5 L437.0 1017.5 L438.0 1017.5 L439.0 1017.5 L440.0 1017.5 L441.0 1017.5 L442.0 1017.5 L443.0 1017.5 L444.0 1017.5 L445.0 1017.5 L446.0 1017.5 L447.0 1017.5 L448.0 1017.5 L449.0 1017.5 L450.0 1017.5 L451.0 1017.5 L452.0 1017.5 L453.0 1017.5 L454.0 1017.5 L455.0 1017.5 L456.0 1017.6 L457.0 1017.6 L458.0 1017.6 L459.0 1017.6 L460.0 1017.6 L461.0 1017.6 L462.0 1017.6 L463.0 1017.6 L464.0 1017.6 L465.0 1017.6 L466.0 1017.6 L467.0 1017.6 L468.0 1017.6 L469.0 1017.6 L470.0 1017.6 L471.0 1017.6 L472.0 1017.6 L473.0 1017.6 L474.0 1017.6 L475.0 1017.6 L476.0 1017.6 L477.0 1017.6 L478.0 1017.6 L479.0 1017.6 L480.0 1017.6 L481.0 1017.6 L482.0 1017.6 L483.0 1017.6 L484.0 1017.6 L485.0 1017.6 L486.0 1017.6 L487.0 1017.6 L488.0 1017.6 L489.0 1017.6 L490.0 1017.6 L491.0 1017.6 L492.0 1017.6 L493.0 1017.6 L494.0 1017.6 L495.0 1017.6 L496.0 1017.6 L497.0 1017.6 L498.0 1017.6 L499.0 1017.6 L500.0 1017.6 L501.0 1017.6 L502.0 1017.6 L503.0 1017.6 L504.0 1017.6 L505.0 1017.6 L506.0 1017.6 L507.0 1017.6 L508.0 1017.6 L509.0 1017.6 L510.0 1017.6 L511.0 1017.6 L512.0 1017.6 L513.0 1017.6 L514.0 1017.6 L515.0 1017.6 L516.0 1017.6 L517.0 1017.6 L518.0 1017.6 L519.0 1017.6 L520.0 1017.6 L521.0 1017.6 L522.0 1017.6 L523.0 1017.6 L524.0 1017.6 L525.0 1017.6 L526.0 1017.6 L527.0 1017.6 L528.0 1017.6 L529.0 1017.6 L530.0 1017.6 L531.0 1017.6 L532.0 1017.6 L533.0 1017.6 L534.0 1017.6 L535.0 1017.6 L536.0 1017.6 L537.0 1017.6 L538.0 1017.6 L539.0 1017.6 L540.0 1017.6 L541.0 1017.6 L542.0 1017.6 L543.0 1017.6 L544.0 1017.6 L545.0 1017.6 L546.0 1017.6 L547.0 1017.6 L548.0 1017.6 L549.0 1017.6 L550.0 1017.6 L551.0 1017.6 L552.0 1017.6 L553.0 1017.6 L554.0 1017.6 L555.0 1017.6 L556.0 1017.6 L557.0 1017.6 L558.0 1017.6 L559.0 1017.6 L560.0 1017.6 L561.0 1017.6 L562.0 1017.6 L563.0 1017.6 L564.0 1017.6 L565.0 1017.6 L566.0 1017.6 L567.0 1017.6 L568.0 1017.6 L569.0 1017.6 L570.0 1017.6 L571.0 1017.6 L572.0 1017.6 L573.0 1017.6 L574.0 1017.6 L575.0 1017.6 L576.0 1017.6 L577.0 1017.6 L578.0 1017.6 L579.0 1017.6 L580.0 1017.6 L581.0 1017.6 L582.0 1017.6 L583.0 1017.6 L584.0 1017.6 L585.0 1017.6 L586.0 1017.6 L587.0 1017.6 L588.0 1017.6 L589.0 1017.6 L590.0 1017.6 L591.0 1017.6 L592.0 1017.6 L593.0 1017.6 L594.0 1017.6 L595.0 1017.6 L596.0 1017.6 L597.0 1017.6 L598.0 1017.6 L599.0 1017.6 L600.0 1017.6 L601.0 1017.6 L602.0 1017.6 L603.0 1017.6 L604.0 1017.6 L605.0 1017.6 L606.0 1017.6 L607.0 1017.6 L608.0 1017.6 L609.0 1017.6 L610.0 1017.6 L611.0 1017.6 L612.0 1017.6 L613.0 1017.6 L614.0 1017.6 L615.0 1017.6 L616.0 1017.6 L617.0 1017.6 L618.0 1017.6 L619.0 1017.6 L620.0 1017.6 L621.0 1017.6 L622.0 1017.6 L623.0 1017.6 L624.0 1017.6 L625.0 1017.6 L626.0 1017.6 L627.0 1017.6 L628.0 1017.6 L629.0 1017.6 L630.0 1017.6 L631.0 1017.6 L632.0 1017.6 L633.0 1017.6 L634.0 1017.6 L635.0 1017.6 L636.0 1017.6 L637.0 1017.6 L638.0 1017.6 L639.0 1017.6 L640.0 1017.6 L641.0 1017.6 L642.0 1017.6 L643.0 1017.6 L644.0 1017.6 L645.0 1017.6 L646.0 1017.6 L647.0 1017.6 L648.0 1017.6 L649.0 1017.6 L650.0 1017.6 L651.0 1017.6 L652.0 1017.6 L653.0 1017.6 L654.0 1017.6 L655.0 1017.6 L656.0 1017.6 L657.0 1017.6 L658.0 1017.6 L659.0 1017.6 L660.0 1017.6 L661.0 1017.6 L662.0 1017.6 L663.0 1017.6 L664.0 1017.6 L665.0 1017.6 L666.0 1017.6 L667.0 1017.6 L668.0 1017.6 L669.0 1017.6 L670.0 1017.6 L671.0 1017.6 L672.0 1017.6 L673.0 1017.6 L674.0 1017.6 L675.0 1017.6 L676.0 1017.6 L677.0 1017.6 L678.0 1017.6 L679.0 1017.6 L680.0 1017.6 L681.0 1017.6 L682.0 1017.6 L683.0 1017.6 L684.0 1017.6 L685.0 1017.6 L686.0 1017.6 L687.0 1017.6 L688.0 1017.6 L689.0 1017.6 L690.0 1017.6 L691.0 1017.6 L692.0 1017.6 L693.0 1017.6 L694.0 1017.6 L695.0 1017.6 L696.0 1017.6 L697.0 1017.6 L698.0 1017.6 L699.0 1017.6 L700.0 1017.6 L701.0 1017.6 L702.0 1017.6 L703.0 1017.6 L704.0 1017.6 L705.0 1017.6 L706.0 1017.6 L707.0 1017.6 L708.0 1017.6 L709.0 1017.6 L710.0 1017.6 L711.0 1017.6 L712.0 1017.6 L713.0 1017.6 L714.0 1017.6 L715.0 1017.6 L716.0 1017.6 L717.0 1017.6 L718.0 1017.6 L719.0 1017.6 L720.0 1017.6 L721.0 1017.6 L722.0 1017.6 L723.0 1017.6 L724.0 1017.6 L725.0 1017.6 L726.0 1017.6 L727.0 1017.6 L728.0 1017.6 L729.0 1017.6 L730.0 1017.6 L731.0 1017.6 L732.0 1017.6 L733.0 1017.6 L734.0 1017.6 L735.0 1017.6 L736.0 1017.6 L737.0 1017.6 L738.0 1017.6 L739.0 1017.6 L740.0 1017.6 L741.0 1017.6 L742.0 1017.6 L743.0 1017.6 L744.0 1017.6 L745.0 1017.6 L746.0 1017.6 L747.0 1017.6 L748.0 1017.6 L749.0 1017.6 L750.0 1017.6 L751.0 1017.6 L752.0 1017.6 L753.0 1017.6 L754.0 1017.6 L755.0 1017.6 L756.0 1017.6 L757.0 1017.6 L758.0 1017.6 L759.0 1017.6 L760.0 1017.6 L761.0 1017.6 L762.0 1017.6 L763.0 1017.6 L764.0 1017.6 L765.0 1017.6 L766.0 1017.6 L767.0 1017.6 L768.0 1017.6 L769.0 1017.6 L770.0 1017.6 L771.0 1017.6 L772.0 1017.6 L773.0 1017.6 L774.0 1017.6 L775.0 1017.6 L776.0 1017.6 L777.0 1017.6 L778.0 1017.6 L779.0 1017.6 L780.0 1017.6 L781.0 1017.6 L782.0 1017.6 L783.0 1017.6 L784.0 1017.6 L785.0 1017.6 L786.0 1017.6 L787.0 1017.6 L788.0 1017.6 L789.0 1017.6 L790.0 1017.6 L791.0 1017.6 L792.0 1017.6 L793.0 1017.6 L794.0 1017.6 L795.0 1017.6 L796.0 1017.6 L797.0 1017.6 L798.0 1017.6 L799.0 1017.6 L800.0 1017.6 L801.0 1017.6 L802.0 1017.6 L803.0 1017.6 L804.0 1017.6 L805.0 1017.6 L806.0 1017.6 L807.0 1017.6 L808.0 1017.6 L809.0 1017.6 L810.0 1017.6 L811.0 1017.6 L812.0 1017.6 L813.0 1017.6 L814.0 1017.6 L815.0 1017.6 L816.0 1017.6 L817.0 1017.6 L818.0 1017.6 L819.0 1017.6 L820.0 1017.6 L821.0 1017.6 L822.0 1017.6 L823.0 1017.6 L824.0 1017.6 L825.0 1017.6 L826.0 1017.6 L827.0 1017.6 L828.0 1017.6 L829.0 1017.6 L830.0 1017.6 L831.0 1017.6 L832.0 1017.6 L833.0 1017.6 L834.0 1017.6 L835.0 1017.6 L836.0 1017.6 L837.0 1017.6 L838.0 1017.6 L839.0 1017.6 L840.0 1017.6 L841.0 1017.6 L842.0 1017.6 L843.0 1017.6 L844.0 1017.6 L845.0 1017.6 L846.0 1017.6 L847.0 1017.6 L848.0 1017.6 L849.0 1017.6 L850.0 1017.6 L851.0 1017.6 L852.0 1017.6 L853.0 1017.6 L854.0 1017.6 L855.0 1017.6 L856.0 1017.6 L857.0 1017.6 L858.0 1017.6 L859.0 1017.6 L860.0 1017.6 L861.0 1017.6 L862.0 1017.6 L863.0 1017.6 L864.0 1017.6 L865.0 1017.6 L866.0 1017.6 L867.0 1017.6 L868.0 1017.6 L869.0 1017.6 L870.0 1017.6 L871.0 1017.6 L872.0 1017.6 L873.0 1017.6 L874.0 1017.6 L875.0 1017.6 L876.0 1017.6 L877.0 1017.6 L878.0 1017.6 L879.0 1017.6 L880.0 1017.6 L881.0 1017.6 L882.0 1017.6 L883.0 1017.6 L884.0 1017.6 L885.0 1017.6 L886.0 1017.6 L887.0 1017.6 L888.0 1017.6 L889.0 1017.6 L890.0 1017.6 L891.0 1017.6 L892.0 1017.6 L893.0 1017.6 L894.0 1017.6 L895.0 1017.6 L896.0 1017.6 L897.0 1017.6 L898.0 1017.6 L899.0 1017.6 L900.0 1017.6 L901.0 1017.6 L902.0 1017.6 L903.0 1017.6 L904.0 1017.6 L905.0 1017.6 L906.0 1017.6 L907.0 1017.6 L908.0 1017.6 L909.0 1017.6 L910.0 1017.6 L911.0 1017.6 L912.0 1017.6 L913.0 1017.6 L914.0 1017.6 L915.0 1017.6 L916.0 1017.6 L917.0 1017.6 L918.0 1017.6 L919.0 1017.6 L920.0 1017.6 L921.0 1017.6 L922.0 1017.6 L923.0 1017.6 L924.0 1017.6 L925.0 1017.6 L926.0 1017.6 L927.0 1017.6 L928.0 1017.6 L929.0 1017.6 L930.0 1017.6 L931.0 1017.6 L932.0 1017.6 L933.0 1017.6 L934.0 1017.6 L935.0 1017.6 L936.0 1017.6 L937.0 1017.6 L938.0 1017.6 L939.0 1017.6 L940.0 1017.6 L941.0 1017.6 L942.0 1017.6 L943.0 1017.6 L944.0 1017.6 L945.0 1017.6 L946.0 1017.6 L947.0 1017.6 L948.0 1017.6 L949.0 1017.6 L950.0 1017.6 L951.0 1017.6 L952.0 1017.6 L953.0 1017.6 L954.0 1017.6 L955.0 1017.6 L956.0 1017.6 L957.0 1017.6 L958.0 1017.6 L959.0 1017.6 L960.0 1017.6 L961.0 1017.6 L962.0 1017.6 L963.0 1017.6 L964.0 1017.6 L965.0 1017.6 L966.0 1017.6 L967.0 1017.6 L968.0 1017.6 L969.0 1017.6 L970.0 1017.6 L971.0 1017.6 L972.0 1017.6 L973.0 1017.6 L974.0 1017.6 L975.0 1017.6 L976.0 1017.6 L977.0 1017.6 L978.0 1017.6 L979.0 1017.6 L980.0 1017.6 L981.0 1017.6 L982.0 1017.6 L983.0 1017.6 L984.0 1017.6 L985.0 1017.6 L986.0 1017.6 L987.0 1017.6 L988.0 1017.6 L989.0 1017.6 L990.0 1017.6 L991.0 1017.6 L992.0 1017.6 L993.0 1017.6 L994.0 1017.6 L995.0 1017.6 L996.0 1017.6 L997.0 1017.6 L998.0 1017.6 L999.0 1017.6 L1000.0 1017.6 L1001.0 1017.6 L1002.0 1017.6 L1003.0 1017.6 L1004.0 1017.6 L1005.0 1017.6 L1006.0 1017.6 L1007.0 1017.6 L1008.0 1017.6 L1009.0 1017.6 L1010.0 1017.6 L1011.0 1017.6 L1012.0 1017.6 L1013.0 1017.6 L1014.0 1017.6 L1015.0 1017.6 L1016.0 1017.6 L1017.0 1017.6 L1018.0 1017.6 L1019.0 1017.6 L1020.0 1017.6 L1021.0 1017.6 L1022.0 1017.6 L1023.0 1017.6 L1024.0 1017.6 L1025.0 1017.6 L1026.0 1017.6 L1027.0 1017.6 L1028.0 1017.6 L1029.0 1017.6 L1030.0 1017.6 L1031.0 1017.6 L1032.0 1017.6 L1033.0 1017.6 L1034.0 1017.6 L1035.0 1017.6 L1036.0 1017.6 L1037.0 1017.6 L1038.0 1017.6 L1039.0 1017.6 L1040.0 1017.6 L1041.0 1017.6 L1042.0 1017.6 L1043.0 1017.6 L1044.0 1017.6 L1045.0 1017.6 L1046.0 1017.6 L1047.0 1017.6 L1048.0 1017.6 L1049.0 1017.6 L1050.0 1017.6 L1051.0 1017.6 L1052.0 1017.6 L1053.0 1017.6 L1054.0 1017.6 L1055.0 1017.6 L1056.0 1017.6 L1057.0 1017.6 L1058.0 1017.6 L1059.0 1017.6 L1060.0 1017.6 L1061.0 1017.6 L1062.0 1017.6 L1063.0 1017.6 L1064.0 1017.6 L1065.0 1017.6 L1066.0 1017.6 L1067.0 1017.6 L1068.0 1017.6 L1069.0 1017.6 L1070.0 1017.6 L1071.0 1017.6 L1072.0 1017.6 L1073.0 1017.6 L1074.0 1017.6 L1075.0 1017.6 L1076.0 1017.6 L1077.0 1017.6 L1078.0 1017.6 L1079.0 1017.6 L1080.0 1017.6 L1081.0 1017.6 L1082.0 1017.6 L1083.0 1017.6 L1084.0 1017.6 L1085.0 1017.6 L1086.0 1017.6 L1087.0 1017.6 L1088.0 1017.6 L1089.0 1017.6 L1090.0 1017.6 L1091.0 1017.6 L1092.0 1017.6 L1093.0 1017.6 L1094.0 1017.6 L1095.0 1017.6 L1096.0 1017.6 L1097.0 1017.6 L1098.0 1017.6 L1099.0 1017.6 L1100.0 1017.6 L1101.0 1017.6 L1102.0 1017.6 L1103.0 1017.6 L1104.0 1017.6 L1105.0 1017.6 L1106.0 1017.6 L1107.0 1017.6 L1108.0 1017.6 L1109.0 1017.6 L1110.0 1017.6 L1111.0 1017.6 L1112.0 1017.6 L1113.0 1017.6 L1114.0 1017.6 L1115.0 1017.6 L1116.0 1017.6 L1117.0 1017.6 L1118.0 1017.6 L1119.0 1017.6 L1120.0 1017.6 L1121.0 1017.6 L1122.0 1017.6 L1123.0 1017.6 L1124.0 1017.6 L1125.0 1017.6 L1126.0 1017.6 L1127.0 1017.6 L1128.0 1017.6 L1129.0 1017.6 L1130.0 1017.6 L1131.0 1017.6 L1132.0 1017.6 L1133.0 1017.6 L1134.0 1017.6 L1135.0 1017.6 L1136.0 1017.6 L1137.0 1017.6 L1138.0 1017.6 L1139.0 1017.6 L1140.0 1017.6 L1141.0 1017.6 L1142.0 1017.6 L1143.0 1017.6 L1143.5 1017.6"/>
<path stroke="#ff0000" d="M98.0 1011.3 L99.0 1011.2 L100.0 1011.1 L101.0 1011.0 L102.0 1010.9 L103.0 1010.8 L104.0 1010.7 L105.0 1010.6 L106.0 1010.5 L107.0 1010.4 L108.0 1010.3 L109.0 1010.2 L110.0 1010.1 L111.0 1010.0 L112.0 1009.9 L113.0 1009.8 L114.0 1009.7 L115.0 1009.5 L116.0 1009.4 L117.0 1009.3 L118.0 1009.2 L119.0 1009.0 L120.0 1008.9 L121.0 1008.7 L122.0 1008.6 L123.0 1008.5 L124.0 1008.3 L125.0 1008.2 L126.0 1008.0 L127.0 1007.8 L128.0 1007.7 L129.0 1007.5 L130.0 1007.3 L131.0 1007.1 L132.0 1006.9 L133.0 1006.8 L134.0 1006.6 L135.0 1006.4 L136.0 1006.1 L137.0 1005.9 L138.0 1005.7 L139.0 1005.5 L140.0 1005.2 L141.0 1005.0 L142.0 1004.7 L143.0 1004.4 L144.0 1004.2 L145.0 1003.9 L146.0 1003.6 L147.0 1003.2 L148.0 1002.9 L149.0 1002.6 L150.0 1002.2 L151.0 1001.8 L152.0 1001.4 L153.0 1001.0 L154.0 1000.6 L155.0 1000.1 L156.0 999.6 L157.0 999.1 L158.0 998.5 L159.0 997.9 L160.0 997.3 L161.0 996.7 L162.0 996.0 L163.0 995.2 L164.0 994.5 L165.0 993.6 L166.0 992.8 L167.0 991.8 L168.0 990.8 L169.0 989.8 L170.0 988.6 L171.0 987.5 L172.0 986.2 L173.0 984.8 L174.0 983.4 L175.0 981.9 L176.0 980.2 L177.0 978.5 L178.0 976.7 L179.0 974.8 L180.0 972.7 L181.0 970.5 L182.0 968.2 L183.0 965.8 L184.0 963.2 L185.0 960.5 L186.0 957.6 L187.0 954.6 L188.0 951.4 L189.0 948.1 L190.0 944.6 L191.0 940.9 L192.0 937.1 L193.0 933.1 L194.0 928.9 L195.0 924.5 L196.0 919.9 L197.0 915.1 L198.0 910.2 L199.0 905.1 L200.0 899.8 L201.0 894.3 L202.0 888.6 L203.0 882.8 L204.0 876.7 L205.0 870.5 L206.0 864.2 L207.0 857.7 L208.0 851.0 L209.0 844.2 L210.0 837.3 L211.0 830.3 L212.0 823.2 L213.0 816.0 L214.0 808.7 L215.0 801.3 L216.0 794.0 L217.0 786.6 L218.0 779.2 L219.0 771.9 L220.0 764.6 L221.0 757.3 L222.0 750.2 L223.0 743.3 L224.0 736.5 L225.0 729.9 L226.0 723.5 L227.0 717.5 L228.0 711.7 L229.0 706.2 L230.0 701.1 L231.0 696.5 L232.0 692.2 L233.0 688.5 L234.0 685.2 L235.0 682.4 L236.0 680.2 L237.0 678.6 L238.0 677.5 L239.0 677.0 L240.0 677.1 L241.0 677.8 L242.0 679.1 L243.0 680.9 L244.0 683.3 L245.0 686.3 L246.0 689.7 L247.0 693.7 L248.0 698.0 L249.0 702.9 L250.0 708.1 L251.0 713.6 L252.0 719.5 L253.0 725.7 L254.0 732.2 L255.0 738.8 L256.0 745.7 L257.0 752.7 L258.0 759.8 L259.0 767.1 L260.0 774.4 L261.0 781.8 L262.0 789.1 L263.0 796.5 L264.0 803.9 L265.0 811.2 L266.0 818.5 L267.0 825.7 L268.0 832.8 L269.0 839.7 L270.0 846.6 L271.0 853.4 L272.0 860.0 L273.0 866.4 L274.0 872.7 L275.0 878.8 L276.0 884.8 L277.0 890.6 L278.0 896.2 L279.0 901.6 L280.0 906.9 L281.0 911.9 L282.0 916.8 L283.0 921.5 L284.0 926.0 L285.0 930.3 L286.0 934.5 L287.0 938.4 L288.0 942.2 L289.0 945.8 L290.0 949.3 L291.0 952.6 L292.0 955.7 L293.0 958.7 L294.0 961.5 L295.0 964.1 L296.0 966.7 L297.0 969.0 L298.0 971.3 L299.0 973.4 L300.0 975.4 L301.0 977.3 L302.0 979.1 L303.0 980.8 L304.0 982.4 L305.0 983.9 L306.0 985.3 L307.0 986.6 L308.0 987.9 L309.0 989.0 L310.0 990.1 L311.0 991.2 L312.0 992.2 L313.0 993.1 L314.0 993.9 L315.0 994.7 L316.0 995.5 L317.0 996.2 L318.0 996.9 L319.0 997.5 L320.0 998.1 L321.0 998.7 L322.0 999.3 L323.0 999.8 L324.0 1000.2 L325.0 1000.7 L326.0 1001.1 L327.0 1001.6 L328.0 1002.0 L329.0 1002.3 L330.0 1002.7 L331.0 1003.0 L332.0 1003.4 L333.0 1003.7 L334.0 1004.0 L335.0 1004.3 L336.0 1004.5 L337.0 1004.8 L338.0 1005.1 L339.0 1005.3 L340.0 1005.5 L341.0 1005.8 L342.0 1006.0 L343.0 1006.2 L344.0 1006.4 L345.0 1006.6 L346.0 1006.8 L347.0 1007.0 L348.0 1007.2 L349.0 1007.4 L350.0 1007.6 L351.0 1007.7 L352.0 1007.9 L353.0 1008.0 L354.0 1008.2 L355.0 1008.4 L356.0 1008.5 L357.0 1008.7 L358.0 1008.8 L359.0 1008.9 L360.0 1009.1 L361.0 1009.2 L362.0 1009.3 L363.0 1009.5 L364.0 1009.6 L365.0 1009.7 L366.0 1009.8 L367.0 1009.9 L368.0 1010.0 L369.0 1010.2 L370.0 1010.3 L371.0 1010.4 L372.0 1010.5 L373.0 1010.6 L374.0 1010.7 L375.0 1010.8 L376.0 1010.9 L377.0 1011.0 L378.0 1011.0 L379.0 1011.1 L380.0 1011.2 L381.0 1011.3 L382.0 1011.4 L383.0 1011.5 L384.0 1011.6 L385.0 1011.6 L386.0 1011.7 L387.0 1011.8 L388.0 1011.9 L389.0 1011.9 L390.0 1012.0 L391.0 1012.1 L392.0 1012.1 L393.0 1012.2 L394.0 1012.3 L395.0 1012.3 L396.0 1012.4 L397.0 1012.5 L398.0 1012.5 L399.0 1012.6 L400.0 1012.7 L401.0 1012.7 L402.0 1012.8 L403.0 1012.8 L404.0 1012.9 L405.0 1012.9 L406.0 1013.0 L407.0 1013.0 L408.0 1013.1 L409.0 1013.2 L410.0 1013.2 L411.0 1013.3 L412.0 1013.3 L413.0 1013.3 L414.0 1013.4 L415.0 1013.4 L416.0 1013.5 L417.0 1013.5 L418.0 1013.6 L419.0 1013.6 L420.0 1013.7 L421.0 1013.7 L422.0 1013.7 L423.0 1013.8 L424.0 1013.8 L425.0 1013.9 L426.0 1013.9 L427.0 1013.9 L428.0 1014.0 L429.0 1014.0 L430.0 1014.1 L431.0 1014.1 L432.0 1014.1 L433.0 1014.2 L434.0 1014.2 L435.0 1014.2 L436.0 1014.3 L437.0 1014.3 L438.0 1014.3 L439.0 1014.4 L440.0 1014.4 L441.0 1014.4 L442.0 1014.5 L443.0 1014.5 L444.0 1014.5 L445.0 1014.5 L446.0 1014.6 L447.0 1014.6 L448.0 1014.6 L449.0 1014.7 L450.0 1014.7 L451.0 1014.7 L452.0 1014.7 L453.0 1014.8 L454.0 1014.8 L455.0 1014.8 L456.0 1014.8 L457.0 1014.9 L458.0 1014.9 L459.0 1014.9 L460.0 1014.9 L461.0 1015.0 L462.0 1015.0 L463.0 1015.0 L464.0 1015.0 L465.0 1015.1 L466.0 1015.1 L467.0 1015.1 L468.0 1015.1 L469.0 1015.1 L470.0 1015.2 L471.0 1015.2 L472.0 1015.2 L473.0 1015.2 L474.0 1015.2 L475.0 1015.3 L476.0 1015.3 L477.0 1015.3 L478.0 1015.3 L479.0 1015.3 L480.0 1015.4 L481.0 1015.4 L482.0 1015.4 L483.0 1015.4 L484.0 1015.4 L485.0 1015.4 L486.0 1015.5 L487.0 1015.5 L488.0 1015.5 L489.0 1015.5 L490.0 1015.5 L491.0 1015.5 L492.0 1015.6 L493.0 1015.6 L494.0 1015.6 L495.0 1015.6 L496.0 1015.6 L497.0 1015.6 L498.0 1015.7 L499.0 1015.7 L500.0 1015.7 L501.0 1015.7 L502.0 1015.7 L503.0 1015.7 L504.0 1015.7 L505.0 1015.8 L506.0 1015.8 L507.0 1015.8 L508.0 1015.8 L509.0 1015.8 L510.0 1015.8 L511.0 1015.8 L512.0 1015.8 L513.0 1015.9 L514.0 1015.9 L515.0 1015.9 L516.0 1015.9 L517.0 1015.9 L518.0 1015.9 L519.0 1015.9 L520.0 1015.9 L521.0 1016.0 L522.0 1016.0 L523.0 1016.0 L524.0 1016.0 L525.0 1016.0 L526.0 1016.0 L527.0 1016.0 L528.0 1016.0 L529.0 1016.0 L530.0 1016.1 L531.0 1016.1 L532.0 1016.1 L533.0 1016.1 L534.0 1016.1 L535.0 1016.1 L536.0 1016.1 L537.0 1016.1 L538.0 1016.1 L539.0 1016.1 L540.0 1016.2 L541.0 1016.2 L542.0 1016.2 L543.0 1016.2 L544.0 1016.2 L545.0 1016.2 L546.0 1016.2 L547.0 1016.2 L548.0 1016.2 L549.0 1016.2 L550.0 1016.2 L551.0 1016.3 L552.0 1016.3 L553.0 1016.3 L554.0 1016.3 L555.0 1016.3 L556.0 1016.3 L557.0 1016.3 L558.0 1016.3 L559.0 1016.3 L560.0 1016.3 L561.0 1016.3 L562.0 1016.3 L563.0 1016.3 L564.0 1016.4 L565.0 1016.4 L566.0 1016.4 L567.0 1016.4 L568.0 1016.4 L569.0 1016.4 L570.0 1016.4 L571.0 1016.4 L572.0 1016.4 L573.0 1016.4 L574.0 1016.4 L575.0 1016.4 L576.0 1016.4 L577.0 1016.4 L578.0 1016.5 L579.0 1016.5 L580.0 1016.5 L581.0 1016.5 L582.0 1016.5 L583.0 1016.5 L584.0 1016.5 L585.0 1016.5 L586.0 1016.5 L587.0 1016.5 L588.0 1016.5 L589.0 1016.5 L590.0 1016.5 L591.0 1016.5 L592.0 1016.5 L593.0 1016.6 L594.0 1016.6 L595.0 1016.6 L596.0 1016.6 L597.0 1016.6 L598.0 1016.6 L599.0 1016.6 L600.0 1016.6 L601.0 1016.6 L602.0 1016.6 L603.0 1016.6 L604.0 1016.6 L605.0 1016.6 L606.0 1016.6 L607.0 1016.6 L608.0 1016.6 L609.0 1016.6 L610.0 1016.6 L611.0 1016.6 L612.0 1016.7 L613.0 1016.7 L614.0 1016.7 L615.0 1016.7 L616.0 1016.7 L617.0 1016.7 L618.0 1016.7 L619.0 1016.7 L620.0 1016.7 L621.0 1016.7 L622.0 1016.7 L623.0 1016.7 L624.0 1016.7 L625.0 1016.7 L626.0 1016.7 L627.0 1016.7 L628.0 1016.7 L629.0 1016.7 L630.0 1016.7 L631.0 1016.7 L632.0 1016.7 L633.0 1016.8 L634.0 1016.8 L635.0 1016.8 L636.0 1016.8 L637.0 1016.8 L638.0 1016.8 L639.0 1016.8 L640.0 1016.8 L641.0 1016.8 L642.0 1016.8 L643.0 1016.8 L644.0 1016.8 L645.0 1016.8 L646.0 1016.8 L647.0 1016.8 L648.0 1016.8 L649.0 1016.8 L650.0 1016.8 L651.0 1016.8 L652.0 1016.8 L653.0 1016.8 L654.0 1016.8 L655.0 1016.8 L656.0 1016.8 L657.0 1016.8 L658.0 1016.8 L659.0 1016.9 L660.0 1016.9 L661.0 1016.9 L662.0 1016.9 L663.0 1016.9 L664.0 1016.9 L665.0 1016.9 L666.0 1016.9 L667.0 1016.9 L668.0 1016.9 L669.0 1016.9 L670.0 1016.9 L671.0 1016.9 L672.0 1016.9 L673.0 1016.9 L674.0 1016.9 L675.0 1016.9 L676.0 1016.9 L677.0 1016.9 L678.0 1016.9 L679.0 1016.9 L680.0 1016.9 L681.0 1016.9 L682.0 1016.9 L683.0 1016.9 L684.0 1016.9 L685.0 1016.9 L686.0 1016.9 L687.0 1016.9 L688.0 1016.9 L689.0 1016.9 L690.0 1017.0 L691.0 1017.0 L692.0 1017.0 L693.0 1017.0 L694.0 1017.0 L695.0 1017.0 L696.0 1017.0 L697.0 1017.0 L698.0 1017.0 L699.0 1017.0 L700.0 1017.0 L701.0 1017.0 L702.0 1017.0 L703.0 1017.0 L704.0 1017.0 L705.0 1017.0 L706.0 1017.0 L707.0 1017.0 L708.0 1017.0 L709.0 1017.0 L710.0 1017.0 L711.0 1017.0 L712.0 1017.0 L713.0 1017.0 L714.0 1017.0 L715.0 1017.0 L716.0 1017.0 L717.0 1017.0 L718.0 1017.0 L719.0 1017.0 L720.0 1017.0 L721.0 1017.0 L722.0 1017.0 L723.0 1017.0 L724.0 1017.0 L725.0 1017.0 L726.0 1017.0 L727.0 1017.0 L728.0 1017.0 L729.0 1017.1 L730.0 1017.1 L731.0 1017.1 L732.0 1017.1 L733.0 1017.1 L734.0 1017.1 L735.0 1017.1 L736.0 1017.1 L737.0 1017.1 L738.0 1017.1 L739.0 1017.1 L740.0 1017.1 L741.0 1017.1 L742.0 1017.1 L743.0 1017.1 L744.0 1017.1 L745.0 1017.1 L746.0 1017.1 L747.0 1017.1 L748.0 1017.1 L749.0 1017.1 L750.0 1017.1 L751.0 1017.1 L752.0 1017.1 L753.0 1017.1 L754.0 1017.1 L755.0 1017.1 L756.0 1017.1 L757.0 1017.1 L758.0 1017.1 L759.0 1017.1 L760.0 1017.1 L761.0 1017.1 L762.0 1017.1 L763.0 1017.1 L764.0 1017.1 L765.0 1017.1 L766.0 1017.1 L767.0 1017.1 L768.0 1017.1 L769.0 1017.1 L770.0 1017.1 L771.0 1017.1 L772.0 1017.1 L773.0 1017.1 L774.0 1017.1 L775.0 1017.1 L776.0 1017.1 L777.0 1017.1 L778.0 1017.1 L779.0 1017.1 L780.0 1017.1 L781.0 1017.2 L782.0 1017.2 L783.0 1017.2 L784.0 1017.2 L785.0 1017.2 L786.0 1017.2 L787.0 1017.2 L788.0 1017.2 L789.0 1017.2 L790.0 1017.2 L791.0 1017.2 L792.0 1017.2 L793.0 1017.2 L794.0 1017.2 L795.0 1017.2 L796.0 1017.2 L797.0 1017.2 L798.0 1017.2 L799.0 1017.2 L800.0 1017.2 L801.0 1017.2 L802.0 1017.2 L803.0 1017.2 L804.0 1017.2 L805.0 1017.2 L806.0 1017.2 L807.0 1017.2 L808.0 1017.2 L809.0 1017.2 L810.0 1017.2 L811.0 1017.2 L812.0 1017.2 L813.0 1017.2 L814.0 1017.2 L815.0 1017.2 L816.0 1017.2 L817.0 1017.2 L818.0 1017.2 L819.0 1017.2 L820.0 1017.2 L821.0 1017.2 L822.0 1017.2 L823.0 1017.2 L824.0 1017.2 L825.0 1017.2 L826.0 1017.2 L827.0 1017.2 L828.0 1017.2 L829.0 1017.2 L830.0 1017.2 L831.0 1017.2 L832.0 1017.2 L833.0 1017.2 L834.0 1017.2 L835.0 1017.2 L836.0 1017.2 L837.0 1017.2 L838.0 1017.2 L839.0 1017.2 L840.0 1017.2 L841.0 1017.2 L842.0 1017.2 L843.0 1017.2 L844.0 1017.2 L845.0 1017.2 L846.0 1017.2 L847.0 1017.2 L848.0 1017.2 L849.0 1017.2 L850.0 1017.2 L851.0 1017.2 L852.0 1017.2 L853.0 1017.2 L854.0 1017.3 L855.0 1017.3 L856.0 1017.3 L857.0 1017.3 L858.0 1017.3 L859.0 1017.3 L860.0 1017.3 L861.0 1017.3 L862.0 1017.3 L863.0 1017.3 L864.0 1017.3 L865.0 1017.3 L866.0 1017.3 L867.0 1017.3 L868.0 1017.3 L869.0 1017.3 L870.0 1017.3 L871.0 1017.3 L872.0 1017.3 L873.0 1017.3 L874.0 1017.3 L875.0 1017.3 L876.0 1017.3 L877.0 1017.3 L878.0 1017.3 L879.0 1017.3 L880.0 1017.3 L881.0 1017.3 L882.0 1017.3 L883.0 1017.3 L884.0 1017.3 L885.0 1017.3 L886.0 1017.3 L887.0 1017.3 L888.0 1017.3 L889.0 1017.3 L890.0 1017.3 L891.0 1017.3 L892.0 1017.3 L893.0 1017.3 L894.0 1017.3 L895.0 1017.3 L896.0 1017.3 L897.0 1017.3 L898.0 1017.3 L899.0 1017.3 L900.0 1017.3 L901.0 1017.3 L902.0 1017.3 L903.0 1017.3 L904.0 1017.3 L905.0 1017.3 L906.0 1017.3 L907.0 1017.3 L908.0 1017.3 L909.0 1017.3 L910.0 1017.3 L911.0 1017.3 L912.0 1017.3 L913.0 1017.3 L914.0 1017.3 L915.0 1017.3 L916.0 1017.3 L917.0 1017.3 L918.0 1017.3 L919.0 1017.3 L920.0 1017.3 L921.0 1017.3 L922.0 1017.3 L923.0 1017.3 L924.0 1017.3 L925.0 1017.3 L926.0 1017.3 L927.0 1017.3 L928.0 1017.3 L929.0 1017.3 L930.0 1017.3 L931.0 1017.3 L932.0 1017.3 L933.0 1017.3 L934.0 1017.3 L935.0 1017.3 L936.0 1017.3 L937.0 1017.3 L938.0 1017.3 L939.0 1017.3 L940.0 1017.3 L941.0 1017.3 L942.0 1017.3 L943.0 1017.3 L944.0 1017.3 L945.0 1017.3 L946.0 1017.3 L947.0 1017.3 L948.0 1017.3 L949.0 1017.3 L950.0 1017.3 L951.0 1017.3 L952.0 1017.3 L953.0 1017.3 L954.0 1017.3 L955.0 1017.3 L956.0 1017.3 L957.0 1017.3 L958.0 1017.3 L959.0 1017.3 L960.0 1017.3 L961.0 1017.3 L962.0 1017.3 L963.0 1017.3 L964.0 1017.3 L965.0 1017.3 L966.0 1017.3 L967.0 1017.4 L968.0 1017.4 L969.0 1017.4 L970.0 1017.4 L971.0 1017.4 L972.0 1017.4 L973.0 1017.4 L974.0 1017.4 L975.0 1017.4 L976.0 1017.4 L977.0 1017.4 L978.0 1017.4 L979.0 1017.4 L980.0 1017.4 L981.0 1017.4 L982.0 1017.4 L983.0 1017.4 L984.0 1017.4 L985.0 1017.4 L986.0 1017.4 L987.0 1017.4 L988.0 1017.4 L989.0 1017.4 L990.0 1017.4 L991.0 1017.4 L992.0 1017.4 L993.0 1017.4 L994.0 1017.4 L995.0 1017.4 L996.0 1017.4 L997.0 1017.4 L998.0 1017.4 L999.0 1017.4 L1000.0 1017.4 L1001.0 1017.4 L1002.0 1017.4 L1003.0 1017.4 L1004.0 1017.4 L1005.0 1017.4 L1006.0 1017.4 L1007.0 1017.4 L1008.0 1017.4 L1009.0 1017.4 L1010.0 1017.4 L1011.0 1017.4 L1012.0 1017.4 L1013.0 1017.4 L1014.0 1017.4 L1015.0 1017.4 L1016.0 1017.4 L1017.0 1017.4 L1018.0 1017.4 L1019.0 1017.4 L1020.0 1017.4 L1021.0 1017.4 L1022.0 1017.4 L1023.0 1017.4 L1024.0 1017.4 L1025.0 1017.4 L1026.0 1017.4 L1027.0 1017.4 L1028.0 1017.4 L1029.0 1017.4 L1030.0 1017.4 L1031.0 1017.4 L1032.0 1017.4 L1033.0 1017.4 L1034.0 1017.4 L1035.0 1017.4 L1036.0 1017.4 L1037.0 1017.4 L1038.0 1017.4 L1039.0 1017.4 L1040.0 1017.4 L1041.0 1017.4 L1042.0 1017.4 L1043.0 1017.4 L1044.0 1017.4 L1045.0 1017.4 L1046.0 1017.4 L1047.0 1017.4 L1048.0 1017.4 L1049.0 1017.4 L1050.0 1017.4 L1051.0 1017.4 L1052.0 1017.4 L1053.0 1017.4 L1054.0 1017.4 L1055.0 1017.4 L1056.0 1017.4 L1057.0 1017.4 L1058.0 1017.4 L1059.0 1017.4 L1060.0 1017.4 L1061.0 1017.4 L1062.0 1017.4 L1063.0 1017.4 L1064.0 1017.4 L1065.0 1017.4 L1066.0 1017.4 L1067.0 1017.4 L1068.0 1017.4 L1069.0 1017.4 L1070.0 1017.4 L1071.0 1017.4 L1072.0 1017.4 L1073.0 1017.4 L1074.0 1017.4 L1075.0 1017.4 L1076.0 1017.4 L1077.0 1017.4 L1078.0 1017.4 L1079.0 1017.4 L1080.0 1017.4 L1081.0 1017.4 L1082.0 1017.4 L1083.0 1017.4 L1084.0 1017.4 L1085.0 1017.4 L1086.0 1017.4 L1087.0 1017.4 L1088.0 1017.4 L1089.0 1017.4 L1090.0 1017.4 L1091.0 1017.4 L1092.0 1017.4 L1093.0 1017.4 L1094.0 1017.4 L1095.0 1017.4 L1096.0 1017.4 L1097.0 1017.4 L1098.0 1017.4 L1099.0 1017.4 L1100.0 1017.4 L1101.0 1017.4 L1102.0 1017.4 L1103.0 1017.4 L1104.0 1017.4 L1105.0 1017.4 L1106.0 1017.4 L1107.0 1017.4 L1108.0 1017.4 L1109.0 1017.4 L1110.0 1017.4 L1111.0 1017.4 L1112.0 1017.4 L1113.0 1017.4 L1114.0 1017.4 L1115.0 1017.4 L1116.0 1017.4 L1117.0 1017.4 L1118.0 1017.4 L1119.0 1017.4 L1120.0 1017.4 L1121.0 1017.4 L1122.0 1017.4 L1123.0 1017.4 L1124.0 1017.4 L1125.0 1017.4 L1126.0 1017.4 L1127.0 1017.4 L1128.0 1017.4 L1129.0 1017.4 L1130.0 1017.4 L1131.0 1017.4 L1132.0 1017.4 L1133.0 1017.4 L1134.0 1017.4 L1135.0 1017.4 L1136.0 1017.4 L1137.0 1017.4 L1138.0 1017.4 L1139.0 1017.4 L1140.0 1017.4 L1141.0 1017.4 L1142.0 1017.4 L1143.0 1017.4 L1143.5 1017.4"/>
<path stroke="#00ff00" d="M98.0 1017.6 L99.0 1017.6 L100.0 1017.6 L101.0 1017.6 L102.0 1017.6 L103.0 1017.6 L104.0 1017.6 L105.0 1017.6 L106.0 1017.6 L107.0 1017.6 L108.0 1017.6 L109.0 1017.6 L110.0 1017.6 L111.0 1017.6 L112.0 1017.6 L113.0 1017.6 L114.0 1017.6 L115.0 1017.6 L116.0 1017.6 L117.0 1017.6 L118.0 1017.6 L119.0 1017.6 L120.0 1017.6 L121.0 1017.6 L122.0 1017.6 L123.0 1017.6 L124.0 1017.6 L125.0 1017.6 L126.0 1017.6 L127.0 1017.6 L128.0 1017.6 L129.0 1017.6 L130.0 1017.6 L131.0 1017.6 L132.0 1017.6 L133.0 1017.6 L134.0 1017.6 L135.0 1017.6 L136.0 1017.6 L137.0 1017.6 L138.0 1017.6 L139.0 1017.6 L140.0 1017.6 L141.0 1017.6 L142.0 1017.6 L143.0 1017.6 L144.0 1017.6 L145.0 1017.6 L146.0 1017.6 L147.0 1017.6 L148.0 1017.6 L149.0 1017.6 L150.0 1017.6 L151.0 1017.6 L152.0 1017.6 L153.0 1017.6 L154.0 1017.6 L155.0 1017.6 L156.0 1017.6 L157.0 1017.6 L158.0 1017.6 L159.0 1017.6 L160.0 1017.6 L161.0 1017.6 L162.0 1017.6 L163.0 1017.6 L164.0 1017.6 L165.0 1017.6 L166.0 1017.6 L167.0 1017.6 L168.0 1017.6 L169.0 1017.6 L170.0 1017.6 L171.0 1017.6 L172.0 1017.6 L173.0 1017.6 L174.0 1017.6 L175.0 1017.6 L176.0 1017.6 L177.0 1017.6 L178.0 1017.6 L179.0 1017.5 L180.0 1017.5 L181.0 1017.5 L182.0 1017.5 L183.0 1017.5 L184.0 1017.5 L185.0 1017.5 L186.0 1017.5 L187.0 1017.5 L188.0 1017.4 L189.0 1017.4 L190.0 1017.4 L191.0 1017.4 L192.0 1017.3 L193.0 1017.3 L194.0 1017.3 L195.0 1017.2 L196.0 1017.2 L197.0 1017.2 L198.0 1017.1 L199.0 1017.0 L200.0 1017.0 L201.0 1016.9 L202.0 1016.8 L203.0 1016.8 L204.0 1016.7 L205.0 1016.6 L206.0 1016.4 L207.0 1016.3 L208.0 1016.2 L209.0 1016.0 L210.0 1015.9 L211.0 1015.7 L212.0 1015.5 L213.0 1015.3 L214.0 1015.1 L215.0 1014.9 L216.0 1014.6 L217.0 1014.3 L218.0 1014.0 L219.0 1013.7 L220.0 1013.3 L221.0 1012.9 L222.0 1012.5 L223.0 1012.1 L224.0 1011.6 L225.0 1011.1 L226.0 1010.6 L227.0 1010.0 L228.0 1009.4 L229.0 1008.7 L230.0 1008.0 L231.0 1007.3 L232.0 1006.5 L233.0 1005.7 L234.0 1004.8 L235.0 1003.8 L236.0 1002.8 L237.0 1001.8 L238.0 1000.7 L239.0 999.5 L240.0 998.3 L241.0 997.1 L242.0 995.7 L243.0 994.3 L244.0 992.9 L245.0 991.4 L246.0 989.8 L247.0 988.1 L248.0 986.4 L249.0 984.6 L250.0 982.8 L251.0 980.9 L252.0 978.9 L253.0 976.9 L254.0 974.8 L255.0 972.7 L256.0 970.5 L257.0 968.2 L258.0 965.9 L259.0 963.6 L260.0 961.2 L261.0 958.7 L262.0 956.2 L263.0 953.7 L264.0 951.2 L265.0 948.6 L266.0 946.0 L267.0 943.3 L268.0 940.7 L269.0 938.1 L270.0 935.4 L271.0 932.8 L272.0 930.1 L273.0 927.5 L274.0 924.9 L275.0 922.3 L276.0 919.8 L277.0 917.3 L278.0 914.8 L279.0 912.4 L280.0 910.1 L281.0 907.8 L282.0 905.6 L283.0 903.5 L284.0 901.5 L285.0 899.5 L286.0 897.7 L287.0 895.9 L288.0 894.3 L289.0 892.7 L290.0 891.3 L291.0 890.0 L292.0 888.9 L293.0 887.8 L294.0 886.9 L295.0 886.2 L296.0 885.5 L297.0 885.0 L298.0 884.7 L299.0 884.5 L300.0 884.4 L301.0 884.5 L302.0 884.7 L303.0 885.1 L304.0 885.6 L305.0 886.2 L306.0 887.0 L307.0 887.9 L308.0 888.9 L309.0 890.1 L310.0 891.4 L311.0 892.8 L312.0 894.4 L313.0 896.0 L314.0 897.8 L315.0 899.6 L316.0 901.6 L317.0 903.6 L318.0 905.8 L319.0 908.0 L320.0 910.3 L321.0 912.6 L322.0 915.0 L323.0 917.5 L324.0 920.0 L325.0 922.5 L326.0 925.1 L327.0 927.7 L328.0 930.3 L329.0 932.9 L330.0 935.6 L331.0 938.2 L332.0 940.9 L333.0 943.5 L334.0 946.2 L335.0 948.8 L336.0 951.3 L337.0 953.9 L338.0 956.4 L339.0 958.9 L340.0 961.3 L341.0 963.7 L342.0 966.1 L343.0 968.4 L344.0 970.6 L345.0 972.8 L346.0 975.0 L347.0 977.1 L348.0 979.1 L349.0 981.0 L350.0 982.9 L351.0 984.8 L352.0 986.5 L353.0 988.2 L354.0 989.9 L355.0 991.5 L356.0 993.0 L357.0 994.4 L358.0 995.8 L359.0 997.2 L360.0 998.4 L361.0 999.6 L362.0 1000.8 L363.0 1001.9 L364.0 1002.9 L365.0 1003.9 L366.0 1004.8 L367.0 1005.7 L368.0 1006.5 L369.0 1007.3 L370.0 1008.1 L371.0 1008.8 L372.0 1009.4 L373.0 1010.0 L374.0 1010.6 L375.0 1011.1 L376.0 1011.7 L377.0 1012.1 L378.0 1012.6 L379.0 1013.0 L380.0 1013.3 L381.0 1013.7 L382.0 1014.0 L383.0 1014.3 L384.0 1014.6 L385.0 1014.9 L386.0 1015.1 L387.0 1015.3 L388.0 1015.5 L389.0 1015.7 L390.0 1015.9 L391.0 1016.1 L392.0 1016.2 L393.0 1016.3 L394.0 1016.5 L395.0 1016.6 L396.0 1016.7 L397.0 1016.8 L398.0 1016.8 L399.0 1016.9 L400.0 1017.0 L401.0 1017.0 L402.0 1017.1 L403.0 1017.2 L404.0 1017.2 L405.0 1017.2 L406.0 1017.3 L407.0 1017.3 L408.0 1017.3 L409.0 1017.4 L410.0 1017.4 L411.0 1017.4 L412.0 1017.4 L413.0 1017.5 L414.0 1017.5 L415.0 1017.5 L416.0 1017.5 L417.0 1017.5 L418.0 1017.5 L419.0 1017.5 L420.0 1017.5 L421.0 1017.5 L422.0 1017.6 L423.0 1017.6 L424.0 1017.6 L425.0 1017.6 L426.0 1017.6 L427.0 1017.6 L428.0 1017.6 L429.0 1017.6 L430.0 1017.6 L431.0 1017.6 L432.0 1017.6 L433.0 1017.6 L434.0 1017.6 L435.0 1017.6 L436.0 1017.6 L437.0 1017.6 L438.0 1017.6 L439.0 1017.6 L440.0 1017.6 L441.0 1017.6 L442.0 1017.6 L443.0 1017.6 L444.0 1017.6 L445.0 1017.6 L446.0 1017.6 L447.0 1017.6 L448.0 1017.6 L449.0 1017.6 L450.0 1017.6 L451.0 1017.6 L452.0 1017.6 L453.0 1017.6 L454.0 1017.6 L455.0 1017.6 L456.0 1017.6 L457.0 1017.6 L458.0 1017.6 L459.0 1017.6 L460.0 1017.6 L461.0 1017.6 L462.0 1017.6 L463.0 1017.6 L464.0 1017.6 L465.0 1017.6 L466.0 1017.6 L467.0 1017.6 L468.0 1017.6 L469.0 1017.6 L470.0 1017.6 L471.0 1017.6 L472.0 1017.6 L473.0 1017.6 L474.0 1017.6 L475.0 1017.6 L476.0 1017.6 L477.0 1017.6 L478.0 1017.6 L479.0 1017.6 L480.0 1017.6 L481.0 1017.6 L482.0 1017.6 L483.0 1017.6 L484.0 1017.6 L485.0 1017.6 L486.0 1017.6 L487.0 1017.6 L488.0 1017.6 L489.0 1017.6 L490.0 1017.6 L491.0 1017.6 L492.0 1017.6 L493.0 1017.6 L494.0 1017.6 L495.0 1017.6 L496.0 1017.6 L497.0 1017.6 L498.0 1017.6 L499.0 1017.6 L500.0 1017.6 L501.0 1017.6 L502.0 1017.6 L503.0 1017.6 L504.0 1017.6 L505.0 1017.6 L506.0 1017.6 L507.0 1017.6 L508.0 1017.6 L509.0 1017.6 L510.0 1017.6 L511.0 1017.6 L512.0 1017.6 L513.0 1017.6 L514.0 1017.6 L515.0 1017.6 L516.0 1017.6 L517.0 1017.6 L518.0 1017.6 L519.0 1017.6 L520.0 1017.6 L521.0 1017.6 L522.0 1017.6 L523.0 1017.6 L524.0 1017.6 L525.0 1017.6 L526.0 1017.6 L527.0 1017.6 L528.0 1017.6 L529.0 1017.6 L530.0 1017.6 L531.0 1017.6 L532.0 1017.6 L533.0 1017.6 L534.0 1017.6 L535.0 1017.6 L536.0 1017.6 L537.0 1017.6 L538.0 1017.6 L539.0 1017.6 L540.0 1017.6 L541.0 1017.6 L542.0 1017.6 L543.0 1017.6 L544.0 1017.6 L545.0 1017.6 L546.0 1017.6 L547.0 1017.6 L548.0 1017.6 L549.0 1017.6 L550.0 1017.6 L551.0 1017.6 L552.0 1017.6 L553.0 1017.6 L554.0 1017.6 L555.0 1017.6 L556.0 1017.6 L557.0 1017.6 L558.0 1017.6 L559.0 1017.6 L560.0 1017.6 L561.0 1017.6 L562.0 1017.6 L563.0 1017.6 L564.0 1017.6 L565.0 1017.6 L566.0 1017.6 L567.0 1017.6 L568.0 1017.6 L569.0 1017.6 L570.0 1017.6 L571.0 1017.6 L572.0 1017.6 L573.0 1017.6 L574.0 1017.6 L575.0 1017.6 L576.0 1017.6 L577.0 1017.6 L578.0 1017.6 L579.0 1017.6 L580.0 1017.6 L581.0 1017.6 L582.0 1017.6 L583.0 1017.6 L584.0 1017.6 L585.0 1017.6 L586.0 1017.6 L587.0 1017.6 L588.0 1017.6 L589.0 1017.6 L590.0 1017.6 L591.0 1017.6 L592.0 1017.6 L593.0 1017.6 L594.0 1017.6 L595.0 1017.6 L596.0 1017.6 L597.0 1017.6 L598.0 1017.6 L599.0 1017.6 L600.0 1017.6 L601.0 1017.6 L602.0 1017.6 L603.0 1017.6 L604.0 1017.6 L605.0 1017.6 L606.0 1017.6 L607.0 1017.6 L608.0 1017.6 L609.0 1017.6 L610.0 1017.6 L611.0 1017.6 L612.0 1017.6 L613.0 1017.6 L614.0 1017.6 L615.0 1017.6 L616.0 1017.6 L617.0 1017.6 L618.0 1017.6 L619.0 1017.6 L620.0 1017.6 L621.0 1017.6 L622.0 1017.6 L623.0 1017.6 L624.0 1017.6 L625.0 1017.6 L626.0 1017.6 L627.0 1017.6 L628.0 1017.6 L629.0 1017.6 L630.0 1017.6 L631.0 1017.6 L632.0 1017.6 L633.0 1017.6 L634.0 1017.6 L635.0 1017.6 L636.0 1017.6 L637.0 1017.6 L638.0 1017.6 L639.0 1017.6 L640.0 1017.6 L641.0 1017.6 L642.0 1017.6 L643.0 1017.6 L644.0 1017.6 L645.0 1017.6 L646.0 1017.6 L647.0 1017.6 L648.0 1017.6 L649.0 1017.6 L650.0 1017.6 L651.0 1017.6 L652.0 1017.6 L653.0 1017.6 L654.0 1017.6 L655.0 1017.6 L656.0 1017.6 L657.0 1017.6 L658.0 1017.6 L659.0 1017.6 L660.0 1017.6 L661.0 1017.6 L662.0 1017.6 L663.0 1017.6 L664.0 1017.6 L665.0 1017.6 L666.0 1017.6 L667.0 1017.6 L668.0 1017.6 L669.0 1017.6 L670.0 1017.6 L671.0 1017.6 L672.0 1017.6 L673.0 1017.6 L674.0 1017.6 L675.0 1017.6 L676.0 1017.6 L677.0 1017.6 L678.0 1017.6 L679.0 1017.6 L680.0 1017.6 L681.0 1017.6 L682.0 1017.6 L683.0 1017.6 L684.0 1017.6 L685.0 1017.6 L686.0 1017.6 L687.0 1017.6 L688.0 1017.6 L689.0 1017.6 L690.0 1017.6 L691.0 1017.6 L692.0 1017.6 L693.0 1017.6 L694.0 1017.6 L695.0 1017.6 L696.0 1017.6 L697.0 1017.6 L698.0 1017.6 L699.0 1017.6 L700.0 1017.6 L701.0 1017.6 L702.0 1017.6 L703.0 1017.6 L704.0 1017.6 L705.0 1017.6 L706.0 1017.6 L707.0 1017.6 L708.0 1017.6 L709.0 1017.6 L710.0 1017.6 L711.0 1017.6 L712.0 1017.6 L713.0 1017.6 L714.0 1017.6 L715.0 1017.6 L716.0 1017.6 L717.0 1017.6 L718.0 1017.6 L719.0 1017.6 L720.0 1017.6 L721.0 1017.6 L722.0 1017.6 L723.0 1017.6 L724.0 1017.6 L725.0 1017.6 L726.0 1017.6 L727.0 1017.6 L728.0 1017.6 L729.0 1017.6 L730.0 1017.6 L731.0 1017.6 L732.0 1017.6 L733.0 1017.6 L734.0 1017.6 L735.0 1017.6 L736.0 1017.6 L737.0 1017.6 L738.0 1017.6 L739.0 1017.6 L740.0 1017.6 L741.0 1017.6 L742.0 1017.6 L743.0 1017.6 L744.0 1017.6 L745.0 1017.6 L746.0 1017.6 L747.0 1017.6 L748.0 1017.6 L749.0 1017.6 L750.0 1017.6 L751.0 1017.6 L752.0 1017.6 L753.0 1017.6 L754.0 1017.6 L755.0 1017.6 L756.0 1017.6 L757.0 1017.6 L758.0 1017.6 L759.0 1017.6 L760.0 1017.6 L761.0 1017.6 L762.0 1017.6 L763.0 1017.6 L764.0 1017.6 L765.0 1017.6 L766.0 1017.6 L767.0 1017.6 L768.0 1017.6 L769.0 1017.6 L770.0 1017.6 L771.0 1017.6 L772.0 1017.6 L773.0 1017.6 L774.0 1017.6 L775.0 1017.6 L776.0 1017.6 L777.0 1017.6 L778.0 1017.6 L779.0 1017.6 L780.0 1017.6 L781.0 1017.6 L782.0 1017.6 L783.0 1017.6 L784.0 1017.6 L785.0 1017.6 L786.0 1017.6 L787.0 1017.6 L788.0 1017.6 L789.0 1017.6 L790.0 1017.6 L791.0 1017.6 L792.0 1017.6 L793.0 1017.6 L794.0 1017.6 L795.0 1017.6 L796.0 1017.6 L797.0 1017.6 L798.0 1017.6 L799.0 1017.6 L800.0 1017.6 L801.0 1017.6 L802.0 1017.6 L803.0 1017.6 L804.0 1017.6 L805.0 1017.6 L806.0 1017.6 L807.0 1017.6 L808.0 1017.6 L809.0 1017.6 L810.0 1017.6 L811.0 1017.6 L812.0 1017.6 L813.0 1017.6 L814.0 1017.6 L815.0 1017.6 L816.0 1017.6 L817.0 1017.6 L818.0 1017.6 L819.0 1017.6 L820.0 1017.6 L821.0 1017.6 L822.0 1017.6 L823.0 1017.6 L824.0 1017.6 L825.0 1017.6 L826.0 1017.6 L827.0 1017.6 L828.0 1017.6 L829.0 1017.6 L830.0 1017.6 L831.0 1017.6 L832.0 1017.6 L833.0 1017.6 L834.0 1017.6 L835.0 1017.6 L836.0 1017.6 L837.0 1017.6 L838.0 1017.6 L839.0 1017.6 L840.0 1017.6 L841.0 1017.6 L842.0 1017.6 L843.0 1017.6 L844.0 1017.6 L845.0 1017.6 L846.0 1017.6 L847.0 1017.6 L848.0 1017.6 L849.0 1017.6 L850.0 1017.6 L851.0 1017.6 L852.0 1017.6 L853.0 1017.6 L854.0 1017.6 L855.0 1017.6 L856.0 1017.6 L857.0 1017.6 L858.0 1017.6 L859.0 1017.6 L860.0 1017.6 L861.0 1017.6 L862.0 1017.6 L863.0 1017.6 L864.0 1017.6 L865.0 1017.6 L866.0 1017.6 L867.0 1017.6 L868.0 1017.6 L869.0 1017.6 L870.0 1017.6 L871.0 1017.6 L872.0 1017.6 L873.0 1017.6 L874.0 1017.6 L875.0 1017.6 L876.0 1017.6 L877.0 1017.6 L878.0 1017.6 L879.0 1017.6 L880.0 1017.6 L881.0 1017.6 L882.0 1017.6 L883.0 1017.6 L884.0 1017.6 L885.0 1017.6 L886.0 1017.6 L887.0 1017.6 L888.0 1017.6 L889.0 1017.6 L890.0 1017.6 L891.0 1017.6 L892.0 1017.6 L893.0 1017.6 L894.0 1017.6 L895.0 1017.6 L896.0 1017.6 L897.0 1017.6 L898.0 1017.6 L899.0 1017.6 L900.0 1017.6 L901.0 1017.6 L902.0 1017.6 L903.0 1017.6 L904.0 1017.6 L905.0 1017.6 L906.0 1017.6 L907.0 1017.6 L908.0 1017.6 L909.0 1017.6 L910.0 1017.6 L911.0 1017.6 L912.0 1017.6 L913.0 1017.6 L914.0 1017.6 L915.0 1017.6 L916.0 1017.6 L917.0 1017.6 L918.0 1017.6 L919.0 1017.6 L920.0 1017.6 L921.0 1017.6 L922.0 1017.6 L923.0 1017.6 L924.0 1017.6 L925.0 1017.6 L926.0 1017.6 L927.0 1017.6 L928.0 1017.6 L929.0 1017.6 L930.0 1017.6 L931.0 1017.6 L932.0 1017.6 L933.0 1017.6 L934.0 1017.6 L935.0 1017.6 L936.0 1017.6 L937.0 1017.6 L938.0 1017.6 L939.0 1017.6 L940.0 1017.6 L941.0 1017.6 L942.0 1017.6 L943.0 1017.6 L944.0 1017.6 L945.0 1017.6 L946.0 1017.6 L947.0 1017.6 L948.0 1017.6 L949.0 1017.6 L950.0 1017.6 L951.0 1017.6 L952.0 1017.6 L953.0 1017.6 L954.0 1017.6 L955.0 1017.6 L956.0 1017.6 L957.0 1017.6 L958.0 1017.6 L959.0 1017.6 L960.0 1017.6 L961.0 1017.6 L962.0 1017.6 L963.0 1017.6 L964.0 1017.6 L965.0 1017.6 L966.0 1017.6 L967.0 1017.6 L968.0 1017.6 L969.0 1017.6 L970.0 1017.6 L971.0 1017.6 L972.0 1017.6 L973.0 1017.6 L974.0 1017.6 L975.0 1017.6 L976.0 1017.6 L977.0 1017.6 L978.0 1017.6 L979.0 1017.6 L980.0 1017.6 L981.0 1017.6 L982.0 1017.6 L983.0 1017.6 L984.0 1017.6 L985.0 1017.6 L986.0 1017.6 L987.0 1017.6 L988.0 1017.6 L989.0 1017.6 L990.0 1017.6 L991.0 1017.6 L992.0 1017.6 L993.0 1017.6 L994.0 1017.6 L995.0 1017.6 L996.0 1017.6 L997.0 1017.6 L998.0 1017.6 L999.0 1017.6 L1000.0 1017.6 L1001.0 1017.6 L1002.0 1017.6 L1003.0 1017.6 L1004.0 1017.6 L1005.0 1017.6 L1006.0 1017.6 L1007.0 1017.6 L1008.0 1017.6 L1009.0 1017.6 L1010.0 1017.6 L1011.0 1017.6 L1012.0 1017.6 L1013.0 1017.6 L1014.0 1017.6 L1015.0 1017.6 L1016.0 1017.6 L1017.0 1017.6 L1018.0 1017.6 L1019.0 1017.6 L1020.0 1017.6 L1021.0 1017.6 L1022.0 1017.6 L1023.0 1017.6 L1024.0 1017.6 L1025.0 1017.6 L1026.0 1017.6 L1027.0 1017.6 L1028.0 1017.6 L1029.0 1017.6 L1030.0 1017.6 L1031.0 1017.6 L1032.0 1017.6 L1033.0 1017.6 L1034.0 1017.6 L1035.0 1017.6 L1036.0 1017.6 L1037.0 1017.6 L1038.0 1017.6 L1039.0 1017.6 L1040.0 1017.6 L1041.0 1017.6 L1042.0 1017.6 L1043.0 1017.6 L1044.0 1017.6 L1045.0 1017.6 L1046.0 1017.6 L1047.0 1017.6 L1048.0 1017.6 L1049.0 1017.6 L1050.0 1017.6 L1051.0 1017.6 L1052.0 1017.6 L1053.0 1017.6 L1054.0 1017.6 L1055.0 1017.6 L1056.0 1017.6 L1057.0 1017.6 L1058.0 1017.6 L1059.0 1017.6 L1060.0 1017.6 L1061.0 1017.6 L1062.0 1017.6 L1063.0 1017.6 L1064.0 1017.6 L1065.0 1017.6 L1066.0 1017.6 L1067.0 1017.6 L1068.0 1017.6 L1069.0 1017.6 L1070.0 1017.6 L1071.0 1017.6 L1072.0 1017.6 L1073.0 1017.6 L1074.0 1017.6 L1075.0 1017.6 L1076.0 1017.6 L1077.0 1017.6 L1078.0 1017.6 L1079.0 1017.6 L1080.0 1017.6 L1081.0 1017.6 L1082.0 1017.6 L1083.0 1017.6 L1084.0 1017.6 L1085.0 1017.6 L1086.0 1017.6 L1087.0 1017.6 L1088.0 1017.6 L1089.0 1017.6 L1090.0 1017.6 L1091.0 1017.6 L1092.0 1017.6 L1093.0 1017.6 L1094.0 1017.6 L1095.0 1017.6 L1096.0 1017.6 L1097.0 1017.6 L1098.0 1017.6 L1099.0 1017.6 L1100.0 1017.6 L1101.0 1017.6 L1102.0 1017.6 L1103.0 1017.6 L1104.0 1017.6 L1105.0 1017.6 L1106.0 1017.6 L1107.0 1017.6 L1108.0 1017.6 L1109.0 1017.6 L1110.0 1017.6 L1111.0 1017.6 L1112.0 1017.6 L1113.0 1017.6 L1114.0 1017.6 L1115.0 1017.6 L1116.0 1017.6 L1117.0 1017.6 L1118.0 1017.6 L1119.0 1017.6 L1120.0 1017.6 L1121.0 1017.6 L1122.0 1017.6 L1123.0 1017.6 L1124.0 1017.6 L1125.0 1017.6 L1126.0 1017.6 L1127.0 1017.6 L1128.0 1017.6 L1129.0 1017.6 L1130.0 1017.6 L1131.0 1017.6 L1132.0 1017.6 L1133.0 1017.6 L1134.0 1017.6 L1135.0 1017.6 L1136.0 1017.6 L1137.0 1017.6 L1138.0 1017.6 L1139.0 1017.6 L1140.0 1017.6 L1141.0 1017.6 L1142.0 1017.6 L1143.0 1017.6 L1143.5 1017.6"/>
<path stroke="#0000ff" d="M98.0 1017.4 L99.0 1017.4 L100.0 1017.4 L101.0 1017.4 L102.0 1017.4 L103.0 1017.4 L104.0 1017.4 L105.0 1017.4 L106.0 1017.4 L107.0 1017.4 L108.0 1017.4 L109.0 1017.4 L110.0 1017.4 L111.0 1017.4 L112.0 1017.4 L113.0 1017.4 L114.0 1017.4 L115.0 1017.4 L116.0 1017.4 L117.0 1017.4 L118.0 1017.4 L119.0 1017.4 L120.0 1017.4 L121.0 1017.4 L122.0 1017.4 L123.0 1017.4 L124.0 1017.3 L125.0 1017.3 L126.0 1017.3 L127.0 1017.3 L128.0 1017.3 L129.0 1017.3 L130.0 1017.3 L131.0 1017.3 L132.0 1017.3 L133.0 1017.3 L134.0 1017.3 L135.0 1017.3 L136.0 1017.3 L137.0 1017.3 L138.0 1017.3 L139.0 1017.3 L140.0 1017.3 L141.0 1017.3 L142.0 1017.3 L143.0 1017.3 L144.0 1017.3 L145.0 1017.3 L146.0 1017.3 L147.0 1017.3 L148.0 1017.3 L149.0 1017.3 L150.0 1017.3 L151.0 1017.3 L152.0 1017.3 L153.0 1017.3 L154.0 1017.3 L155.0 1017.3 L156.0 1017.3 L157.0 1017.3 L158.0 1017.3 L159.0 1017.3 L160.0 1017.3 L161.0 1017.3 L162.0 1017.3 L163.0 1017.3 L164.0 1017.3 L165.0 1017.2 L166.0 1017.2 L167.0 1017.2 L168.0 1017.2 L169.0 1017.2 L170.0 1017.2 L171.0 1017.2 L172.0 1017.2 L173.0 1017.2 L174.0 1017.2 L175.0 1017.2 L176.0 1017.2 L177.0 1017.2 L178.0 1017.2 L179.0 1017.2 L180.0 1017.2 L181.0 1017.2 L182.0 1017.2 L183.0 1017.2 L184.0 1017.2 L185.0 1017.2 L186.0 1017.2 L187.0 1017.2 L188.0 1017.2 L189.0 1017.2 L190.0 1017.2 L191.0 1017.2 L192.0 1017.1 L193.0 1017.1 L194.0 1017.1 L195.0 1017.1 L196.0 1017.1 L197.0 1017.1 L198.0 1017.1 L199.0 1017.1 L200.0 1017.1 L201.0 1017.1 L202.0 1017.1 L203.0 1017.1 L204.0 1017.1 L205.0 1017.1 L206.0 1017.1 L207.0 1017.1 L208.0 1017.1 L209.0 1017.1 L210.0 1017.1 L211.0 1017.0 L212.0 1017.0 L213.0 1017.0 L214.0 1017.0 L215.0 1017.0 L216.0 1017.0 L217.0 1017.0 L218.0 1017.0 L219.0 1017.0 L220.0 1017.0 L221.0 1017.0 L222.0 1017.0 L223.0 1017.0 L224.0 1017.0 L225.0 1017.0 L226.0 1016.9 L227.0 1016.9 L228.0 1016.9 L229.0 1016.9 L230.0 1016.9 L231.0 1016.9 L232.0 1016.9 L233.0 1016.9 L234.0 1016.9 L235.0 1016.9 L236.0 1016.9 L237.0 1016.9 L238.0 1016.8 L239.0 1016.8 L240.0 1016.8 L241.0 1016.8 L242.0 1016.8 L243.0 1016.8 L244.0 1016.8 L245.0 1016.8 L246.0 1016.8 L247.0 1016.7 L248.0 1016.7 L249.0 1016.7 L250.0 1016.7 L251.0 1016.7 L252.0 1016.7 L253.0 1016.7 L254.0 1016.6 L255.0 1016.6 L256.0 1016.6 L257.0 1016.6 L258.0 1016.6 L259.0 1016.6 L260.0 1016.5 L261.0 1016.5 L262.0 1016.5 L263.0 1016.5 L264.0 1016.4 L265.0 1016.4 L266.0 1016.4 L267.0 1016.4 L268.0 1016.3 L269.0 1016.3 L270.0 1016.3 L271.0 1016.2 L272.0 1016.2 L273.0 1016.1 L274.0 1016.1 L275.0 1016.0 L276.0 1016.0 L277.0 1015.9 L278.0 1015.9 L279.0 1015.8 L280.0 1015.7 L281.0 1015.6 L282.0 1015.5 L283.0 1015.4 L284.0 1015.3 L285.0 1015.2 L286.0 1015.0 L287.0 1014.9 L288.0 1014.7 L289.0 1014.6 L290.0 1014.4 L291.0 1014.2 L292.0 1014.0 L293.0 1013.7 L294.0 1013.5 L295.0 1013.2 L296.0 1012.9 L297.0 1012.5 L298.0 1012.2 L299.0 1011.8 L300.0 1011.3 L301.0 1010.9 L302.0 1010.4 L303.0 1009.8 L304.0 1009.3 L305.0 1008.6 L306.0 1007.9 L307.0 1007.2 L308.0 1006.4 L309.0 1005.6 L310.0 1004.7 L311.0 1003.7 L312.0 1002.7 L313.0 1001.6 L314.0 1000.4 L315.0 999.1 L316.0 997.8 L317.0 996.4 L318.0 994.8 L319.0 993.2 L320.0 991.5 L321.0 989.7 L322.0 987.8 L323.0 985.8 L324.0 983.6 L325.0 981.4 L326.0 979.0 L327.0 976.5 L328.0 973.9 L329.0 971.2 L330.0 968.3 L331.0 965.3 L332.0 962.2 L333.0 958.9 L334.0 955.5 L335.0 952.0 L336.0 948.3 L337.0 944.5 L338.0 940.6 L339.0 936.5 L340.0 932.3 L341.0 928.0 L342.0 923.5 L343.0 919.0 L344.0 914.3 L345.0 909.5 L346.0 904.6 L347.0 899.5 L348.0 894.4 L349.0 889.2 L350.0 883.9 L351.0 878.6 L352.0 873.2 L353.0 867.7 L354.0 862.2 L355.0 856.6 L356.0 851.0 L357.0 845.4 L358.0 839.9 L359.0 834.3 L360.0 828.7 L361.0 823.2 L362.0 817.7 L363.0 812.3 L364.0 807.0 L365.0 801.8 L366.0 796.7 L367.0 791.7 L368.0 786.8 L369.0 782.1 L370.0 777.6 L371.0 773.2 L372.0 769.0 L373.0 765.0 L374.0 761.3 L375.0 757.8 L376.0 754.5 L377.0 751.4 L378.0 748.7 L379.0 746.2 L380.0 744.0 L381.0 742.1 L382.0 740.4 L383.0 739.1 L384.0 738.1 L385.0 737.4 L386.0 737.0 L387.0 736.9 L388.0 737.1 L389.0 737.7 L390.0 738.6 L391.0 739.7 L392.0 741.2 L393.0 743.0 L394.0 745.1 L395.0 747.4 L396.0 750.1 L397.0 753.0 L398.0 756.1 L399.0 759.6 L400.0 763.2 L401.0 767.1 L402.0 771.2 L403.0 775.4 L404.0 779.9 L405.0 784.5 L406.0 789.3 L407.0 794.3 L408.0 799.3 L409.0 804.5 L410.0 809.8 L411.0 815.1 L412.0 820.6 L413.0 826.1 L414.0 831.6 L415.0 837.2 L416.0 842.7 L417.0 848.3 L418.0 853.9 L419.0 859.5 L420.0 865.0 L421.0 870.5 L422.0 876.0 L423.0 881.4 L424.0 886.7 L425.0 891.9 L426.0 897.1 L427.0 902.1 L428.0 907.1 L429.0 912.0 L430.0 916.7 L431.0 921.3 L432.0 925.9 L433.0 930.2 L434.0 934.5 L435.0 938.6 L436.0 942.6 L437.0 946.5 L438.0 950.2 L439.0 953.8 L440.0 957.3 L441.0 960.6 L442.0 963.8 L443.0 966.9 L444.0 969.8 L445.0 972.6 L446.0 975.3 L447.0 977.8 L448.0 980.2 L449.0 982.6 L450.0 984.7 L451.0 986.8 L452.0 988.8 L453.0 990.7 L454.0 992.4 L455.0 994.1 L456.0 995.6 L457.0 997.1 L458.0 998.5 L459.0 999.8 L460.0 1001.0 L461.0 1002.2 L462.0 1003.2 L463.0 1004.2 L464.0 1005.2 L465.0 1006.0 L466.0 1006.8 L467.0 1007.6 L468.0 1008.3 L469.0 1009.0 L470.0 1009.6 L471.0 1010.1 L472.0 1010.6 L473.0 1011.1 L474.0 1011.6 L475.0 1012.0 L476.0 1012.4 L477.0 1012.7 L478.0 1013.0 L479.0 1013.3 L480.0 1013.6 L481.0 1013.8 L482.0 1014.1 L483.0 1014.3 L484.0 1014.5 L485.0 1014.7 L486.0 1014.8 L487.0 1015.0 L488.0 1015.1 L489.0 1015.2 L490.0 1015.4 L491.0 1015.5 L492.0 1015.6 L493.0 1015.7 L494.0 1015.7 L495.0 1015.8 L496.0 1015.9 L497.0 1016.0 L498.0 1016.0 L499.0 1016.1 L500.0 1016.1 L501.0 1016.2 L502.0 1016.2 L503.0 1016.2 L504.0 1016.3 L505.0 1016.3 L506.0 1016.4 L507.0 1016.4 L508.0 1016.4 L509.0 1016.4 L510.0 1016.5 L511.0 1016.5 L512.0 1016.5 L513.0 1016.5 L514.0 1016.6 L515.0 1016.6 L516.0 1016.6 L517.0 1016.6 L518.0 1016.6 L519.0 1016.6 L520.0 1016.7 L521.0 1016.7 L522.0 1016.7 L523.0 1016.7 L524.0 1016.7 L525.0 1016.7 L526.0 1016.7 L527.0 1016.8 L528.0 1016.8 L529.0 1016.8 L530.0 1016.8 L531.0 1016.8 L532.0 1016.8 L533.0 1016.8 L534.0 1016.8 L535.0 1016.8 L536.0 1016.8 L537.0 1016.9 L538.0 1016.9 L539.0 1016.9 L540.0 1016.9 L541.0 1016.9 L542.0 1016.9 L543.0 1016.9 L544.0 1016.9 L545.0 1016.9 L546.0 1016.9 L547.0 1016.9 L548.0 1017.0 L549.0 1017.0 L550.0 1017.0 L551.0 1017.0 L552.0 1017.0 L553.0 1017.0 L554.0 1017.0 L555.0 1017.0 L556.0 1017.0 L557.0 1017.0 L558.0 1017.0 L559.0 1017.0 L560.0 1017.0 L561.0 1017.0 L562.0 1017.0 L563.0 1017.1 L564.0 1017.1 L565.0 1017.1 L566.0 1017.1 L567.0 1017.1 L568.0 1017.1 L569.0 1017.1 L570.0 1017.1 L571.0 1017.1 L572.0 1017.1 L573.0 1017.1 L574.0 1017.1 L575.0 1017.1 L576.0 1017.1 L577.0 1017.1 L578.0 1017.1 L579.0 1017.1 L580.0 1017.1 L581.0 1017.1 L582.0 1017.2 L583.0 1017.2 L584.0 1017.2 L585.0 1017.2 L586.0 1017.2 L587.0 1017.2 L588.0 1017.2 L589.0 1017.2 L590.0 1017.2 L591.0 1017.2 L592.0 1017.2 L593.0 1017.2 L594.0 1017.2 L595.0 1017.2 L596.0 1017.2 L597.0 1017.2 L598.0 1017.2 L599.0 1017.2 L600.0 1017.2 L601.0 1017.2 L602.0 1017.2 L603.0 1017.2 L604.0 1017.2 L605.0 1017.2 L606.0 1017.2 L607.0 1017.2 L608.0 1017.2 L609.0 1017.3 L610.0 1017.3 L611.0 1017.3 L612.0 1017.3 L613.0 1017.3 L614.0 1017.3 L615.0 1017.3 L616.0 1017.3 L617.0 1017.3 L618.0 1017.3 L619.0 1017.3 L620.0 1017.3 L621.0 1017.3 L622.0 1017.3 L623.0 1017.3 L624.0 1017.3 L625.0 1017.3 L626.0 1017.3 L627.0 1017.3 L628.0 1017.3 L629.0 1017.3 L630.0 1017.3 L631.0 1017.3 L632.0 1017.3 L633.0 1017.3 L634.0 1017.3 L635.0 1017.3 L636.0 1017.3 L637.0 1017.3 L638.0 1017.3 L639.0 1017.3 L640.0 1017.3 L641.0 1017.3 L642.0 1017.3 L643.0 1017.3 L644.0 1017.3 L645.0 1017.3 L646.0 1017.3 L647.0 1017.3 L648.0 1017.3 L649.0 1017.3 L650.0 1017.3 L651.0 1017.4 L652.0 1017.4 L653.0 1017.4 L654.0 1017.4 L655.0 1017.4 L656.0 1017.4 L657.0 1017.4 L658.0 1017.4 L659.0 1017.4 L660.0 1017.4 L661.0 1017.4 L662.0 1017.4 L663.0 1017.4 L664.0 1017.4 L665.0 1017.4 L666.0 1017.4 L667.0 1017.4 L668.0 1017.4 L669.0 1017.4 L670.0 1017.4 L671.0 1017.4 L672.0 1017.4 L673.0 1017.4 L674.0 1017.4 L675.0 1017.4 L676.0 1017.4 L677.0 1017.4 L678.0 1017.4 L679.0 1017.4 L680.0 1017.4 L681.0 1017.4 L682.0 1017.4 L683.0 1017.4 L684.0 1017.4 L685.0 1017.4 L686.0 1017.4 L687.0 1017.4 L688.0 1017.4 L689.0 1017.4 L690.0 1017.4 L691.0 1017.4 L692.0 1017.4 L693.0 1017.4 L694.0 1017.4 L695.0 1017.4 L696.0 1017.4 L697.0 1017.4 L698.0 1017.4 L699.0 1017.4 L700.0 1017.4 L701.0 1017.4 L702.0 1017.4 L703.0 1017.4 L704.0 1017.4 L705.0 1017.4 L706.0 1017.4 L707.0 1017.4 L708.0 1017.4 L709.0 1017.4 L710.0 1017.4 L711.0 1017.4 L712.0 1017.4 L713.0 1017.4 L714.0 1017.4 L715.0 1017.4 L716.0 1017.4 L717.0 1017.4 L718.0 1017.4 L719.0 1017.4 L720.0 1017.4 L721.0 1017.4 L722.0 1017.4 L723.0 1017.4 L724.0 1017.4 L725.0 1017.4 L726.0 1017.4 L727.0 1017.4 L728.0 1017.4 L729.0 1017.5 L730.0 1017.5 L731.0 1017.5 L732.0 1017.5 L733.0 1017.5 L734.0 1017.5 L735.0 1017.5 L736.0 1017.5 L737.0 1017.5 L738.0 1017.5 L739.0 1017.5 L740.0 1017.5 L741.0 1017.5 L742.0 1017.5 L743.0 1017.5 L744.0 1017.5 L745.0 1017.5 L746.0 1017.5 L747.0 1017.5 L748.0 1017.5 L749.0 1017.5 L750.0 1017.5 L751.0 1017.5 L752.0 1017.5 L753.0 1017.5 L754.0 1017.5 L755.0 1017.5 L756.0 1017.5 L757.0 1017.5 L758.0 1017.5 L759.0 1017.5 L760.0 1017.5 L761.0 1017.5 L762.0 1017.5 L763.0 1017.5 L764.0 1017.5 L765.0 1017.5 L766.0 1017.5 L767.0 1017.5 L768.0 1017.5 L769.0 1017.5 L770.0 1017.5 L771.0 1017.5 L772.0 1017.5 L773.0 1017.5 L774.0 1017.5 L775.0 1017.5 L776.0 1017.5 L777.0 1017.5 L778.0 1017.5 L779.0 1017.5 L780.0 1017.5 L781.0 1017.5 L782.0 1017.5 L783.0 1017.5 L784.0 1017.5 L785.0 1017.5 L786.0 1017.5 L787.0 1017.5 L788.0 1017.5 L789.0 1017.5 L790.0 1017.5 L791.0 1017.5 L792.0 1017.5 L793.0 1017.5 L794.0 1017.5 L795.0 1017.5 L796.0 1017.5 L797.0 1017.5 L798.0 1017.5 L799.0 1017.5 L800.0 1017.5 L801.0 1017.5 L802.0 1017.5 L803.0 1017.5 L804.0 1017.5 L805.0 1017.5 L806.0 1017.5 L807.0 1017.5 L808.0 1017.5 L809.0 1017.5 L810.0 1017.5 L811.0 1017.5 L812.0 1017.5 L813.0 1017.5 L814.0 1017.5 L815.0 1017.5 L816.0 1017.5 L817.0 1017.5 L818.0 1017.5 L819.0 1017.5 L820.0 1017.5 L821.0 1017.5 L822.0 1017.5 L823.0 1017.5 L824.0 1017.5 L825.0 1017.5 L826.0 1017.5 L827.0 1017.5 L828.0 1017.5 L829.0 1017.5 L830.0 1017.5 L831.0 1017.5 L832.0 1017.5 L833.0 1017.5 L834.0 1017.5 L835.0 1017.5 L836.0 1017.5 L837.0 1017.5 L838.0 1017.5 L839.0 1017.5 L840.0 1017.5 L841.0 1017.5 L842.0 1017.5 L843.0 1017.5 L844.0 1017.5 L845.0 1017.5 L846.0 1017.5 L847.0 1017.5 L848.0 1017.5 L849.0 1017.5 L850.0 1017.5 L851.0 1017.5 L852.0 1017.5 L853.0 1017.5 L854.0 1017.5 L855.0 1017.5 L856.0 1017.5 L857.0 1017.5 L858.0 1017.5 L859.0 1017.5 L860.0 1017.5 L861.0 1017.5 L862.0 1017.5 L863.0 1017.5 L864.0 1017.5 L865.0 1017.5 L866.0 1017.5 L867.0 1017.5 L868.0 1017.5 L869.0 1017.5 L870.0 1017.5 L871.0 1017.5 L872.0 1017.5 L873.0 1017.5 L874.0 1017.5 L875.0 1017.5 L876.0 1017.5 L877.0 1017.5 L878.0 1017.5 L879.0 1017.5 L880.0 1017.5 L881.0 1017.5 L882.0 1017.5 L883.0 1017.5 L884.0 1017.5 L885.0 1017.5 L886.0 1017.5 L887.0 1017.5 L888.0 1017.5 L889.0 1017.5 L890.0 1017.5 L891.0 1017.5 L892.0 1017.5 L893.0 1017.5 L894.0 1017.5 L895.0 1017.5 L896.0 1017.5 L897.0 1017.5 L898.0 1017.5 L899.0 1017.5 L900.0 1017.5 L901.0 1017.5 L902.0 1017.5 L903.0 1017.5 L904.0 1017.5 L905.0 1017.5 L906.0 1017.5 L907.0 1017.5 L908.0 1017.5 L909.0 1017.5 L910.0 1017.5 L911.0 1017.5 L912.0 1017.5 L913.0 1017.5 L914.0 1017.5 L915.0 1017.5 L916.0 1017.5 L917.0 1017.5 L918.0 1017.5 L919.0 1017.5 L920.0 1017.5 L921.0 1017.5 L922.0 1017.5 L923.0 1017.5 L924.0 1017.5 L925.0 1017.5 L926.0 1017.5 L927.0 1017.5 L928.0 1017.5 L929.0 1017.5 L930.0 1017.5 L931.0 1017.5 L932.0 1017.5 L933.0 1017.5 L934.0 1017.5 L935.0 1017.5 L936.0 1017.5 L937.0 1017.5 L938.0 1017.5 L939.0 1017.5 L940.0 1017.5 L941.0 1017.5 L942.0 1017.5 L943.0 1017.5 L944.0 1017.5 L945.0 1017.5 L946.0 1017.5 L947.0 1017.5 L948.0 1017.5 L949.0 1017.5 L950.0 1017.5 L951.0 1017.5 L952.0 1017.5 L953.0 1017.5 L954.0 1017.5 L955.0 1017.5 L956.0 1017.5 L957.0 1017.5 L958.0 1017.5 L959.0 1017.5 L960.0 1017.5 L961.0 1017.5 L962.0 1017.5 L963.0 1017.5 L964.0 1017.5 L965.0 1017.5 L966.0 1017.5 L967.0 1017.5 L968.0 1017.5 L969.0 1017.5 L970.0 1017.5 L971.0 1017.5 L972.0 1017.5 L973.0 1017.5 L974.0 1017.5 L975.0 1017.5 L976.0 1017.5 L977.0 1017.5 L978.0 1017.5 L979.0 1017.5 L980.0 1017.5 L981.0 1017.6 L982.0 1017.6 L983.0 1017.6 L984.0 1017.6 L985.0 1017.6 L986.0 1017.6 L987.0 1017.6 L988.0 1017.6 L989.0 1017.6 L990.0 1017.6 L991.0 1017.6 L992.0 1017.6 L993.0 1017.6 L994.0 1017.6 L995.0 1017.6 L996.0 1017.6 L997.0 1017.6 L998.0 1017.6 L999.0 1017.6 L1000.0 1017.6 L1001.0 1017.6 L1002.0 1017.6 L1003.0 1017.6 L1004.0 1017.6 L1005.0 1017.6 L1006.0 1017.6 L1007.0 1017.6 L1008.0 1017.6 L1009.0 1017.6 L1010.0 1017.6 L1011.0 1017.6 L1012.0 1017.6 L1013.0 1017.6 L1014.0 1017.6 L1015.0 1017.6 L1016.0 1017.6 L1017.0 1017.6 L1018.0 1017.6 L1019.0 1017.6 L1020.0 1017.6 L1021.0 1017.6 L1022.0 1017.6 L1023.0 1017.6 L1024.0 1017.6 L1025.0 1017.6 L1026.0 1017.6 L1027.0 1017.6 L1028.0 1017.6 L1029.0 1017.6 L1030.0 1017.6 L1031.0 1017.6 L1032.0 1017.6 L1033.0 1017.6 L1034.0 1017.6 L1035.0 1017.6 L1036.0 1017.6 L1037.0 1017.6 L1038.0 1017.6 L1039.0 1017.6 L1040.0 1017.6 L1041.0 1017.6 L1042.0 1017.6 L1043.0 1017.6 L1044.0 1017.6 L1045.0 1017.6 L1046.0 1017.6 L1047.0 1017.6 L1048.0 1017.6 L1049.0 1017.6 L1050.0 1017.6 L1051.0 1017.6 L1052.0 1017.6 L1053.0 1017.6 L1054.0 1017.6 L1055.0 1017.6 L1056.0 1017.6 L1057.0 1017.6 L1058.0 1017.6 L1059.0 1017.6 L1060.0 1017.6 L1061.0 1017.6 L1062.0 1017.6 L1063.0 1017.6 L1064.0 1017.6 L1065.0 1017.6 L1066.0 1017.6 L1067.0 1017.6 L1068.0 1017.6 L1069.0 1017.6 L1070.0 1017.6 L1071.0 1017.6 L1072.0 1017.6 L1073.0 1017.6 L1074.0 1017.6 L1075.0 1017.6 L1076.0 1017.6 L1077.0 1017.6 L1078.0 1017.6 L1079.0 1017.6 L1080.0 1017.6 L1081.0 1017.6 L1082.0 1017.6 L1083.0 1017.6 L1084.0 1017.6 L1085.0 1017.6 L1086.0 1017.6 L1087.0 1017.6 L1088.0 1017.6 L1089.0 1017.6 L1090.0 1017.6 L1091.0 1017.6 L1092.0 1017.6 L1093.0 1017.6 L1094.0 1017.6 L1095.0 1017.6 L1096.0 1017.6 L1097.0 1017.6 L1098.0 1017.6 L1099.0 1017.6 L1100.0 1017.6 L1101.0 1017.6 L1102.0 1017.6 L1103.0 1017.6 L1104.0 1017.6 L1105.0 1017.6 L1106.0 1017.6 L1107.0 1017.6 L1108.0 1017.6 L1109.0 1017.6 L1110.0 1017.6 L1111.0 1017.6 L1112.0 1017.6 L1113.0 1017.6 L1114.0 1017.6 L1115.0 1017.6 L1116.0 1017.6 L1117.0 1017.6 L1118.0 1017.6 L1119.0 1017.6 L1120.0 1017.6 L1121.0 1017.6 L1122.0 1017.6 L1123.0 1017.6 L1124.0 1017.6 L1125.0 1017.6 L1126.0 1017.6 L1127.0 1017.6 L1128.0 1017.6 L1129.0 1017.6 L1130.0 1017.6 L1131.0 1017.6 L1132.0 1017.6 L1133.0 1017.6 L1134.0 1017.6 L1135.0 1017.6 L1136.0 1017.6 L1137.0 1017.6 L1138.0 1017.6 L1139.0 1017.6 L1140.0 1017.6 L1141.0 1017.6 L1142.0 1017.6 L1143.0 1017.6 L1143.5 1017.6"/>
<path stroke="#00ffff" d="M98.0 1017.2 L99.0 1017.2 L100.0 1017.2 L101.0 1017.2 L102.0 1017.2 L103.0 1017.2 L104.0 1017.2 L105.0 1017.2 L106.0 1017.2 L107.0 1017.2 L108.0 1017.2 L109.0 1017.2 L110.0 1017.2 L111.0 1017.2 L112.0 1017.2 L113.0 1017.2 L114.0 1017.2 L115.0 1017.2 L116.0 1017.2 L117.0 1017.2 L118.0 1017.2 L119.0 1017.2 L120.0 1017.2 L121.0 1017.2 L122.0 1017.2 L123.0 1017.2 L124.0 1017.2 L125.0 1017.2 L126.0 1017.2 L127.0 1017.2 L128.0 1017.2 L129.0 1017.1 L130.0 1017.1 L131.0 1017.1 L132.0 1017.1 L133.0 1017.1 L134.0 1017.1 L135.0 1017.1 L136.0 1017.1 L137.0 1017.1 L138.0 1017.1 L139.0 1017.1 L140.0 1017.1 L141.0 1017.1 L142.0 1017.1 L143.0 1017.1 L144.0 1017.1 L145.0 1017.1 L146.0 1017.1 L147.0 1017.1 L148.0 1017.1 L149.0 1017.1 L150.0 1017.1 L151.0 1017.1 L152.0 1017.1 L153.0 1017.1 L154.0 1017.1 L155.0 1017.1 L156.0 1017.1 L157.0 1017.1 L158.0 1017.1 L159.0 1017.0 L160.0 1017.0 L161.0 1017.0 L162.0 1017.0 L163.0 1017.0 L164.0 1017.0 L165.0 1017.0 L166.0 1017.0 L167.0 1017.0 L168.0 1017.0 L169.0 1017.0 L170.0 1017.0 L171.0 1017.0 L172.0 1017.0 L173.0 1017.0 L174.0 1017.0 L175.0 1017.0 L176.0 1017.0 L177.0 1017.0 L178.0 1017.0 L179.0 1017.0 L180.0 1017.0 L181.0 1017.0 L182.0 1017.0 L183.0 1016.9 L184.0 1016.9 L185.0 1016.9 L186.0 1016.9 L187.0 1016.9 L188.0 1016.9 L189.0 1016.9 L190.0 1016.9 L191.0 1016.9 L192.0 1016.9 L193.0 1016.9 L194.0 1016.9 L195.0 1016.9 L196.0 1016.9 L197.0 1016.9 L198.0 1016.9 L199.0 1016.9 L200.0 1016.9 L201.0 1016.8 L202.0 1016.8 L203.0 1016.8 L204.0 1016.8 L205.0 1016.8 L206.0 1016.8 L207.0 1016.8 L208.0 1016.8 L209.0 1016.8 L210.0 1016.8 L211.0 1016.8 L212.0 1016.8 L213.0 1016.8 L214.0 1016.8 L215.0 1016.8 L216.0 1016.7 L217.0 1016.7 L218.0 1016.7 L219.0 1016.7 L220.0 1016.7 L221.0 1016.7 L222.0 1016.7 L223.0 1016.7 L224.0 1016.7 L225.0 1016.7 L226.0 1016.7 L227.0 1016.7 L228.0 1016.6 L229.0 1016.6 L230.0 1016.6 L231.0 1016.6 L232.0 1016.6 L233.0 1016.6 L234.0 1016.6 L235.0 1016.6 L236.0 1016.6 L237.0 1016.6 L238.0 1016.6 L239.0 1016.5 L240.0 1016.5 L241.0 1016.5 L242.0 1016.5 L243.0 1016.5 L244.0 1016.5 L245.0 1016.5 L246.0 1016.5 L247.0 1016.5 L248.0 1016.5 L249.0 1016.4 L250.0 1016.4 L251.0 1016.4 L252.0 1016.4 L253.0 1016.4 L254.0 1016.4 L255.0 1016.4 L256.0 1016.4 L257.0 1016.3 L258.0 1016.3 L259.0 1016.3 L260.0 1016.3 L261.0 1016.3 L262.0 1016.3 L263.0 1016.3 L264.0 1016.2 L265.0 1016.2 L266.0 1016.2 L267.0 1016.2 L268.0 1016.2 L269.0 1016.2 L270.0 1016.2 L271.0 1016.1 L272.0 1016.1 L273.0 1016.1 L274.0 1016.1 L275.0 1016.1 L276.0 1016.0 L277.0 1016.0 L278.0 1016.0 L279.0 1016.0 L280.0 1016.0 L281.0 1016.0 L282.0 1015.9 L283.0 1015.9 L284.0 1015.9 L285.0 1015.9 L286.0 1015.9 L287.0 1015.8 L288.0 1015.8 L289.0 1015.8 L290.0 1015.8 L291.0 1015.7 L292.0 1015.7 L293.0 1015.7 L294.0 1015.7 L295.0 1015.6 L296.0 1015.6 L297.0 1015.6 L298.0 1015.6 L299.0 1015.5 L300.0 1015.5 L301.0 1015.5 L302.0 1015.5 L303.0 1015.4 L304.0 1015.4 L305.0 1015.4 L306.0 1015.3 L307.0 1015.3 L308.0 1015.3 L309.0 1015.2 L310.0 1015.2 L311.0 1015.2 L312.0 1015.1 L313.0 1015.1 L314.0 1015.1 L315.0 1015.0 L316.0 1015.0 L317.0 1014.9 L318.0 1014.9 L319.0 1014.9 L320.0 1014.8 L321.0 1014.8 L322.0 1014.7 L323.0 1014.7 L324.0 1014.6 L325.0 1014.6 L326.0 1014.5 L327.0 1014.5 L328.0 1014.4 L329.0 1014.4 L330.0 1014.3 L331.0 1014.3 L332.0 1014.2 L333.0 1014.2 L334.0 1014.1 L335.0 1014.1 L336.0 1014.0 L337.0 1013.9 L338.0 1013.9 L339.0 1013.8 L340.0 1013.7 L341.0 1013.7 L342.0 1013.6 L343.0 1013.5 L344.0 1013.4 L345.0 1013.4 L346.0 1013.3 L347.0 1013.2 L348.0 1013.1 L349.0 1013.0 L350.0 1012.9 L351.0 1012.8 L352.0 1012.7 L353.0 1012.6 L354.0 1012.5 L355.0 1012.4 L356.0 1012.3 L357.0 1012.2 L358.0 1012.1 L359.0 1011.9 L360.0 1011.8 L361.0 1011.7 L362.0 1011.5 L363.0 1011.4 L364.0 1011.2 L365.0 1011.0 L366.0 1010.9 L367.0 1010.7 L368.0 1010.5 L369.0 1010.3 L370.0 1010.1 L371.0 1009.9 L372.0 1009.6 L373.0 1009.4 L374.0 1009.1 L375.0 1008.8 L376.0 1008.5 L377.0 1008.2 L378.0 1007.9 L379.0 1007.5 L380.0 1007.1 L381.0 1006.7 L382.0 1006.3 L383.0 1005.8 L384.0 1005.3 L385.0 1004.8 L386.0 1004.2 L387.0 1003.6 L388.0 1003.0 L389.0 1002.3 L390.0 1001.6 L391.0 1000.9 L392.0 1000.0 L393.0 999.2 L394.0 998.3 L395.0 997.3 L396.0 996.3 L397.0 995.2 L398.0 994.0 L399.0 992.8 L400.0 991.6 L401.0 990.2 L402.0 988.8 L403.0 987.3 L404.0 985.7 L405.0 984.1 L406.0 982.4 L407.0 980.6 L408.0 978.7 L409.0 976.8 L410.0 974.8 L411.0 972.7 L412.0 970.5 L413.0 968.3 L414.0 966.0 L415.0 963.6 L416.0 961.1 L417.0 958.6 L418.0 956.1 L419.0 953.4 L420.0 950.7 L421.0 948.0 L422.0 945.3 L423.0 942.5 L424.0 939.7 L425.0 936.9 L426.0 934.0 L427.0 931.2 L428.0 928.4 L429.0 925.7 L430.0 923.0 L431.0 920.3 L432.0 917.8 L433.0 915.3 L434.0 912.9 L435.0 910.7 L436.0 908.7 L437.0 906.7 L438.0 905.0 L439.0 903.5 L440.0 902.2 L441.0 901.1 L442.0 900.3 L443.0 899.7 L444.0 899.4 L445.0 899.3 L446.0 899.5 L447.0 899.9 L448.0 900.7 L449.0 901.6 L450.0 902.8 L451.0 904.2 L452.0 905.8 L453.0 907.6 L454.0 909.6 L455.0 911.7 L456.0 914.0 L457.0 916.4 L458.0 918.9 L459.0 921.6 L460.0 924.2 L461.0 927.0 L462.0 929.7 L463.0 932.5 L464.0 935.3 L465.0 938.2 L466.0 941.0 L467.0 943.8 L468.0 946.6 L469.0 949.3 L470.0 952.0 L471.0 954.7 L472.0 957.3 L473.0 959.8 L474.0 962.3 L475.0 964.7 L476.0 967.1 L477.0 969.3 L478.0 971.6 L479.0 973.7 L480.0 975.7 L481.0 977.7 L482.0 979.6 L483.0 981.5 L484.0 983.2 L485.0 984.9 L486.0 986.5 L487.0 988.0 L488.0 989.5 L489.0 990.8 L490.0 992.2 L491.0 993.4 L492.0 994.6 L493.0 995.7 L494.0 996.8 L495.0 997.8 L496.0 998.7 L497.0 999.6 L498.0 1000.4 L499.0 1001.2 L500.0 1002.0 L501.0 1002.7 L502.0 1003.3 L503.0 1003.9 L504.0 1004.5 L505.0 1005.0 L506.0 1005.6 L507.0 1006.0 L508.0 1006.5 L509.0 1006.9 L510.0 1007.3 L511.0 1007.7 L512.0 1008.0 L513.0 1008.4 L514.0 1008.7 L515.0 1009.0 L516.0 1009.2 L517.0 1009.5 L518.0 1009.7 L519.0 1010.0 L520.0 1010.2 L521.0 1010.4 L522.0 1010.6 L523.0 1010.8 L524.0 1011.0 L525.0 1011.1 L526.0 1011.3 L527.0 1011.4 L528.0 1011.6 L529.0 1011.7 L530.0 1011.9 L531.0 1012.0 L532.0 1012.1 L533.0 1012.2 L534.0 1012.4 L535.0 1012.5 L536.0 1012.6 L537.0 1012.7 L538.0 1012.8 L539.0 1012.9 L540.0 1013.0 L541.0 1013.1 L542.0 1013.1 L543.0 1013.2 L544.0 1013.3 L545.0 1013.4 L546.0 1013.5 L547.0 1013.6 L548.0 1013.6 L549.0 1013.7 L550.0 1013.8 L551.0 1013.8 L552.0 1013.9 L553.0 1014.0 L554.0 1014.0 L555.0 1014.1 L556.0 1014.1 L557.0 1014.2 L558.0 1014.3 L559.0 1014.3 L560.0 1014.4 L561.0 1014.4 L562.0 1014.5 L563.0 1014.5 L564.0 1014.6 L565.0 1014.6 L566.0 1014.7 L567.0 1014.7 L568.0 1014.8 L569.0 1014.8 L570.0 1014.8 L571.0 1014.9 L572.0 1014.9 L573.0 1015.0 L574.0 1015.0 L575.0 1015.0 L576.0 1015.1 L577.0 1015.1 L578.0 1015.1 L579.0 1015.2 L580.0 1015.2 L581.0 1015.3 L582.0 1015.3 L583.0 1015.3 L584.0 1015.3 L585.0 1015.4 L586.0 1015.4 L587.0 1015.4 L588.0 1015.5 L589.0 1015.5 L590.0 1015.5 L591.0 1015.6 L592.0 1015.6 L593.0 1015.6 L594.0 1015.6 L595.0 1015.7 L596.0 1015.7 L597.0 1015.7 L598.0 1015.7 L599.0 1015.8 L600.0 1015.8 L601.0 1015.8 L602.0 1015.8 L603.0 1015.8 L604.0 1015.9 L605.0 1015.9 L606.0 1015.9 L607.0 1015.9 L608.0 1015.9 L609.0 1016.0 L610.0 1016.0 L611.0 1016.0 L612.0 1016.0 L613.0 1016.0 L614.0 1016.1 L615.0 1016.1 L616.0 1016.1 L617.0 1016.1 L618.0 1016.1 L619.0 1016.1 L620.0 1016.2 L621.0 1016.2 L622.0 1016.2 L623.0 1016.2 L624.0 1016.2 L625.0 1016.2 L626.0 1016.3 L627.0 1016.3 L628.0 1016.3 L629.0 1016.3 L630.0 1016.3 L631.0 1016.3 L632.0 1016.3 L633.0 1016.3 L634.0 1016.4 L635.0 1016.4 L636.0 1016.4 L637.0 1016.4 L638.0 1016.4 L639.0 1016.4 L640.0 1016.4 L641.0 1016.4 L642.0 1016.5 L643.0 1016.5 L644.0 1016.5 L645.0 1016.5 L646.0 1016.5 L647.0 1016.5 L648.0 1016.5 L649.0 1016.5 L650.0 1016.5 L651.0 1016.6 L652.0 1016.6 L653.0 1016.6 L654.0 1016.6 L655.0 1016.6 L656.0 1016.6 L657.0 1016.6 L658.0 1016.6 L659.0 1016.6 L660.0 1016.6 L661.0 1016.6 L662.0 1016.7 L663.0 1016.7 L664.0 1016.7 L665.0 1016.7 L666.0 1016.7 L667.0 1016.7 L668.0 1016.7 L669.0 1016.7 L670.0 1016.7 L671.0 1016.7 L672.0 1016.7 L673.0 1016.7 L674.0 1016.7 L675.0 1016.8 L676.0 1016.8 L677.0 1016.8 L678.0 1016.8 L679.0 1016.8 L680.0 1016.8 L681.0 1016.8 L682.0 1016.8 L683.0 1016.8 L684.0 1016.8 L685.0 1016.8 L686.0 1016.8 L687.0 1016.8 L688.0 1016.8 L689.0 1016.8 L690.0 1016.9 L691.0 1016.9 L692.0 1016.9 L693.0 1016.9 L694.0 1016.9 L695.0 1016.9 L696.0 1016.9 L697.0 1016.9 L698.0 1016.9 L699.0 1016.9 L700.0 1016.9 L701.0 1016.9 L702.0 1016.9 L703.0 1016.9 L704.0 1016.9 L705.0 1016.9 L706.0 1016.9 L707.0 1016.9 L708.0 1017.0 L709.0 1017.0 L710.0 1017.0 L711.0 1017.0 L712.0 1017.0 L713.0 1017.0 L714.0 1017.0 L715.0 1017.0 L716.0 1017.0 L717.0 1017.0 L718.0 1017.0 L719.0 1017.0 L720.0 1017.0 L721.0 1017.0 L722.0 1017.0 L723.0 1017.0 L724.0 1017.0 L725.0 1017.0 L726.0 1017.0 L727.0 1017.0 L728.0 1017.0 L729.0 1017.0 L730.0 1017.0 L731.0 1017.1 L732.0 1017.1 L733.0 1017.1 L734.0 1017.1 L735.0 1017.1 L736.0 1017.1 L737.0 1017.1 L738.0 1017.1 L739.0 1017.1 L740.0 1017.1 L741.0 1017.1 L742.0 1017.1 L743.0 1017.1 L744.0 1017.1 L745.0 1017.1 L746.0 1017.1 L747.0 1017.1 L748.0 1017.1 L749.0 1017.1 L750.0 1017.1 L751.0 1017.1 L752.0 1017.1 L753.0 1017.1 L754.0 1017.1 L755.0 1017.1 L756.0 1017.1 L757.0 1017.1 L758.0 1017.1 L759.0 1017.1 L760.0 1017.1 L761.0 1017.1 L762.0 1017.2 L763.0 1017.2 L764.0 1017.2 L765.0 1017.2 L766.0 1017.2 L767.0 1017.2 L768.0 1017.2 L769.0 1017.2 L770.0 1017.2 L771.0 1017.2 L772.0 1017.2 L773.0 1017.2 L774.0 1017.2 L775.0 1017.2 L776.0 1017.2 L777.0 1017.2 L778.0 1017.2 L779.0 1017.2 L780.0 1017.2 L781.0 1017.2 L782.0 1017.2 L783.0 1017.2 L784.0 1017.2 L785.0 1017.2 L786.0 1017.2 L787.0 1017.2 L788.0 1017.2 L789.0 1017.2 L790.0 1017.2 L791.0 1017.2 L792.0 1017.2 L793.0 1017.2 L794.0 1017.2 L795.0 1017.2 L796.0 1017.2 L797.0 1017.2 L798.0 1017.2 L799.0 1017.2 L800.0 1017.2 L801.0 1017.2 L802.0 1017.2 L803.0 1017.2 L804.0 1017.3 L805.0 1017.3 L806.0 1017.3 L807.0 1017.3 L808.0 1017.3 L809.0 1017.3 L810.0 1017.3 L811.0 1017.3 L812.0 1017.3 L813.0 1017.3 L814.0 1017.3 L815.0 1017.3 L816.0 1017.3 L817.0 1017.3 L818.0 1017.3 L819.0 1017.3 L820.0 1017.3 L821.0 1017.3 L822.0 1017.3 L823.0 1017.3 L824.0 1017.3 L825.0 1017.3 L826.0 1017.3 L827.0 1017.3 L828.0 1017.3 L829.0 1017.3 L830.0 1017.3 L831.0 1017.3 L832.0 1017.3 L833.0 1017.3 L834.0 1017.3 L835.0 1017.3 L836.0 1017.3 L837.0 1017.3 L838.0 1017.3 L839.0 1017.3 L840.0 1017.3 L841.0 1017.3 L842.0 1017.3 L843.0 1017.3 L844.0 1017.3 L845.0 1017.3 L846.0 1017.3 L847.0 1017.3 L848.0 1017.3 L849.0 1017.3 L850.0 1017.3 L851.0 1017.3 L852.0 1017.3 L853.0 1017.3 L854.0 1017.3 L855.0 1017.3 L856.0 1017.3 L857.0 1017.3 L858.0 1017.3 L859.0 1017.3 L860.0 1017.3 L861.0 1017.3 L862.0 1017.3 L863.0 1017.3 L864.0 1017.3 L865.0 1017.3 L866.0 1017.3 L867.0 1017.3 L868.0 1017.3 L869.0 1017.3 L870.0 1017.4 L871.0 1017.4 L872.0 1017.4 L873.0 1017.4 L874.0 1017.4 L875.0 1017.4 L876.0 1017.4 L877.0 1017.4 L878.0 1017.4 L879.0 1017.4 L880.0 1017.4 L881.0 1017.4 L882.0 1017.4 L883.0 1017.4 L884.0 1017.4 L885.0 1017.4 L886.0 1017.4 L887.0 1017.4 L888.0 1017.4 L889.0 1017.4 L890.0 1017.4 L891.0 1017.4 L892.0 1017.4 L893.0 1017.4 L894.0 1017.4 L895.0 1017.4 L896.0 1017.4 L897.0 1017.4 L898.0 1017.4 L899.0 1017.4 L900.0 1017.4 L901.0 1017.4 L902.0 1017.4 L903.0 1017.4 L904.0 1017.4 L905.0 1017.4 L906.0 1017.4 L907.0 1017.4 L908.0 1017.4 L909.0 1017.4 L910.0 1017.4 L911.0 1017.4 L912.0 1017.4 L913.0 1017.4 L914.0 1017.4 L915.0 1017.4 L916.0 1017.4 L917.0 1017.4 L918.0 1017.4 L919.0 1017.4 L920.0 1017.4 L921.0 1017.4 L922.0 1017.4 L923.0 1017.4 L924.0 1017.4 L925.0 1017.4 L926.0 1017.4 L927.0 1017.4 L928.0 1017.4 L929.0 1017.4 L930.0 1017.4 L931.0 1017.4 L932.0 1017.4 L933.0 1017.4 L934.0 1017.4 L935.0 1017.4 L936.0 1017.4 L937.0 1017.4 L938.0 1017.4 L939.0 1017.4 L940.0 1017.4 L941.0 1017.4 L942.0 1017.4 L943.0 1017.4 L944.0 1017.4 L945.0 1017.4 L946.0 1017.4 L947.0 1017.4 L948.0 1017.4 L949.0 1017.4 L950.0 1017.4 L951.0 1017.4 L952.0 1017.4 L953.0 1017.4 L954.0 1017.4 L955.0 1017.4 L956.0 1017.4 L957.0 1017.4 L958.0 1017.4 L959.0 1017.4 L960.0 1017.4 L961.0 1017.4 L962.0 1017.4 L963.0 1017.4 L964.0 1017.4 L965.0 1017.4 L966.0 1017.4 L967.0 1017.4 L968.0 1017.4 L969.0 1017.4 L970.0 1017.4 L971.0 1017.4 L972.0 1017.4 L973.0 1017.4 L974.0 1017.4 L975.0 1017.4 L976.0 1017.4 L977.0 1017.4 L978.0 1017.4 L979.0 1017.4 L980.0 1017.4 L981.0 1017.4 L982.0 1017.4 L983.0 1017.4 L984.0 1017.4 L985.0 1017.4 L986.0 1017.4 L987.0 1017.4 L988.0 1017.4 L989.0 1017.4 L990.0 1017.4 L991.0 1017.4 L992.0 1017.4 L993.0 1017.4 L994.0 1017.4 L995.0 1017.5 L996.0 1017.5 L997.0 1017.5 L998.0 1017.5 L999.0 1017.5 L1000.0 1017.5 L1001.0 1017.5 L1002.0 1017.5 L1003.0 1017.5 L1004.0 1017.5 L1005.0 1017.5 L1006.0 1017.5 L1007.0 1017.5 L1008.0 1017.5 L1009.0 1017.5 L1010.0 1017.5 L1011.0 1017.5 L1012.0 1017.5 L1013.0 1017.5 L1014.0 1017.5 L1015.0 1017.5 L1016.0 1017.5 L1017.0 1017.5 L1018.0 1017.5 L1019.0 1017.5 L1020.0 1017.5 L1021.0 1017.5 L1022.0 1017.5 L1023.0 1017.5 L1024.0 1017.5 L1025.0 1017.5 L1026.0 1017.5 L1027.0 1017.5 L1028.0 1017.5 L1029.0 1017.5 L1030.0 1017.5 L1031.0 1017.5 L1032.0 1017.5 L1033.0 1017.5 L1034.0 1017.5 L1035.0 1017.5 L1036.0 1017.5 L1037.0 1017.5 L1038.0 1017.5 L1039.0 1017.5 L1040.0 1017.5 L1041.0 1017.5 L1042.0 1017.5 L1043.0 1017.5 L1044.0 1017.5 L1045.0 1017.5 L1046.0 1017.5 L1047.0 1017.5 L1048.0 1017.5 L1049.0 1017.5 L1050.0 1017.5 L1051.0 1017.5 L1052.0 1017.5 L1053.0 1017.5 L1054.0 1017.5 L1055.0 1017.5 L1056.0 1017.5 L1057.0 1017.5 L1058.0 1017.5 L1059.0 1017.5 L1060.0 1017.5 L1061.0 1017.5 L1062.0 1017.5 L1063.0 1017.5 L1064.0 1017.5 L1065.0 1017.5 L1066.0 1017.5 L1067.0 1017.5 L1068.0 1017.5 L1069.0 1017.5 L1070.0 1017.5 L1071.0 1017.5 L1072.0 1017.5 L1073.0 1017.5 L1074.0 1017.5 L1075.0 1017.5 L1076.0 1017.5 L1077.0 1017.5 L1078.0 1017.5 L1079.0 1017.5 L1080.0 1017.5 L1081.0 1017.5 L1082.0 1017.5 L1083.0 1017.5 L1084.0 1017.5 L1085.0 1017.5 L1086.0 1017.5 L1087.0 1017.5 L1088.0 1017.5 L1089.0 1017.5 L1090.0 1017.5 L1091.0 1017.5 L1092.0 1017.5 L1093.0 1017.5 L1094.0 1017.5 L1095.0 1017.5 L1096.0 1017.5 L1097.0 1017.5 L1098.0 1017.5 L1099.0 1017.5 L1100.0 1017.5 L1101.0 1017.5 L1102.0 1017.5 L1103.0 1017.5 L1104.0 1017.5 L1105.0 1017.5 L1106.0 1017.5 L1107.0 1017.5 L1108.0 1017.5 L1109.0 1017.5 L1110.0 1017.5 L1111.0 1017.5 L1112.0 1017.5 L1113.0 1017.5 L1114.0 1017.5 L1115.0 1017.5 L1116.0 1017.5 L1117.0 1017.5 L1118.0 1017.5 L1119.0 1017.5 L1120.0 1017.5 L1121.0 1017.5 L1122.0 1017.5 L1123.0 1017.5 L1124.0 1017.5 L1125.0 1017.5 L1126.0 1017.5 L1127.0 1017.5 L1128.0 1017.5 L1129.0 1017.5 L1130.0 1017.5 L1131.0 1017.5 L1132.0 1017.5 L1133.0 1017.5 L1134.0 1017.5 L1135.0 1017.5 L1136.0 1017.5 L1137.0 1017.5 L1138.0 1017.5 L1139.0 1017.5 L1140.0 1017.5 L1141.0 1017.5 L1142.0 1017.5 L1143.0 1017.5 L1143.5 1017.5"/>
<path stroke="#ff00ff" d="M98.0 1017.6 L99.0 1017.6 L100.0 1017.6 L101.0 1017.6 L102.0 1017.6 L103.0 1017.6 L104.0 1017.6 L105.0 1017.6 L106.0 1017.6 L107.0 1017.6 L108.0 1017.6 L109.0 1017.6 L110.0 1017.6 L111.0 1017.6 L112.0 1017.6 L113.0 1017.6 L114.0 1017.6 L115.0 1017.6 L116.0 1017.6 L117.0 1017.6 L118.0 1017.6 L119.0 1017.6 L120.0 1017.6 L121.0 1017.6 L122.0 1017.6 L123.0 1017.6 L124.0 1017.6 L125.0 1017.6 L126.0 1017.6 L127.0 1017.6 L128.0 1017.6 L129.0 1017.6 L130.0 1017.6 L131.0 1017.6 L132.0 1017.6 L133.0 1017.6 L134.0 1017.6 L135.0 1017.6 L136.0 1017.6 L137.0 1017.6 L138.0 1017.6 L139.0 1017.6 L140.0 1017.6 L141.0 1017.6 L142.0 1017.6 L143.0 1017.6 L144.0 1017.6 L145.0 1017.6 L146.0 1017.6 L147.0 1017.6 L148.0 1017.6 L149.0 1017.6 L150.0 1017.6 L151.0 1017.6 L152.0 1017.6 L153.0 1017.6 L154.0 1017.5 L155.0 1017.5 L156.0 1017.5 L157.0 1017.5 L158.0 1017.5 L159.0 1017.5 L160.0 1017.5 L161.0 1017.5 L162.0 1017.5 L163.0 1017.5 L164.0 1017.5 L165.0 1017.5 L166.0 1017.5 L167.0 1017.5 L168.0 1017.5 L169.0 1017.5 L170.0 1017.5 L171.0 1017.5 L172.0 1017.5 L173.0 1017.5 L174.0 1017.5 L175.0 1017.5 L176.0 1017.5 L177.0 1017.5 L178.0 1017.5 L179.0 1017.5 L180.0 1017.5 L181.0 1017.5 L182.0 1017.4 L183.0 1017.4 L184.0 1017.4 L185.0 1017.4 L186.0 1017.4 L187.0 1017.4 L188.0 1017.4 L189.0 1017.4 L190.0 1017.4 L191.0 1017.4 L192.0 1017.4 L193.0 1017.4 L194.0 1017.4 L195.0 1017.4 L196.0 1017.3 L197.0 1017.3 L198.0 1017.3 L199.0 1017.3 L200.0 1017.3 L201.0 1017.3 L202.0 1017.3 L203.0 1017.3 L204.0 1017.3 L205.0 1017.2 L206.0 1017.2 L207.0 1017.2 L208.0 1017.2 L209.0 1017.2 L210.0 1017.2 L211.0 1017.2 L212.0 1017.1 L213.0 1017.1 L214.0 1017.1 L215.0 1017.1 L216.0 1017.1 L217.0 1017.1 L218.0 1017.0 L219.0 1017.0 L220.0 1017.0 L221.0 1017.0 L222.0 1017.0 L223.0 1016.9 L224.0 1016.9 L225.0 1016.9 L226.0 1016.9 L227.0 1016.9 L228.0 1016.8 L229.0 1016.8 L230.0 1016.8 L231.0 1016.8 L232.0 1016.7 L233.0 1016.7 L234.0 1016.7 L235.0 1016.6 L236.0 1016.6 L237.0 1016.6 L238.0 1016.5 L239.0 1016.5 L240.0 1016.5 L241.0 1016.4 L242.0 1016.4 L243.0 1016.4 L244.0 1016.3 L245.0 1016.3 L246.0 1016.3 L247.0 1016.2 L248.0 1016.2 L249.0 1016.1 L250.0 1016.1 L251.0 1016.0 L252.0 1016.0 L253.0 1015.9 L254.0 1015.9 L255.0 1015.8 L256.0 1015.8 L257.0 1015.7 L258.0 1015.7 L259.0 1015.6 L260.0 1015.6 L261.0 1015.5 L262.0 1015.4 L263.0 1015.4 L264.0 1015.3 L265.0 1015.3 L266.0 1015.2 L267.0 1015.1 L268.0 1015.0 L269.0 1015.0 L270.0 1014.9 L271.0 1014.8 L272.0 1014.7 L273.0 1014.7 L274.0 1014.6 L275.0 1014.5 L276.0 1014.4 L277.0 1014.3 L278.0 1014.2 L279.0 1014.2 L280.0 1014.1 L281.0 1014.0 L282.0 1013.9 L283.0 1013.8 L284.0 1013.7 L285.0 1013.6 L286.0 1013.5 L287.0 1013.4 L288.0 1013.2 L289.0 1013.1 L290.0 1013.0 L291.0 1012.9 L292.0 1012.8 L293.0 1012.7 L294.0 1012.5 L295.0 1012.4 L296.0 1012.3 L297.0 1012.1 L298.0 1012.0 L299.0 1011.9 L300.0 1011.7 L301.0 1011.6 L302.0 1011.4 L303.0 1011.3 L304.0 1011.1 L305.0 1011.0 L306.0 1010.8 L307.0 1010.6 L308.0 1010.5 L309.0 1010.3 L310.0 1010.1 L311.0 1010.0 L312.0 1009.8 L313.0 1009.6 L314.0 1009.4 L315.0 1009.2 L316.0 1009.0 L317.0 1008.8 L318.0 1008.6 L319.0 1008.4 L320.0 1008.2 L321.0 1008.0 L322.0 1007.8 L323.0 1007.6 L324.0 1007.4 L325.0 1007.1 L326.0 1006.9 L327.0 1006.7 L328.0 1006.5 L329.0 1006.2 L330.0 1006.0 L331.0 1005.7 L332.0 1005.5 L333.0 1005.2 L334.0 1005.0 L335.0 1004.7 L336.0 1004.4 L337.0 1004.2 L338.0 1003.9 L339.0 1003.6 L340.0 1003.3 L341.0 1003.0 L342.0 1002.8 L343.0 1002.5 L344.0 1002.2 L345.0 1001.9 L346.0 1001.6 L347.0 1001.2 L348.0 1000.9 L349.0 1000.6 L350.0 1000.3 L351.0 1000.0 L352.0 999.6 L353.0 999.3 L354.0 998.9 L355.0 998.6 L356.0 998.2 L357.0 997.9 L358.0 997.5 L359.0 997.2 L360.0 996.8 L361.0 996.4 L362.0 996.1 L363.0 995.7 L364.0 995.3 L365.0 994.9 L366.0 994.5 L367.0 994.1 L368.0 993.7 L369.0 993.3 L370.0 992.9 L371.0 992.5 L372.0 992.1 L373.0 991.7 L374.0 991.2 L375.0 990.8 L376.0 990.4 L377.0 989.9 L378.0 989.5 L379.0 989.1 L380.0 988.6 L381.0 988.2 L382.0 987.7 L383.0 987.2 L384.0 986.8 L385.0 986.3 L386.0 985.9 L387.0 985.4 L388.0 984.9 L389.0 984.4 L390.0 983.9 L391.0 983.5 L392.0 983.0 L393.0 982.5 L394.0 982.0 L395.0 981.5 L396.0 981.0 L397.0 980.5 L398.0 980.0 L399.0 979.4 L400.0 978.9 L401.0 978.4 L402.0 977.9 L403.0 977.4 L404.0 976.9 L405.0 976.3 L406.0 975.8 L407.0 975.3 L408.0 974.7 L409.0 974.2 L410.0 973.7 L411.0 973.1 L412.0 972.6 L413.0 972.1 L414.0 971.5 L415.0 971.0 L416.0 970.4 L417.0 969.9 L418.0 969.4 L419.0 968.8 L420.0 968.3 L421.0 967.7 L422.0 967.2 L423.0 966.6 L424.0 966.1 L425.0 965.5 L426.0 965.0 L427.0 964.4 L428.0 963.9 L429.0 963.3 L430.0 962.8 L431.0 962.2 L432.0 961.7 L433.0 961.1 L434.0 960.6 L435.0 960.0 L436.0 959.5 L437.0 959.0 L438.0 958.4 L439.0 957.9 L440.0 957.3 L441.0 956.8 L442.0 956.3 L443.0 955.8 L444.0 955.2 L445.0 954.7 L446.0 954.2 L447.0 953.7 L448.0 953.1 L449.0 952.6 L450.0 952.1 L451.0 951.6 L452.0 951.1 L453.0 950.6 L454.0 950.1 L455.0 949.6 L456.0 949.1 L457.0 948.6 L458.0 948.2 L459.0 947.7 L460.0 947.2 L461.0 946.7 L462.0 946.3 L463.0 945.8 L464.0 945.4 L465.0 944.9 L466.0 944.5 L467.0 944.0 L468.0 943.6 L469.0 943.2 L470.0 942.8 L471.0 942.4 L472.0 941.9 L473.0 941.5 L474.0 941.2 L475.0 940.8 L476.0 940.4 L477.0 940.0 L478.0 939.6 L479.0 939.3 L480.0 938.9 L481.0 938.6 L482.0 938.2 L483.0 937.9 L484.0 937.6 L485.0 937.3 L486.0 936.9 L487.0 936.6 L488.0 936.3 L489.0 936.1 L490.0 935.8 L491.0 935.5 L492.0 935.2 L493.0 935.0 L494.0 934.7 L495.0 934.5 L496.0 934.3 L497.0 934.1 L498.0 933.9 L499.0 933.6 L500.0 933.5 L501.0 933.3 L502.0 933.1 L503.0 932.9 L504.0 932.8 L505.0 932.6 L506.0 932.5 L507.0 932.3 L508.0 932.2 L509.0 932.1 L510.0 932.0 L511.0 931.9 L512.0 931.8 L513.0 931.8 L514.0 931.7 L515.0 931.6 L516.0 931.6 L517.0 931.6 L518.0 931.5 L519.0 931.5 L520.0 931.5 L521.0 931.5 L522.0 931.5 L523.0 931.5 L524.0 931.6 L525.0 931.6 L526.0 931.6 L527.0 931.7 L528.0 931.8 L529.0 931.9 L530.0 931.9 L531.0 932.0 L532.0 932.1 L533.0 932.3 L534.0 932.4 L535.0 932.5 L536.0 932.7 L537.0 932.8 L538.0 933.0 L539.0 933.1 L540.0 933.3 L541.0 933.5 L542.0 933.7 L543.0 933.9 L544.0 934.1 L545.0 934.3 L546.0 934.6 L547.0 934.8 L548.0 935.0 L549.0 935.3 L550.0 935.6 L551.0 935.8 L552.0 936.1 L553.0 936.4 L554.0 936.7 L555.0 937.0 L556.0 937.3 L557.0 937.6 L558.0 938.0 L559.0 938.3 L560.0 938.6 L561.0 939.0 L562.0 939.4 L563.0 939.7 L564.0 940.1 L565.0 940.5 L566.0 940.8 L567.0 941.2 L568.0 941.6 L569.0 942.0 L570.0 942.4 L571.0 942.9 L572.0 943.3 L573.0 943.7 L574.0 944.1 L575.0 944.6 L576.0 945.0 L577.0 945.5 L578.0 945.9 L579.0 946.4 L580.0 946.8 L581.0 947.3 L582.0 947.8 L583.0 948.3 L584.0 948.7 L585.0 949.2 L586.0 949.7 L587.0 950.2 L588.0 950.7 L589.0 951.2 L590.0 951.7 L591.0 952.2 L592.0 952.7 L593.0 953.3 L594.0 953.8 L595.0 954.3 L596.0 954.8 L597.0 955.3 L598.0 955.9 L599.0 956.4 L600.0 956.9 L601.0 957.5 L602.0 958.0 L603.0 958.5 L604.0 959.1 L605.0 959.6 L606.0 960.2 L607.0 960.7 L608.0 961.3 L609.0 961.8 L610.0 962.3 L611.0 962.9 L612.0 963.4 L613.0 964.0 L614.0 964.5 L615.0 965.1 L616.0 965.6 L617.0 966.2 L618.0 966.7 L619.0 967.3 L620.0 967.8 L621.0 968.4 L622.0 968.9 L623.0 969.5 L624.0 970.0 L625.0 970.6 L626.0 971.1 L627.0 971.6 L628.0 972.2 L629.0 972.7 L630.0 973.3 L631.0 973.8 L632.0 974.3 L633.0 974.9 L634.0 975.4 L635.0 975.9 L636.0 976.4 L637.0 977.0 L638.0 977.5 L639.0 978.0 L640.0 978.5 L641.0 979.0 L642.0 979.6 L643.0 980.1 L644.0 980.6 L645.0 981.1 L646.0 981.6 L647.0 982.1 L648.0 982.6 L649.0 983.1 L650.0 983.6 L651.0 984.0 L652.0 984.5 L653.0 985.0 L654.0 985.5 L655.0 986.0 L656.0 986.4 L657.0 986.9 L658.0 987.3 L659.0 987.8 L660.0 988.3 L661.0 988.7 L662.0 989.2 L663.0 989.6 L664.0 990.0 L665.0 990.5 L666.0 990.9 L667.0 991.3 L668.0 991.8 L669.0 992.2 L670.0 992.6 L671.0 993.0 L672.0 993.4 L673.0 993.8 L674.0 994.2 L675.0 994.6 L676.0 995.0 L677.0 995.4 L678.0 995.8 L679.0 996.1 L680.0 996.5 L681.0 996.9 L682.0 997.3 L683.0 997.6 L684.0 998.0 L685.0 998.3 L686.0 998.7 L687.0 999.0 L688.0 999.4 L689.0 999.7 L690.0 1000.0 L691.0 1000.4 L692.0 1000.7 L693.0 1001.0 L694.0 1001.3 L695.0 1001.6 L696.0 1001.9 L697.0 1002.2 L698.0 1002.5 L699.0 1002.8 L700.0 1003.1 L701.0 1003.4 L702.0 1003.7 L703.0 1004.0 L704.0 1004.2 L705.0 1004.5 L706.0 1004.8 L707.0 1005.0 L708.0 1005.3 L709.0 1005.5 L710.0 1005.8 L711.0 1006.0 L712.0 1006.3 L713.0 1006.5 L714.0 1006.7 L715.0 1007.0 L716.0 1007.2 L717.0 1007.4 L718.0 1007.6 L719.0 1007.9 L720.0 1008.1 L721.0 1008.3 L722.0 1008.5 L723.0 1008.7 L724.0 1008.9 L725.0 1009.1 L726.0 1009.3 L727.0 1009.5 L728.0 1009.6 L729.0 1009.8 L730.0 1010.0 L731.0 1010.2 L732.0 1010.3 L733.0 1010.5 L734.0 1010.7 L735.0 1010.8 L736.0 1011.0 L737.0 1011.2 L738.0 1011.3 L739.0 1011.5 L740.0 1011.6 L741.0 1011.7 L742.0 1011.9 L743.0 1012.0 L744.0 1012.2 L745.0 1012.3 L746.0 1012.4 L747.0 1012.6 L748.0 1012.7 L749.0 1012.8 L750.0 1012.9 L751.0 1013.0 L752.0 1013.2 L753.0 1013.3 L754.0 1013.4 L755.0 1013.5 L756.0 1013.6 L757.0 1013.7 L758.0 1013.8 L759.0 1013.9 L760.0 1014.0 L761.0 1014.1 L762.0 1014.2 L763.0 1014.3 L764.0 1014.4 L765.0 1014.4 L766.0 1014.5 L767.0 1014.6 L768.0 1014.7 L769.0 1014.8 L770.0 1014.8 L771.0 1014.9 L772.0 1015.0 L773.0 1015.1 L774.0 1015.1 L775.0 1015.2 L776.0 1015.3 L777.0 1015.3 L778.0 1015.4 L779.0 1015.5 L780.0 1015.5 L781.0 1015.6 L782.0 1015.6 L783.0 1015.7 L784.0 1015.7 L785.0 1015.8 L786.0 1015.9 L787.0 1015.9 L788.0 1016.0 L789.0 1016.0 L790.0 1016.0 L791.0 1016.1 L792.0 1016.1 L793.0 1016.2 L794.0 1016.2 L795.0 1016.3 L796.0 1016.3 L797.0 1016.3 L798.0 1016.4 L799.0 1016.4 L800.0 1016.5 L801.0 1016.5 L802.0 1016.5 L803.0 1016.6 L804.0 1016.6 L805.0 1016.6 L806.0 1016.6 L807.0 1016.7 L808.0 1016.7 L809.0 1016.7 L810.0 1016.8 L811.0 1016.8 L812.0 1016.8 L813.0 1016.8 L814.0 1016.9 L815.0 1016.9 L816.0 1016.9 L817.0 1016.9 L818.0 1017.0 L819.0 1017.0 L820.0 1017.0 L821.0 1017.0 L822.0 1017.0 L823.0 1017.1 L824.0 1017.1 L825.0 1017.1 L826.0 1017.1 L827.0 1017.1 L828.0 1017.1 L829.0 1017.2 L830.0 1017.2 L831.0 1017.2 L832.0 1017.2 L833.0 1017.2 L834.0 1017.2 L835.0 1017.2 L836.0 1017.2 L837.0 1017.3 L838.0 1017.3 L839.0 1017.3 L840.0 1017.3 L841.0 1017.3 L842.0 1017.3 L843.0 1017.3 L844.0 1017.3 L845.0 1017.3 L846.0 1017.4 L847.0 1017.4 L848.0 1017.4 L849.0 1017.4 L850.0 1017.4 L851.0 1017.4 L852.0 1017.4 L853.0 1017.4 L854.0 1017.4 L855.0 1017.4 L856.0 1017.4 L857.0 1017.4 L858.0 1017.4 L859.0 1017.4 L860.0 1017.5 L861.0 1017.5 L862.0 1017.5 L863.0 1017.5 L864.0 1017.5 L865.0 1017.5 L866.0 1017.5 L867.0 1017.5 L868.0 1017.5 L869.0 1017.5 L870.0 1017.5 L871.0 1017.5 L872.0 1017.5 L873.0 1017.5 L874.0 1017.5 L875.0 1017.5 L876.0 1017.5 L877.0 1017.5 L878.0 1017.5 L879.0 1017.5 L880.0 1017.5 L881.0 1017.5 L882.0 1017.5 L883.0 1017.5 L884.0 1017.5 L885.0 1017.5 L886.0 1017.5 L887.0 1017.5 L888.0 1017.6 L889.0 1017.6 L890.0 1017.6 L891.0 1017.6 L892.0 1017.6 L893.0 1017.6 L894.0 1017.6 L895.0 1017.6 L896.0 1017.6 L897.0 1017.6 L898.0 1017.6 L899.0 1017.6 L900.0 1017.6 L901.0 1017.6 L902.0 1017.6 L903.0 1017.6 L904.0 1017.6 L905.0 1017.6 L906.0 1017.6 L907.0 1017.6 L908.0 1017.6 L909.0 1017.6 L910.0 1017.6 L911.0 1017.6 L912.0 1017.6 L913.0 1017.6 L914.0 1017.6 L915.0 1017.6 L916.0 1017.6 L917.0 1017.6 L918.0 1017.6 L919.0 1017.6 L920.0 1017.6 L921.0 1017.6 L922.0 1017.6 L923.0 1017.6 L924.0 1017.6 L925.0 1017.6 L926.0 1017.6 L927.0 1017.6 L928.0 1017.6 L929.0 1017.6 L930.0 1017.6 L931.0 1017.6 L932.0 1017.6 L933.0 1017.6 L934.0 1017.6 L935.0 1017.6 L936.0 1017.6 L937.0 1017.6 L938.0 1017.6 L939.0 1017.6 L940.0 1017.6 L941.0 1017.6 L942.0 1017.6 L943.0 1017.6 L944.0 1017.6 L945.0 1017.6 L946.0 1017.6 L947.0 1017.6 L948.0 1017.6 L949.0 1017.6 L950.0 1017.6 L951.0 1017.6 L952.0 1017.6 L953.0 1017.6 L954.0 1017.6 L955.0 1017.6 L956.0 1017.6 L957.0 1017.6 L958.0 1017.6 L959.0 1017.6 L960.0 1017.6 L961.0 1017.6 L962.0 1017.6 L963.0 1017.6 L964.0 1017.6 L965.0 1017.6 L966.0 1017.6 L967.0 1017.6 L968.0 1017.6 L969.0 1017.6 L970.0 1017.6 L971.0 1017.6 L972.0 1017.6 L973.0 1017.6 L974.0 1017.6 L975.0 1017.6 L976.0 1017.6 L977.0 1017.6 L978.0 1017.6 L979.0 1017.6 L980.0 1017.6 L981.0 1017.6 L982.0 1017.6 L983.0 1017.6 L984.0 1017.6 L985.0 1017.6 L986.0 1017.6 L987.0 1017.6 L988.0 1017.6 L989.0 1017.6 L990.0 1017.6 L991.0 1017.6 L992.0 1017.6 L993.0 1017.6 L994.0 1017.6 L995.0 1017.6 L996.0 1017.6 L997.0 1017.6 L998.0 1017.6 L999.0 1017.6 L1000.0 1017.6 L1001.0 1017.6 L1002.0 1017.6 L1003.0 1017.6 L1004.0 1017.6 L1005.0 1017.6 L1006.0 1017.6 L1007.0 1017.6 L1008.0 1017.6 L1009.0 1017.6 L1010.0 1017.6 L1011.0 1017.6 L1012.0 1017.6 L1013.0 1017.6 L1014.0 1017.6 L1015.0 1017.6 L1016.0 1017.6 L1017.0 1017.6 L1018.0 1017.6 L1019.0 1017.6 L1020.0 1017.6 L1021.0 1017.6 L1022.0 1017.6 L1023.0 1017.6 L1024.0 1017.6 L1025.0 1017.6 L1026.0 1017.6 L1027.0 1017.6 L1028.0 1017.6 L1029.0 1017.6 L1030.0 1017.6 L1031.0 1017.6 L1032.0 1017.6 L1033.0 1017.6 L1034.0 1017.6 L1035.0 1017.6 L1036.0 1017.6 L1037.0 1017.6 L1038.0 1017.6 L1039.0 1017.6 L1040.0 1017.6 L1041.0 1017.6 L1042.0 1017.6 L1043.0 1017.6 L1044.0 1017.6 L1045.0 1017.6 L1046.0 1017.6 L1047.0 1017.6 L1048.0 1017.6 L1049.0 1017.6 L1050.0 1017.6 L1051.0 1017.6 L1052.0 1017.6 L1053.0 1017.6 L1054.0 1017.6 L1055.0 1017.6 L1056.0 1017.6 L1057.0 1017.6 L1058.0 1017.6 L1059.0 1017.6 L1060.0 1017.6 L1061.0 1017.6 L1062.0 1017.6 L1063.0 1017.6 L1064.0 1017.6 L1065.0 1017.6 L1066.0 1017.6 L1067.0 1017.6 L1068.0 1017.6 L1069.0 1017.6 L1070.0 1017.6 L1071.0 1017.6 L1072.0 1017.6 L1073.0 1017.6 L1074.0 1017.6 L1075.0 1017.6 L1076.0 1017.6 L1077.0 1017.6 L1078.0 1017.6 L1079.0 1017.6 L1080.0 1017.6 L1081.0 1017.6 L1082.0 1017.6 L1083.0 1017.6 L1084.0 1017.6 L1085.0 1017.6 L1086.0 1017.6 L1087.0 1017.6 L1088.0 1017.6 L1089.0 1017.6 L1090.0 1017.6 L1091.0 1017.6 L1092.0 1017.6 L1093.0 1017.6 L1094.0 1017.6 L1095.0 1017.6 L1096.0 1017.6 L1097.0 1017.6 L1098.0 1017.6 L1099.0 1017.6 L1100.0 1017.6 L1101.0 1017.6 L1102.0 1017.6 L1103.0 1017.6 L1104.0 1017.6 L1105.0 1017.6 L1106.0 1017.6 L1107.0 1017.6 L1108.0 1017.6 L1109.0 1017.6 L1110.0 1017.6 L1111.0 1017.6 L1112.0 1017.6 L1113.0 1017.6 L1114.0 1017.6 L1115.0 1017.6 L1116.0 1017.6 L1117.0 1017.6 L1118.0 1017.6 L1119.0 1017.6 L1120.0 1017.6 L1121.0 1017.6 L1122.0 1017.6 L1123.0 1017.6 L1124.0 1017.6 L1125.0 1017.6 L1126.0 1017.6 L1127.0 1017.6 L1128.0 1017.6 L1129.0 1017.6 L1130.0 1017.6 L1131.0 1017.6 L1132.0 1017.6 L1133.0 1017.6 L1134.0 1017.6 L1135.0 1017.6 L1136.0 1017.6 L1137.0 1017.6 L1138.0 1017.6 L1139.0 1017.6 L1140.0 1017.6 L1141.0 1017.6 L1142.0 1017.6 L1143.0 1017.6 L1143.5 1017.6"/>
<path stroke="#ff8000" d="M98.0 1017.4 L99.0 1017.4 L100.0 1017.4 L101.0 1017.4 L102.0 1017.4 L103.0 1017.4 L104.0 1017.3 L105.0 1017.3 L106.0 1017.3 L107.0 1017.3 L108.0 1017.3 L109.0 1017.3 L110.0 1017.3 L111.0 1017.3 L112.0 1017.3 L113.0 1017.3 L114.0 1017.3 L115.0 1017.3 L116.0 1017.3 L117.0 1017.3 L118.0 1017.3 L119.0 1017.3 L120.0 1017.3 L121.0 1017.3 L122.0 1017.3 L123.0 1017.3 L124.0 1017.3 L125.0 1017.3 L126.0 1017.3 L127.0 1017.3 L128.0 1017.3 L129.0 1017.3 L130.0 1017.3 L131.0 1017.3 L132.0 1017.3 L133.0 1017.3 L134.0 1017.3 L135.0 1017.3 L136.0 1017.3 L137.0 1017.3 L138.0 1017.3 L139.0 1017.3 L140.0 1017.3 L141.0 1017.3 L142.0 1017.3 L143.0 1017.3 L144.0 1017.3 L145.0 1017.3 L146.0 1017.3 L147.0 1017.3 L148.0 1017.3 L149.0 1017.3 L150.0 1017.3 L151.0 1017.3 L152.0 1017.3 L153.0 1017.3 L154.0 1017.3 L155.0 1017.3 L156.0 1017.3 L157.0 1017.3 L158.0 1017.3 L159.0 1017.3 L160.0 1017.3 L161.0 1017.3 L162.0 1017.3 L163.0 1017.3 L164.0 1017.3 L165.0 1017.3 L166.0 1017.3 L167.0 1017.3 L168.0 1017.3 L169.0 1017.3 L170.0 1017.3 L171.0 1017.3 L172.0 1017.3 L173.0 1017.3 L174.0 1017.3 L175.0 1017.3 L176.0 1017.3 L177.0 1017.3 L178.0 1017.3 L179.0 1017.3 L180.0 1017.3 L181.0 1017.3 L182.0 1017.3 L183.0 1017.3 L184.0 1017.3 L185.0 1017.3 L186.0 1017.3 L187.0 1017.3 L188.0 1017.2 L189.0 1017.2 L190.0 1017.2 L191.0 1017.2 L192.0 1017.2 L193.0 1017.2 L194.0 1017.2 L195.0 1017.2 L196.0 1017.2 L197.0 1017.2 L198.0 1017.2 L199.0 1017.2 L200.0 1017.2 L201.0 1017.2 L202.0 1017.2 L203.0 1017.2 L204.0 1017.2 L205.0 1017.2 L206.0 1017.2 L207.0 1017.2 L208.0 1017.2 L209.0 1017.2 L210.0 1017.2 L211.0 1017.2 L212.0 1017.2 L213.0 1017.2 L214.0 1017.2 L215.0 1017.2 L216.0 1017.2 L217.0 1017.2 L218.0 1017.2 L219.0 1017.2 L220.0 1017.2 L221.0 1017.2 L222.0 1017.2 L223.0 1017.2 L224.0 1017.2 L225.0 1017.2 L226.0 1017.2 L227.0 1017.2 L228.0 1017.2 L229.0 1017.2 L230.0 1017.2 L231.0 1017.2 L232.0 1017.2 L233.0 1017.2 L234.0 1017.2 L235.0 1017.2 L236.0 1017.2 L237.0 1017.2 L238.0 1017.2 L239.0 1017.2 L240.0 1017.2 L241.0 1017.2 L242.0 1017.1 L243.0 1017.1 L244.0 1017.1 L245.0 1017.1 L246.0 1017.1 L247.0 1017.1 L248.0 1017.1 L249.0 1017.1 L250.0 1017.1 L251.0 1017.1 L252.0 1017.1 L253.0 1017.1 L254.0 1017.1 L255.0 1017.1 L256.0 1017.1 L257.0 1017.1 L258.0 1017.1 L259.0 1017.1 L260.0 1017.1 L261.0 1017.1 L262.0 1017.1 L263.0 1017.1 L264.0 1017.1 L265.0 1017.1 L266.0 1017.1 L267.0 1017.1 L268.0 1017.1 L269.0 1017.1 L270.0 1017.1 L271.0 1017.1 L272.0 1017.1 L273.0 1017.1 L274.0 1017.1 L275.0 1017.1 L276.0 1017.1 L277.0 1017.1 L278.0 1017.1 L279.0 1017.1 L280.0 1017.1 L281.0 1017.0 L282.0 1017.0 L283.0 1017.0 L284.0 1017.0 L285.0 1017.0 L286.0 1017.0 L287.0 1017.0 L288.0 1017.0 L289.0 1017.0 L290.0 1017.0 L291.0 1017.0 L292.0 1017.0 L293.0 1017.0 L294.0 1017.0 L295.0 1017.0 L296.0 1017.0 L297.0 1017.0 L298.0 1017.0 L299.0 1017.0 L300.0 1017.0 L301.0 1017.0 L302.0 1017.0 L303.0 1017.0 L304.0 1017.0 L305.0 1017.0 L306.0 1017.0 L307.0 1017.0 L308.0 1017.0 L309.0 1017.0 L310.0 1017.0 L311.0 1016.9 L312.0 1016.9 L313.0 1016.9 L314.0 1016.9 L315.0 1016.9 L316.0 1016.9 L317.0 1016.9 L318.0 1016.9 L319.0 1016.9 L320.0 1016.9 L321.0 1016.9 L322.0 1016.9 L323.0 1016.9 L324.0 1016.9 L325.0 1016.9 L326.0 1016.9 L327.0 1016.9 L328.0 1016.9 L329.0 1016.9 L330.0 1016.9 L331.0 1016.9 L332.0 1016.9 L333.0 1016.9 L334.0 1016.8 L335.0 1016.8 L336.0 1016.8 L337.0 1016.8 L338.0 1016.8 L339.0 1016.8 L340.0 1016.8 L341.0 1016.8 L342.0 1016.8 L343.0 1016.8 L344.0 1016.8 L345.0 1016.8 L346.0 1016.8 L347.0 1016.8 L348.0 1016.8 L349.0 1016.8 L350.0 1016.8 L351.0 1016.8 L352.0 1016.8 L353.0 1016.7 L354.0 1016.7 L355.0 1016.7 L356.0 1016.7 L357.0 1016.7 L358.0 1016.7 L359.0 1016.7 L360.0 1016.7 L361.0 1016.7 L362.0 1016.7 L363.0 1016.7 L364.0 1016.7 L365.0 1016.7 L366.0 1016.7 L367.0 1016.7 L368.0 1016.7 L369.0 1016.6 L370.0 1016.6 L371.0 1016.6 L372.0 1016.6 L373.0 1016.6 L374.0 1016.6 L375.0 1016.6 L376.0 1016.6 L377.0 1016.6 L378.0 1016.6 L379.0 1016.6 L380.0 1016.6 L381.0 1016.6 L382.0 1016.6 L383.0 1016.5 L384.0 1016.5 L385.0 1016.5 L386.0 1016.5 L387.0 1016.5 L388.0 1016.5 L389.0 1016.5 L390.0 1016.5 L391.0 1016.5 L392.0 1016.5 L393.0 1016.5 L394.0 1016.5 L395.0 1016.4 L396.0 1016.4 L397.0 1016.4 L398.0 1016.4 L399.0 1016.4 L400.0 1016.4 L401.0 1016.4 L402.0 1016.4 L403.0 1016.4 L404.0 1016.4 L405.0 1016.3 L406.0 1016.3 L407.0 1016.3 L408.0 1016.3 L409.0 1016.3 L410.0 1016.3 L411.0 1016.3 L412.0 1016.3 L413.0 1016.3 L414.0 1016.2 L415.0 1016.2 L416.0 1016.2 L417.0 1016.2 L418.0 1016.2 L419.0 1016.2 L420.0 1016.2 L421.0 1016.2 L422.0 1016.2 L423.0 1016.1 L424.0 1016.1 L425.0 1016.1 L426.0 1016.1 L427.0 1016.1 L428.0 1016.1 L429.0 1016.1 L430.0 1016.0 L431.0 1016.0 L432.0 1016.0 L433.0 1016.0 L434.0 1016.0 L435.0 1016.0 L436.0 1016.0 L437.0 1015.9 L438.0 1015.9 L439.0 1015.9 L440.0 1015.9 L441.0 1015.9 L442.0 1015.9 L443.0 1015.8 L444.0 1015.8 L445.0 1015.8 L446.0 1015.8 L447.0 1015.8 L448.0 1015.8 L449.0 1015.7 L450.0 1015.7 L451.0 1015.7 L452.0 1015.7 L453.0 1015.7 L454.0 1015.6 L455.0 1015.6 L456.0 1015.6 L457.0 1015.6 L458.0 1015.6 L459.0 1015.5 L460.0 1015.5 L461.0 1015.5 L462.0 1015.5 L463.0 1015.5 L464.0 1015.4 L465.0 1015.4 L466.0 1015.4 L467.0 1015.4 L468.0 1015.3 L469.0 1015.3 L470.0 1015.3 L471.0 1015.3 L472.0 1015.2 L473.0 1015.2 L474.0 1015.2 L475.0 1015.2 L476.0 1015.1 L477.0 1015.1 L478.0 1015.1 L479.0 1015.0 L480.0 1015.0 L481.0 1015.0 L482.0 1014.9 L483.0 1014.9 L484.0 1014.9 L485.0 1014.9 L486.0 1014.8 L487.0 1014.8 L488.0 1014.8 L489.0 1014.7 L490.0 1014.7 L491.0 1014.6 L492.0 1014.6 L493.0 1014.6 L494.0 1014.5 L495.0 1014.5 L496.0 1014.5 L497.0 1014.4 L498.0 1014.4 L499.0 1014.3 L500.0 1014.3 L501.0 1014.2 L502.0 1014.2 L503.0 1014.1 L504.0 1014.1 L505.0 1014.1 L506.0 1014.0 L507.0 1014.0 L508.0 1013.9 L509.0 1013.8 L510.0 1013.8 L511.0 1013.7 L512.0 1013.7 L513.0 1013.6 L514.0 1013.6 L515.0 1013.5 L516.0 1013.4 L517.0 1013.4 L518.0 1013.3 L519.0 1013.2 L520.0 1013.2 L521.0 1013.1 L522.0 1013.0 L523.0 1012.9 L524.0 1012.8 L525.0 1012.8 L526.0 1012.7 L527.0 1012.6 L528.0 1012.5 L529.0 1012.4 L530.0 1012.3 L531.0 1012.2 L532.0 1012.1 L533.0 1012.0 L534.0 1011.9 L535.0 1011.8 L536.0 1011.6 L537.0 1011.5 L538.0 1011.4 L539.0 1011.2 L540.0 1011.1 L541.0 1010.9 L542.0 1010.8 L543.0 1010.6 L544.0 1010.4 L545.0 1010.3 L546.0 1010.1 L547.0 1009.9 L548.0 1009.7 L549.0 1009.5 L550.0 1009.3 L551.0 1009.0 L552.0 1008.8 L553.0 1008.6 L554.0 1008.3 L555.0 1008.0 L556.0 1007.8 L557.0 1007.5 L558.0 1007.2 L559.0 1006.9 L560.0 1006.5 L561.0 1006.2 L562.0 1005.8 L563.0 1005.5 L564.0 1005.1 L565.0 1004.7 L566.0 1004.2 L567.0 1003.8 L568.0 1003.4 L569.0 1002.9 L570.0 1002.4 L571.0 1001.9 L572.0 1001.4 L573.0 1000.8 L574.0 1000.3 L575.0 999.7 L576.0 999.1 L577.0 998.4 L578.0 997.8 L579.0 997.1 L580.0 996.4 L581.0 995.7 L582.0 995.0 L583.0 994.2 L584.0 993.4 L585.0 992.6 L586.0 991.8 L587.0 990.9 L588.0 990.0 L589.0 989.1 L590.0 988.2 L591.0 987.2 L592.0 986.2 L593.0 985.2 L594.0 984.2 L595.0 983.1 L596.0 982.1 L597.0 981.0 L598.0 979.9 L599.0 978.7 L600.0 977.6 L601.0 976.4 L602.0 975.2 L603.0 974.0 L604.0 972.7 L605.0 971.5 L606.0 970.2 L607.0 968.9 L608.0 967.6 L609.0 966.3 L610.0 965.0 L611.0 963.7 L612.0 962.4 L613.0 961.1 L614.0 959.7 L615.0 958.4 L616.0 957.1 L617.0 955.8 L618.0 954.4 L619.0 953.1 L620.0 951.9 L621.0 950.6 L622.0 949.3 L623.0 948.1 L624.0 946.9 L625.0 945.7 L626.0 944.6 L627.0 943.5 L628.0 942.5 L629.0 941.5 L630.0 940.5 L631.0 939.6 L632.0 938.8 L633.0 938.0 L634.0 937.3 L635.0 936.6 L636.0 936.0 L637.0 935.5 L638.0 935.1 L639.0 934.7 L640.0 934.4 L641.0 934.2 L642.0 934.1 L643.0 934.1 L644.0 934.2 L645.0 934.3 L646.0 934.5 L647.0 934.8 L648.0 935.2 L649.0 935.6 L650.0 936.1 L651.0 936.7 L652.0 937.4 L653.0 938.1 L654.0 938.9 L655.0 939.8 L656.0 940.7 L657.0 941.7 L658.0 942.7 L659.0 943.8 L660.0 944.9 L661.0 946.0 L662.0 947.2 L663.0 948.4 L664.0 949.6 L665.0 950.9 L666.0 952.1 L667.0 953.4 L668.0 954.7 L669.0 956.0 L670.0 957.4 L671.0 958.7 L672.0 960.0 L673.0 961.4 L674.0 962.7 L675.0 964.0 L676.0 965.3 L677.0 966.6 L678.0 967.9 L679.0 969.2 L680.0 970.5 L681.0 971.8 L682.0 973.0 L683.0 974.2 L684.0 975.5 L685.0 976.6 L686.0 977.8 L687.0 979.0 L688.0 980.1 L689.0 981.2 L690.0 982.3 L691.0 983.4 L692.0 984.4 L693.0 985.5 L694.0 986.5 L695.0 987.4 L696.0 988.4 L697.0 989.3 L698.0 990.2 L699.0 991.1 L700.0 991.9 L701.0 992.8 L702.0 993.6 L703.0 994.4 L704.0 995.1 L705.0 995.9 L706.0 996.6 L707.0 997.3 L708.0 997.9 L709.0 998.6 L710.0 999.2 L711.0 999.8 L712.0 1000.4 L713.0 1000.9 L714.0 1001.5 L715.0 1002.0 L716.0 1002.5 L717.0 1003.0 L718.0 1003.5 L719.0 1003.9 L720.0 1004.3 L721.0 1004.8 L722.0 1005.2 L723.0 1005.5 L724.0 1005.9 L725.0 1006.3 L726.0 1006.6 L727.0 1006.9 L728.0 1007.2 L729.0 1007.5 L730.0 1007.8 L731.0 1008.1 L732.0 1008.4 L733.0 1008.6 L734.0 1008.9 L735.0 1009.1 L736.0 1009.3 L737.0 1009.5 L738.0 1009.7 L739.0 1009.9 L740.0 1010.1 L741.0 1010.3 L742.0 1010.5 L743.0 1010.7 L744.0 1010.8 L745.0 1011.0 L746.0 1011.1 L747.0 1011.3 L748.0 1011.4 L749.0 1011.5 L750.0 1011.7 L751.0 1011.8 L752.0 1011.9 L753.0 1012.0 L754.0 1012.1 L755.0 1012.2 L756.0 1012.3 L757.0 1012.4 L758.0 1012.5 L759.0 1012.6 L760.0 1012.7 L761.0 1012.8 L762.0 1012.9 L763.0 1012.9 L764.0 1013.0 L765.0 1013.1 L766.0 1013.2 L767.0 1013.2 L768.0 1013.3 L769.0 1013.4 L770.0 1013.4 L771.0 1013.5 L772.0 1013.6 L773.0 1013.6 L774.0 1013.7 L775.0 1013.7 L776.0 1013.8 L777.0 1013.9 L778.0 1013.9 L779.0 1014.0 L780.0 1014.0 L781.0 1014.1 L782.0 1014.1 L783.0 1014.2 L784.0 1014.2 L785.0 1014.3 L786.0 1014.3 L787.0 1014.3 L788.0 1014.4 L789.0 1014.4 L790.0 1014.5 L791.0 1014.5 L792.0 1014.5 L793.0 1014.6 L794.0 1014.6 L795.0 1014.7 L796.0 1014.7 L797.0 1014.7 L798.0 1014.8 L799.0 1014.8 L800.0 1014.8 L801.0 1014.9 L802.0 1014.9 L803.0 1014.9 L804.0 1015.0 L805.0 1015.0 L806.0 1015.0 L807.0 1015.0 L808.0 1015.1 L809.0 1015.1 L810.0 1015.1 L811.0 1015.2 L812.0 1015.2 L813.0 1015.2 L814.0 1015.2 L815.0 1015.3 L816.0 1015.3 L817.0 1015.3 L818.0 1015.3 L819.0 1015.4 L820.0 1015.4 L821.0 1015.4 L822.0 1015.4 L823.0 1015.5 L824.0 1015.5 L825.0 1015.5 L826.0 1015.5 L827.0 1015.5 L828.0 1015.6 L829.0 1015.6 L830.0 1015.6 L831.0 1015.6 L832.0 1015.6 L833.0 1015.7 L834.0 1015.7 L835.0 1015.7 L836.0 1015.7 L837.0 1015.7 L838.0 1015.8 L839.0 1015.8 L840.0 1015.8 L841.0 1015.8 L842.0 1015.8 L843.0 1015.8 L844.0 1015.9 L845.0 1015.9 L846.0 1015.9 L847.0 1015.9 L848.0 1015.9 L849.0 1015.9 L850.0 1016.0 L851.0 1016.0 L852.0 1016.0 L853.0 1016.0 L854.0 1016.0 L855.0 1016.0 L856.0 1016.0 L857.0 1016.1 L858.0 1016.1 L859.0 1016.1 L860.0 1016.1 L861.0 1016.1 L862.0 1016.1 L863.0 1016.1 L864.0 1016.2 L865.0 1016.2 L866.0 1016.2 L867.0 1016.2 L868.0 1016.2 L869.0 1016.2 L870.0 1016.2 L871.0 1016.2 L872.0 1016.3 L873.0 1016.3 L874.0 1016.3 L875.0 1016.3 L876.0 1016.3 L877.0 1016.3 L878.0 1016.3 L879.0 1016.3 L880.0 1016.3 L881.0 1016.3 L882.0 1016.4 L883.0 1016.4 L884.0 1016.4 L885.0 1016.4 L886.0 1016.4 L887.0 1016.4 L888.0 1016.4 L889.0 1016.4 L890.0 1016.4 L891.0 1016.4 L892.0 1016.5 L893.0 1016.5 L894.0 1016.5 L895.0 1016.5 L896.0 1016.5 L897.0 1016.5 L898.0 1016.5 L899.0 1016.5 L900.0 1016.5 L901.0 1016.5 L902.0 1016.5 L903.0 1016.5 L904.0 1016.6 L905.0 1016.6 L906.0 1016.6 L907.0 1016.6 L908.0 1016.6 L909.0 1016.6 L910.0 1016.6 L911.0 1016.6 L912.0 1016.6 L913.0 1016.6 L914.0 1016.6 L915.0 1016.6 L916.0 1016.6 L917.0 1016.6 L918.0 1016.7 L919.0 1016.7 L920.0 1016.7 L921.0 1016.7 L922.0 1016.7 L923.0 1016.7 L924.0 1016.7 L925.0 1016.7 L926.0 1016.7 L927.0 1016.7 L928.0 1016.7 L929.0 1016.7 L930.0 1016.7 L931.0 1016.7 L932.0 1016.7 L933.0 1016.7 L934.0 1016.8 L935.0 1016.8 L936.0 1016.8 L937.0 1016.8 L938.0 1016.8 L939.0 1016.8 L940.0 1016.8 L941.0 1016.8 L942.0 1016.8 L943.0 1016.8 L944.0 1016.8 L945.0 1016.8 L946.0 1016.8 L947.0 1016.8 L948.0 1016.8 L949.0 1016.8 L950.0 1016.8 L951.0 1016.8 L952.0 1016.8 L953.0 1016.9 L954.0 1016.9 L955.0 1016.9 L956.0 1016.9 L957.0 1016.9 L958.0 1016.9 L959.0 1016.9 L960.0 1016.9 L961.0 1016.9 L962.0 1016.9 L963.0 1016.9 L964.0 1016.9 L965.0 1016.9 L966.0 1016.9 L967.0 1016.9 L968.0 1016.9 L969.0 1016.9 L970.0 1016.9 L971.0 1016.9 L972.0 1016.9 L973.0 1016.9 L974.0 1016.9 L975.0 1016.9 L976.0 1017.0 L977.0 1017.0 L978.0 1017.0 L979.0 1017.0 L980.0 1017.0 L981.0 1017.0 L982.0 1017.0 L983.0 1017.0 L984.0 1017.0 L985.0 1017.0 L986.0 1017.0 L987.0 1017.0 L988.0 1017.0 L989.0 1017.0 L990.0 1017.0 L991.0 1017.0 L992.0 1017.0 L993.0 1017.0 L994.0 1017.0 L995.0 1017.0 L996.0 1017.0 L997.0 1017.0 L998.0 1017.0 L999.0 1017.0 L1000.0 1017.0 L1001.0 1017.0 L1002.0 1017.0 L1003.0 1017.0 L1004.0 1017.0 L1005.0 1017.0 L1006.0 1017.1 L1007.0 1017.1 L1008.0 1017.1 L1009.0 1017.1 L1010.0 1017.1 L1011.0 1017.1 L1012.0 1017.1 L1013.0 1017.1 L1014.0 1017.1 L1015.0 1017.1 L1016.0 1017.1 L1017.0 1017.1 L1018.0 1017.1 L1019.0 1017.1 L1020.0 1017.1 L1021.0 1017.1 L1022.0 1017.1 L1023.0 1017.1 L1024.0 1017.1 L1025.0 1017.1 L1026.0 1017.1 L1027.0 1017.1 L1028.0 1017.1 L1029.0 1017.1 L1030.0 1017.1 L1031.0 1017.1 L1032.0 1017.1 L1033.0 1017.1 L1034.0 1017.1 L1035.0 1017.1 L1036.0 1017.1 L1037.0 1017.1 L1038.0 1017.1 L1039.0 1017.1 L1040.0 1017.1 L1041.0 1017.1 L1042.0 1017.1 L1043.0 1017.1 L1044.0 1017.2 L1045.0 1017.2 L1046.0 1017.2 L1047.0 1017.2 L1048.0 1017.2 L1049.0 1017.2 L1050.0 1017.2 L1051.0 1017.2 L1052.0 1017.2 L1053.0 1017.2 L1054.0 1017.2 L1055.0 1017.2 L1056.0 1017.2 L1057.0 1017.2 L1058.0 1017.2 L1059.0 1017.2 L1060.0 1017.2 L1061.0 1017.2 L1062.0 1017.2 L1063.0 1017.2 L1064.0 1017.2 L1065.0 1017.2 L1066.0 1017.2 L1067.0 1017.2 L1068.0 1017.2 L1069.0 1017.2 L1070.0 1017.2 L1071.0 1017.2 L1072.0 1017.2 L1073.0 1017.2 L1074.0 1017.2 L1075.0 1017.2 L1076.0 1017.2 L1077.0 1017.2 L1078.0 1017.2 L1079.0 1017.2 L1080.0 1017.2 L1081.0 1017.2 L1082.0 1017.2 L1083.0 1017.2 L1084.0 1017.2 L1085.0 1017.2 L1086.0 1017.2 L1087.0 1017.2 L1088.0 1017.2 L1089.0 1017.2 L1090.0 1017.2 L1091.0 1017.2 L1092.0 1017.2 L1093.0 1017.2 L1094.0 1017.2 L1095.0 1017.2 L1096.0 1017.2 L1097.0 1017.2 L1098.0 1017.2 L1099.0 1017.3 L1100.0 1017.3 L1101.0 1017.3 L1102.0 1017.3 L1103.0 1017.3 L1104.0 1017.3 L1105.0 1017.3 L1106.0 1017.3 L1107.0 1017.3 L1108.0 1017.3 L1109.0 1017.3 L1110.0 1017.3 L1111.0 1017.3 L1112.0 1017.3 L1113.0 1017.3 L1114.0 1017.3 L1115.0 1017.3 L1116.0 1017.3 L1117.0 1017.3 L1118.0 1017.3 L1119.0 1017.3 L1120.0 1017.3 L1121.0 1017.3 L1122.0 1017.3 L1123.0 1017.3 L1124.0 1017.3 L1125.0 1017.3 L1126.0 1017.3 L1127.0 1017.3 L1128.0 1017.3 L1129.0 1017.3 L1130.0 1017.3 L1131.0 1017.3 L1132.0 1017.3 L1133.0 1017.3 L1134.0 1017.3 L1135.0 1017.3 L1136.0 1017.3 L1137.0 1017.3 L1138.0 1017.3 L1139.0 1017.3 L1140.0 1017.3 L1141.0 1017.3 L1142.0 1017.3 L1143.0 1017.3 L1143.5 1017.3"/>
<path stroke="#808000" d="M98.0 1015.9 L99.0 1015.9 L100.0 1015.9 L101.0 1015.9 L102.0 1015.9 L103.0 1015.9 L104.0 1015.9 L105.0 1015.9 L106.0 1015.9 L107.0 1015.9 L108.0 1015.9 L109.0 1015.9 L110.0 1015.9 L111.0 1015.9 L112.0 1015.9 L113.0 1015.9 L114.0 1015.9 L115.0 1015.9 L116.0 1015.9 L117.0 1015.8 L118.0 1015.8 L119.0 1015.8 L120.0 1015.8 L121.0 1015.8 L122.0 1015.8 L123.0 1015.8 L124.0 1015.8 L125.0 1015.8 L126.0 1015.8 L127.0 1015.8 L128.0 1015.8 L129.0 1015.8 L130.0 1015.8 L131.0 1015.8 L132.0 1015.8 L133.0 1015.8 L134.0 1015.8 L135.0 1015.8 L136.0 1015.8 L137.0 1015.8 L138.0 1015.8 L139.0 1015.7 L140.0 1015.7 L141.0 1015.7 L142.0 1015.7 L143.0 1015.7 L144.0 1015.7 L145.0 1015.7 L146.0 1015.7 L147.0 1015.7 L148.0 1015.7 L149.0 1015.7 L150.0 1015.7 L151.0 1015.7 L152.0 1015.7 L153.0 1015.7 L154.0 1015.7 L155.0 1015.7 L156.0 1015.7 L157.0 1015.7 L158.0 1015.7 L159.0 1015.6 L160.0 1015.6 L161.0 1015.6 L162.0 1015.6 L163.0 1015.6 L164.0 1015.6 L165.0 1015.6 L166.0 1015.6 L167.0 1015.6 L168.0 1015.6 L169.0 1015.6 L170.0 1015.6 L171.0 1015.6 L172.0 1015.6 L173.0 1015.6 L174.0 1015.6 L175.0 1015.6 L176.0 1015.6 L177.0 1015.5 L178.0 1015.5 L179.0 1015.5 L180.0 1015.5 L181.0 1015.5 L182.0 1015.5 L183.0 1015.5 L184.0 1015.5 L185.0 1015.5 L186.0 1015.5 L187.0 1015.5 L188.0 1015.5 L189.0 1015.5 L190.0 1015.5 L191.0 1015.5 L192.0 1015.5 L193.0 1015.5 L194.0 1015.5 L195.0 1015.4 L196.0 1015.4 L197.0 1015.4 L198.0 1015.4 L199.0 1015.4 L200.0 1015.4 L201.0 1015.4 L202.0 1015.4 L203.0 1015.4 L204.0 1015.4 L205.0 1015.4 L206.0 1015.4 L207.0 1015.4 L208.0 1015.4 L209.0 1015.4 L210.0 1015.4 L211.0 1015.3 L212.0 1015.3 L213.0 1015.3 L214.0 1015.3 L215.0 1015.3 L216.0 1015.3 L217.0 1015.3 L218.0 1015.3 L219.0 1015.3 L220.0 1015.3 L221.0 1015.3 L222.0 1015.3 L223.0 1015.3 L224.0 1015.3 L225.0 1015.3 L226.0 1015.2 L227.0 1015.2 L228.0 1015.2 L229.0 1015.2 L230.0 1015.2 L231.0 1015.2 L232.0 1015.2 L233.0 1015.2 L234.0 1015.2 L235.0 1015.2 L236.0 1015.2 L237.0 1015.2 L238.0 1015.2 L239.0 1015.2 L240.0 1015.1 L241.0 1015.1 L242.0 1015.1 L243.0 1015.1 L244.0 1015.1 L245.0 1015.1 L246.0 1015.1 L247.0 1015.1 L248.0 1015.1 L249.0 1015.1 L250.0 1015.1 L251.0 1015.1 L252.0 1015.1 L253.0 1015.0 L254.0 1015.0 L255.0 1015.0 L256.0 1015.0 L257.0 1015.0 L258.0 1015.0 L259.0 1015.0 L260.0 1015.0 L261.0 1015.0 L262.0 1015.0 L263.0 1015.0 L264.0 1015.0 L265.0 1015.0 L266.0 1014.9 L267.0 1014.9 L268.0 1014.9 L269.0 1014.9 L270.0 1014.9 L271.0 1014.9 L272.0 1014.9 L273.0 1014.9 L274.0 1014.9 L275.0 1014.9 L276.0 1014.9 L277.0 1014.9 L278.0 1014.8 L279.0 1014.8 L280.0 1014.8 L281.0 1014.8 L282.0 1014.8 L283.0 1014.8 L284.0 1014.8 L285.0 1014.8 L286.0 1014.8 L287.0 1014.8 L288.0 1014.8 L289.0 1014.7 L290.0 1014.7 L291.0 1014.7 L292.0 1014.7 L293.0 1014.7 L294.0 1014.7 L295.0 1014.7 L296.0 1014.7 L297.0 1014.7 L298.0 1014.7 L299.0 1014.7 L300.0 1014.6 L301.0 1014.6 L302.0 1014.6 L303.0 1014.6 L304.0 1014.6 L305.0 1014.6 L306.0 1014.6 L307.0 1014.6 L308.0 1014.6 L309.0 1014.6 L310.0 1014.5 L311.0 1014.5 L312.0 1014.5 L313.0 1014.5 L314.0 1014.5 L315.0 1014.5 L316.0 1014.5 L317.0 1014.5 L318.0 1014.5 L319.0 1014.5 L320.0 1014.4 L321.0 1014.4 L322.0 1014.4 L323.0 1014.4 L324.0 1014.4 L325.0 1014.4 L326.0 1014.4 L327.0 1014.4 L328.0 1014.4 L329.0 1014.3 L330.0 1014.3 L331.0 1014.3 L332.0 1014.3 L333.0 1014.3 L334.0 1014.3 L335.0 1014.3 L336.0 1014.3 L337.0 1014.3 L338.0 1014.2 L339.0 1014.2 L340.0 1014.2 L341.0 1014.2 L342.0 1014.2 L343.0 1014.2 L344.0 1014.2 L345.0 1014.2 L346.0 1014.1 L347.0 1014.1 L348.0 1014.1 L349.0 1014.1 L350.0 1014.1 L351.0 1014.1 L352.0 1014.1 L353.0 1014.1 L354.0 1014.0 L355.0 1014.0 L356.0 1014.0 L357.0 1014.0 L358.0 1014.0 L359.0 1014.0 L360.0 1014.0 L361.0 1014.0 L362.0 1013.9 L363.0 1013.9 L364.0 1013.9 L365.0 1013.9 L366.0 1013.9 L367.0 1013.9 L368.0 1013.9 L369.0 1013.8 L370.0 1013.8 L371.0 1013.8 L372.0 1013.8 L373.0 1013.8 L374.0 1013.8 L375.0 1013.8 L376.0 1013.7 L377.0 1013.7 L378.0 1013.7 L379.0 1013.7 L380.0 1013.7 L381.0 1013.7 L382.0 1013.7 L383.0 1013.6 L384.0 1013.6 L385.0 1013.6 L386.0 1013.6 L387.0 1013.6 L388.0 1013.6 L389.0 1013.6 L390.0 1013.5 L391.0 1013.5 L392.0 1013.5 L393.0 1013.5 L394.0 1013.5 L395.0 1013.5 L396.0 1013.4 L397.0 1013.4 L398.0 1013.4 L399.0 1013.4 L400.0 1013.4 L401.0 1013.4 L402.0 1013.3 L403.0 1013.3 L404.0 1013.3 L405.0 1013.3 L406.0 1013.3 L407.0 1013.3 L408.0 1013.2 L409.0 1013.2 L410.0 1013.2 L411.0 1013.2 L412.0 1013.2 L413.0 1013.2 L414.0 1013.1 L415.0 1013.1 L416.0 1013.1 L417.0 1013.1 L418.0 1013.1 L419.0 1013.0 L420.0 1013.0 L421.0 1013.0 L422.0 1013.0 L423.0 1013.0 L424.0 1013.0 L425.0 1012.9 L426.0 1012.9 L427.0 1012.9 L428.0 1012.9 L429.0 1012.9 L430.0 1012.8 L431.0 1012.8 L432.0 1012.8 L433.0 1012.8 L434.0 1012.8 L435.0 1012.7 L436.0 1012.7 L437.0 1012.7 L438.0 1012.7 L439.0 1012.7 L440.0 1012.6 L441.0 1012.6 L442.0 1012.6 L443.0 1012.6 L444.0 1012.6 L445.0 1012.5 L446.0 1012.5 L447.0 1012.5 L448.0 1012.5 L449.0 1012.4 L450.0 1012.4 L451.0 1012.4 L452.0 1012.4 L453.0 1012.4 L454.0 1012.3 L455.0 1012.3 L456.0 1012.3 L457.0 1012.3 L458.0 1012.2 L459.0 1012.2 L460.0 1012.2 L461.0 1012.2 L462.0 1012.1 L463.0 1012.1 L464.0 1012.1 L465.0 1012.1 L466.0 1012.0 L467.0 1012.0 L468.0 1012.0 L469.0 1012.0 L470.0 1011.9 L471.0 1011.9 L472.0 1011.9 L473.0 1011.9 L474.0 1011.8 L475.0 1011.8 L476.0 1011.8 L477.0 1011.8 L478.0 1011.7 L479.0 1011.7 L480.0 1011.7 L481.0 1011.7 L482.0 1011.6 L483.0 1011.6 L484.0 1011.6 L485.0 1011.5 L486.0 1011.5 L487.0 1011.5 L488.0 1011.5 L489.0 1011.4 L490.0 1011.4 L491.0 1011.4 L492.0 1011.3 L493.0 1011.3 L494.0 1011.3 L495.0 1011.3 L496.0 1011.2 L497.0 1011.2 L498.0 1011.2 L499.0 1011.1 L500.0 1011.1 L501.0 1011.1 L502.0 1011.0 L503.0 1011.0 L504.0 1011.0 L505.0 1010.9 L506.0 1010.9 L507.0 1010.9 L508.0 1010.8 L509.0 1010.8 L510.0 1010.8 L511.0 1010.7 L512.0 1010.7 L513.0 1010.7 L514.0 1010.6 L515.0 1010.6 L516.0 1010.6 L517.0 1010.5 L518.0 1010.5 L519.0 1010.5 L520.0 1010.4 L521.0 1010.4 L522.0 1010.4 L523.0 1010.3 L524.0 1010.3 L525.0 1010.3 L526.0 1010.2 L527.0 1010.2 L528.0 1010.1 L529.0 1010.1 L530.0 1010.1 L531.0 1010.0 L532.0 1010.0 L533.0 1009.9 L534.0 1009.9 L535.0 1009.9 L536.0 1009.8 L537.0 1009.8 L538.0 1009.7 L539.0 1009.7 L540.0 1009.7 L541.0 1009.6 L542.0 1009.6 L543.0 1009.5 L544.0 1009.5 L545.0 1009.4 L546.0 1009.4 L547.0 1009.4 L548.0 1009.3 L549.0 1009.3 L550.0 1009.2 L551.0 1009.2 L552.0 1009.1 L553.0 1009.1 L554.0 1009.0 L555.0 1009.0 L556.0 1008.9 L557.0 1008.9 L558.0 1008.8 L559.0 1008.8 L560.0 1008.7 L561.0 1008.7 L562.0 1008.6 L563.0 1008.6 L564.0 1008.5 L565.0 1008.5 L566.0 1008.4 L567.0 1008.4 L568.0 1008.3 L569.0 1008.3 L570.0 1008.2 L571.0 1008.2 L572.0 1008.1 L573.0 1008.1 L574.0 1008.0 L575.0 1008.0 L576.0 1007.9 L577.0 1007.8 L578.0 1007.8 L579.0 1007.7 L580.0 1007.7 L581.0 1007.6 L582.0 1007.6 L583.0 1007.5 L584.0 1007.4 L585.0 1007.4 L586.0 1007.3 L587.0 1007.3 L588.0 1007.2 L589.0 1007.1 L590.0 1007.1 L591.0 1007.0 L592.0 1006.9 L593.0 1006.9 L594.0 1006.8 L595.0 1006.7 L596.0 1006.7 L597.0 1006.6 L598.0 1006.5 L599.0 1006.5 L600.0 1006.4 L601.0 1006.3 L602.0 1006.3 L603.0 1006.2 L604.0 1006.1 L605.0 1006.0 L606.0 1006.0 L607.0 1005.9 L608.0 1005.8 L609.0 1005.8 L610.0 1005.7 L611.0 1005.6 L612.0 1005.5 L613.0 1005.4 L614.0 1005.4 L615.0 1005.3 L616.0 1005.2 L617.0 1005.1 L618.0 1005.0 L619.0 1005.0 L620.0 1004.9 L621.0 1004.8 L622.0 1004.7 L623.0 1004.6 L624.0 1004.5 L625.0 1004.4 L626.0 1004.4 L627.0 1004.3 L628.0 1004.2 L629.0 1004.1 L630.0 1004.0 L631.0 1003.9 L632.0 1003.8 L633.0 1003.7 L634.0 1003.6 L635.0 1003.5 L636.0 1003.4 L637.0 1003.3 L638.0 1003.2 L639.0 1003.1 L640.0 1003.0 L641.0 1002.9 L642.0 1002.8 L643.0 1002.7 L644.0 1002.6 L645.0 1002.5 L646.0 1002.4 L647.0 1002.3 L648.0 1002.2 L649.0 1002.1 L650.0 1001.9 L651.0 1001.8 L652.0 1001.7 L653.0 1001.6 L654.0 1001.5 L655.0 1001.4 L656.0 1001.2 L657.0 1001.1 L658.0 1001.0 L659.0 1000.9 L660.0 1000.7 L661.0 1000.6 L662.0 1000.5 L663.0 1000.4 L664.0 1000.2 L665.0 1000.1 L666.0 1000.0 L667.0 999.8 L668.0 999.7 L669.0 999.6 L670.0 999.4 L671.0 999.3 L672.0 999.1 L673.0 999.0 L674.0 998.8 L675.0 998.7 L676.0 998.5 L677.0 998.4 L678.0 998.2 L679.0 998.1 L680.0 997.9 L681.0 997.8 L682.0 997.6 L683.0 997.4 L684.0 997.3 L685.0 997.1 L686.0 996.9 L687.0 996.8 L688.0 996.6 L689.0 996.4 L690.0 996.2 L691.0 996.1 L692.0 995.9 L693.0 995.7 L694.0 995.5 L695.0 995.3 L696.0 995.1 L697.0 994.9 L698.0 994.7 L699.0 994.6 L700.0 994.4 L701.0 994.2 L702.0 993.9 L703.0 993.7 L704.0 993.5 L705.0 993.3 L706.0 993.1 L707.0 992.9 L708.0 992.7 L709.0 992.4 L710.0 992.2 L711.0 992.0 L712.0 991.8 L713.0 991.5 L714.0 991.3 L715.0 991.0 L716.0 990.8 L717.0 990.5 L718.0 990.3 L719.0 990.0 L720.0 989.8 L721.0 989.5 L722.0 989.3 L723.0 989.0 L724.0 988.7 L725.0 988.4 L726.0 988.2 L727.0 987.9 L728.0 987.6 L729.0 987.3 L730.0 987.0 L731.0 986.7 L732.0 986.4 L733.0 986.1 L734.0 985.8 L735.0 985.5 L736.0 985.2 L737.0 984.8 L738.0 984.5 L739.0 984.2 L740.0 983.8 L741.0 983.5 L742.0 983.2 L743.0 982.8 L744.0 982.4 L745.0 982.1 L746.0 981.7 L747.0 981.3 L748.0 981.0 L749.0 980.6 L750.0 980.2 L751.0 979.8 L752.0 979.4 L753.0 979.0 L754.0 978.6 L755.0 978.2 L756.0 977.7 L757.0 977.3 L758.0 976.9 L759.0 976.4 L760.0 976.0 L761.0 975.5 L762.0 975.1 L763.0 974.6 L764.0 974.1 L765.0 973.6 L766.0 973.1 L767.0 972.6 L768.0 972.1 L769.0 971.6 L770.0 971.1 L771.0 970.6 L772.0 970.0 L773.0 969.5 L774.0 968.9 L775.0 968.3 L776.0 967.8 L777.0 967.2 L778.0 966.6 L779.0 966.0 L780.0 965.4 L781.0 964.8 L782.0 964.2 L783.0 963.5 L784.0 962.9 L785.0 962.2 L786.0 961.5 L787.0 960.9 L788.0 960.2 L789.0 959.5 L790.0 958.8 L791.0 958.0 L792.0 957.3 L793.0 956.6 L794.0 955.8 L795.0 955.1 L796.0 954.3 L797.0 953.5 L798.0 952.7 L799.0 951.9 L800.0 951.0 L801.0 950.2 L802.0 949.3 L803.0 948.5 L804.0 947.6 L805.0 946.7 L806.0 945.8 L807.0 944.9 L808.0 943.9 L809.0 943.0 L810.0 942.0 L811.0 941.0 L812.0 940.0 L813.0 939.0 L814.0 938.0 L815.0 937.0 L816.0 935.9 L817.0 934.9 L818.0 933.8 L819.0 932.7 L820.0 931.6 L821.0 930.4 L822.0 929.3 L823.0 928.1 L824.0 926.9 L825.0 925.7 L826.0 924.5 L827.0 923.3 L828.0 922.1 L829.0 920.8 L830.0 919.5 L831.0 918.2 L832.0 916.9 L833.0 915.6 L834.0 914.3 L835.0 912.9 L836.0 911.5 L837.0 910.1 L838.0 908.7 L839.0 907.3 L840.0 905.9 L841.0 904.5 L842.0 903.0 L843.0 901.5 L844.0 900.0 L845.0 898.5 L846.0 897.0 L847.0 895.5 L848.0 894.0 L849.0 892.5 L850.0 890.9 L851.0 889.3 L852.0 887.8 L853.0 886.2 L854.0 884.6 L855.0 883.0 L856.0 881.4 L857.0 879.9 L858.0 878.3 L859.0 876.7 L860.0 875.1 L861.0 873.5 L862.0 871.9 L863.0 870.3 L864.0 868.7 L865.0 867.1 L866.0 865.6 L867.0 864.0 L868.0 862.5 L869.0 861.0 L870.0 859.4 L871.0 857.9 L872.0 856.5 L873.0 855.0 L874.0 853.6 L875.0 852.2 L876.0 850.8 L877.0 849.4 L878.0 848.1 L879.0 846.8 L880.0 845.5 L881.0 844.3 L882.0 843.1 L883.0 842.0 L884.0 840.9 L885.0 839.8 L886.0 838.8 L887.0 837.9 L888.0 837.0 L889.0 836.1 L890.0 835.3 L891.0 834.5 L892.0 833.8 L893.0 833.2 L894.0 832.6 L895.0 832.1 L896.0 831.6 L897.0 831.2 L898.0 830.9 L899.0 830.6 L900.0 830.4 L901.0 830.2 L902.0 830.1 L903.0 830.1 L904.0 830.1 L905.0 830.2 L906.0 830.4 L907.0 830.6 L908.0 830.9 L909.0 831.3 L910.0 831.7 L911.0 832.2 L912.0 832.7 L913.0 833.3 L914.0 834.0 L915.0 834.7 L916.0 835.5 L917.0 836.3 L918.0 837.2 L919.0 838.1 L920.0 839.1 L921.0 840.1 L922.0 841.2 L923.0 842.3 L924.0 843.4 L925.0 844.6 L926.0 845.9 L927.0 847.1 L928.0 848.4 L929.0 849.8 L930.0 851.1 L931.0 852.5 L932.0 853.9 L933.0 855.4 L934.0 856.8 L935.0 858.3 L936.0 859.8 L937.0 861.3 L938.0 862.9 L939.0 864.4 L940.0 866.0 L941.0 867.6 L942.0 869.1 L943.0 870.7 L944.0 872.3 L945.0 873.9 L946.0 875.5 L947.0 877.1 L948.0 878.7 L949.0 880.3 L950.0 881.9 L951.0 883.5 L952.0 885.0 L953.0 886.6 L954.0 888.2 L955.0 889.7 L956.0 891.3 L957.0 892.9 L958.0 894.4 L959.0 895.9 L960.0 897.4 L961.0 898.9 L962.0 900.4 L963.0 901.9 L964.0 903.4 L965.0 904.8 L966.0 906.3 L967.0 907.7 L968.0 909.1 L969.0 910.5 L970.0 911.9 L971.0 913.3 L972.0 914.6 L973.0 915.9 L974.0 917.3 L975.0 918.6 L976.0 919.8 L977.0 921.1 L978.0 922.4 L979.0 923.6 L980.0 924.8 L981.0 926.0 L982.0 927.2 L983.0 928.4 L984.0 929.6 L985.0 930.7 L986.0 931.8 L987.0 933.0 L988.0 934.1 L989.0 935.1 L990.0 936.2 L991.0 937.2 L992.0 938.3 L993.0 939.3 L994.0 940.3 L995.0 941.3 L996.0 942.3 L997.0 943.2 L998.0 944.2 L999.0 945.1 L1000.0 946.0 L1001.0 946.9 L1002.0 947.8 L1003.0 948.7 L1004.0 949.6 L1005.0 950.4 L1006.0 951.3 L1007.0 952.1 L1008.0 952.9 L1009.0 953.7 L1010.0 954.5 L1011.0 955.3 L1012.0 956.0 L1013.0 956.8 L1014.0 957.5 L1015.0 958.2 L1016.0 959.0 L1017.0 959.7 L1018.0 960.4 L1019.0 961.0 L1020.0 961.7 L1021.0 962.4 L1022.0 963.0 L1023.0 963.7 L1024.0 964.3 L1025.0 964.9 L1026.0 965.6 L1027.0 966.2 L1028.0 966.8 L1029.0 967.3 L1030.0 967.9 L1031.0 968.5 L1032.0 969.1 L1033.0 969.6 L1034.0 970.2 L1035.0 970.7 L1036.0 971.2 L1037.0 971.7 L1038.0 972.3 L1039.0 972.8 L1040.0 973.3 L1041.0 973.7 L1042.0 974.2 L1043.0 974.7 L1044.0 975.2 L1045.0 975.6 L1046.0 976.1 L1047.0 976.5 L1048.0 977.0 L1049.0 977.4 L1050.0 977.8 L1051.0 978.3 L1052.0 978.7 L1053.0 979.1 L1054.0 979.5 L1055.0 979.9 L1056.0 980.3 L1057.0 980.7 L1058.0 981.1 L1059.0 981.4 L1060.0 981.8 L1061.0 982.2 L1062.0 982.5 L1063.0 982.9 L1064.0 983.2 L1065.0 983.6 L1066.0 983.9 L1067.0 984.3 L1068.0 984.6 L1069.0 984.9 L1070.0 985.2 L1071.0 985.6 L1072.0 985.9 L1073.0 986.2 L1074.0 986.5 L1075.0 986.8 L1076.0 987.1 L1077.0 987.4 L1078.0 987.7 L1079.0 988.0 L1080.0 988.2 L1081.0 988.5 L1082.0 988.8 L1083.0 989.1 L1084.0 989.3 L1085.0 989.6 L1086.0 989.9 L1087.0 990.1 L1088.0 990.4 L1089.0 990.6 L1090.0 990.9 L1091.0 991.1 L1092.0 991.3 L1093.0 991.6 L1094.0 991.8 L1095.0 992.0 L1096.0 992.3 L1097.0 992.5 L1098.0 992.7 L1099.0 992.9 L1100.0 993.2 L1101.0 993.4 L1102.0 993.6 L1103.0 993.8 L1104.0 994.0 L1105.0 994.2 L1106.0 994.4 L1107.0 994.6 L1108.0 994.8 L1109.0 995.0 L1110.0 995.2 L1111.0 995.4 L1112.0 995.6 L1113.0 995.7 L1114.0 995.9 L1115.0 996.1 L1116.0 996.3 L1117.0 996.5 L1118.0 996.6 L1119.0 996.8 L1120.0 997.0 L1121.0 997.1 L1122.0 997.3 L1123.0 997.5 L1124.0 997.6 L1125.0 997.8 L1126.0 998.0 L1127.0 998.1 L1128.0 998.3 L1129.0 998.4 L1130.0 998.6 L1131.0 998.7 L1132.0 998.9 L1133.0 999.0 L1134.0 999.2 L1135.0 999.3 L1136.0 999.5 L1137.0 999.6 L1138.0 999.7 L1139.0 999.9 L1140.0 1000.0 L1141.0 1000.1 L1142.0 1000.3 L1143.0 1000.4 L1143.5 1000.5"/>
<path stroke="#000080" d="M98.0 1017.4 L99.0 1017.4 L100.0 1017.4 L101.0 1017.4 L102.0 1017.4 L103.0 1017.4 L104.0 1017.4 L105.0 1017.4 L106.0 1017.4 L107.0 1017.4 L108.0 1017.4 L109.0 1017.4 L110.0 1017.4 L111.0 1017.4 L112.0 1017.4 L113.0 1017.4 L114.0 1017.4 L115.0 1017.4 L116.0 1017.4 L117.0 1017.4 L118.0 1017.4 L119.0 1017.4 L120.0 1017.4 L121.0 1017.4 L122.0 1017.4 L123.0 1017.4 L124.0 1017.4 L125.0 1017.4 L126.0 1017.4 L127.0 1017.4 L128.0 1017.4 L129.0 1017.4 L130.0 1017.4 L131.0 1017.4 L132.0 1017.4 L133.0 1017.4 L134.0 1017.4 L135.0 1017.4 L136.0 1017.4 L137.0 1017.4 L138.0 1017.4 L139.0 1017.4 L140.0 1017.4 L141.0 1017.4 L142.0 1017.4 L143.0 1017.4 L144.0 1017.4 L145.0 1017.4 L146.0 1017.4 L147.0 1017.4 L148.0 1017.4 L149.0 1017.4 L150.0 1017.4 L151.0 1017.4 L152.0 1017.4 L153.0 1017.4 L154.0 1017.4 L155.0 1017.4 L156.0 1017.4 L157.0 1017.4 L158.0 1017.4 L159.0 1017.4 L160.0 1017.4 L161.0 1017.4 L162.0 1017.4 L163.0 1017.4 L164.0 1017.4 L165.0 1017.4 L166.0 1017.4 L167.0 1017.4 L168.0 1017.4 L169.0 1017.4 L170.0 1017.4 L171.0 1017.4 L172.0 1017.4 L173.0 1017.4 L174.0 1017.4 L175.0 1017.4 L176.0 1017.4 L177.0 1017.4 L178.0 1017.4 L179.0 1017.4 L180.0 1017.4 L181.0 1017.4 L182.0 1017.4 L183.0 1017.4 L184.0 1017.4 L185.0 1017.4 L186.0 1017.4 L187.0 1017.4 L188.0 1017.4 L189.0 1017.4 L190.0 1017.4 L191.0 1017.4 L192.0 1017.4 L193.0 1017.4 L194.0 1017.4 L195.0 1017.4 L196.0 1017.4 L197.0 1017.4 L198.0 1017.4 L199.0 1017.4 L200.0 1017.4 L201.0 1017.4 L202.0 1017.4 L203.0 1017.4 L204.0 1017.4 L205.0 1017.4 L206.0 1017.4 L207.0 1017.4 L208.0 1017.4 L209.0 1017.4 L210.0 1017.4 L211.0 1017.4 L212.0 1017.4 L213.0 1017.4 L214.0 1017.4 L215.0 1017.4 L216.0 1017.4 L217.0 1017.4 L218.0 1017.4 L219.0 1017.4 L220.0 1017.4 L221.0 1017.4 L222.0 1017.4 L223.0 1017.4 L224.0 1017.4 L225.0 1017.4 L226.0 1017.4 L227.0 1017.4 L228.0 1017.4 L229.0 1017.4 L230.0 1017.4 L231.0 1017.4 L232.0 1017.4 L233.0 1017.4 L234.0 1017.4 L235.0 1017.4 L236.0 1017.4 L237.0 1017.4 L238.0 1017.4 L239.0 1017.4 L240.0 1017.4 L241.0 1017.4 L242.0 1017.4 L243.0 1017.4 L244.0 1017.4 L245.0 1017.4 L246.0 1017.4 L247.0 1017.4 L248.0 1017.4 L249.0 1017.4 L250.0 1017.4 L251.0 1017.4 L252.0 1017.4 L253.0 1017.4 L254.0 1017.4 L255.0 1017.4 L256.0 1017.4 L257.0 1017.4 L258.0 1017.4 L259.0 1017.4 L260.0 1017.4 L261.0 1017.4 L262.0 1017.4 L263.0 1017.4 L264.0 1017.4 L265.0 1017.4 L266.0 1017.4 L267.0 1017.4 L268.0 1017.4 L269.0 1017.4 L270.0 1017.4 L271.0 1017.4 L272.0 1017.4 L273.0 1017.4 L274.0 1017.4 L275.0 1017.4 L276.0 1017.4 L277.0 1017.4 L278.0 1017.4 L279.0 1017.4 L280.0 1017.4 L281.0 1017.3 L282.0 1017.3 L283.0 1017.3 L284.0 1017.3 L285.0 1017.3 L286.0 1017.3 L287.0 1017.3 L288.0 1017.3 L289.0 1017.3 L290.0 1017.3 L291.0 1017.3 L292.0 1017.3 L293.0 1017.3 L294.0 1017.3 L295.0 1017.3 L296.0 1017.3 L297.0 1017.3 L298.0 1017.3 L299.0 1017.3 L300.0 1017.3 L301.0 1017.3 L302.0 1017.3 L303.0 1017.3 L304.0 1017.3 L305.0 1017.3 L306.0 1017.3 L307.0 1017.3 L308.0 1017.3 L309.0 1017.3 L310.0 1017.3 L311.0 1017.3 L312.0 1017.3 L313.0 1017.3 L314.0 1017.3 L315.0 1017.3 L316.0 1017.3 L317.0 1017.3 L318.0 1017.3 L319.0 1017.3 L320.0 1017.3 L321.0 1017.3 L322.0 1017.3 L323.0 1017.3 L324.0 1017.3 L325.0 1017.3 L326.0 1017.3 L327.0 1017.3 L328.0 1017.3 L329.0 1017.3 L330.0 1017.3 L331.0 1017.3 L332.0 1017.3 L333.0 1017.3 L334.0 1017.3 L335.0 1017.3 L336.0 1017.3 L337.0 1017.3 L338.0 1017.3 L339.0 1017.3 L340.0 1017.3 L341.0 1017.3 L342.0 1017.3 L343.0 1017.3 L344.0 1017.3 L345.0 1017.3 L346.0 1017.3 L347.0 1017.3 L348.0 1017.3 L349.0 1017.3 L350.0 1017.3 L351.0 1017.3 L352.0 1017.3 L353.0 1017.3 L354.0 1017.3 L355.0 1017.3 L356.0 1017.3 L357.0 1017.3 L358.0 1017.3 L359.0 1017.3 L360.0 1017.3 L361.0 1017.3 L362.0 1017.3 L363.0 1017.3 L364.0 1017.3 L365.0 1017.3 L366.0 1017.3 L367.0 1017.3 L368.0 1017.3 L369.0 1017.3 L370.0 1017.3 L371.0 1017.3 L372.0 1017.3 L373.0 1017.3 L374.0 1017.3 L375.0 1017.3 L376.0 1017.3 L377.0 1017.3 L378.0 1017.3 L379.0 1017.3 L380.0 1017.3 L381.0 1017.3 L382.0 1017.3 L383.0 1017.3 L384.0 1017.3 L385.0 1017.3 L386.0 1017.3 L387.0 1017.3 L388.0 1017.2 L389.0 1017.2 L390.0 1017.2 L391.0 1017.2 L392.0 1017.2 L393.0 1017.2 L394.0 1017.2 L395.0 1017.2 L396.0 1017.2 L397.0 1017.2 L398.0 1017.2 L399.0 1017.2 L400.0 1017.2 L401.0 1017.2 L402.0 1017.2 L403.0 1017.2 L404.0 1017.2 L405.0 1017.2 L406.0 1017.2 L407.0 1017.2 L408.0 1017.2 L409.0 1017.2 L410.0 1017.2 L411.0 1017.2 L412.0 1017.2 L413.0 1017.2 L414.0 1017.2 L415.0 1017.2 L416.0 1017.2 L417.0 1017.2 L418.0 1017.2 L419.0 1017.2 L420.0 1017.2 L421.0 1017.2 L422.0 1017.2 L423.0 1017.2 L424.0 1017.2 L425.0 1017.2 L426.0 1017.2 L427.0 1017.2 L428.0 1017.2 L429.0 1017.2 L430.0 1017.2 L431.0 1017.2 L432.0 1017.2 L433.0 1017.2 L434.0 1017.2 L435.0 1017.2 L436.0 1017.2 L437.0 1017.2 L438.0 1017.2 L439.0 1017.2 L440.0 1017.2 L441.0 1017.2 L442.0 1017.2 L443.0 1017.2 L444.0 1017.2 L445.0 1017.2 L446.0 1017.2 L447.0 1017.2 L448.0 1017.2 L449.0 1017.2 L450.0 1017.2 L451.0 1017.2 L452.0 1017.2 L453.0 1017.2 L454.0 1017.2 L455.0 1017.2 L456.0 1017.2 L457.0 1017.1 L458.0 1017.1 L459.0 1017.1 L460.0 1017.1 L461.0 1017.1 L462.0 1017.1 L463.0 1017.1 L464.0 1017.1 L465.0 1017.1 L466.0 1017.1 L467.0 1017.1 L468.0 1017.1 L469.0 1017.1 L470.0 1017.1 L471.0 1017.1 L472.0 1017.1 L473.0 1017.1 L474.0 1017.1 L475.0 1017.1 L476.0 1017.1 L477.0 1017.1 L478.0 1017.1 L479.0 1017.1 L480.0 1017.1 L481.0 1017.1 L482.0 1017.1 L483.0 1017.1 L484.0 1017.1 L485.0 1017.1 L486.0 1017.1 L487.0 1017.1 L488.0 1017.1 L489.0 1017.1 L490.0 1017.1 L491.0 1017.1 L492.0 1017.1 L493.0 1017.1 L494.0 1017.1 L495.0 1017.1 L496.0 1017.1 L497.0 1017.1 L498.0 1017.1 L499.0 1017.1 L500.0 1017.1 L501.0 1017.1 L502.0 1017.1 L503.0 1017.1 L504.0 1017.1 L505.0 1017.1 L506.0 1017.1 L507.0 1017.0 L508.0 1017.0 L509.0 1017.0 L510.0 1017.0 L511.0 1017.0 L512.0 1017.0 L513.0 1017.0 L514.0 1017.0 L515.0 1017.0 L516.0 1017.0 L517.0 1017.0 L518.0 1017.0 L519.0 1017.0 L520.0 1017.0 L521.0 1017.0 L522.0 1017.0 L523.0 1017.0 L524.0 1017.0 L525.0 1017.0 L526.0 1017.0 L527.0 1017.0 L528.0 1017.0 L529.0 1017.0 L530.0 1017.0 L531.0 1017.0 L532.0 1017.0 L533.0 1017.0 L534.0 1017.0 L535.0 1017.0 L536.0 1017.0 L537.0 1017.0 L538.0 1017.0 L539.0 1017.0 L540.0 1017.0 L541.0 1017.0 L542.0 1017.0 L543.0 1017.0 L544.0 1016.9 L545.0 1016.9 L546.0 1016.9 L547.0 1016.9 L548.0 1016.9 L549.0 1016.9 L550.0 1016.9 L551.0 1016.9 L552.0 1016.9 L553.0 1016.9 L554.0 1016.9 L555.0 1016.9 L556.0 1016.9 L557.0 1016.9 L558.0 1016.9 L559.0 1016.9 L560.0 1016.9 L561.0 1016.9 L562.0 1016.9 L563.0 1016.9 L564.0 1016.9 L565.0 1016.9 L566.0 1016.9 L567.0 1016.9 L568.0 1016.9 L569.0 1016.9 L570.0 1016.9 L571.0 1016.9 L572.0 1016.9 L573.0 1016.9 L574.0 1016.8 L575.0 1016.8 L576.0 1016.8 L577.0 1016.8 L578.0 1016.8 L579.0 1016.8 L580.0 1016.8 L581.0 1016.8 L582.0 1016.8 L583.0 1016.8 L584.0 1016.8 L585.0 1016.8 L586.0 1016.8 L587.0 1016.8 L588.0 1016.8 L589.0 1016.8 L590.0 1016.8 L591.0 1016.8 L592.0 1016.8 L593.0 1016.8 L594.0 1016.8 L595.0 1016.8 L596.0 1016.8 L597.0 1016.8 L598.0 1016.7 L599.0 1016.7 L600.0 1016.7 L601.0 1016.7 L602.0 1016.7 L603.0 1016.7 L604.0 1016.7 L605.0 1016.7 L606.0 1016.7 L607.0 1016.7 L608.0 1016.7 L609.0 1016.7 L610.0 1016.7 L611.0 1016.7 L612.0 1016.7 L613.0 1016.7 L614.0 1016.7 L615.0 1016.7 L616.0 1016.7 L617.0 1016.7 L618.0 1016.7 L619.0 1016.6 L620.0 1016.6 L621.0 1016.6 L622.0 1016.6 L623.0 1016.6 L624.0 1016.6 L625.0 1016.6 L626.0 1016.6 L627.0 1016.6 L628.0 1016.6 L629.0 1016.6 L630.0 1016.6 L631.0 1016.6 L632.0 1016.6 L633.0 1016.6 L634.0 1016.6 L635.0 1016.6 L636.0 1016.5 L637.0 1016.5 L638.0 1016.5 L639.0 1016.5 L640.0 1016.5 L641.0 1016.5 L642.0 1016.5 L643.0 1016.5 L644.0 1016.5 L645.0 1016.5 L646.0 1016.5 L647.0 1016.5 L648.0 1016.5 L649.0 1016.5 L650.0 1016.5 L651.0 1016.4 L652.0 1016.4 L653.0 1016.4 L654.0 1016.4 L655.0 1016.4 L656.0 1016.4 L657.0 1016.4 L658.0 1016.4 L659.0 1016.4 L660.0 1016.4 L661.0 1016.4 L662.0 1016.4 L663.0 1016.4 L664.0 1016.3 L665.0 1016.3 L666.0 1016.3 L667.0 1016.3 L668.0 1016.3 L669.0 1016.3 L670.0 1016.3 L671.0 1016.3 L672.0 1016.3 L673.0 1016.3 L674.0 1016.3 L675.0 1016.3 L676.0 1016.2 L677.0 1016.2 L678.0 1016.2 L679.0 1016.2 L680.0 1016.2 L681.0 1016.2 L682.0 1016.2 L683.0 1016.2 L684.0 1016.2 L685.0 1016.2 L686.0 1016.2 L687.0 1016.1 L688.0 1016.1 L689.0 1016.1 L690.0 1016.1 L691.0 1016.1 L692.0 1016.1 L693.0 1016.1 L694.0 1016.1 L695.0 1016.1 L696.0 1016.0 L697.0 1016.0 L698.0 1016.0 L699.0 1016.0 L700.0 1016.0 L701.0 1016.0 L702.0 1016.0 L703.0 1016.0 L704.0 1016.0 L705.0 1015.9 L706.0 1015.9 L707.0 1015.9 L708.0 1015.9 L709.0 1015.9 L710.0 1015.9 L711.0 1015.9 L712.0 1015.9 L713.0 1015.8 L714.0 1015.8 L715.0 1015.8 L716.0 1015.8 L717.0 1015.8 L718.0 1015.8 L719.0 1015.8 L720.0 1015.7 L721.0 1015.7 L722.0 1015.7 L723.0 1015.7 L724.0 1015.7 L725.0 1015.7 L726.0 1015.6 L727.0 1015.6 L728.0 1015.6 L729.0 1015.6 L730.0 1015.6 L731.0 1015.6 L732.0 1015.6 L733.0 1015.5 L734.0 1015.5 L735.0 1015.5 L736.0 1015.5 L737.0 1015.5 L738.0 1015.4 L739.0 1015.4 L740.0 1015.4 L741.0 1015.4 L742.0 1015.4 L743.0 1015.4 L744.0 1015.3 L745.0 1015.3 L746.0 1015.3 L747.0 1015.3 L748.0 1015.3 L749.0 1015.2 L750.0 1015.2 L751.0 1015.2 L752.0 1015.2 L753.0 1015.1 L754.0 1015.1 L755.0 1015.1 L756.0 1015.1 L757.0 1015.1 L758.0 1015.0 L759.0 1015.0 L760.0 1015.0 L761.0 1015.0 L762.0 1014.9 L763.0 1014.9 L764.0 1014.9 L765.0 1014.9 L766.0 1014.8 L767.0 1014.8 L768.0 1014.8 L769.0 1014.8 L770.0 1014.7 L771.0 1014.7 L772.0 1014.7 L773.0 1014.6 L774.0 1014.6 L775.0 1014.6 L776.0 1014.6 L777.0 1014.5 L778.0 1014.5 L779.0 1014.5 L780.0 1014.4 L781.0 1014.4 L782.0 1014.4 L783.0 1014.3 L784.0 1014.3 L785.0 1014.3 L786.0 1014.2 L787.0 1014.2 L788.0 1014.2 L789.0 1014.1 L790.0 1014.1 L791.0 1014.0 L792.0 1014.0 L793.0 1014.0 L794.0 1013.9 L795.0 1013.9 L796.0 1013.9 L797.0 1013.8 L798.0 1013.8 L799.0 1013.7 L800.0 1013.7 L801.0 1013.6 L802.0 1013.6 L803.0 1013.5 L804.0 1013.5 L805.0 1013.5 L806.0 1013.4 L807.0 1013.4 L808.0 1013.3 L809.0 1013.3 L810.0 1013.2 L811.0 1013.1 L812.0 1013.1 L813.0 1013.0 L814.0 1013.0 L815.0 1012.9 L816.0 1012.9 L817.0 1012.8 L818.0 1012.8 L819.0 1012.7 L820.0 1012.6 L821.0 1012.6 L822.0 1012.5 L823.0 1012.4 L824.0 1012.4 L825.0 1012.3 L826.0 1012.2 L827.0 1012.2 L828.0 1012.1 L829.0 1012.0 L830.0 1011.9 L831.0 1011.9 L832.0 1011.8 L833.0 1011.7 L834.0 1011.6 L835.0 1011.5 L836.0 1011.4 L837.0 1011.3 L838.0 1011.3 L839.0 1011.2 L840.0 1011.1 L841.0 1011.0 L842.0 1010.9 L843.0 1010.7 L844.0 1010.6 L845.0 1010.5 L846.0 1010.4 L847.0 1010.3 L848.0 1010.2 L849.0 1010.0 L850.0 1009.9 L851.0 1009.8 L852.0 1009.6 L853.0 1009.5 L854.0 1009.3 L855.0 1009.1 L856.0 1009.0 L857.0 1008.8 L858.0 1008.6 L859.0 1008.4 L860.0 1008.2 L861.0 1008.0 L862.0 1007.8 L863.0 1007.6 L864.0 1007.3 L865.0 1007.1 L866.0 1006.8 L867.0 1006.5 L868.0 1006.2 L869.0 1005.9 L870.0 1005.6 L871.0 1005.2 L872.0 1004.8 L873.0 1004.5 L874.0 1004.0 L875.0 1003.6 L876.0 1003.1 L877.0 1002.7 L878.0 1002.1 L879.0 1001.6 L880.0 1001.0 L881.0 1000.4 L882.0 999.8 L883.0 999.1 L884.0 998.4 L885.0 997.6 L886.0 996.8 L887.0 995.9 L888.0 995.0 L889.0 994.0 L890.0 993.0 L891.0 992.0 L892.0 990.8 L893.0 989.6 L894.0 988.4 L895.0 987.1 L896.0 985.7 L897.0 984.2 L898.0 982.7 L899.0 981.0 L900.0 979.3 L901.0 977.5 L902.0 975.7 L903.0 973.7 L904.0 971.6 L905.0 969.5 L906.0 967.2 L907.0 964.9 L908.0 962.4 L909.0 959.8 L910.0 957.2 L911.0 954.4 L912.0 951.5 L913.0 948.5 L914.0 945.4 L915.0 942.1 L916.0 938.8 L917.0 935.3 L918.0 931.7 L919.0 928.0 L920.0 924.2 L921.0 920.3 L922.0 916.2 L923.0 912.0 L924.0 907.7 L925.0 903.3 L926.0 898.8 L927.0 894.2 L928.0 889.5 L929.0 884.7 L930.0 879.8 L931.0 874.8 L932.0 869.7 L933.0 864.5 L934.0 859.2 L935.0 853.9 L936.0 848.5 L937.0 843.1 L938.0 837.6 L939.0 832.0 L940.0 826.4 L941.0 820.8 L942.0 815.2 L943.0 809.6 L944.0 804.0 L945.0 798.4 L946.0 792.8 L947.0 787.3 L948.0 781.8 L949.0 776.4 L950.0 771.1 L951.0 765.9 L952.0 760.7 L953.0 755.8 L954.0 750.9 L955.0 746.2 L956.0 741.7 L957.0 737.4 L958.0 733.2 L959.0 729.3 L960.0 725.7 L961.0 722.3 L962.0 719.2 L963.0 716.3 L964.0 713.8 L965.0 711.5 L966.0 709.6 L967.0 708.0 L968.0 706.8 L969.0 705.9 L970.0 705.4 L971.0 705.2 L972.0 705.4 L973.0 705.9 L974.0 706.8 L975.0 708.0 L976.0 709.6 L977.0 711.5 L978.0 713.8 L979.0 716.3 L980.0 719.1 L981.0 722.3 L982.0 725.7 L983.0 729.3 L984.0 733.2 L985.0 737.4 L986.0 741.7 L987.0 746.2 L988.0 750.9 L989.0 755.7 L990.0 760.7 L991.0 765.8 L992.0 771.1 L993.0 776.4 L994.0 781.8 L995.0 787.3 L996.0 792.8 L997.0 798.4 L998.0 804.0 L999.0 809.6 L1000.0 815.2 L1001.0 820.8 L1002.0 826.4 L1003.0 832.0 L1004.0 837.5 L1005.0 843.0 L1006.0 848.5 L1007.0 853.9 L1008.0 859.2 L1009.0 864.5 L1010.0 869.6 L1011.0 874.7 L1012.0 879.8 L1013.0 884.7 L1014.0 889.5 L1015.0 894.2 L1016.0 898.8 L1017.0 903.3 L1018.0 907.7 L1019.0 912.0 L1020.0 916.2 L1021.0 920.2 L1022.0 924.2 L1023.0 928.0 L1024.0 931.7 L1025.0 935.3 L1026.0 938.8 L1027.0 942.1 L1028.0 945.4 L1029.0 948.5 L1030.0 951.5 L1031.0 954.4 L1032.0 957.2 L1033.0 959.8 L1034.0 962.4 L1035.0 964.9 L1036.0 967.2 L1037.0 969.5 L1038.0 971.6 L1039.0 973.7 L1040.0 975.7 L1041.0 977.5 L1042.0 979.3 L1043.0 981.0 L1044.0 982.7 L1045.0 984.2 L1046.0 985.7 L1047.0 987.1 L1048.0 988.4 L1049.0 989.6 L1050.0 990.8 L1051.0 992.0 L1052.0 993.0 L1053.0 994.0 L1054.0 995.0 L1055.0 995.9 L1056.0 996.8 L1057.0 997.6 L1058.0 998.3 L1059.0 999.1 L1060.0 999.8 L1061.0 1000.4 L1062.0 1001.0 L1063.0 1001.6 L1064.0 1002.1 L1065.0 1002.7 L1066.0 1003.1 L1067.0 1003.6 L1068.0 1004.0 L1069.0 1004.5 L1070.0 1004.8 L1071.0 1005.2 L1072.0 1005.6 L1073.0 1005.9 L1074.0 1006.2 L1075.0 1006.5 L1076.0 1006.8 L1077.0 1007.1 L1078.0 1007.3 L1079.0 1007.6 L1080.0 1007.8 L1081.0 1008.0 L1082.0 1008.2 L1083.0 1008.4 L1084.0 1008.6 L1085.0 1008.8 L1086.0 1009.0 L1087.0 1009.1 L1088.0 1009.3 L1089.0 1009.5 L1090.0 1009.6 L1091.0 1009.8 L1092.0 1009.9 L1093.0 1010.0 L1094.0 1010.2 L1095.0 1010.3 L1096.0 1010.4 L1097.0 1010.5 L1098.0 1010.6 L1099.0 1010.7 L1100.0 1010.9 L1101.0 1011.0 L1102.0 1011.1 L1103.0 1011.2 L1104.0 1011.3 L1105.0 1011.3 L1106.0 1011.4 L1107.0 1011.5 L1108.0 1011.6 L1109.0 1011.7 L1110.0 1011.8 L1111.0 1011.9 L1112.0 1011.9 L1113.0 1012.0 L1114.0 1012.1 L1115.0 1012.2 L1116.0 1012.2 L1117.0 1012.3 L1118.0 1012.4 L1119.0 1012.4 L1120.0 1012.5 L1121.0 1012.6 L1122.0 1012.6 L1123.0 1012.7 L1124.0 1012.8 L1125.0 1012.8 L1126.0 1012.9 L1127.0 1012.9 L1128.0 1013.0 L1129.0 1013.0 L1130.0 1013.1 L1131.0 1013.1 L1132.0 1013.2 L1133.0 1013.3 L1134.0 1013.3 L1135.0 1013.4 L1136.0 1013.4 L1137.0 1013.5 L1138.0 1013.5 L1139.0 1013.5 L1140.0 1013.6 L1141.0 1013.6 L1142.0 1013.7 L1143.0 1013.7 L1143.5 1013.7"/>
</g>
<g fill="none" stroke="#000" stroke-width="3.3" stroke-linejoin="round">
<path d="M96.0 529.9 L97.0 529.6 L98.0 529.3 L99.0 528.9 L100.0 528.6 L101.0 528.2 L102.0 527.9 L103.0 527.6 L104.0 527.2 L105.0 526.9 L106.0 526.5 L107.0 526.1 L108.0 525.8 L109.0 525.4 L110.0 525.0 L111.0 524.6 L112.0 524.2 L113.0 523.7 L114.0 523.3 L115.0 522.9 L116.0 522.4 L117.0 522.0 L118.0 521.5 L119.0 521.0 L120.0 520.6 L121.0 520.1 L122.0 519.7 L123.0 519.2 L124.0 518.7 L125.0 518.3 L126.0 517.9 L127.0 517.4 L128.0 517.0 L129.0 516.5 L130.0 516.1 L131.0 515.7 L132.0 515.2 L133.0 514.8 L134.0 514.3 L135.0 513.9 L136.0 513.5 L137.0 513.0 L138.0 512.5 L139.0 512.1 L140.0 511.6 L141.0 511.1 L142.0 510.6 L143.0 510.1 L144.0 509.7 L145.0 509.2 L146.0 508.7 L147.0 508.1 L148.0 507.6 L149.0 507.1 L150.0 506.6 L151.0 506.1 L152.0 505.6 L153.0 505.1 L154.0 504.5 L155.0 504.0 L156.0 503.5 L157.0 502.9 L158.0 502.4 L159.0 501.9 L160.0 501.3 L161.0 500.8 L162.0 500.2 L163.0 499.7 L164.0 499.1 L165.0 498.6 L166.0 498.0 L167.0 497.5 L168.0 496.9 L169.0 496.4 L170.0 495.8 L171.0 495.3 L172.0 494.7 L173.0 494.2 L174.0 493.8 L175.0 493.3 L176.0 492.8 L177.0 492.2 L178.0 491.7 L179.0 491.1 L180.0 490.4 L181.0 489.7 L182.0 488.9 L183.0 488.0 L184.0 486.9 L185.0 485.7 L186.0 484.4 L187.0 483.0 L188.0 481.5 L189.0 480.0 L190.0 478.4 L191.0 476.7 L192.0 474.9 L193.0 473.1 L194.0 471.2 L195.0 469.2 L196.0 467.1 L197.0 465.0 L198.0 462.9 L199.0 460.7 L200.0 458.4 L201.0 455.7 L202.0 452.7 L203.0 449.0 L204.0 444.3 L205.0 439.0 L206.0 433.3 L207.0 427.4 L208.0 420.9 L209.0 414.1 L210.0 407.3 L211.0 400.5 L212.0 393.7 L213.0 386.9 L214.0 380.1 L215.0 373.4 L216.0 366.5 L217.0 359.7 L218.0 352.9 L219.0 346.3 L220.0 339.8 L221.0 333.3 L222.0 326.7 L223.0 320.1 L224.0 313.2 L225.0 305.6 L226.0 297.3 L227.0 289.1 L228.0 281.1 L229.0 273.3 L230.0 266.0 L231.0 259.2 L232.0 252.8 L233.0 246.5 L234.0 241.1 L235.0 236.5 L236.0 232.3 L237.0 228.6 L238.0 225.6 L239.0 223.2 L240.0 221.0 L241.0 219.2 L242.0 217.8 L243.0 217.2 L244.0 217.5 L245.0 218.8 L246.0 220.9 L247.0 223.6 L248.0 226.6 L249.0 229.6 L250.0 232.7 L251.0 236.2 L252.0 240.1 L253.0 244.1 L254.0 248.1 L255.0 252.2 L256.0 256.6 L257.0 261.4 L258.0 266.7 L259.0 272.5 L260.0 278.3 L261.0 284.1 L262.0 290.0 L263.0 295.9 L264.0 301.5 L265.0 306.7 L266.0 311.6 L267.0 316.5 L268.0 321.3 L269.0 326.2 L270.0 331.1 L271.0 335.8 L272.0 340.2 L273.0 344.5 L274.0 348.8 L275.0 353.0 L276.0 357.1 L277.0 361.2 L278.0 365.2 L279.0 369.1 L280.0 373.1 L281.0 376.9 L282.0 380.7 L283.0 384.4 L284.0 387.9 L285.0 391.5 L286.0 395.1 L287.0 398.6 L288.0 402.1 L289.0 405.3 L290.0 408.1 L291.0 410.6 L292.0 412.6 L293.0 414.3 L294.0 415.9 L295.0 417.3 L296.0 418.6 L297.0 419.8 L298.0 420.9 L299.0 422.0 L300.0 423.1 L301.0 424.2 L302.0 425.4 L303.0 426.5 L304.0 427.7 L305.0 428.8 L306.0 429.8 L307.0 430.8 L308.0 431.8 L309.0 432.6 L310.0 433.4 L311.0 434.1 L312.0 434.8 L313.0 435.4 L314.0 436.0 L315.0 436.5 L316.0 437.0 L317.0 437.4 L318.0 437.8 L319.0 438.1 L320.0 438.4 L321.0 438.6 L322.0 438.9 L323.0 439.0 L324.0 439.2 L325.0 439.2 L326.0 439.2 L327.0 439.2 L328.0 439.0 L329.0 438.8 L330.0 438.4 L331.0 437.9 L332.0 437.4 L333.0 436.8 L334.0 436.0 L335.0 435.2 L336.0 434.4 L337.0 433.4 L338.0 432.3 L339.0 431.2 L340.0 430.0 L341.0 428.7 L342.0 427.2 L343.0 425.6 L344.0 424.0 L345.0 422.2 L346.0 420.4 L347.0 418.6 L348.0 416.9 L349.0 415.1 L350.0 413.4 L351.0 411.7 L352.0 410.0 L353.0 408.3 L354.0 406.6 L355.0 404.8 L356.0 403.1 L357.0 401.5 L358.0 399.8 L359.0 398.2 L360.0 396.7 L361.0 395.2 L362.0 393.7 L363.0 392.2 L364.0 390.7 L365.0 389.3 L366.0 388.0 L367.0 386.7 L368.0 385.5 L369.0 384.4 L370.0 383.4 L371.0 382.5 L372.0 381.7 L373.0 381.0 L374.0 380.3 L375.0 379.8 L376.0 379.3 L377.0 378.9 L378.0 378.6 L379.0 378.5 L380.0 378.4 L381.0 378.5 L382.0 378.7 L383.0 379.1 L384.0 379.5 L385.0 380.1 L386.0 380.7 L387.0 381.3 L388.0 382.0 L389.0 382.7 L390.0 383.4 L391.0 384.1 L392.0 384.9 L393.0 385.7 L394.0 386.6 L395.0 387.4 L396.0 388.3 L397.0 389.2 L398.0 390.1 L399.0 390.9 L400.0 391.7 L401.0 392.4 L402.0 393.2 L403.0 393.9 L404.0 394.6 L405.0 395.3 L406.0 395.9 L407.0 396.6 L408.0 397.2 L409.0 397.8 L410.0 398.4 L411.0 399.0 L412.0 399.5 L413.0 400.0 L414.0 400.5 L415.0 401.0 L416.0 401.5 L417.0 402.0 L418.0 402.4 L419.0 402.9 L420.0 403.4 L421.0 403.9 L422.0 404.4 L423.0 404.9 L424.0 405.4 L425.0 405.9 L426.0 406.4 L427.0 406.9 L428.0 407.4 L429.0 407.9 L430.0 408.4 L431.0 408.9 L432.0 409.3 L433.0 409.8 L434.0 410.2 L435.0 410.7 L436.0 411.2 L437.0 411.7 L438.0 412.2 L439.0 412.8 L440.0 413.4 L441.0 414.1 L442.0 414.8 L443.0 415.5 L444.0 416.3 L445.0 417.1 L446.0 418.0 L447.0 418.9 L448.0 419.8 L449.0 420.7 L450.0 421.7 L451.0 422.7 L452.0 423.9 L453.0 425.0 L454.0 426.3 L455.0 427.5 L456.0 428.7 L457.0 430.0 L458.0 431.2 L459.0 432.3 L460.0 433.4 L461.0 434.4 L462.0 435.4 L463.0 436.3 L464.0 437.2 L465.0 438.1 L466.0 438.9 L467.0 439.8 L468.0 440.7 L469.0 441.6 L470.0 442.5 L471.0 443.5 L472.0 444.5 L473.0 445.6 L474.0 446.6 L475.0 447.7 L476.0 448.8 L477.0 449.8 L478.0 450.8 L479.0 451.7 L480.0 452.5 L481.0 453.3 L482.0 453.9 L483.0 454.6 L484.0 455.2 L485.0 455.7 L486.0 456.2 L487.0 456.8 L488.0 457.3 L489.0 457.8 L490.0 458.3 L491.0 458.9 L492.0 459.4 L493.0 460.0 L494.0 460.6 L495.0 461.1 L496.0 461.6 L497.0 462.1 L498.0 462.6 L499.0 463.0 L500.0 463.3 L501.0 463.6 L502.0 463.8 L503.0 464.0 L504.0 464.1 L505.0 464.2 L506.0 464.3 L507.0 464.3 L508.0 464.3 L509.0 464.3 L510.0 464.2 L511.0 464.1 L512.0 464.0 L513.0 463.8 L514.0 463.6 L515.0 463.3 L516.0 463.0 L517.0 462.7 L518.0 462.4 L519.0 462.1 L520.0 461.7 L521.0 461.3 L522.0 460.9 L523.0 460.4 L524.0 459.9 L525.0 459.4 L526.0 458.8 L527.0 458.3 L528.0 457.7 L529.0 457.2 L530.0 456.7 L531.0 456.2 L532.0 455.7 L533.0 455.1 L534.0 454.6 L535.0 454.1 L536.0 453.6 L537.0 453.1 L538.0 452.6 L539.0 452.1 L540.0 451.7 L541.0 451.3 L542.0 450.9 L543.0 450.5 L544.0 450.2 L545.0 449.8 L546.0 449.5 L547.0 449.2 L548.0 448.9 L549.0 448.6 L550.0 448.3 L551.0 448.0 L552.0 447.7 L553.0 447.4 L554.0 447.2 L555.0 446.9 L556.0 446.6 L557.0 446.4 L558.0 446.2 L559.0 446.0 L560.0 445.8 L561.0 445.6 L562.0 445.5 L563.0 445.4 L564.0 445.3 L565.0 445.2 L566.0 445.1 L567.0 445.1 L568.0 445.0 L569.0 445.0 L570.0 445.0 L571.0 445.0 L572.0 445.1 L573.0 445.1 L574.0 445.2 L575.0 445.3 L576.0 445.4 L577.0 445.5 L578.0 445.6 L579.0 445.7 L580.0 445.8 L581.0 445.9 L582.0 446.0 L583.0 446.0 L584.0 446.1 L585.0 446.2 L586.0 446.3 L587.0 446.4 L588.0 446.5 L589.0 446.6 L590.0 446.7 L591.0 446.8 L592.0 447.0 L593.0 447.2 L594.0 447.3 L595.0 447.5 L596.0 447.7 L597.0 447.8 L598.0 448.0 L599.0 448.2 L600.0 448.3 L601.0 448.4 L602.0 448.5 L603.0 448.6 L604.0 448.8 L605.0 448.9 L606.0 448.9 L607.0 449.0 L608.0 449.1 L609.0 449.1 L610.0 449.2 L611.0 449.2 L612.0 449.3 L613.0 449.3 L614.0 449.3 L615.0 449.3 L616.0 449.3 L617.0 449.3 L618.0 449.3 L619.0 449.2 L620.0 449.2 L621.0 449.1 L622.0 449.1 L623.0 449.0 L624.0 448.9 L625.0 448.8 L626.0 448.6 L627.0 448.5 L628.0 448.4 L629.0 448.4 L630.0 448.3 L631.0 448.2 L632.0 448.2 L633.0 448.1 L634.0 448.0 L635.0 447.9 L636.0 447.9 L637.0 447.9 L638.0 448.0 L639.0 448.1 L640.0 448.3 L641.0 448.6 L642.0 448.9 L643.0 449.3 L644.0 449.8 L645.0 450.3 L646.0 450.8 L647.0 451.4 L648.0 452.0 L649.0 452.6 L650.0 453.3 L651.0 454.0 L652.0 454.7 L653.0 455.5 L654.0 456.3 L655.0 457.1 L656.0 458.0 L657.0 458.9 L658.0 459.9 L659.0 460.9 L660.0 462.0 L661.0 463.2 L662.0 464.4 L663.0 465.8 L664.0 467.1 L665.0 468.6 L666.0 470.0 L667.0 471.5 L668.0 473.0 L669.0 474.5 L670.0 476.0 L671.0 477.5 L672.0 479.1 L673.0 480.8 L674.0 482.5 L675.0 484.2 L676.0 485.8 L677.0 487.4 L678.0 489.0 L679.0 490.4 L680.0 491.8 L681.0 493.1 L682.0 494.3 L683.0 495.4 L684.0 496.5 L685.0 497.5 L686.0 498.4 L687.0 499.4 L688.0 500.2 L689.0 501.0 L690.0 501.8 L691.0 502.5 L692.0 503.2 L693.0 503.7 L694.0 504.3 L695.0 504.8 L696.0 505.2 L697.0 505.6 L698.0 506.0 L699.0 506.4 L700.0 506.8 L701.0 507.2 L702.0 507.5 L703.0 507.8 L704.0 508.1 L705.0 508.4 L706.0 508.6 L707.0 508.8 L708.0 509.0 L709.0 509.2 L710.0 509.3 L711.0 509.4 L712.0 509.5 L713.0 509.6 L714.0 509.6 L715.0 509.6 L716.0 509.6 L717.0 509.6 L718.0 509.5 L719.0 509.4 L720.0 509.3 L721.0 509.2 L722.0 509.0 L723.0 508.8 L724.0 508.5 L725.0 508.3 L726.0 508.0 L727.0 507.7 L728.0 507.4 L729.0 507.1 L730.0 506.8 L731.0 506.5 L732.0 506.2 L733.0 506.0 L734.0 505.7 L735.0 505.4 L736.0 505.1 L737.0 504.8 L738.0 504.4 L739.0 504.0 L740.0 503.5 L741.0 503.0 L742.0 502.4 L743.0 501.7 L744.0 501.0 L745.0 500.3 L746.0 499.5 L747.0 498.8 L748.0 498.1 L749.0 497.4 L750.0 496.8 L751.0 496.2 L752.0 495.7 L753.0 495.1 L754.0 494.6 L755.0 494.1 L756.0 493.6 L757.0 493.2 L758.0 492.7 L759.0 492.2 L760.0 491.8 L761.0 491.3 L762.0 490.8 L763.0 490.3 L764.0 489.9 L765.0 489.6 L766.0 489.4 L767.0 489.3 L768.0 489.4 L769.0 489.6 L770.0 489.9 L771.0 490.2 L772.0 490.5 L773.0 490.9 L774.0 491.3 L775.0 491.6 L776.0 491.8 L777.0 492.0 L778.0 492.2 L779.0 492.3 L780.0 492.5 L781.0 492.6 L782.0 492.7 L783.0 492.7 L784.0 492.8 L785.0 492.7 L786.0 492.7 L787.0 492.6 L788.0 492.4 L789.0 492.2 L790.0 492.0 L791.0 491.8 L792.0 491.5 L793.0 491.2 L794.0 490.9 L795.0 490.6 L796.0 490.3 L797.0 490.0 L798.0 489.7 L799.0 489.3 L800.0 489.0 L801.0 488.7 L802.0 488.3 L803.0 488.0 L804.0 487.6 L805.0 487.2 L806.0 486.8 L807.0 486.4 L808.0 486.0 L809.0 485.5 L810.0 485.0 L811.0 484.5 L812.0 483.9 L813.0 483.4 L814.0 482.8 L815.0 482.2 L816.0 481.6 L817.0 480.9 L818.0 480.3 L819.0 479.6 L820.0 479.0 L821.0 478.3 L822.0 477.6 L823.0 476.9 L824.0 476.1 L825.0 475.4 L826.0 474.7 L827.0 473.9 L828.0 473.2 L829.0 472.6 L830.0 472.0 L831.0 471.5 L832.0 471.0 L833.0 470.6 L834.0 470.2 L835.0 469.8 L836.0 469.4 L837.0 469.1 L838.0 468.7 L839.0 468.2 L840.0 467.7 L841.0 467.2 L842.0 466.6 L843.0 465.8 L844.0 465.0 L845.0 464.1 L846.0 463.2 L847.0 462.2 L848.0 461.1 L849.0 460.0 L850.0 458.8 L851.0 457.7 L852.0 456.5 L853.0 455.3 L854.0 454.1 L855.0 452.9 L856.0 451.6 L857.0 450.3 L858.0 448.9 L859.0 447.6 L860.0 446.2 L861.0 444.8 L862.0 443.5 L863.0 442.2 L864.0 440.9 L865.0 439.6 L866.0 438.2 L867.0 436.9 L868.0 435.6 L869.0 434.3 L870.0 433.0 L871.0 431.8 L872.0 430.5 L873.0 429.2 L874.0 427.9 L875.0 426.5 L876.0 425.2 L877.0 423.8 L878.0 422.4 L879.0 421.0 L880.0 419.6 L881.0 418.2 L882.0 416.8 L883.0 415.4 L884.0 414.0 L885.0 412.6 L886.0 411.2 L887.0 409.8 L888.0 408.4 L889.0 407.0 L890.0 405.5 L891.0 404.1 L892.0 402.6 L893.0 401.1 L894.0 399.6 L895.0 398.1 L896.0 396.5 L897.0 394.9 L898.0 393.2 L899.0 391.5 L900.0 389.7 L901.0 388.0 L902.0 386.2 L903.0 384.5 L904.0 382.9 L905.0 381.3 L906.0 379.8 L907.0 378.3 L908.0 376.7 L909.0 375.0 L910.0 373.2 L911.0 371.2 L912.0 369.0 L913.0 366.7 L914.0 364.2 L915.0 361.7 L916.0 359.0 L917.0 356.4 L918.0 353.6 L919.0 350.8 L920.0 348.0 L921.0 345.1 L922.0 342.1 L923.0 339.1 L924.0 336.0 L925.0 333.0 L926.0 329.9 L927.0 326.8 L928.0 323.6 L929.0 320.3 L930.0 317.0 L931.0 313.6 L932.0 310.1 L933.0 306.4 L934.0 302.7 L935.0 298.9 L936.0 294.8 L937.0 290.1 L938.0 284.6 L939.0 278.7 L940.0 272.5 L941.0 266.2 L942.0 259.5 L943.0 252.9 L944.0 246.8 L945.0 241.1 L946.0 235.4 L947.0 229.4 L948.0 222.7 L949.0 215.7 L950.0 209.0 L951.0 202.4 L952.0 195.5 L953.0 188.4 L954.0 181.7 L955.0 175.2 L956.0 168.8 L957.0 162.7 L958.0 157.5 L959.0 152.7 L960.0 146.7 L961.0 139.7 L962.0 132.7 L963.0 126.1 L964.0 120.6 L965.0 115.7 L966.0 111.2 L967.0 107.1 L968.0 103.8 L969.0 101.7 L970.0 99.9 L971.0 98.6 L972.0 98.0 L973.0 98.3 L974.0 99.4 L975.0 101.1 L976.0 103.1 L977.0 105.3 L978.0 108.1 L979.0 111.5 L980.0 115.5 L981.0 120.5 L982.0 126.1 L983.0 132.7 L984.0 139.7 L985.0 146.5 L986.0 153.2 L987.0 159.9 L988.0 166.0 L989.0 171.8 L990.0 177.6 L991.0 183.4 L992.0 189.4 L993.0 195.8 L994.0 202.5 L995.0 209.6 L996.0 217.1 L997.0 225.0 L998.0 233.0 L999.0 241.2 L1000.0 249.4 L1001.0 257.6 L1002.0 265.7 L1003.0 273.6 L1004.0 281.1 L1005.0 288.8 L1006.0 297.4 L1007.0 306.0 L1008.0 313.2 L1009.0 319.9 L1010.0 326.2 L1011.0 332.8 L1012.0 339.2 L1013.0 344.6 L1014.0 348.3 L1015.0 351.1 L1016.0 353.6 L1017.0 356.4 L1018.0 360.0 L1019.0 364.0 L1020.0 368.2 L1021.0 372.7 L1022.0 377.4 L1023.0 381.9 L1024.0 386.0 L1025.0 389.9 L1026.0 393.7 L1027.0 397.4 L1028.0 401.2 L1029.0 405.0 L1030.0 408.6 L1031.0 412.1 L1032.0 415.6 L1033.0 418.9 L1034.0 422.1 L1035.0 425.1 L1036.0 427.8 L1037.0 430.4 L1038.0 432.9 L1039.0 435.2 L1040.0 437.4 L1041.0 439.5 L1042.0 441.5 L1043.0 443.4 L1044.0 445.2 L1045.0 447.0 L1046.0 448.8 L1047.0 450.5 L1048.0 452.2 L1049.0 453.8 L1050.0 455.3 L1051.0 456.7 L1052.0 458.1 L1053.0 459.5 L1054.0 460.8 L1055.0 462.1 L1056.0 463.4 L1057.0 464.7 L1058.0 465.9 L1059.0 467.1 L1060.0 468.2 L1061.0 469.4 L1062.0 470.5 L1063.0 471.6 L1064.0 472.6 L1065.0 473.6 L1066.0 474.6 L1067.0 475.6 L1068.0 476.5 L1069.0 477.3 L1070.0 478.1 L1071.0 478.9 L1072.0 479.6 L1073.0 480.3 L1074.0 481.0 L1075.0 481.7 L1076.0 482.3 L1077.0 482.9 L1078.0 483.5 L1079.0 484.1 L1080.0 484.6 L1081.0 485.2 L1082.0 485.7 L1083.0 486.2 L1084.0 486.7 L1085.0 487.2 L1086.0 487.7 L1087.0 488.1 L1088.0 488.6 L1089.0 489.0 L1090.0 489.4 L1091.0 489.8 L1092.0 490.2 L1093.0 490.6 L1094.0 491.0 L1095.0 491.4 L1096.0 491.7 L1097.0 492.1 L1098.0 492.4 L1099.0 492.7 L1100.0 493.0 L1101.0 493.3 L1102.0 493.6 L1103.0 493.9 L1104.0 494.1 L1105.0 494.3 L1106.0 494.6 L1107.0 494.8 L1108.0 495.0 L1109.0 495.2 L1110.0 495.4 L1111.0 495.5 L1112.0 495.7 L1113.0 495.8 L1114.0 496.0 L1115.0 496.1 L1116.0 496.2 L1117.0 496.3 L1118.0 496.4 L1119.0 496.4 L1120.0 496.5 L1121.0 496.5 L1122.0 496.5 L1123.0 496.5 L1124.0 496.5 L1125.0 496.5 L1126.0 496.5 L1127.0 496.5 L1128.0 496.4 L1129.0 496.4 L1130.0 496.3 L1131.0 496.3 L1132.0 496.2 L1133.0 496.2 L1134.0 496.1 L1135.0 496.1 L1136.0 496.0 L1137.0 495.9 L1138.0 495.8 L1139.0 495.7 L1140.0 495.6 L1141.0 495.5 L1142.0 495.4 L1143.0 495.3 L1144.0 495.2 L1145.0 495.1 L1146.0 494.9 L1147.0 494.8 L1148.0 494.7 L1149.0 494.6 L1150.0 494.4 L1151.0 494.3 L1152.0 494.1 L1153.0 494.0 L1154.0 493.8 L1155.0 493.7 L1156.0 493.5 L1157.0 493.3 L1158.0 493.2 L1159.0 493.0 L1160.0 492.9 L1161.0 492.7 L1162.0 492.5 L1163.0 492.4 L1164.0 492.3 L1165.0 492.1 L1166.0 492.0 L1167.0 491.9 L1168.0 491.8 L1169.0 491.7 L1170.0 491.6 L1171.0 491.5 L1172.0 491.4 L1173.0 491.3 L1174.0 491.2 L1175.0 491.1 L1176.0 491.0 L1177.0 490.9 L1178.0 490.8 L1179.0 490.7 L1180.0 490.6 L1181.0 490.5 L1182.0 490.4 L1183.0 490.3 L1184.0 490.3 L1185.0 490.2 L1186.0 490.1 L1187.0 490.0 L1188.0 489.9 L1189.0 489.8 L1190.0 489.7 L1191.0 489.6 L1192.0 489.5"/>
<path d="M98.0 1011.8 L99.0 1011.5 L100.0 1011.0 L101.0 1010.5 L102.0 1010.1 L103.0 1009.6 L104.0 1009.1 L105.0 1008.6 L106.0 1008.0 L107.0 1007.4 L108.0 1006.8 L109.0 1006.1 L110.0 1005.3 L111.0 1004.5 L112.0 1003.5 L113.0 1002.5 L114.0 1001.3 L115.0 1000.0 L116.0 998.1 L117.0 995.7 L118.0 992.4 L119.0 988.4 L120.0 984.0 L121.0 979.2 L122.0 974.3 L123.0 969.0 L124.0 963.6 L125.0 957.9 L126.0 952.1 L127.0 946.0 L128.0 939.4 L129.0 932.1 L130.0 922.9 L131.0 911.4 L132.0 902.4 L133.0 896.3 L134.0 891.0 L135.0 886.3 L136.0 881.9 L137.0 877.8 L138.0 874.0 L139.0 871.1 L140.0 868.9 L141.0 867.2 L142.0 866.1 L143.0 865.5 L144.0 865.3 L145.0 865.5 L146.0 866.1 L147.0 867.2 L148.0 869.0 L149.0 871.5 L150.0 874.9 L151.0 879.3 L152.0 884.1 L153.0 889.3 L154.0 894.8 L155.0 900.3 L156.0 905.9 L157.0 911.9 L158.0 917.9 L159.0 924.0 L160.0 929.7 L161.0 935.2 L162.0 940.5 L163.0 945.5 L164.0 950.0 L165.0 954.1 L166.0 957.7 L167.0 960.9 L168.0 963.5 L169.0 965.5 L170.0 966.9 L171.0 967.9 L172.0 968.7 L173.0 969.2 L174.0 969.5 L175.0 969.4 L176.0 969.1 L177.0 968.5 L178.0 967.8 L179.0 967.0 L180.0 966.1 L181.0 965.0 L182.0 963.6 L183.0 962.0 L184.0 960.0 L185.0 957.9 L186.0 955.8 L187.0 953.7 L188.0 951.4 L189.0 948.9 L190.0 946.2 L191.0 943.3 L192.0 940.0 L193.0 936.4 L194.0 932.4 L195.0 928.0 L196.0 923.5 L197.0 918.6 L198.0 913.5 L199.0 908.0 L200.0 902.3 L201.0 896.4 L202.0 890.1 L203.0 883.6 L204.0 876.8 L205.0 869.5 L206.0 861.8 L207.0 853.9 L208.0 845.7 L209.0 837.3 L210.0 828.8 L211.0 820.4 L212.0 811.9 L213.0 803.6 L214.0 795.2 L215.0 786.6 L216.0 777.9 L217.0 769.1 L218.0 760.3 L219.0 751.6 L220.0 743.1 L221.0 734.8 L222.0 726.8 L223.0 719.3 L224.0 713.3 L225.0 708.8 L226.0 704.7 L227.0 700.0 L228.0 694.4 L229.0 688.4 L230.0 682.3 L231.0 676.3 L232.0 670.7 L233.0 665.5 L234.0 661.2 L235.0 657.7 L236.0 655.0 L237.0 652.9 L238.0 651.1 L239.0 649.8 L240.0 649.0 L241.0 648.7 L242.0 649.3 L243.0 650.5 L244.0 652.1 L245.0 654.0 L246.0 656.2 L247.0 659.3 L248.0 663.4 L249.0 668.1 L250.0 673.2 L251.0 678.5 L252.0 683.7 L253.0 688.7 L254.0 693.7 L255.0 698.8 L256.0 703.8 L257.0 708.8 L258.0 713.8 L259.0 718.8 L260.0 723.8 L261.0 728.8 L262.0 733.8 L263.0 738.8 L264.0 743.8 L265.0 748.9 L266.0 753.9 L267.0 758.8 L268.0 763.7 L269.0 768.7 L270.0 773.6 L271.0 778.2 L272.0 782.3 L273.0 785.6 L274.0 788.5 L275.0 791.2 L276.0 793.6 L277.0 795.9 L278.0 797.9 L279.0 799.8 L280.0 801.6 L281.0 803.3 L282.0 804.9 L283.0 806.5 L284.0 808.0 L285.0 809.5 L286.0 811.0 L287.0 812.4 L288.0 813.8 L289.0 815.1 L290.0 816.4 L291.0 817.7 L292.0 819.0 L293.0 820.2 L294.0 821.5 L295.0 822.7 L296.0 823.9 L297.0 825.0 L298.0 826.2 L299.0 827.3 L300.0 828.5 L301.0 829.6 L302.0 830.6 L303.0 831.7 L304.0 832.7 L305.0 833.6 L306.0 834.6 L307.0 835.4 L308.0 836.3 L309.0 837.1 L310.0 837.8 L311.0 838.6 L312.0 839.3 L313.0 840.0 L314.0 840.7 L315.0 841.3 L316.0 842.0 L317.0 842.6 L318.0 843.1 L319.0 843.6 L320.0 844.0 L321.0 844.3 L322.0 844.5 L323.0 844.6 L324.0 844.6 L325.0 844.5 L326.0 844.2 L327.0 843.9 L328.0 843.5 L329.0 843.0 L330.0 842.5 L331.0 841.9 L332.0 841.2 L333.0 840.4 L334.0 839.5 L335.0 838.4 L336.0 837.3 L337.0 835.9 L338.0 834.5 L339.0 832.8 L340.0 831.0 L341.0 829.0 L342.0 826.8 L343.0 824.5 L344.0 821.9 L345.0 819.3 L346.0 816.4 L347.0 813.5 L348.0 810.4 L349.0 807.1 L350.0 803.7 L351.0 800.2 L352.0 796.6 L353.0 792.9 L354.0 789.0 L355.0 785.1 L356.0 781.0 L357.0 776.7 L358.0 772.0 L359.0 767.0 L360.0 761.6 L361.0 756.0 L362.0 750.3 L363.0 744.6 L364.0 738.9 L365.0 733.3 L366.0 727.9 L367.0 722.7 L368.0 718.0 L369.0 713.6 L370.0 709.3 L371.0 705.2 L372.0 701.2 L373.0 697.4 L374.0 693.7 L375.0 690.1 L376.0 686.7 L377.0 683.5 L378.0 680.5 L379.0 677.6 L380.0 675.0 L381.0 672.6 L382.0 670.4 L383.0 668.7 L384.0 667.2 L385.0 666.0 L386.0 665.2 L387.0 664.6 L388.0 664.3 L389.0 664.3 L390.0 664.5 L391.0 664.9 L392.0 665.4 L393.0 666.2 L394.0 667.1 L395.0 668.1 L396.0 669.3 L397.0 670.7 L398.0 672.2 L399.0 673.8 L400.0 675.6 L401.0 677.5 L402.0 679.6 L403.0 681.9 L404.0 684.5 L405.0 687.4 L406.0 690.4 L407.0 693.6 L408.0 696.9 L409.0 700.3 L410.0 703.6 L411.0 706.9 L412.0 710.1 L413.0 713.1 L414.0 715.9 L415.0 718.6 L416.0 721.2 L417.0 723.8 L418.0 726.4 L419.0 729.0 L420.0 731.5 L421.0 734.0 L422.0 736.4 L423.0 738.8 L424.0 741.1 L425.0 743.4 L426.0 745.6 L427.0 747.8 L428.0 749.9 L429.0 752.0 L430.0 753.9 L431.0 755.7 L432.0 757.2 L433.0 758.5 L434.0 759.8 L435.0 761.0 L436.0 762.2 L437.0 763.4 L438.0 764.7 L439.0 766.2 L440.0 767.9 L441.0 769.8 L442.0 772.0 L443.0 774.4 L444.0 777.0 L445.0 779.8 L446.0 782.7 L447.0 785.7 L448.0 788.8 L449.0 792.0 L450.0 795.2 L451.0 798.5 L452.0 801.8 L453.0 805.1 L454.0 808.4 L455.0 811.7 L456.0 815.2 L457.0 818.9 L458.0 822.6 L459.0 826.3 L460.0 830.1 L461.0 833.8 L462.0 837.4 L463.0 840.9 L464.0 844.3 L465.0 847.4 L466.0 850.4 L467.0 853.2 L468.0 855.9 L469.0 858.4 L470.0 860.9 L471.0 863.3 L472.0 865.6 L473.0 867.8 L474.0 869.9 L475.0 871.9 L476.0 873.8 L477.0 875.7 L478.0 877.4 L479.0 879.1 L480.0 880.6 L481.0 881.8 L482.0 882.7 L483.0 883.5 L484.0 884.2 L485.0 884.7 L486.0 885.2 L487.0 885.7 L488.0 886.3 L489.0 886.9 L490.0 887.5 L491.0 888.0 L492.0 888.6 L493.0 889.1 L494.0 889.7 L495.0 890.2 L496.0 890.7 L497.0 891.2 L498.0 891.7 L499.0 892.2 L500.0 892.7 L501.0 893.1 L502.0 893.6 L503.0 894.0 L504.0 894.4 L505.0 894.8 L506.0 895.2 L507.0 895.6 L508.0 896.0 L509.0 896.4 L510.0 896.7 L511.0 897.1 L512.0 897.4 L513.0 897.7 L514.0 898.0 L515.0 898.3 L516.0 898.6 L517.0 898.9 L518.0 899.2 L519.0 899.4 L520.0 899.7 L521.0 899.9 L522.0 900.2 L523.0 900.4 L524.0 900.6 L525.0 900.8 L526.0 901.1 L527.0 901.3 L528.0 901.5 L529.0 901.6 L530.0 901.8 L531.0 902.0 L532.0 902.1 L533.0 902.3 L534.0 902.4 L535.0 902.6 L536.0 902.7 L537.0 902.8 L538.0 902.9 L539.0 903.0 L540.0 903.1 L541.0 903.2 L542.0 903.3 L543.0 903.4 L544.0 903.4 L545.0 903.5 L546.0 903.6 L547.0 903.6 L548.0 903.6 L549.0 903.7 L550.0 903.7 L551.0 903.7 L552.0 903.7 L553.0 903.7 L554.0 903.7 L555.0 903.6 L556.0 903.6 L557.0 903.5 L558.0 903.5 L559.0 903.4 L560.0 903.3 L561.0 903.2 L562.0 903.1 L563.0 902.9 L564.0 902.8 L565.0 902.7 L566.0 902.5 L567.0 902.3 L568.0 902.2 L569.0 902.0 L570.0 901.8 L571.0 901.5 L572.0 901.3 L573.0 901.1 L574.0 900.8 L575.0 900.5 L576.0 900.3 L577.0 900.0 L578.0 899.6 L579.0 899.3 L580.0 898.9 L581.0 898.6 L582.0 898.2 L583.0 897.8 L584.0 897.3 L585.0 896.9 L586.0 896.5 L587.0 896.0 L588.0 895.5 L589.0 895.0 L590.0 894.6 L591.0 894.1 L592.0 893.6 L593.0 893.1 L594.0 892.5 L595.0 892.0 L596.0 891.5 L597.0 891.0 L598.0 890.4 L599.0 889.8 L600.0 889.2 L601.0 888.6 L602.0 888.0 L603.0 887.3 L604.0 886.7 L605.0 886.1 L606.0 885.4 L607.0 884.8 L608.0 884.2 L609.0 883.6 L610.0 883.0 L611.0 882.4 L612.0 881.8 L613.0 881.3 L614.0 880.8 L615.0 880.3 L616.0 879.8 L617.0 879.3 L618.0 878.8 L619.0 878.3 L620.0 877.9 L621.0 877.4 L622.0 877.0 L623.0 876.5 L624.0 876.1 L625.0 875.7 L626.0 875.3 L627.0 875.0 L628.0 874.7 L629.0 874.4 L630.0 874.1 L631.0 873.8 L632.0 873.6 L633.0 873.5 L634.0 873.5 L635.0 873.6 L636.0 873.8 L637.0 874.0 L638.0 874.3 L639.0 874.7 L640.0 875.2 L641.0 875.7 L642.0 876.3 L643.0 877.0 L644.0 877.7 L645.0 878.6 L646.0 879.5 L647.0 880.4 L648.0 881.3 L649.0 882.1 L650.0 882.9 L651.0 883.7 L652.0 884.4 L653.0 885.0 L654.0 885.7 L655.0 886.4 L656.0 887.1 L657.0 887.9 L658.0 888.8 L659.0 889.8 L660.0 891.0 L661.0 892.3 L662.0 893.7 L663.0 895.3 L664.0 896.9 L665.0 898.5 L666.0 900.2 L667.0 902.0 L668.0 903.7 L669.0 905.4 L670.0 907.1 L671.0 908.7 L672.0 910.2 L673.0 911.6 L674.0 913.0 L675.0 914.3 L676.0 915.6 L677.0 916.8 L678.0 918.0 L679.0 919.2 L680.0 920.3 L681.0 921.4 L682.0 922.6 L683.0 923.7 L684.0 924.9 L685.0 926.0 L686.0 927.2 L687.0 928.5 L688.0 929.7 L689.0 930.9 L690.0 932.1 L691.0 933.4 L692.0 934.6 L693.0 935.8 L694.0 937.0 L695.0 938.2 L696.0 939.4 L697.0 940.6 L698.0 941.7 L699.0 942.8 L700.0 943.9 L701.0 945.1 L702.0 946.2 L703.0 947.3 L704.0 948.4 L705.0 949.4 L706.0 950.5 L707.0 951.5 L708.0 952.4 L709.0 953.3 L710.0 954.2 L711.0 955.0 L712.0 955.7 L713.0 956.3 L714.0 956.9 L715.0 957.4 L716.0 957.8 L717.0 958.2 L718.0 958.6 L719.0 958.9 L720.0 959.3 L721.0 959.5 L722.0 959.8 L723.0 960.1 L724.0 960.4 L725.0 960.6 L726.0 960.9 L727.0 961.1 L728.0 961.3 L729.0 961.5 L730.0 961.7 L731.0 961.8 L732.0 962.0 L733.0 962.1 L734.0 962.2 L735.0 962.3 L736.0 962.4 L737.0 962.5 L738.0 962.5 L739.0 962.6 L740.0 962.7 L741.0 962.7 L742.0 962.7 L743.0 962.7 L744.0 962.7 L745.0 962.7 L746.0 962.7 L747.0 962.6 L748.0 962.5 L749.0 962.4 L750.0 962.2 L751.0 962.0 L752.0 961.8 L753.0 961.5 L754.0 961.2 L755.0 960.9 L756.0 960.6 L757.0 960.2 L758.0 959.9 L759.0 959.5 L760.0 959.1 L761.0 958.7 L762.0 958.3 L763.0 957.9 L764.0 957.5 L765.0 957.1 L766.0 956.7 L767.0 956.3 L768.0 955.9 L769.0 955.4 L770.0 954.9 L771.0 954.5 L772.0 954.0 L773.0 953.5 L774.0 953.0 L775.0 952.5 L776.0 952.0 L777.0 951.5 L778.0 951.0 L779.0 950.4 L780.0 949.9 L781.0 949.3 L782.0 948.7 L783.0 948.2 L784.0 947.6 L785.0 947.0 L786.0 946.4 L787.0 945.8 L788.0 945.1 L789.0 944.5 L790.0 943.9 L791.0 943.3 L792.0 942.6 L793.0 942.0 L794.0 941.4 L795.0 940.7 L796.0 940.1 L797.0 939.5 L798.0 938.9 L799.0 938.2 L800.0 937.6 L801.0 936.9 L802.0 936.2 L803.0 935.5 L804.0 934.8 L805.0 934.0 L806.0 933.3 L807.0 932.5 L808.0 931.6 L809.0 930.8 L810.0 929.9 L811.0 929.1 L812.0 928.2 L813.0 927.3 L814.0 926.3 L815.0 925.4 L816.0 924.4 L817.0 923.4 L818.0 922.4 L819.0 921.4 L820.0 920.3 L821.0 919.2 L822.0 918.2 L823.0 917.0 L824.0 915.9 L825.0 914.7 L826.0 913.6 L827.0 912.4 L828.0 911.1 L829.0 909.9 L830.0 908.7 L831.0 907.4 L832.0 906.1 L833.0 904.8 L834.0 903.5 L835.0 902.2 L836.0 900.8 L837.0 899.5 L838.0 898.1 L839.0 896.7 L840.0 895.2 L841.0 893.7 L842.0 892.1 L843.0 890.4 L844.0 888.5 L845.0 886.6 L846.0 884.5 L847.0 882.4 L848.0 880.2 L849.0 877.9 L850.0 875.7 L851.0 873.4 L852.0 871.1 L853.0 869.0 L854.0 866.8 L855.0 864.7 L856.0 862.6 L857.0 860.5 L858.0 858.4 L859.0 856.3 L860.0 854.3 L861.0 852.2 L862.0 850.2 L863.0 848.2 L864.0 846.2 L865.0 844.2 L866.0 842.2 L867.0 840.3 L868.0 838.3 L869.0 836.4 L870.0 834.5 L871.0 832.7 L872.0 830.9 L873.0 829.1 L874.0 827.4 L875.0 825.7 L876.0 824.1 L877.0 822.5 L878.0 821.0 L879.0 819.5 L880.0 818.0 L881.0 816.5 L882.0 815.0 L883.0 813.5 L884.0 812.1 L885.0 810.7 L886.0 809.2 L887.0 807.8 L888.0 806.5 L889.0 805.1 L890.0 803.8 L891.0 802.4 L892.0 801.1 L893.0 799.9 L894.0 798.7 L895.0 797.5 L896.0 796.4 L897.0 795.3 L898.0 794.1 L899.0 793.0 L900.0 791.9 L901.0 790.8 L902.0 789.7 L903.0 788.5 L904.0 787.3 L905.0 786.0 L906.0 784.6 L907.0 783.2 L908.0 781.7 L909.0 780.2 L910.0 778.5 L911.0 776.8 L912.0 775.0 L913.0 773.1 L914.0 771.0 L915.0 768.8 L916.0 766.6 L917.0 764.3 L918.0 761.9 L919.0 759.6 L920.0 757.2 L921.0 754.8 L922.0 752.4 L923.0 749.9 L924.0 747.3 L925.0 744.6 L926.0 741.8 L927.0 738.9 L928.0 736.0 L929.0 732.8 L930.0 729.6 L931.0 726.2 L932.0 722.6 L933.0 718.8 L934.0 714.9 L935.0 711.2 L936.0 707.5 L937.0 703.8 L938.0 700.0 L939.0 696.2 L940.0 692.2 L941.0 688.3 L942.0 684.1 L943.0 679.5 L944.0 674.3 L945.0 668.7 L946.0 662.7 L947.0 656.6 L948.0 649.8 L949.0 642.7 L950.0 636.3 L951.0 631.4 L952.0 627.4 L953.0 623.9 L954.0 620.6 L955.0 617.3 L956.0 613.9 L957.0 610.6 L958.0 607.5 L959.0 604.7 L960.0 602.3 L961.0 600.3 L962.0 598.4 L963.0 596.6 L964.0 595.0 L965.0 593.7 L966.0 592.7 L967.0 592.2 L968.0 592.0 L969.0 592.4 L970.0 593.4 L971.0 594.8 L972.0 596.6 L973.0 598.7 L974.0 601.0 L975.0 603.5 L976.0 606.8 L977.0 610.6 L978.0 614.8 L979.0 619.2 L980.0 623.9 L981.0 629.0 L982.0 634.7 L983.0 641.0 L984.0 647.7 L985.0 654.6 L986.0 661.2 L987.0 667.6 L988.0 674.3 L989.0 681.6 L990.0 689.9 L991.0 698.1 L992.0 705.3 L993.0 712.1 L994.0 718.7 L995.0 725.3 L996.0 731.9 L997.0 738.6 L998.0 745.2 L999.0 751.9 L1000.0 758.5 L1001.0 765.2 L1002.0 772.0 L1003.0 778.8 L1004.0 785.5 L1005.0 791.9 L1006.0 798.0 L1007.0 803.8 L1008.0 809.4 L1009.0 814.9 L1010.0 820.5 L1011.0 826.1 L1012.0 832.0 L1013.0 838.0 L1014.0 843.9 L1015.0 849.6 L1016.0 855.0 L1017.0 859.7 L1018.0 863.4 L1019.0 867.1 L1020.0 871.4 L1021.0 876.6 L1022.0 882.1 L1023.0 887.1 L1024.0 891.1 L1025.0 894.7 L1026.0 898.0 L1027.0 901.1 L1028.0 904.2 L1029.0 907.2 L1030.0 910.3 L1031.0 913.4 L1032.0 916.4 L1033.0 919.4 L1034.0 922.2 L1035.0 924.8 L1036.0 927.2 L1037.0 929.4 L1038.0 931.4 L1039.0 933.4 L1040.0 935.2 L1041.0 936.9 L1042.0 938.6 L1043.0 940.2 L1044.0 941.9 L1045.0 943.5 L1046.0 945.0 L1047.0 946.6 L1048.0 948.1 L1049.0 949.5 L1050.0 951.0 L1051.0 952.4 L1052.0 953.7 L1053.0 955.1 L1054.0 956.4 L1055.0 957.7 L1056.0 959.0 L1057.0 960.3 L1058.0 961.5 L1059.0 962.6 L1060.0 963.8 L1061.0 964.8 L1062.0 965.8 L1063.0 966.7 L1064.0 967.6 L1065.0 968.5 L1066.0 969.3 L1067.0 970.1 L1068.0 970.8 L1069.0 971.5 L1070.0 972.2 L1071.0 972.8 L1072.0 973.4 L1073.0 974.0 L1074.0 974.5 L1075.0 975.0 L1076.0 975.5 L1077.0 975.9 L1078.0 976.2 L1079.0 976.6 L1080.0 976.9 L1081.0 977.2 L1082.0 977.5 L1083.0 977.8 L1084.0 978.2 L1085.0 978.5 L1086.0 978.8 L1087.0 979.2 L1088.0 979.5 L1089.0 979.9 L1090.0 980.2 L1091.0 980.6 L1092.0 980.9 L1093.0 981.3 L1094.0 981.6 L1095.0 981.9 L1096.0 982.3 L1097.0 982.6 L1098.0 982.9 L1099.0 983.3 L1100.0 983.6 L1101.0 983.9 L1102.0 984.3 L1103.0 984.6 L1104.0 984.9 L1105.0 985.2 L1106.0 985.6 L1107.0 985.9 L1108.0 986.2 L1109.0 986.5 L1110.0 986.8 L1111.0 987.1 L1112.0 987.5 L1113.0 987.8 L1114.0 988.1 L1115.0 988.4 L1116.0 988.7 L1117.0 989.0 L1118.0 989.3 L1119.0 989.6 L1120.0 989.9 L1121.0 990.2 L1122.0 990.4 L1123.0 990.7 L1124.0 991.0 L1125.0 991.3 L1126.0 991.5 L1127.0 991.8 L1128.0 992.0 L1129.0 992.2 L1130.0 992.5 L1131.0 992.7 L1132.0 992.9 L1133.0 993.1 L1134.0 993.3 L1135.0 993.5 L1136.0 993.7 L1137.0 993.9 L1138.0 994.1 L1139.0 994.3 L1140.0 994.6 L1141.0 994.8 L1142.0 995.0 L1143.0 995.2 L1143.5 995.3"/>
</g>
</g>
<line x1="308.5" y1="369.5" x2="300.6" y2="424" stroke="#00ff00" stroke-width="2.6"/>
<path d="M291.5 418 L307 420.5 L297.8 442 Z" fill="#00ff00"/>
<rect x="95.2" y="8.3" width="1097.3" height="1098.4" fill="none" stroke="#000" stroke-width="3.6"/>
<line x1="234.3" y1="1106" x2="234.3" y2="1117.6" stroke="#000" stroke-width="3.5" stroke-linecap="round"/>
<line x1="408.6" y1="1106" x2="408.6" y2="1127.6" stroke="#000" stroke-width="3.5" stroke-linecap="round"/>
<line x1="582.9" y1="1106" x2="582.9" y2="1117.6" stroke="#000" stroke-width="3.5" stroke-linecap="round"/>
<line x1="757.1" y1="1106" x2="757.1" y2="1127.6" stroke="#000" stroke-width="3.5" stroke-linecap="round"/>
<line x1="931.4" y1="1106" x2="931.4" y2="1117.6" stroke="#000" stroke-width="3.5" stroke-linecap="round"/>
<line x1="1105.6" y1="1106" x2="1105.6" y2="1127.6" stroke="#000" stroke-width="3.5" stroke-linecap="round"/>
<g font-family="Liberation Sans, sans-serif" font-size="67" text-anchor="middle" fill="#000">
<text x="407.5" y="1193.5">400</text>
<text x="756.0" y="1193.5">600</text>
<text x="1104.5" y="1193.5">800</text>
</g>
<g font-family="Liberation Sans, sans-serif" fill="#000">
<text x="356.5" y="1262" font-size="66">Wavenumber (cm</text>
<rect x="875.6" y="1215.6" width="12.8" height="3.6"/>
<path d="M898 1201.5 L901.4 1201.5 L901.4 1225.8 L898 1225.8 Z M898.2 1201.5 Q896.5 1205.5 893.6 1207.2 L893.6 1210.3 Q896.6 1209 898.2 1206.3 Z"/>
<text x="911.9" y="1262" font-size="66">)</text>
<text transform="translate(52.7 787.5) rotate(-90)" font-size="66">Intensity (a.u.)</text>
</g>
<g font-family="Liberation Serif, serif" font-size="67" fill="#000">
<text transform="translate(182.0 449.5) rotate(-90)">268</text>
<text transform="translate(265.1 199.9) rotate(-90)">304</text>
<text transform="translate(331.8 370.1) rotate(-90)">331</text>
<text transform="translate(403.2 357.5) rotate(-90)">382</text>
<text transform="translate(465.4 390.9) rotate(-90)">419</text>
<text transform="translate(590.4 421.7) rotate(-90)">493</text>
<text transform="translate(674.0 426.8) rotate(-90)">539</text>
<text transform="translate(783.3 473.7) rotate(-90)">603</text>
<text transform="translate(913.1 271.0) rotate(-90)">688</text>
<text transform="translate(1050.3 135.5) rotate(-90)">723</text>
<text transform="translate(163.6 848.7) rotate(-90)">248</text>
<text transform="translate(207.4 665.3) rotate(-90)">302</text>
<text transform="translate(326.9 768.3) rotate(-90)">338</text>
<text transform="translate(408.9 648.2) rotate(-90)">388</text>
<text transform="translate(479.4 738.3) rotate(-90)">421</text>
<text transform="translate(551.9 866.3) rotate(-90)">466</text>
<text transform="translate(669.0 836.5) rotate(-90)">534</text>
<text transform="translate(889.4 758.1) rotate(-90)">684</text>
<text transform="translate(1049.7 647.6) rotate(-90)">724</text>
<text x="1095.9" y="460.5">(a)</text>
<text x="1095.5" y="920.0">(b)</text>
</g>
</svg>
</body></html>
